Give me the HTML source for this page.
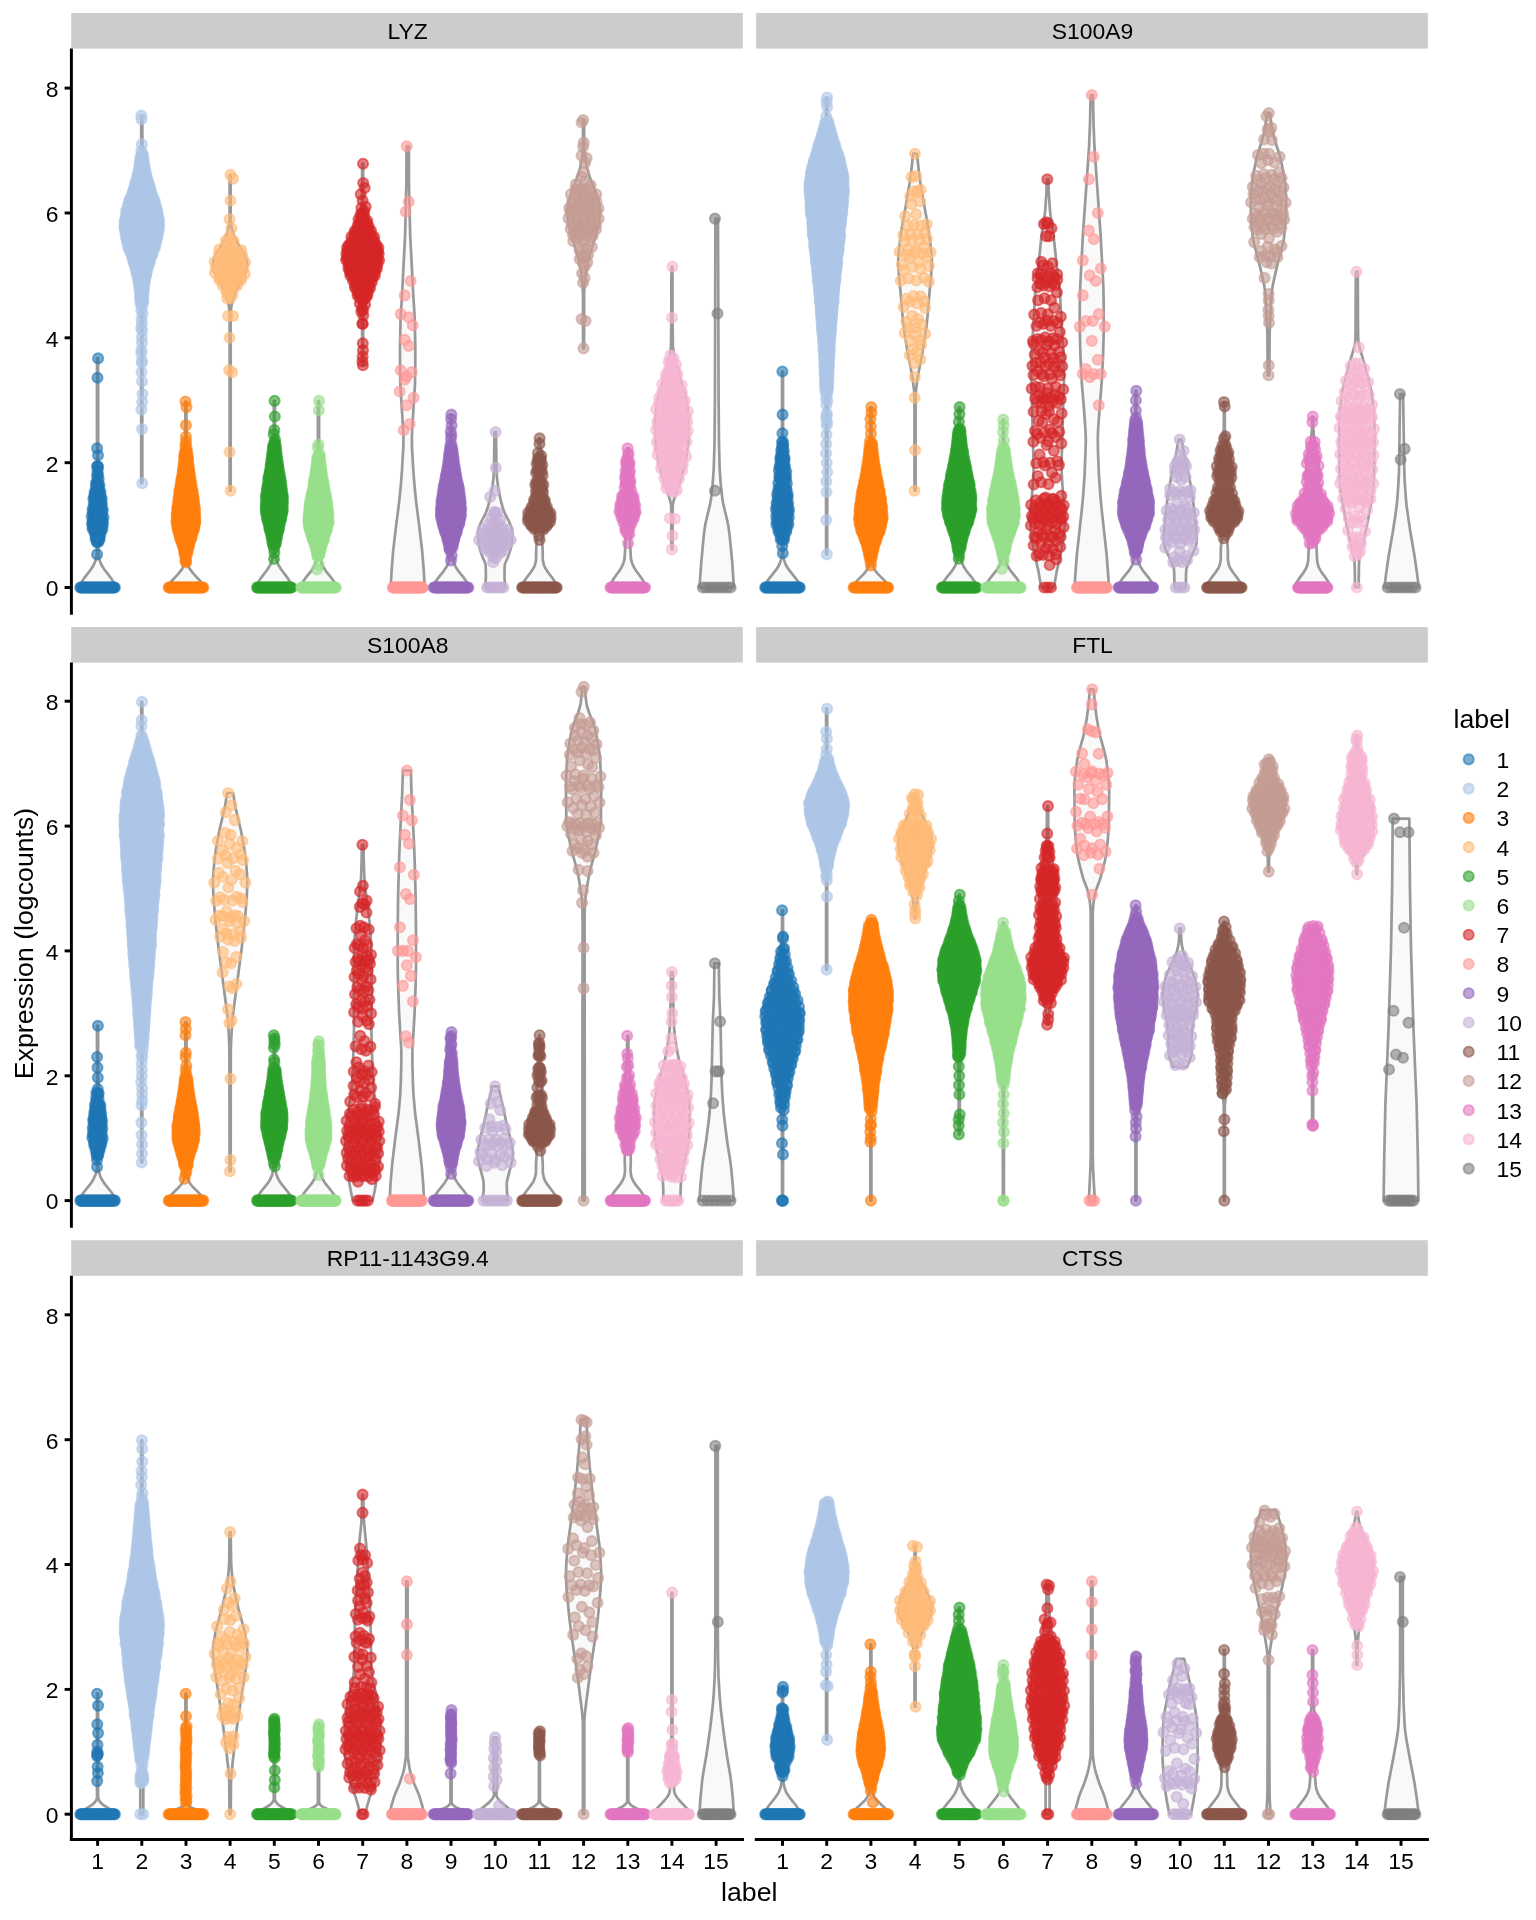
<!DOCTYPE html>
<html lang="en"><head><meta charset="utf-8"><title>Expression (logcounts) by label</title>
<style>
html,body{margin:0;padding:0;background:#fff}
svg{display:block;will-change:transform}
text{font-family:"Liberation Sans",sans-serif;fill:#000}
.t{font-size:22.9px}
.T{font-size:26.7px}
.v{fill:#F9F9F9;stroke:#999;stroke-width:2.7;stroke-linejoin:round}
.a{stroke:#000;stroke-width:2.95;fill:none}
.s{fill:#CCC}
.p{fill:none;stroke:none}
.p1{marker:url(#m1)}
.p2{marker:url(#m2)}
.p3{marker:url(#m3)}
.p4{marker:url(#m4)}
.p5{marker:url(#m5)}
.p6{marker:url(#m6)}
.p7{marker:url(#m7)}
.p8{marker:url(#m8)}
.p9{marker:url(#m9)}
.p10{marker:url(#m10)}
.p11{marker:url(#m11)}
.p12{marker:url(#m12)}
.p13{marker:url(#m13)}
.p14{marker:url(#m14)}
.p15{marker:url(#m15)}
</style></head><body>
<svg width="1536" height="1920" viewBox="0 0 1536 1920">
<defs>
<marker id="m1" markerUnits="userSpaceOnUse" markerWidth="16" markerHeight="16" refX="8" refY="8" overflow="visible"><circle cx="8" cy="8" r="5.1" fill="#1F77B4" fill-opacity=".6" stroke="#1F77B4" stroke-opacity=".6" stroke-width="1.9"/></marker>
<marker id="m2" markerUnits="userSpaceOnUse" markerWidth="16" markerHeight="16" refX="8" refY="8" overflow="visible"><circle cx="8" cy="8" r="5.1" fill="#AEC7E8" fill-opacity=".6" stroke="#AEC7E8" stroke-opacity=".6" stroke-width="1.9"/></marker>
<marker id="m3" markerUnits="userSpaceOnUse" markerWidth="16" markerHeight="16" refX="8" refY="8" overflow="visible"><circle cx="8" cy="8" r="5.1" fill="#FF7F0E" fill-opacity=".6" stroke="#FF7F0E" stroke-opacity=".6" stroke-width="1.9"/></marker>
<marker id="m4" markerUnits="userSpaceOnUse" markerWidth="16" markerHeight="16" refX="8" refY="8" overflow="visible"><circle cx="8" cy="8" r="5.1" fill="#FFBB78" fill-opacity=".6" stroke="#FFBB78" stroke-opacity=".6" stroke-width="1.9"/></marker>
<marker id="m5" markerUnits="userSpaceOnUse" markerWidth="16" markerHeight="16" refX="8" refY="8" overflow="visible"><circle cx="8" cy="8" r="5.1" fill="#2CA02C" fill-opacity=".6" stroke="#2CA02C" stroke-opacity=".6" stroke-width="1.9"/></marker>
<marker id="m6" markerUnits="userSpaceOnUse" markerWidth="16" markerHeight="16" refX="8" refY="8" overflow="visible"><circle cx="8" cy="8" r="5.1" fill="#98DF8A" fill-opacity=".6" stroke="#98DF8A" stroke-opacity=".6" stroke-width="1.9"/></marker>
<marker id="m7" markerUnits="userSpaceOnUse" markerWidth="16" markerHeight="16" refX="8" refY="8" overflow="visible"><circle cx="8" cy="8" r="5.1" fill="#D62728" fill-opacity=".6" stroke="#D62728" stroke-opacity=".6" stroke-width="1.9"/></marker>
<marker id="m8" markerUnits="userSpaceOnUse" markerWidth="16" markerHeight="16" refX="8" refY="8" overflow="visible"><circle cx="8" cy="8" r="5.1" fill="#FF9896" fill-opacity=".6" stroke="#FF9896" stroke-opacity=".6" stroke-width="1.9"/></marker>
<marker id="m9" markerUnits="userSpaceOnUse" markerWidth="16" markerHeight="16" refX="8" refY="8" overflow="visible"><circle cx="8" cy="8" r="5.1" fill="#9467BD" fill-opacity=".6" stroke="#9467BD" stroke-opacity=".6" stroke-width="1.9"/></marker>
<marker id="m10" markerUnits="userSpaceOnUse" markerWidth="16" markerHeight="16" refX="8" refY="8" overflow="visible"><circle cx="8" cy="8" r="5.1" fill="#C5B0D5" fill-opacity=".6" stroke="#C5B0D5" stroke-opacity=".6" stroke-width="1.9"/></marker>
<marker id="m11" markerUnits="userSpaceOnUse" markerWidth="16" markerHeight="16" refX="8" refY="8" overflow="visible"><circle cx="8" cy="8" r="5.1" fill="#8C564B" fill-opacity=".6" stroke="#8C564B" stroke-opacity=".6" stroke-width="1.9"/></marker>
<marker id="m12" markerUnits="userSpaceOnUse" markerWidth="16" markerHeight="16" refX="8" refY="8" overflow="visible"><circle cx="8" cy="8" r="5.1" fill="#C49C94" fill-opacity=".6" stroke="#C49C94" stroke-opacity=".6" stroke-width="1.9"/></marker>
<marker id="m13" markerUnits="userSpaceOnUse" markerWidth="16" markerHeight="16" refX="8" refY="8" overflow="visible"><circle cx="8" cy="8" r="5.1" fill="#E377C2" fill-opacity=".6" stroke="#E377C2" stroke-opacity=".6" stroke-width="1.9"/></marker>
<marker id="m14" markerUnits="userSpaceOnUse" markerWidth="16" markerHeight="16" refX="8" refY="8" overflow="visible"><circle cx="8" cy="8" r="5.1" fill="#F7B6D2" fill-opacity=".6" stroke="#F7B6D2" stroke-opacity=".6" stroke-width="1.9"/></marker>
<marker id="m15" markerUnits="userSpaceOnUse" markerWidth="16" markerHeight="16" refX="8" refY="8" overflow="visible"><circle cx="8" cy="8" r="5.1" fill="#7F7F7F" fill-opacity=".6" stroke="#7F7F7F" stroke-opacity=".6" stroke-width="1.9"/></marker>
</defs>
<rect width="1536" height="1920" fill="#fff"/>
<rect class="s" x="71.2" y="13" width="671.6" height="35.6"/>
<g class="t"><text transform="matrix(1,0,0,1.0,407.7,38.8)" text-anchor="middle">LYZ</text></g>
<rect class="s" x="756.1" y="13" width="671.7" height="35.6"/>
<g class="t"><text transform="matrix(1,0,0,1.0,1092.5,38.8)" text-anchor="middle">S100A9</text></g>
<rect class="s" x="71.2" y="627" width="671.6" height="35.6"/>
<g class="t"><text transform="matrix(1,0,0,1.0,407.7,652.8)" text-anchor="middle">S100A8</text></g>
<rect class="s" x="756.1" y="627" width="671.7" height="35.6"/>
<g class="t"><text transform="matrix(1,0,0,1.0,1092.5,652.8)" text-anchor="middle">FTL</text></g>
<rect class="s" x="71.2" y="1240.2" width="671.6" height="35.6"/>
<g class="t"><text transform="matrix(1,0,0,1.0,407.7,1266)" text-anchor="middle">RP11-1143G9.4</text></g>
<rect class="s" x="756.1" y="1240.2" width="671.7" height="35.6"/>
<g class="t"><text transform="matrix(1,0,0,1.0,1092.5,1266)" text-anchor="middle">CTSS</text></g>
<g class="v">
<path d="M80.3,587.5 80.8,584.5 82.1,581.4 84,578.4 91,569.3 93.8,564.7 95.6,560.2 96.3,557.2 96.7,554.1 96.9,549.6 96.3,543.5 95.4,539 92,526.8 91.5,523.8 91.3,520.7 91.5,514.7 92,508.6 95.6,482.8 96.4,475.2 97,466.1 97,358.4 98.1,358.4 98.2,466.1 98.8,475.2 99.6,482.8 103.2,508.6 103.7,514.7 103.9,520.7 103.7,523.8 103.2,526.8 99.8,539 98.9,543.5 98.3,549.6 98.5,554.1 98.9,557.2 99.6,560.2 101.4,564.7 104.2,569.3 111.2,578.4 113.1,581.4 114.4,584.5 114.9,587.5Z"/>
<path d="M141.2,483.3 141.2,341.6 140.8,314.5 140.1,297.9 139.1,287.4 137.4,276.8 134.6,266.3 128.5,248.2 126.2,240.7 124.7,233.1 124.2,228.6 124.1,225.6 124.2,222.6 124.7,218.1 126.2,210.5 128.5,203 133.2,189.4 135.6,181.9 138,172.9 139.4,165.3 140.6,156.3 141.2,147.2 141.2,115.6 142.3,115.6 142.4,147.2 143,156.3 144.1,165.3 145.6,172.9 147.9,181.9 150.3,189.4 155.1,203 157.4,210.5 158.9,218.1 159.3,222.6 159.4,225.6 159.3,228.6 158.9,233.1 157.3,240.7 155.1,248.2 149,266.3 146.2,276.8 144.4,287.4 143.4,297.9 142.7,314.5 142.3,341.6 142.3,483.3Z"/>
<path d="M168.7,587.5 168.8,586 169.3,584.5 171.2,581.5 178.3,573.9 181.8,569.4 182.6,567.8 183.9,564.8 184.2,563.3 184.6,560.3 184.6,555.7 183.6,549.7 181.9,543.6 177.5,530 176.6,525.5 176.3,521 176.6,513.4 177.4,504.3 178.5,496.8 182.7,471.1 183.8,462 184.6,452.9 185.4,439.3 185.4,401.5 186.5,401.5 186.5,439.3 187.3,452.9 188.1,462 189.3,471.1 193.4,496.8 194.5,504.3 195.4,513.4 195.6,521 195.3,525.5 194.4,530 190,543.6 188.3,549.7 187.4,555.7 187.3,560.3 187.7,563.3 188.1,564.8 189.3,567.8 190.1,569.4 193.6,573.9 200.7,581.5 202.6,584.5 203.1,586 203.3,587.5Z"/>
<path d="M229.6,490.7 229.6,312.4 228.7,304.9 227.7,300.3 226.8,297.3 225.6,294.3 223.6,289.8 216.9,277.7 214.8,273.1 213.5,268.6 213.1,264.1 213.5,261 215.1,256.5 216.6,253.5 222.8,242.9 225.2,238.4 227,233.8 228.6,227.8 229.3,223.3 229.6,220.2 229.6,174.9 230.7,174.9 230.7,220.2 231,223.3 231.7,227.8 233.3,233.8 235.1,238.4 237.5,242.9 243.7,253.5 245.2,256.5 246.7,261 247.1,264.1 246.8,268.6 245.4,273.1 243.3,277.7 236.7,289.8 234.6,294.3 233.5,297.3 232.6,300.3 231.6,304.9 230.7,312.4 230.7,490.7Z"/>
<path d="M257,587.5 257.5,584.5 258.8,581.4 260.7,578.4 267.6,569.3 270.3,564.7 272.1,560.2 272.9,555.6 273.1,549.6 272.3,542 270.8,534.4 267.7,522.3 266.4,516.2 265.5,510.1 265.4,505.6 265.7,498 266.5,490.4 271.1,461.6 272.3,452.5 273,444.9 273.8,432.7 273.8,400.9 274.9,400.9 274.9,432.7 275.6,444.9 276.3,452.5 277.5,461.6 282.2,490.4 282.9,498 283.2,505.6 283.1,510.1 282.3,516.2 280.9,522.3 277.9,534.4 276.4,542 275.6,549.6 275.7,555.6 276.6,560.2 278.3,564.7 281,569.3 287.9,578.4 289.9,581.4 291.2,584.5 291.6,587.5Z"/>
<path d="M301.2,587.5 301.3,586 301.7,584.5 303.1,581.4 305.2,578.4 311.3,570.8 314.1,566.3 315.4,563.2 316.4,558.7 316.4,554.1 315.8,549.6 314.1,543.5 310.8,534.4 309.3,529.8 308.4,525.3 308.1,520.7 308.5,513.1 309.4,505.6 315,475.2 316.3,466.1 317.3,457 317.9,444.9 317.9,400.9 319.1,400.9 319.1,444.9 319.7,457 320.7,466.1 322,475.2 327.6,505.6 328.5,513.1 328.9,520.7 328.6,525.3 327.7,529.8 326.2,534.4 322.9,543.5 321.2,549.6 320.6,554.1 320.6,558.7 321.6,563.2 322.9,566.3 325.7,570.8 331.8,578.4 333.9,581.4 335.3,584.5 335.7,586 335.8,587.5Z"/>
<path d="M362.1,365.3 362.1,325.9 361.6,318.3 360.7,310.7 359.3,303.1 357.3,295.6 354.8,288 349.6,274.3 347.7,268.3 346.6,263.7 346.1,260.7 345.7,254.6 346.1,250.1 347.2,245.5 349.6,239.5 354.6,228.9 357.2,222.8 359.3,216.7 361,209.1 361.8,203.1 362.1,198.5 362.1,163.7 363.2,163.7 363.2,198.5 363.6,203.1 364.4,209.1 366.1,216.7 368.1,222.8 370.7,228.9 375.8,239.5 378.1,245.5 379.3,250.1 379.7,254.6 379.3,260.7 378.8,263.7 377.7,268.3 375.7,274.3 370.6,288 368.1,295.6 366,303.1 364.6,310.7 363.7,318.3 363.2,325.9 363.2,365.3Z"/>
<path d="M390.7,587.5 391.6,570.9 393.1,551.4 396.1,525.7 399,503.2 400.7,486.6 401.9,471.5 403.3,447.4 403.5,438.4 403.2,430.9 400.3,384.2 400,363.1 400,345 400.6,317.9 402.1,293.8 405.1,235.1 406.4,182.3 406.5,146.2 408.9,146.2 408.9,182.3 410.2,235.1 413.2,293.8 414.7,317.9 415.3,345 415.3,363.1 415,384.2 412.1,430.9 411.9,438.4 412,447.4 413.4,471.5 414.6,486.6 416.3,503.2 419.2,525.7 422.2,551.4 423.8,570.9 424.7,587.5Z"/>
<path d="M433.7,587.5 433.9,586 434.2,584.5 435.7,581.4 437.8,578.4 443.9,570.8 446.8,566.3 448.7,561.7 449.5,557.2 449.7,554.1 449.5,551.1 448.7,545 447.2,539 441.9,522.3 440.8,516.2 440.6,511.7 441,504.1 441.9,496.5 447.3,467.7 448.5,460.1 449.4,452.5 450.5,437.3 450.5,414.6 451.6,414.6 451.6,437.3 452.7,452.5 453.6,460.1 454.7,467.7 460.1,496.5 461.1,504.1 461.4,511.7 461.2,516.2 460.1,522.3 454.9,539 453.4,545 452.5,551.1 452.4,554.1 452.6,557.2 453.4,561.7 455.3,566.3 458.2,570.8 464.3,578.4 466.4,581.4 467.8,584.5 468.2,586 468.3,587.5Z"/>
<path d="M485.3,587.5 485.9,576.8 485.8,569.2 485.6,564.6 484.6,561.6 482.5,557 479.9,549.4 479.1,546.4 478.2,538.7 477.9,532.6 478.3,529.6 479.3,526.5 481.9,520.5 485.8,512.8 487.5,508.3 489.6,500.6 492.2,488.5 493.5,477.8 494,470.2 494.4,432.1 496,432.1 496.5,470.2 497,477.8 498.3,488.5 500.8,500.6 502.9,508.3 504.6,512.8 508.6,520.5 511.1,526.5 512.1,529.6 512.5,532.6 512.2,538.7 511.3,546.4 510.5,549.4 508,557 505.9,561.6 504.8,564.6 504.6,569.2 504.5,576.8 505.1,587.5Z"/>
<path d="M522.1,587.5 522.2,586 522.6,584.5 524,581.4 526.1,578.4 530.8,572.3 533.7,567.7 535,564.7 536,560.1 536.2,549.4 536.8,540.3 536.6,537.3 536.4,535.7 535.4,532.7 534.6,531.2 532.5,528.1 528.9,523.6 527.9,522 527.3,520.5 526.9,519 526.9,517.5 527.1,516 528,512.9 533.1,502.3 534,499.2 534.7,496.2 535.1,491.6 535.2,479.4 535.5,473.3 538,449 538.8,438.3 540,438.3 540.8,449 543.3,473.3 543.6,479.4 543.7,491.6 544.1,496.2 544.8,499.2 545.7,502.3 550.8,512.9 551.7,516 551.9,517.5 551.9,519 551.5,520.5 550.9,522 549.9,523.6 546.3,528.1 544.2,531.2 543.4,532.7 542.4,535.7 542.2,537.3 542,540.3 542.6,549.4 542.8,560.1 543.8,564.7 545.1,567.7 548,572.3 552.7,578.4 554.8,581.4 556.2,584.5 556.6,586 556.7,587.5Z"/>
<path d="M583,348.4 583,294 582.6,286.4 582,278.8 580.4,268.2 578.5,259.2 576.4,251.6 570.8,233.4 568.9,225.9 567.7,218.3 567.3,212.3 567.7,206.2 569,200.2 570.9,194.1 576.1,180.5 578.2,174.4 580,168.4 581.5,160.8 582.4,154.8 583,147.2 583,120 584.1,120 584.2,147.2 584.8,154.8 585.6,160.8 587.2,168.4 588.9,174.4 591,180.5 596.3,194.1 598.2,200.2 599.5,206.2 599.9,212.3 599.5,218.3 598.3,225.9 596.4,233.4 590.8,251.6 588.7,259.2 586.7,268.2 585.2,278.8 584.5,286.4 584.1,294 584.1,348.4Z"/>
<path d="M610.5,587.5 610.9,584.4 612.1,581.4 613.9,578.3 619.4,570.7 621.4,567.6 623.5,563 624.6,558.4 625.6,540.1 625.5,534 625,530.9 624.2,527.8 621.1,518.7 619.8,514.1 619.3,511 619.1,508 619.7,503.4 622.7,492.7 624,486.5 624.5,482 625.3,468.2 627.1,448.3 628.4,448.3 630.3,468.2 631,482 631.5,486.5 632.8,492.7 635.8,503.4 636.4,508 636.2,511 635.7,514.1 634.4,518.7 631.3,527.8 630.5,530.9 630.1,534 629.9,540.1 630.9,558.4 632,563 634.1,567.6 636.1,570.7 641.6,578.3 643.4,581.4 644.6,584.4 645.1,587.5Z"/>
<path d="M671.4,549.4 671.3,519.2 671.2,507.1 671,504.1 669.9,499.5 662.4,476.8 659.5,466.3 657.8,458.7 656.2,448.1 655.6,442.1 655.4,437.5 655.3,419.4 655.8,411.8 657,402.8 657.6,399.7 668.3,361.9 670.1,352.9 671,346.8 671.3,316.6 671.4,266.7 672.5,266.7 672.5,316.6 672.9,346.8 673.8,352.9 675.6,361.9 686.3,399.7 686.8,402.8 688.1,411.8 688.5,419.4 688.4,437.5 688.3,442.1 687.6,448.1 686.1,458.7 684.4,466.3 681.5,476.8 674,499.5 672.9,504.1 672.7,507.1 672.6,519.2 672.5,549.4Z"/>
<path d="M699.5,587.5 701.3,561.8 703.7,536.1 704.9,527 705.7,522.5 709.7,505.9 710.9,499.8 712.6,484.7 713.7,469.6 714.5,443.9 714.9,401.5 715.4,218.6 718,218.6 718.6,401.5 719,443.9 719.7,469.6 720.8,484.7 722.5,499.8 723.7,505.9 727.7,522.5 728.5,527 729.7,536.1 732.2,561.8 733.9,587.5Z"/>
<path d="M765.2,587.5 765.3,586 765.7,584.5 767.1,581.4 769.3,578.4 776.6,569.2 779.2,564.7 780.9,560.1 781.5,557.1 781.8,554 781.8,549.5 781.2,543.4 779.9,537.3 776.4,525.1 775.6,520.6 775.5,517.5 775.7,509.9 776.2,502.3 778.6,471.9 781.1,447.6 781.9,436.9 782,371.5 783,371.5 783.1,436.9 783.9,447.6 786.4,471.9 788.8,502.3 789.3,509.9 789.5,517.5 789.4,520.6 788.6,525.1 785.1,537.3 783.8,543.4 783.2,549.5 783.2,554 783.5,557.1 784.1,560.1 785.8,564.7 788.4,569.2 795.7,578.4 797.9,581.4 799.3,584.5 799.7,586 799.8,587.5Z"/>
<path d="M826.1,554.4 826,421.7 825.7,400.6 824.2,362.9 823.1,343.3 820.1,305.6 818.4,287.5 811,216.6 809.4,195.5 809,185 809.3,180.4 809.9,175.9 812.8,162.3 814.2,157.8 817.9,147.3 824,127.7 824.7,124.6 825.7,118.6 826.1,114.1 826.1,97.5 827.2,97.5 827.2,114.1 827.7,118.6 828.6,124.6 829.4,127.7 835.4,147.3 839.2,157.8 840.5,162.3 843.5,175.9 844.1,180.4 844.4,185 844,195.5 842.4,216.6 835,287.5 833.3,305.6 830.3,343.3 829.1,362.9 827.7,400.6 827.4,421.7 827.2,554.4Z"/>
<path d="M853.5,587.5 853.7,586 854.3,584.5 855.2,583 857.8,579.9 863.9,573.9 866.3,570.8 867.3,569.3 868.6,566.3 869,564.8 869.4,561.7 869.3,557.2 868.3,551.1 866.1,543.5 861.5,531.4 860.1,526.9 859.2,522.3 858.9,517.8 859.2,510.2 860.3,501.1 861.6,493.5 866.8,467.7 868.2,458.6 869.1,451.1 869.8,442 870.3,432.9 870.3,407.1 871.4,407.1 871.4,432.9 871.9,442 872.6,451.1 873.5,458.6 874.9,467.7 880.1,493.5 881.4,501.1 882.5,510.2 882.8,517.8 882.5,522.3 881.6,526.9 880.2,531.4 875.7,543.5 873.4,551.1 872.4,557.2 872.3,561.7 872.7,564.8 873.1,566.3 874.4,569.3 875.4,570.8 877.8,573.9 883.9,579.9 886.5,583 887.4,584.5 888,586 888.2,587.5Z"/>
<path d="M914.5,490.7 914.5,416.7 914.3,392.5 912.5,377.4 907.8,353.2 905.1,336.6 903.6,326 902.5,315.4 900.6,292.7 898.9,274.6 898.2,262.5 898.3,258 898.7,251.9 901,233.8 902.1,226.2 905.4,208.1 909.7,182.4 911.5,168.8 913,153.7 917,153.7 918.6,168.8 920.3,182.4 924.7,208.1 928,226.2 929.1,233.8 931.3,251.9 931.8,258 931.8,262.5 931.2,274.6 929.5,292.7 927.6,315.4 926.5,326 925,336.6 922.3,353.2 917.6,377.4 915.8,392.5 915.6,416.7 915.6,490.7Z"/>
<path d="M941.9,587.5 942,586 942.4,584.5 943.8,581.4 945.9,578.4 952,570.8 955,566.3 956.8,561.7 957.7,557.2 957.9,554.1 957.8,551.1 957.5,548.1 956.7,543.5 954.7,536 949.4,520.8 948,516.3 946.8,510.2 946.6,505.6 947,498.1 948.1,489 949.5,481.4 954.4,458.6 955.8,451.1 956.9,443.5 957.8,434.4 958.5,423.8 958.7,407.1 959.8,407.1 959.9,423.8 960.6,434.4 961.6,443.5 962.7,451.1 964,458.6 968.9,481.4 970.3,489 971.5,498.1 971.8,505.6 971.6,510.2 970.4,516.3 969.1,520.8 963.7,536 961.7,543.5 961,548.1 960.7,551.1 960.6,554.1 960.7,557.2 961.6,561.7 963.5,566.3 966.4,570.8 972.5,578.4 974.6,581.4 976,584.5 976.4,586 976.5,587.5Z"/>
<path d="M986.1,587.5 986.2,586 986.6,584.4 988,581.4 990.1,578.3 996.3,570.7 999.1,566.1 1000.4,563.1 1001.4,558.5 1001.6,553.9 1000.7,547.8 998.6,540.2 994.7,529.5 993.2,524.9 992.4,521.9 991.9,518.8 991.6,514.2 992.1,506.6 993.1,499 994.6,491.3 999.3,470 1000.6,462.3 1001.4,456.2 1002.3,447.1 1002.8,437.9 1002.9,419.6 1003.9,419.6 1004,437.9 1004.5,447.1 1005.4,456.2 1006.2,462.3 1007.5,470 1012.2,491.3 1013.7,499 1014.7,506.6 1015.2,514.2 1014.9,518.8 1014.4,521.9 1013.6,524.9 1012.1,529.5 1008.2,540.2 1006.1,547.8 1005.2,553.9 1005.4,558.5 1006.4,563.1 1007.7,566.1 1010.5,570.7 1016.7,578.3 1018.8,581.4 1020.2,584.4 1020.6,586 1020.7,587.5Z"/>
<path d="M1041.2,587.5 1038.4,570.9 1035.3,557.4 1032.2,542.3 1030.9,531.8 1030.2,522.7 1030.1,518.2 1030.3,512.2 1031.8,497.1 1032.9,483.6 1033.6,470 1033.4,458 1031.3,382.6 1031.1,364.6 1031.5,352.5 1033.4,325.4 1035.2,292.3 1036.2,283.2 1038.5,265.1 1041.6,235 1044.6,215.4 1045.3,209.4 1046.4,192.8 1046.8,179.3 1048.4,179.3 1048.8,192.8 1049.9,209.4 1050.6,215.4 1053.5,235 1056.7,265.1 1059,283.2 1059.9,292.3 1061.7,325.4 1063.6,352.5 1064.1,364.6 1063.9,382.6 1061.7,458 1061.6,470 1062.3,483.6 1063.3,497.1 1064.9,512.2 1065.1,518.2 1065,522.7 1064.2,531.8 1062.9,542.3 1059.9,557.4 1056.8,570.9 1054,587.5Z"/>
<path d="M1074.6,587.5 1075.5,572.4 1076.9,554.4 1081.7,510.7 1083,497.1 1084.5,476 1085.5,452 1085.8,439.9 1085.5,430.9 1083.8,406.8 1081.9,384.2 1080.5,357.1 1079.7,328.5 1079.8,302.8 1080.3,284.8 1082.9,235.1 1089,147.7 1090,123.6 1090.6,95 1093,95 1093.5,123.6 1094.5,147.7 1100.6,235.1 1103.3,284.8 1103.7,302.8 1103.8,328.5 1103,357.1 1101.6,384.2 1099.7,406.8 1098,430.9 1097.8,439.9 1098,452 1099,476 1100.5,497.1 1101.8,510.7 1106.6,554.4 1108,572.4 1109,587.5Z"/>
<path d="M1118.6,587.5 1118.8,586 1119.1,584.5 1120.5,581.5 1122.6,578.4 1128.7,570.9 1131.7,566.3 1133.5,561.8 1134.4,557.3 1134.5,554.2 1134.4,551.2 1134,548.2 1133,543.6 1130.5,536.1 1125.4,524 1123.8,519.4 1122.7,514.9 1122.3,510.4 1122.6,504.3 1123.6,496.8 1124.8,490.7 1129.6,469.5 1130.9,462 1132.1,452.9 1134.5,425.7 1135.4,413.6 1135.4,390.9 1136.5,390.9 1136.5,413.6 1137.4,425.7 1139.8,452.9 1141,462 1142.3,469.5 1147.1,490.7 1148.3,496.8 1149.3,504.3 1149.5,510.4 1149.2,514.9 1148.1,519.4 1146.5,524 1141.4,536.1 1138.9,543.6 1137.9,548.2 1137.5,551.2 1137.3,554.2 1137.5,557.3 1138.3,561.8 1140.2,566.3 1143.1,570.9 1149.2,578.4 1151.3,581.5 1152.7,584.5 1153.1,586 1153.2,587.5Z"/>
<path d="M1174.4,587.5 1174.3,575.3 1174,569.2 1173,566.1 1169.2,557 1165.6,549.4 1164.5,546.3 1163.8,543.3 1163.7,538.7 1164.1,531.1 1165.5,514.3 1168.1,494.5 1171,477.7 1173.1,467 1175.9,454.8 1178.6,439.6 1181.6,439.6 1184.3,454.8 1187.1,467 1189.3,477.7 1192.2,494.5 1194.7,514.3 1196.2,531.1 1196.6,538.7 1196.5,543.3 1195.8,546.3 1194.6,549.4 1191.1,557 1187.2,566.1 1186.3,569.2 1186,575.3 1185.8,587.5Z"/>
<path d="M1207,587.5 1207.1,586 1207.5,584.5 1208.9,581.4 1211,578.4 1215.7,572.3 1218.6,567.7 1219.8,564.7 1220.7,560.1 1220.8,549.5 1221.5,538.9 1221.2,535.8 1220.9,534.3 1220.4,532.8 1218.9,529.8 1216.8,526.7 1213.3,522.2 1211.2,519.1 1210,516.1 1209.7,513 1209.8,511.5 1210.5,508.5 1214.8,497.8 1215.7,494.8 1216.3,491.8 1216.7,485.7 1216.4,472 1216.8,465.9 1217.9,459.9 1221.9,443.1 1222.9,437.1 1223.6,431 1223.8,427.9 1223.8,402.1 1224.8,402.1 1224.8,427.9 1225,431 1225.7,437.1 1226.7,443.1 1230.7,459.9 1231.8,465.9 1232.2,472 1231.9,485.7 1232.3,491.8 1232.9,494.8 1233.8,497.8 1238.1,508.5 1238.8,511.5 1238.9,513 1238.6,516.1 1237.4,519.1 1235.3,522.2 1231.8,526.7 1229.7,529.8 1228.2,532.8 1227.7,534.3 1227.4,535.8 1227.1,538.9 1227.8,549.5 1227.9,560.1 1228.8,564.7 1230,567.7 1232.9,572.3 1237.6,578.4 1239.7,581.4 1241.1,584.5 1241.5,586 1241.6,587.5Z"/>
<path d="M1267.7,375.3 1267.4,334.4 1266.1,305.6 1265.3,293.4 1264.3,285.9 1262.7,278.3 1258.8,261.6 1254.3,244.9 1253,238.9 1251.4,222.2 1251,214.6 1250.8,207.1 1250.9,199.5 1251.3,188.9 1252,182.8 1253.1,175.2 1256.4,158.6 1257.7,154 1262.1,140.4 1263.7,134.3 1265.6,123.7 1267,113.1 1270,113.1 1271.3,123.7 1273.2,134.3 1274.8,140.4 1279.3,154 1280.6,158.6 1283.9,175.2 1285,182.8 1285.6,188.9 1286.1,199.5 1286.2,207.1 1286,214.6 1285.5,222.2 1283.9,238.9 1282.7,244.9 1278.1,261.6 1274.3,278.3 1272.7,285.9 1271.6,293.4 1270.8,305.6 1269.6,334.4 1269.3,375.3Z"/>
<path d="M1295.3,587.5 1295.8,584.5 1297.2,581.4 1299.2,578.4 1303.7,572.4 1306.3,567.8 1307.4,564.8 1308.2,560.3 1309,543.6 1308.8,540.6 1308.1,537.6 1306.9,534.5 1305.1,531.5 1298.3,522.4 1296.5,519.4 1295.4,516.4 1295.2,513.3 1295.4,511.8 1296.3,508.8 1297.6,505.8 1301.9,498.2 1303.4,495.2 1304.5,492.1 1305.7,487.6 1306.3,481.6 1306.3,469.4 1306.6,463.4 1307.5,457.3 1310.4,442.2 1311.5,434.6 1312.1,427.1 1312.1,416.5 1313.2,416.5 1313.2,427.1 1313.8,434.6 1314.9,442.2 1317.9,457.3 1318.7,463.4 1319,469.4 1319,481.6 1319.6,487.6 1320.8,492.1 1322,495.2 1323.5,498.2 1327.7,505.8 1329.1,508.8 1329.9,511.8 1330.1,513.3 1329.9,516.4 1328.8,519.4 1327,522.4 1320.2,531.5 1318.5,534.5 1317.2,537.6 1316.5,540.6 1316.3,543.6 1317.1,560.3 1317.9,564.8 1319,567.8 1321.6,572.4 1326.1,578.4 1328.1,581.4 1329.5,584.5 1330,587.5Z"/>
<path d="M1355,587.5 1354.8,569.4 1354.5,561.8 1354.3,558.8 1353.4,554.3 1350.3,542.2 1345.9,521 1341.5,496.8 1340.2,487.8 1339.8,480.2 1339.4,463.6 1339.3,424.3 1339.6,416.7 1340.2,409.2 1341.7,395.6 1342.4,391 1344.1,383.5 1349.3,363.8 1353.8,348.7 1354.8,344.2 1355.3,341.2 1355.5,338.1 1355.6,326.1 1355.8,271.7 1357.8,271.7 1358,326.1 1358.2,338.1 1358.4,341.2 1358.9,344.2 1359.9,348.7 1364.4,363.8 1369.6,383.5 1371.3,391 1372,395.6 1373.5,409.2 1374.1,416.7 1374.3,424.3 1374.3,463.6 1373.8,480.2 1373.4,487.8 1372.2,496.8 1367.8,521 1363.4,542.2 1360.3,554.3 1359.4,558.8 1359.1,561.8 1358.9,569.4 1358.6,587.5Z"/>
<path d="M1384.4,587.5 1386.3,572.4 1388.7,555.8 1392.9,531.6 1395.2,516.4 1396.6,505.9 1397.4,498.3 1398.4,483.2 1399,471.1 1400.1,394 1403.1,394 1404.3,471.1 1404.8,483.2 1405.9,498.3 1406.6,505.9 1408.1,516.4 1410.3,531.6 1414.5,555.8 1416.9,572.4 1418.8,587.5Z"/>
<path d="M80.3,1200.6 80.4,1199.1 80.8,1197.6 82.2,1194.5 84.4,1191.5 90.5,1183.9 93.5,1179.3 95.5,1174.8 96.3,1171.7 96.8,1168.7 97,1164.1 96.6,1158 95.5,1152 92.5,1139.8 92.1,1136.8 92,1133.7 92.6,1123.1 95.8,1097.3 97,1082.1 97,1025.8 98.1,1025.8 98.2,1082.1 99.4,1097.3 102.6,1123.1 103.2,1133.7 103.1,1136.8 102.7,1139.8 99.7,1152 98.6,1158 98.2,1164.1 98.4,1168.7 98.9,1171.7 99.7,1174.8 101.7,1179.3 104.7,1183.9 110.8,1191.5 113,1194.5 114.4,1197.6 114.8,1199.1 114.9,1200.6Z"/>
<path d="M141.2,1162.5 141.2,1064.7 140.6,1049.6 137,996.9 134,965.3 130.1,909.6 125.8,858.4 124.5,834.3 124.1,819.3 124.3,813.3 124.9,805.7 126.6,793.7 128.1,784.7 130.7,774.1 135,759.1 138.7,747 140.9,738 141.2,733.5 141.2,701.9 142.3,701.9 142.3,733.5 142.6,738 144.8,747 148.6,759.1 152.9,774.1 155.4,784.7 157,793.7 158.6,805.7 159.3,813.3 159.5,819.3 159.1,834.3 157.8,858.4 153.4,909.6 149.6,965.3 146.6,996.9 142.9,1049.6 142.3,1064.7 142.3,1162.5Z"/>
<path d="M168.7,1200.6 168.9,1199.1 169.4,1197.6 170.3,1196.1 173,1193 179.1,1187 181.5,1184 182.5,1182.4 183.9,1179.4 184.3,1177.9 184.8,1174.9 184.9,1170.3 184.1,1164.3 182.6,1158.2 178.1,1143.1 177.2,1138.6 176.9,1134 177.2,1128 178,1120.4 183.1,1091.7 184.1,1084.1 185,1075 185.4,1067.5 185.4,1022.1 186.5,1022.1 186.5,1067.5 186.9,1075 187.8,1084.1 188.8,1091.7 193.9,1120.4 194.8,1128 195,1134 194.7,1138.6 193.9,1143.1 189.3,1158.2 187.9,1164.3 187.1,1170.3 187.1,1174.9 187.6,1177.9 188,1179.4 189.4,1182.4 190.4,1184 192.9,1187 199,1193 201.6,1196.1 202.5,1197.6 203.1,1199.1 203.3,1200.6Z"/>
<path d="M229.6,1171.3 229.4,1052.2 229.2,1043.2 228.7,1032.6 228.1,1022.1 227.3,1014.5 218.4,946.7 215.8,924.1 214.7,912.1 213.6,898.5 212.9,884.9 213.1,877.4 213.6,869.9 214.6,859.3 215.8,850.3 219.3,830.7 225,806.6 227.1,793 233.1,793 235.3,806.6 241,830.7 244.5,850.3 245.7,859.3 246.7,869.9 247.2,877.4 247.3,884.9 246.7,898.5 245.6,912.1 244.4,924.1 241.9,946.7 233,1014.5 232.2,1022.1 231.6,1032.6 231,1043.2 230.8,1052.2 230.7,1171.3Z"/>
<path d="M257,1200.6 257.1,1199.1 257.5,1197.6 258.9,1194.5 261.1,1191.5 267.2,1183.9 270.2,1179.4 272.1,1174.8 272.8,1171.8 273.2,1168.7 273.3,1162.7 272.6,1156.6 271.1,1149 266.8,1132.3 265.9,1126.2 265.7,1121.7 266,1115.6 266.7,1109.5 271.2,1085.3 272.3,1077.7 273,1071.6 273.8,1061 273.8,1035.2 274.9,1035.2 274.9,1061 275.6,1071.6 276.3,1077.7 277.4,1085.3 281.9,1109.5 282.6,1115.6 282.9,1121.7 282.8,1126.2 281.8,1132.3 277.5,1149 276,1156.6 275.4,1162.7 275.4,1168.7 275.8,1171.8 276.5,1174.8 278.5,1179.4 281.4,1183.9 287.6,1191.5 289.7,1194.5 291.1,1197.6 291.5,1199.1 291.6,1200.6Z"/>
<path d="M301.2,1200.6 301.3,1199.1 301.7,1197.6 303.1,1194.5 305.2,1191.5 311.3,1183.9 314.2,1179.4 316.1,1174.8 316.9,1170.3 316.8,1165.7 316.2,1161.2 315.2,1156.6 311.2,1143 310.4,1138.4 310.1,1133.9 310.3,1127.8 310.9,1121.8 314.8,1097.5 316.1,1085.4 316.7,1076.3 317.9,1041.4 319.1,1041.4 320.3,1076.3 320.9,1085.4 322.2,1097.5 326.1,1121.8 326.7,1127.8 326.9,1133.9 326.6,1138.4 325.8,1143 321.8,1156.6 320.8,1161.2 320.2,1165.7 320.1,1170.3 320.9,1174.8 322.8,1179.4 325.7,1183.9 331.8,1191.5 333.9,1194.5 335.3,1197.6 335.7,1199.1 335.8,1200.6Z"/>
<path d="M352.7,1200.6 350.6,1190 348.5,1178 345.7,1158.4 345.2,1150.8 345.2,1131.3 345.7,1125.2 348,1113.2 351,1093.6 351.8,1087.5 352.3,1081.5 353,1066.4 354,1028.7 353.8,997.1 353.8,963.9 354.2,945.8 354.8,933.8 355.6,924.7 358,903.6 360.3,887 360.9,881 361.6,862.9 361.9,844.8 363.5,844.8 363.8,862.9 364.5,881 365.1,887 367.4,903.6 369.8,924.7 370.6,933.8 371.1,945.8 371.6,963.9 371.6,997.1 371.3,1028.7 372.4,1066.4 373.1,1081.5 373.5,1087.5 374.3,1093.6 377.4,1113.2 379.6,1125.2 380.2,1131.3 380.2,1150.8 379.7,1158.4 376.9,1178 374.8,1190 372.7,1200.6Z"/>
<path d="M389.7,1200.6 390.5,1184 392,1165.9 395.2,1138.7 398.6,1113.1 400.2,1095 400.8,1082.9 401.3,1063.3 401.3,1049.7 399.2,1015 398,983.3 397.7,968.2 397.7,930.5 398.1,895.8 399,861.1 399.9,838.4 402.2,793.2 402.9,770.5 410.9,770.5 411.5,793.2 413.8,838.4 414.7,861.1 415.6,895.8 416,930.5 416,968.2 415.7,983.3 414.5,1015 412.4,1049.7 412.4,1063.3 412.9,1082.9 413.5,1095 415.1,1113.1 418.5,1138.7 421.7,1165.9 423.2,1184 424.1,1200.6Z"/>
<path d="M433.7,1200.6 433.9,1199.1 434.2,1197.6 435.7,1194.5 437.8,1191.5 443.9,1183.9 446.8,1179.3 448.7,1174.8 449.6,1170.2 449.7,1167.2 449.6,1164.2 448.8,1158.1 447.4,1152 442.6,1135.3 441.5,1129.2 441.3,1124.7 441.7,1118.6 442.4,1112.5 447,1088.2 448.7,1076.1 449.3,1068.5 449.9,1057.9 450.5,1039.7 450.5,1032.1 451.6,1032.1 451.6,1039.7 452.2,1057.9 452.8,1068.5 453.4,1076.1 455,1088.2 459.7,1112.5 460.4,1118.6 460.7,1124.7 460.6,1129.2 459.5,1135.3 454.6,1152 453.3,1158.1 452.5,1164.2 452.4,1167.2 452.5,1170.2 453.4,1174.8 455.3,1179.3 458.2,1183.9 464.3,1191.5 466.4,1194.5 467.8,1197.6 468.2,1199.1 468.3,1200.6Z"/>
<path d="M481.9,1200.6 482.7,1197.6 483.4,1193 483.7,1188.4 483.6,1182.3 483.1,1179.3 478.3,1161 477.6,1156.4 477.6,1151.9 478.3,1147.3 480.6,1136.6 483.4,1126 487,1109.2 492.2,1086.4 498.2,1086.4 503.5,1109.2 507.1,1126 509.9,1136.6 512.2,1147.3 512.8,1151.9 512.8,1156.4 512.1,1161 507.4,1179.3 506.8,1182.3 506.8,1188.4 507.1,1193 507.7,1197.6 508.5,1200.6Z"/>
<path d="M522.1,1200.6 522.2,1199.1 522.6,1197.6 524,1194.5 526.1,1191.5 530.8,1185.4 533.7,1180.9 534.9,1177.8 535.9,1173.3 536.1,1162.7 536.7,1153.6 536.4,1149 535.5,1146 534.8,1144.5 528.8,1135.3 528.1,1133.8 527.7,1132.3 527.6,1130.8 527.7,1129.3 528.4,1126.2 529.6,1123.2 534,1114.1 535,1111.1 535.9,1106.5 536.4,1100.4 536.7,1080.7 538.8,1045.8 538.9,1035.2 539.9,1035.2 540,1045.8 542.1,1080.7 542.4,1100.4 542.9,1106.5 543.8,1111.1 544.8,1114.1 549.2,1123.2 550.4,1126.2 551.1,1129.3 551.2,1130.8 551.1,1132.3 550.7,1133.8 550,1135.3 544,1144.5 543.3,1146 542.4,1149 542.1,1153.6 542.7,1162.7 542.9,1173.3 543.9,1177.8 545.1,1180.9 548,1185.4 552.7,1191.5 554.8,1194.5 556.2,1197.6 556.6,1199.1 556.7,1200.6Z"/>
<path d="M582.4,1200.6 582.6,920.4 582.3,905.3 581.9,899.3 581.2,893.3 578.2,875.2 576.8,869.2 571.8,851.1 568.2,834.5 566.9,827 566.3,819.5 566,790.8 566.2,777.3 566.9,762.2 567.4,756.2 568.3,748.6 570.2,738.1 572.2,729.1 574.1,723 578.2,712.5 580,706.5 580.6,703.5 581.5,695.9 582.1,686.9 585.1,686.9 585.6,695.9 586.5,703.5 587.1,706.5 589,712.5 593,723 595,729.1 597,738.1 598.8,748.6 599.8,756.2 600.2,762.2 600.9,777.3 601.2,790.8 600.9,819.5 600.2,827 598.9,834.5 595.3,851.1 590.4,869.2 589,875.2 586,893.3 585.3,899.3 584.8,905.3 584.6,920.4 584.8,1200.6Z"/>
<path d="M610.5,1200.6 610.6,1199.1 611,1197.5 612.4,1194.5 614.5,1191.4 620.5,1183.8 622.4,1180.8 623.8,1177.7 624.3,1176.2 624.8,1173.1 625,1170.1 624.7,1160.9 624.9,1151.8 624.7,1147.2 623.5,1141.1 620,1128.9 619.3,1124.3 619.1,1121.3 619.3,1118.2 619.8,1113.6 623.2,1095.3 624.8,1083.1 626.4,1063.3 627.1,1052.6 627.2,1035.8 628.3,1035.8 628.4,1052.6 629.1,1063.3 630.8,1083.1 632.3,1095.3 635.8,1113.6 636.3,1118.2 636.4,1121.3 636.3,1124.3 635.5,1128.9 632,1141.1 630.8,1147.2 630.6,1151.8 630.8,1160.9 630.5,1170.1 630.7,1173.1 631.3,1176.2 631.7,1177.7 633.1,1180.8 635,1183.8 641,1191.4 643.1,1194.5 644.6,1197.5 644.9,1199.1 645.1,1200.6Z"/>
<path d="M663.4,1200.6 663.2,1187 662.6,1177.9 660.6,1165.8 656.5,1147.6 655.4,1140.1 654.7,1131 654.3,1123.4 654.4,1106.8 654.9,1100.7 656.2,1093.2 659.6,1078.1 664,1062.9 665.6,1056.9 667.5,1046.3 669,1035.7 669.9,1026.6 670.2,1017.5 670.8,994.8 670.9,972.1 672.9,972.1 673.1,994.8 673.7,1017.5 674,1026.6 674.8,1035.7 676.4,1046.3 678.3,1056.9 679.9,1062.9 684.3,1078.1 687.6,1093.2 688.9,1100.7 689.4,1106.8 689.6,1123.4 689.2,1131 688.4,1140.1 687.3,1147.6 683.3,1165.8 681.3,1177.9 680.7,1187 680.4,1200.6Z"/>
<path d="M699.4,1200.6 700.4,1185.5 702,1168.9 702.9,1161.3 706,1141.7 708.4,1123.5 709.7,1111.5 710.9,1094.8 711.6,1078.2 712.8,1022.3 714,996.6 714.4,963.4 718.8,963.4 719.3,996.6 720.5,1022.3 721.6,1078.2 722.3,1094.8 723.6,1111.5 724.9,1123.5 727.2,1141.7 730.3,1161.3 731.3,1168.9 732.8,1185.5 733.8,1200.6Z"/>
<path d="M782,1200.6 781.9,1126.5 781.4,1115.9 780.7,1106.9 779.2,1094.8 777.1,1082.7 774.7,1072.1 768.9,1049.4 766.6,1038.8 765.3,1029.8 764.9,1020.7 764.9,1017.7 765.3,1013.1 766.7,1005.6 768.8,998 774.4,981.4 776.6,973.8 778.5,966.3 780,958.7 781.1,949.7 781.9,939.1 782,910.3 783,910.3 783.1,939.1 783.9,949.7 785,958.7 786.5,966.3 788.4,973.8 790.6,981.4 796.2,998 798.3,1005.6 799.7,1013.1 800.1,1017.7 800.1,1020.7 799.7,1029.8 798.4,1038.8 796.1,1049.4 790.3,1072.1 787.9,1082.7 785.8,1094.8 784.3,1106.9 783.6,1115.9 783.1,1126.5 783,1200.6Z"/>
<path d="M826.1,969.6 826.1,877.1 825.4,868 824.1,858.9 821.8,849.8 819.2,842.2 813.7,828.6 811.4,822.5 809.7,816.4 809,811.9 809,802.8 810.2,798.2 812.7,792.2 818.8,780 821.4,774 823.5,767.9 825.1,760.3 826.1,751.2 826.1,708.7 827.2,708.7 827.2,751.2 828.2,760.3 829.9,767.9 831.9,774 834.6,780 840.7,792.2 843.1,798.2 844.3,802.8 844.4,811.9 843.7,816.4 842,822.5 839.7,828.6 834.1,842.2 831.5,849.8 829.3,858.9 827.9,868 827.2,877.1 827.2,969.6Z"/>
<path d="M870.3,1200.6 870.3,1125.1 869.7,1111.5 868.9,1099.4 867.3,1084.3 865.2,1070.7 862.9,1058.6 857.1,1031.5 855.2,1020.9 853.7,1008.8 853.2,998.2 853.5,990.7 854.1,986.2 854.9,981.6 857.2,972.6 863.2,952.9 865.6,943.9 868,931.8 869.5,919.7 872.2,919.7 873.7,931.8 876.2,943.9 878.6,952.9 884.5,972.6 886.8,981.6 887.6,986.2 888.2,990.7 888.5,998.2 888,1008.8 886.5,1020.9 884.6,1031.5 878.8,1058.6 876.5,1070.7 874.4,1084.3 872.8,1099.4 872,1111.5 871.4,1125.1 871.4,1200.6Z"/>
<path d="M914.5,918.5 914.3,912.3 913.6,904.7 912.8,898.5 911.7,892.4 910.6,887.8 908.8,881.7 902.5,863.3 900.6,857.1 899,849.5 898.5,843.3 898.7,838.7 899.7,834.1 902,828 907.8,815.7 910.3,809.6 912.6,801.9 913.9,794.2 916.1,794.2 917.5,801.9 919.7,809.6 922.2,815.7 928.1,828 930.4,834.1 931.4,838.7 931.6,843.3 931.1,849.5 929.5,857.1 927.6,863.3 921.3,881.7 919.5,887.8 918.4,892.4 917.3,898.5 916.5,904.7 915.8,912.3 915.6,918.5Z"/>
<path d="M958.7,1134.4 958.6,1082.9 957.9,1052.5 957.5,1043.4 956.9,1035.8 955.4,1025.2 953.4,1016.1 950.9,1007 945.5,990.3 943.5,982.7 942.2,975.1 941.8,969.1 942.1,963 942.7,960 943.8,955.4 945.8,949.4 952.9,931.2 954.8,925.1 955.9,920.5 957.1,914.5 957.9,908.4 958.6,900.8 958.7,894.7 959.8,894.7 959.8,900.8 960.5,908.4 961.3,914.5 962.5,920.5 963.7,925.1 965.6,931.2 972.6,949.4 974.6,955.4 975.8,960 976.3,963 976.7,969.1 976.3,975.1 975,982.7 972.9,990.3 967.6,1007 965,1016.1 963,1025.2 961.6,1035.8 961,1043.4 960.5,1052.5 959.8,1082.9 959.8,1134.4Z"/>
<path d="M1002.9,1200.6 1002.8,1093.4 1001.9,1078.3 1000.5,1066.2 998.6,1055.7 995.7,1043.6 990.1,1024 988.2,1016.4 986.4,1007.4 985.7,1001.3 985.7,989.3 986.4,984.7 987.5,980.2 988.9,975.7 996.1,956 998.8,947 1000.3,940.9 1001.3,934.9 1002.1,928.9 1002.6,922.8 1004.2,922.8 1004.7,928.9 1005.5,934.9 1006.5,940.9 1008,947 1010.7,956 1017.9,975.7 1019.3,980.2 1020.4,984.7 1021.1,989.3 1021.1,1001.3 1020.4,1007.4 1018.6,1016.4 1016.7,1024 1011.1,1043.6 1008.2,1055.7 1006.3,1066.2 1004.9,1078.3 1004,1093.4 1003.9,1200.6Z"/>
<path d="M1047,1024.6 1046.8,1020 1046,1012.4 1042,992.7 1041.6,991.2 1040.8,989.7 1039.8,988.2 1035.9,983.6 1033.9,980.6 1032.6,976 1031.6,971.5 1030.9,966.9 1030.6,962.4 1031,957.8 1032.6,951.8 1033.8,948.7 1036.6,944.2 1037.3,942.6 1038.2,938.1 1038.6,930.5 1039.3,897.1 1040.2,878.9 1040.7,872.9 1041.7,866.8 1043.8,856.2 1045.6,850.1 1046,847.1 1046.7,834.9 1047,806.1 1048.1,806.1 1048.4,834.9 1049.1,847.1 1049.5,850.1 1051.3,856.2 1053.5,866.8 1054.4,872.9 1055,878.9 1055.9,897.1 1056.6,930.5 1057,938.1 1057.9,942.6 1058.6,944.2 1061.3,948.7 1062.5,951.8 1064.1,957.8 1064.6,962.4 1064.3,966.9 1063.6,971.5 1062.6,976 1061.2,980.6 1059.2,983.6 1055.4,988.2 1054.3,989.7 1053.6,991.2 1053.1,992.7 1049.2,1012.4 1048.4,1020 1048.1,1024.6Z"/>
<path d="M1088.8,1200.6 1090.4,1168.9 1090.8,1155.4 1090.7,911.1 1090.1,903.5 1088.4,893 1087,888.4 1083.5,879.4 1082.6,876.4 1078.7,861.3 1077.5,855.3 1076.8,850.7 1075.5,837.2 1074.7,825.1 1074.4,790.4 1074.5,784.4 1074.9,778.4 1077.2,760.3 1078.8,752.7 1083.4,736.1 1085.5,725.6 1087,716.5 1088.2,707.5 1089.1,698.4 1089.8,689.4 1093.8,689.4 1094.4,698.4 1095.3,707.5 1096.5,716.5 1098,725.6 1100.1,736.1 1104.7,752.7 1106.3,760.3 1108.6,778.4 1109,784.4 1109.2,790.4 1108.8,825.1 1108,837.2 1106.7,850.7 1106,855.3 1104.8,861.3 1100.9,876.4 1100,879.4 1096.6,888.4 1095.1,893 1093.4,903.5 1092.8,911.1 1092.8,1155.4 1093.1,1168.9 1094.8,1200.6Z"/>
<path d="M1135.4,1200.6 1135.4,1129.4 1134.9,1108.2 1134.1,1096.1 1132.6,1081 1131.5,1073.4 1126.7,1049.2 1122.6,1029.5 1120,1014.4 1119.2,1008.3 1118.8,1002.3 1118.2,988.6 1118.4,982.6 1119,975 1120.3,964.4 1121.1,959.9 1124.1,947.7 1126.9,938.7 1128.6,934.1 1132.9,925 1133.8,922 1134.7,917.5 1135.1,914.4 1135.4,905.4 1136.5,905.4 1136.8,914.4 1137.2,917.5 1138,922 1139,925 1143.3,934.1 1145,938.7 1147.8,947.7 1150.8,959.9 1151.6,964.4 1152.9,975 1153.5,982.6 1153.6,988.6 1153.1,1002.3 1152.6,1008.3 1151.9,1014.4 1149.3,1029.5 1145.1,1049.2 1140.4,1073.4 1139.3,1081 1137.8,1096.1 1137,1108.2 1136.5,1129.4 1136.5,1200.6Z"/>
<path d="M1173.1,1067 1169.6,1057.9 1168.8,1054.8 1168.6,1051.8 1168.6,1036.6 1168.2,1030.5 1167,1021.3 1164.6,1010.7 1163.7,1004.6 1162.9,998.5 1162.7,993.9 1162.9,990.9 1163.6,986.3 1165.8,977.2 1167.6,972.6 1171.7,963.5 1175.4,955.9 1177,951.3 1178.3,945.2 1179,940.6 1179.3,928.4 1180.9,928.4 1181.3,940.6 1181.9,945.2 1183.2,951.3 1184.8,955.9 1188.5,963.5 1192.6,972.6 1194.4,977.2 1196.6,986.3 1197.3,990.9 1197.5,993.9 1197.3,998.5 1196.6,1004.6 1195.6,1010.7 1193.2,1021.3 1192.1,1030.5 1191.6,1036.6 1191.6,1051.8 1191.4,1054.8 1190.6,1057.9 1187.1,1067Z"/>
<path d="M1223.8,1200.6 1223.8,1105.6 1222.8,1096.5 1221.5,1079.9 1220.3,1052.8 1219.8,1049.8 1217.7,1042.2 1217.1,1039.2 1216.5,1021.1 1216.1,1016.6 1214.9,1013.6 1211,1007.6 1209.6,1004.5 1209.1,1001.5 1208.2,994 1207.7,983.4 1207.9,978.9 1208.6,974.4 1210.8,963.8 1212.1,959.3 1215.3,950.2 1216.7,947.2 1220.1,941.2 1221.4,938.2 1221.9,936.7 1223.2,927.6 1223.5,921.6 1225.1,921.6 1225.4,927.6 1226.7,936.7 1227.2,938.2 1228.5,941.2 1231.9,947.2 1233.3,950.2 1236.5,959.3 1237.8,963.8 1240,974.4 1240.7,978.9 1240.9,983.4 1240.4,994 1239.5,1001.5 1239,1004.5 1237.6,1007.6 1233.7,1013.6 1232.5,1016.6 1232.1,1021.1 1231.5,1039.2 1230.9,1042.2 1228.8,1049.8 1228.3,1052.8 1227.1,1079.9 1225.8,1096.5 1224.8,1105.6 1224.8,1200.6Z"/>
<path d="M1267.9,871.6 1267.9,860.9 1267.8,857.8 1266.8,850.1 1265.6,843.9 1264.3,839.3 1262.6,834.7 1255.8,819.3 1253.9,814.7 1252.9,811.6 1252.2,808.5 1251.7,803.9 1251.8,800.8 1252.7,796.2 1254.5,791.6 1259.2,782.4 1261.2,777.8 1262.1,774.7 1263.5,767 1266.3,759.3 1270.7,759.3 1273.4,767 1274.9,774.7 1275.8,777.8 1277.8,782.4 1282.5,791.6 1284.2,796.2 1285.2,800.8 1285.3,803.9 1284.7,808.5 1284,811.6 1283,814.7 1281.2,819.3 1274.3,834.7 1272.7,839.3 1271.4,843.9 1270.1,850.1 1269.2,857.8 1269,860.9 1269,871.6Z"/>
<path d="M1312.1,1125.7 1312.1,1081.8 1311.5,1069.7 1310.5,1057.6 1309,1045.5 1307.1,1034.9 1304.8,1024.3 1300.1,1004.6 1297.9,994 1296.6,985 1296.1,975.9 1296.1,971.3 1296.4,968.3 1297,963.8 1298,959.2 1300.2,951.7 1305.8,935 1308.3,926 1317,926 1319.5,935 1325.1,951.7 1327.3,959.2 1328.3,963.8 1328.9,968.3 1329.2,971.3 1329.2,975.9 1328.7,985 1327.4,994 1325.2,1004.6 1320.5,1024.3 1318.2,1034.9 1316.3,1045.5 1314.8,1057.6 1313.8,1069.7 1313.2,1081.8 1313.2,1125.7Z"/>
<path d="M1356.3,874.1 1356.2,866.5 1355.9,862 1355.1,860.4 1350.3,854.3 1346.8,848.3 1345.3,845.2 1344.1,842.2 1341.2,833 1340.3,828.5 1340,825.4 1340.2,820.8 1340.7,816.3 1343,802.6 1346.7,788.9 1349.1,781.3 1350.1,776.7 1350.8,763 1351.1,759.9 1352,756.9 1355.7,747.8 1356,746.2 1356.3,735.6 1357.4,735.6 1357.6,746.2 1358,747.8 1361.6,756.9 1362.6,759.9 1362.9,763 1363.6,776.7 1364.6,781.3 1367,788.9 1370.7,802.6 1373,816.3 1373.5,820.8 1373.6,825.4 1373.4,828.5 1372.5,833 1369.6,842.2 1368.4,845.2 1366.9,848.3 1363.3,854.3 1358.5,860.4 1357.8,862 1357.5,866.5 1357.4,874.1Z"/>
<path d="M1383.6,1200.6 1384.2,1158.3 1385.4,1104 1388.6,1027 1391,948.4 1392.1,891.1 1392.7,818.6 1409.3,818.6 1410,891.1 1411,948.4 1413.4,1027 1416.6,1104 1417.9,1158.3 1418.4,1200.6Z"/>
<path d="M80.3,1814.2 80.8,1812.7 82.2,1811.2 84.4,1809.6 91.7,1805.1 93.6,1803.5 95,1802 96.1,1800.5 96.7,1799 97,1797.4 97,1693.7 98.1,1693.7 98.1,1797.4 98.5,1799 99.1,1800.5 100.2,1802 101.6,1803.5 103.5,1805.1 110.8,1809.6 113,1811.2 114.4,1812.7 114.9,1814.2Z"/>
<path d="M140.3,1814.2 140.3,1782.5 140.8,1767.5 140.4,1759.9 134.7,1714.7 130.3,1684.5 128.1,1668 124.6,1637.8 124.1,1628.8 124.5,1621.2 126.6,1606.1 127.7,1600.1 131.8,1580.5 134.7,1562.4 136.3,1550.4 138,1533.8 140.5,1505.1 141.1,1494.6 141.2,1440.3 142.3,1440.3 142.5,1494.6 143.1,1505.1 145.6,1533.8 147.3,1550.4 148.9,1562.4 151.8,1580.5 155.9,1600.1 157,1606.1 159.1,1621.2 159.5,1628.8 158.9,1637.8 155.4,1668 153.2,1684.5 148.8,1714.7 143.2,1759.9 142.8,1767.5 143.3,1782.5 143.3,1814.2Z"/>
<path d="M168.7,1814.2 169.7,1812.7 172.4,1811.2 179.4,1808.1 182.2,1806.6 184,1805.1 185.1,1803.5 185.4,1802 185.4,1693.7 186.5,1693.7 186.5,1802 186.8,1803.5 187.9,1805.1 189.7,1806.6 192.5,1808.1 199.5,1811.2 202.2,1812.7 203.3,1814.2Z"/>
<path d="M229.5,1814.2 229.2,1782.5 229,1776.5 228.3,1768.9 225.6,1744.8 222.6,1722.2 218.7,1695 214.6,1669.4 213.2,1657.3 212.9,1651.3 213.4,1645.2 215.3,1633.1 216.8,1627.1 221.8,1609 225.9,1590.9 227.5,1581.9 228.6,1571.3 229.2,1562.2 229.5,1532.1 230.7,1532.1 231.1,1562.2 231.7,1571.3 232.8,1581.9 234.4,1590.9 238.5,1609 243.5,1627.1 245,1633.1 246.9,1645.2 247.3,1651.3 247.1,1657.3 245.7,1669.4 241.6,1695 237.6,1722.2 234.6,1744.8 232,1768.9 231.3,1776.5 231,1782.5 230.7,1814.2Z"/>
<path d="M257,1814.2 257.7,1812.7 259.4,1811.1 267.5,1806.5 269.8,1805 271.5,1803.4 272.7,1801.9 273.5,1800.4 273.8,1798.8 273.8,1717.4 274.9,1717.4 274.9,1798.8 275.2,1800.4 275.9,1801.9 277.1,1803.4 278.8,1805 281.1,1806.5 289.2,1811.1 291,1812.7 291.6,1814.2Z"/>
<path d="M301.2,1814.2 302.2,1812.7 305,1811.1 312.1,1808 314.9,1806.5 316.7,1804.9 317.7,1803.4 317.9,1801.8 317.9,1723.1 319.1,1723.1 319.1,1801.8 319.3,1803.4 320.3,1804.9 322.1,1806.5 324.9,1808 332,1811.1 334.8,1812.7 335.8,1814.2Z"/>
<path d="M360.1,1814.2 358.4,1806.7 355.8,1797.6 354.7,1794.6 351.5,1787.1 350.5,1784 348.3,1775 346.7,1767.5 345.7,1761.4 345.2,1755.4 345,1729.8 345.2,1723.7 345.6,1717.7 347.3,1704.2 349.1,1693.6 351.8,1684.6 352.5,1681.5 353.4,1675.5 354,1669.5 354.6,1633.3 355.5,1607.7 358.7,1548.9 361.3,1523.3 361.9,1506.7 362.1,1494.6 363.3,1494.6 363.5,1506.7 364.1,1523.3 366.6,1548.9 369.9,1607.7 370.8,1633.3 371.3,1669.5 372,1675.5 372.8,1681.5 373.6,1684.6 376.3,1693.6 378,1704.2 379.7,1717.7 380.2,1723.7 380.4,1729.8 380.1,1755.4 379.6,1761.4 378.7,1767.5 377.1,1775 374.9,1784 373.8,1787.1 370.7,1794.6 369.6,1797.6 367,1806.7 365.3,1814.2Z"/>
<path d="M389.7,1814.2 391.2,1806.6 393.8,1797.6 395.5,1793 399.4,1784 403,1773.4 403.8,1770.4 404.6,1765.8 405.9,1756.7 406.1,1734.1 406.2,1581.4 407.6,1581.4 407.6,1734.1 407.8,1756.7 409.1,1765.8 409.9,1770.4 410.7,1773.4 414.3,1784 418.2,1793 419.9,1797.6 422.5,1806.6 424.1,1814.2Z"/>
<path d="M433.7,1814.2 434.8,1812.7 437.5,1811.1 444.6,1808.1 447.3,1806.5 449.2,1805 450.2,1803.5 450.5,1801.9 450.5,1710 451.6,1710 451.6,1801.9 451.9,1803.5 452.9,1805 454.8,1806.5 457.5,1808.1 464.6,1811.1 467.3,1812.7 468.3,1814.2Z"/>
<path d="M477.9,1814.2 478.2,1812.7 479.1,1811.1 480.5,1809.6 482.2,1808.1 489.7,1801.9 492.3,1798.8 493.9,1795.8 494,1794.2 493.6,1789.6 493.7,1782 493.7,1737.4 496.7,1737.4 496.7,1782 496.9,1789.6 496.4,1794.2 496.5,1795.8 498.1,1798.8 500.7,1801.9 508.2,1808.1 509.9,1809.6 511.3,1811.1 512.2,1812.7 512.5,1814.2Z"/>
<path d="M522.1,1814.2 522.9,1812.7 525.1,1811.1 534.2,1806.5 536.3,1804.9 537.8,1803.4 538.6,1801.8 538.9,1800.3 538.9,1730.6 539.9,1730.6 539.9,1800.3 540.2,1801.8 541,1803.4 542.5,1804.9 544.6,1806.5 553.7,1811.1 555.9,1812.7 556.7,1814.2Z"/>
<path d="M582.9,1814.2 582.9,1723.5 582.6,1717.5 581.8,1709.9 577.8,1678.2 575.7,1663.1 572,1638.9 569.3,1617.7 566.7,1590.5 566.2,1581.4 566,1573.9 566.3,1563.3 567.8,1545.2 573.9,1499.8 577.2,1469.6 579.8,1439.4 580.6,1419.7 586.6,1419.7 587.3,1439.4 590,1469.6 593.2,1499.8 599.4,1545.2 600.8,1563.3 601.2,1573.9 601,1581.4 600.4,1590.5 597.9,1617.7 595.1,1638.9 591.4,1663.1 589.4,1678.2 585.3,1709.9 584.6,1717.5 584.3,1723.5 584.3,1814.2Z"/>
<path d="M610.5,1814.2 611.3,1812.7 613.5,1811.1 622.6,1806.5 624.7,1804.9 626.1,1803.4 627,1801.8 627.2,1800.3 627.2,1727.4 628.3,1727.4 628.3,1800.3 628.6,1801.8 629.4,1803.4 630.8,1804.9 633,1806.5 642,1811.1 644.2,1812.7 645.1,1814.2Z"/>
<path d="M654.6,1814.2 654.8,1812.7 655.3,1811.2 657.3,1808.1 664.4,1800.5 666.9,1797.5 667.9,1796 669.3,1793 669.9,1789.9 669.7,1786.9 668.9,1783.8 667.4,1779.3 666.9,1776.3 666.9,1774.7 667,1771.7 667.6,1767.1 670.3,1752 671.4,1742.9 671.4,1592.6 672.5,1592.6 672.5,1742.9 673.6,1752 676.3,1767.1 676.8,1771.7 677,1774.7 677,1776.3 676.5,1779.3 674.9,1783.8 674.2,1786.9 674,1789.9 674.6,1793 676,1796 677,1797.5 679.5,1800.5 686.6,1808.1 688.5,1811.2 689.1,1812.7 689.2,1814.2Z"/>
<path d="M699.4,1814.2 700.4,1799.1 702.1,1781 703.2,1773.4 706.1,1756.8 707.9,1744.8 710,1729.7 712.3,1710.1 713.6,1696.5 714.7,1676.9 715.1,1660.2 715.4,1631.6 715.4,1445.9 717.8,1445.9 717.8,1631.6 718.1,1660.2 718.5,1676.9 719.7,1696.5 720.9,1710.1 723.3,1729.7 725.3,1744.8 727.1,1756.8 730,1773.4 731.1,1781 732.9,1799.1 733.8,1814.2Z"/>
<path d="M765.2,1814.2 765.3,1812.7 765.7,1811.1 767.2,1808.1 769.3,1805 775.5,1797.3 778.5,1792.7 780.4,1788.1 781.4,1783.5 781.6,1778.9 780.9,1772.8 779.4,1766.6 776.4,1757.4 775.6,1754.4 775,1751.3 774.8,1748.2 775,1743.6 775.7,1739 779.9,1720.6 781.4,1711.4 781.9,1705.3 782,1686.9 783,1686.9 783.1,1705.3 783.6,1711.4 785.1,1720.6 789.3,1739 790,1743.6 790.2,1748.2 790,1751.3 789.4,1754.4 788.6,1757.4 785.6,1766.6 784.1,1772.8 783.4,1778.9 783.6,1783.5 784.6,1788.1 786.5,1792.7 789.5,1797.3 795.7,1805 797.8,1808.1 799.3,1811.1 799.7,1812.7 799.8,1814.2Z"/>
<path d="M826.1,1739.9 826.1,1653.4 825.4,1642.7 823.9,1632.1 821.5,1621.5 818.7,1612.3 812.9,1595.6 810.8,1588 809.4,1580.5 809,1574.4 809.5,1566.8 810.8,1559.2 813.1,1550.1 818.8,1531.9 821.3,1522.7 823.5,1512.1 825,1501.5 828.4,1501.5 829.9,1512.1 832.1,1522.7 834.6,1531.9 840.2,1550.1 842.6,1559.2 843.9,1566.8 844.3,1574.4 844,1580.5 842.6,1588 840.4,1595.6 834.6,1612.3 831.8,1621.5 829.5,1632.1 828,1642.7 827.2,1653.4 827.2,1739.9Z"/>
<path d="M853.6,1814.2 853.8,1812.7 854.4,1811.2 855.5,1809.7 856.8,1808.1 864.8,1800.6 867.1,1797.5 868.6,1794.5 869.1,1793 869.6,1789.9 869.6,1785.4 868.6,1779.3 867,1773.3 862.5,1759.6 861.5,1755.1 861.2,1750.5 861.4,1744.5 862.3,1736.9 863.3,1730.8 867.8,1708.1 868.9,1700.5 869.7,1692.9 870.3,1682.3 870.3,1644.4 871.4,1644.4 871.4,1682.3 872,1692.9 872.8,1700.5 873.9,1708.1 878.4,1730.8 879.4,1736.9 880.3,1744.5 880.5,1750.5 880.2,1755.1 879.2,1759.6 874.7,1773.3 873.1,1779.3 872.1,1785.4 872.1,1789.9 872.6,1793 873.1,1794.5 874.6,1797.5 877,1800.6 884.9,1808.1 886.3,1809.7 887.3,1811.2 887.9,1812.7 888.2,1814.2Z"/>
<path d="M914.5,1706.8 914.5,1658.2 914.3,1655.2 913.8,1650.6 912.9,1646.1 912.1,1643 909.9,1637 907.8,1632.4 902.3,1621.8 900.3,1617.2 898.9,1612.6 898.5,1608.1 899,1603.5 900.4,1599 902.4,1594.4 907.2,1585.3 909.4,1580.7 911.2,1576.2 912.6,1571.6 913.8,1565.5 914.5,1559.5 914.5,1545.8 915.6,1545.8 915.6,1559.5 916.3,1565.5 917.5,1571.6 918.9,1576.2 920.7,1580.7 922.9,1585.3 927.7,1594.4 929.7,1599 931.1,1603.5 931.6,1608.1 931.2,1612.6 929.8,1617.2 927.8,1621.8 922.2,1632.4 920.2,1637 918,1643 917.2,1646.1 916.3,1650.6 915.8,1655.2 915.6,1658.2 915.6,1706.8Z"/>
<path d="M941.9,1814.2 942,1812.7 942.4,1811.2 943.9,1808.1 946,1805.1 952.2,1797.5 955.2,1792.9 957.2,1788.4 958,1785.3 958.6,1782.3 958.6,1779.3 958.4,1776.2 957.4,1771.7 956.2,1767.1 954.8,1764.1 949.3,1755 944.4,1744.3 943.2,1741.3 942.2,1738.2 941.7,1735.2 941.5,1732.2 941.8,1726.1 943.6,1701.8 945.3,1686.6 947.2,1674.4 949.5,1662.3 958,1628.9 958.5,1619.7 958.7,1607.6 959.8,1607.6 959.9,1619.7 960.4,1628.9 968.9,1662.3 971.2,1674.4 973.1,1686.6 974.8,1701.8 976.7,1726.1 976.9,1732.2 976.8,1735.2 976.2,1738.2 975.2,1741.3 974,1744.3 969.1,1755 963.6,1764.1 962.2,1767.1 961,1771.7 960.1,1776.2 959.8,1779.3 959.9,1782.3 960.4,1785.3 961.3,1788.4 963.3,1792.9 966.3,1797.5 972.5,1805.1 974.6,1808.1 976,1811.2 976.4,1812.7 976.5,1814.2Z"/>
<path d="M986.1,1814.2 986.2,1812.7 986.6,1811.2 988,1808.1 990.1,1805.1 996.2,1797.5 999.1,1792.9 1000.4,1789.8 1001.4,1785.3 1001.4,1780.7 1000.8,1776.1 999.1,1770.1 996,1760.9 994.6,1756.4 993.7,1751.8 993.4,1747.2 993.8,1739.6 994.7,1732 999.6,1704.6 1001.4,1692.4 1002.6,1677.2 1002.9,1672.6 1002.9,1665 1003.9,1665 1003.9,1672.6 1004.2,1677.2 1005.4,1692.4 1007.2,1704.6 1012.1,1732 1013,1739.6 1013.4,1747.2 1013.1,1751.8 1012.2,1756.4 1010.8,1760.9 1007.7,1770.1 1006,1776.1 1005.4,1780.7 1005.4,1785.3 1006.4,1789.8 1007.7,1792.9 1010.6,1797.5 1016.7,1805.1 1018.8,1808.1 1020.2,1811.2 1020.6,1812.7 1020.7,1814.2Z"/>
<path d="M1045.6,1814.2 1045.6,1782.5 1045.3,1779.4 1044.3,1773.4 1043.2,1768.9 1039,1756.8 1037.7,1752.2 1034.2,1735.6 1032.8,1726.5 1031,1709.9 1030.4,1700.9 1030.2,1693.3 1030.5,1685.7 1031.1,1678.2 1032.8,1664.6 1033.9,1658.5 1035.4,1652.5 1037.3,1646.5 1038.7,1643.4 1041.5,1638.9 1042.2,1637.4 1043.3,1632.9 1045.4,1616.2 1046,1610.2 1046.4,1596.6 1046.6,1584.5 1048.6,1584.5 1048.7,1596.6 1049.2,1610.2 1049.8,1616.2 1051.9,1632.9 1052.9,1637.4 1053.7,1638.9 1056.5,1643.4 1057.9,1646.5 1059.7,1652.5 1061.2,1658.5 1062.3,1664.6 1064,1678.2 1064.7,1685.7 1065,1693.3 1064.8,1700.9 1064.1,1709.9 1062.3,1726.5 1060.9,1735.6 1057.5,1752.2 1056.1,1756.8 1051.9,1768.9 1050.8,1773.4 1049.8,1779.4 1049.6,1782.5 1049.6,1814.2Z"/>
<path d="M1074.6,1814.2 1076.2,1806.6 1078.7,1797.6 1080.3,1793 1084,1784 1087.5,1773.4 1088.6,1768.8 1089.5,1764.3 1090.6,1756.7 1090.8,1753.7 1090.9,1702.3 1091.1,1581.4 1092.5,1581.4 1092.6,1702.3 1092.8,1753.7 1092.9,1756.7 1094,1764.3 1094.9,1768.8 1096.1,1773.4 1099.5,1784 1103.2,1793 1104.8,1797.6 1107.4,1806.6 1109,1814.2Z"/>
<path d="M1118.6,1814.2 1118.8,1812.7 1119.1,1811.2 1120.6,1808.1 1122.7,1805.1 1128.8,1797.5 1131.8,1792.9 1133.7,1788.4 1134.7,1783.8 1134.9,1780.8 1134.9,1777.8 1134.4,1771.7 1133.3,1765.6 1130,1750.4 1129.4,1745.9 1129.2,1741.3 1129.4,1736.8 1129.9,1730.7 1132.9,1710.9 1134.2,1698.8 1135,1680.6 1135.4,1665.4 1135.4,1656.3 1136.5,1656.3 1136.5,1665.4 1136.9,1680.6 1137.7,1698.8 1139,1710.9 1142,1730.7 1142.5,1736.8 1142.6,1741.3 1142.4,1745.9 1141.8,1750.4 1138.6,1765.6 1137.5,1771.7 1137,1777.8 1137,1780.8 1137.2,1783.8 1138.2,1788.4 1140.1,1792.9 1143,1797.5 1149.2,1805.1 1151.3,1808.1 1152.7,1811.2 1153.1,1812.7 1153.2,1814.2Z"/>
<path d="M1169.4,1814.2 1167,1802 1165.3,1791.3 1164.4,1783.7 1163.1,1768.5 1162.6,1759.3 1162.5,1751.7 1162.7,1739.5 1163.2,1724.3 1163.5,1719.7 1164.3,1713.6 1168,1693.8 1169.6,1686.2 1176.1,1658.8 1184.1,1658.8 1190.6,1686.2 1192.3,1693.8 1195.9,1713.6 1196.7,1719.7 1197,1724.3 1197.5,1739.5 1197.7,1751.7 1197.6,1759.3 1197.1,1768.5 1195.9,1783.7 1195,1791.3 1193.3,1802 1190.8,1814.2Z"/>
<path d="M1207,1814.2 1207.1,1812.7 1207.5,1811.2 1208.9,1808.1 1211,1805.1 1216.9,1797.5 1218.7,1794.4 1219.5,1792.9 1220.5,1789.9 1221.3,1785.3 1221.6,1768.6 1221.4,1764 1221,1761 1220.3,1758 1216.9,1747.3 1216.4,1744.3 1216.2,1741.2 1216.6,1736.7 1217.4,1732.1 1220.8,1720 1222.2,1713.9 1223,1709.3 1223.7,1703.2 1223.8,1650 1224.8,1650 1224.9,1703.2 1225.6,1709.3 1226.4,1713.9 1227.8,1720 1231.2,1732.1 1232,1736.7 1232.4,1741.2 1232.2,1744.3 1231.7,1747.3 1228.3,1758 1227.6,1761 1227.2,1764 1227,1768.6 1227.3,1785.3 1228.1,1789.9 1229.1,1792.9 1229.9,1794.4 1231.7,1797.5 1237.6,1805.1 1239.7,1808.1 1241.1,1811.2 1241.5,1812.7 1241.6,1814.2Z"/>
<path d="M1266.5,1814.2 1267.2,1799.1 1267.5,1790 1267.7,1714.4 1267.7,1656.9 1266.9,1649.4 1263.2,1626.7 1259.3,1607 1254.6,1585.8 1251.8,1572.2 1251.1,1567.7 1250.9,1564.7 1251.1,1557.1 1251.6,1548 1252.1,1543.5 1252.9,1538.9 1254.6,1531.4 1257.5,1520.8 1259,1516.3 1261.5,1510.2 1275.5,1510.2 1278,1516.3 1279.5,1520.8 1282.4,1531.4 1284.1,1538.9 1284.8,1543.5 1285.4,1548 1285.9,1557.1 1286.1,1564.7 1285.9,1567.7 1285.2,1572.2 1282.4,1585.8 1277.6,1607 1273.8,1626.7 1270.1,1649.4 1269.3,1656.9 1269.2,1714.4 1269.5,1790 1269.7,1799.1 1270.5,1814.2Z"/>
<path d="M1295.3,1814.2 1295.5,1812.7 1295.8,1811.2 1297.2,1808.1 1299.3,1805.1 1305.1,1797.5 1307.7,1792.9 1309.2,1788.4 1309.8,1783.8 1310.5,1771.6 1310.4,1765.6 1309.6,1759.5 1306.8,1747.3 1306.5,1744.3 1306.4,1741.2 1306.6,1736.7 1307.1,1732.1 1310.6,1713.9 1311.4,1707.8 1312,1701.7 1312.1,1650 1313.2,1650 1313.3,1701.7 1313.9,1707.8 1314.7,1713.9 1318.2,1732.1 1318.7,1736.7 1319,1741.2 1318.9,1744.3 1318.5,1747.3 1315.7,1759.5 1314.9,1765.6 1314.8,1771.6 1315.5,1783.8 1316.2,1788.4 1317.7,1792.9 1320.2,1797.5 1326,1805.1 1328.1,1808.1 1329.5,1811.2 1329.8,1812.7 1330,1814.2Z"/>
<path d="M1356.3,1665 1356.2,1646.8 1355.4,1636.1 1354.2,1627 1352.8,1619.4 1350.9,1611.8 1344.3,1590.5 1342.3,1582.9 1340.8,1575.3 1340.3,1567.7 1340.3,1564.7 1340.7,1561.6 1342.3,1555.6 1344.6,1549.5 1350.5,1535.8 1353.1,1528.2 1354.9,1520.6 1356.1,1511.5 1357.6,1511.5 1358.8,1520.6 1360.6,1528.2 1363.2,1535.8 1369.1,1549.5 1371.4,1555.6 1373,1561.6 1373.3,1564.7 1373.4,1567.7 1372.9,1575.3 1371.4,1582.9 1369.3,1590.5 1362.8,1611.8 1360.9,1619.4 1359.5,1627 1358.3,1636.1 1357.5,1646.8 1357.4,1665Z"/>
<path d="M1384.3,1814.2 1386.1,1799.1 1388.6,1782.5 1393.3,1758.3 1396.5,1740.2 1397.7,1732.6 1398.5,1725.1 1399.4,1703.9 1400.1,1669.2 1400.2,1577 1402.8,1577 1402.9,1669.2 1403.6,1703.9 1404.6,1725.1 1405.4,1732.6 1406.5,1740.2 1409.8,1758.3 1414.4,1782.5 1416.9,1799.1 1418.7,1814.2Z"/>
</g>
<g class="p">
<path class="p1" d="M97.3,517.9 96.5,533.1 98.4,539.9 94.8,515.8 95.4,493.7 98.1,358.4 102.8,521.6 101,515.1 97.5,499.6 99.5,505.9 94.3,495.8 96.3,490.4 93.4,498.7 95.7,519.2 97.1,542.3 98.7,478.7 93.8,503 100.3,528.2 94.6,533.2 100.4,518.1 100.6,496.5 99.7,522.2 96.9,475.8 98.6,541.8 98.7,503 98.9,493.2 93.9,524.6 96.4,513.4 96.9,505.5 94.6,497.5 101.2,522.6 97.6,498.4 101.9,526.7 93.4,522.3 92.6,529 92.7,512.1 97.4,529.6 100,510.6 99.9,524.5 102.3,512.3 96.7,541.6 96.6,497.2 98.2,467.2 99,538.3 102,504.3 96,537.8 95.2,501.4 95.5,525.2 99.9,501.2 97.6,465.8 101.6,511.6 98.6,497.3 99.9,494.3 94.2,511 102.4,529.4 97.5,377.8 101.4,524.9 99.8,530.3 96.9,524.5 96.3,494.6 99.7,497.9 102,518.9 96.5,522.1 101.8,498.9 98.4,525.4 92,523.7 92.6,521.4 93.3,514.6 99.4,514.3 95,522.8 98,483.2 97.2,509.7 98.6,511.8 93.7,527.9 94.6,492 97.2,485.4 98.1,475.1 97,481.5 97.1,535.6 98.9,519.2 95.1,528.3 101,501.5 95.5,498.4 97.2,493 100.4,534.8 97.7,528.7 98.1,495.5 98.1,522.9 100.5,492 98.4,485.7 102.8,509.5 95.1,530.5 97.1,448.3 103,524.3 100.8,531.1 98.2,508.5 99.6,538.9 95.9,486.7 95.6,538.7 94.2,518.5 97.8,491.8 100.9,507.3 95.9,483.4 97.1,554.4 99.5,485.1 96.3,502.3 96.3,527 98.4,533.1 95.4,507.8 99.2,489.5 98,455.2 91.7,516.6 92.6,508.9 97,466.7 92.7,526.4 96.7,538.5 103.5,517.2 97.9,515.9 98.5,537.3 97.4,539.8 99,527.6 95.7,511.6 97.6,471.3 97.8,538.5 94.2,506.6 82.7,587.5 106,587.5 81.1,587.5 96.4,587.5 90.8,587.5 111.7,587.5 90,587.5 91.6,587.5 89.2,587.5 113.3,587.5 93.2,587.5 95.6,587.5 107.7,587.5 85.1,587.5 110.9,587.5 98.8,587.5 87.5,587.5 109.3,587.5 106.9,587.5 94.8,587.5 92.4,587.5 80.3,587.5 114.9,587.5 97.2,587.5 103.6,587.5 112.5,587.5 114.1,587.5 81.9,587.5 83.5,587.5 85.9,587.5 104.4,587.5 99.6,587.5 98,587.5 101.2,587.5 110.1,587.5 102,587.5 86.7,587.5 94,587.5 108.5,587.5 100.4,587.5 102.8,587.5 88.3,587.5 84.3,587.5 105.2,587.5"/>
<path class="p2" d="M139.4,287.9 138.9,169.5 130.2,198.3 126.4,233.2 147.4,243.8 143.5,276.3 125.7,224.2 137.6,212.4 127.9,222.1 140.4,300.7 153,208.2 137.8,227.1 143.5,195.6 141.3,353.4 153,234.5 139.6,265.8 129.5,245.3 149.5,204.2 136.1,235 144.8,167.9 129,227.5 150,187.1 136.7,221.5 149.6,211.5 140.2,297.5 157.6,224.5 157.3,215.5 136.1,189.9 139.6,213.5 141.2,151 131.6,246.8 158.9,228.9 138.4,281.5 132.8,244.1 144.3,278.9 147.2,206.2 132.9,191.9 155.4,226.8 142.1,429 133,239.1 148.7,183.9 149.7,262.8 146.9,177.5 142.2,272.8 152,214.5 144.4,226.3 139,284.7 149,216.1 140.9,255.6 134.9,265.5 149.8,220.7 155.5,217.8 145.6,208.9 150.5,241.8 140.6,303.9 142.9,290.8 138.3,236.2 140.8,293.1 150.7,257.5 143.8,269.7 147.9,231.7 141.5,350 138.1,190.9 141.9,323.4 141.5,166.3 148.8,234.1 158.8,219.1 145.7,212.7 133.7,188.7 128.4,231 131.2,225.3 143,302.3 146.7,241.2 130.5,252.7 151,228 138.1,175.3 135.3,242.1 145.9,193.5 154.4,230.2 159,222.3 130.1,236.6 145,184.3 126.2,237.9 140.9,238.5 131.9,255.9 127.1,215.4 147.3,268.1 142.8,242.4 137.3,253.6 143.4,158.3 135.4,260.3 129.1,201.5 140.1,243.5 148,267.1 141.1,285.3 135.8,204.6 135.4,214.8 134.1,219.4 159.2,225.5 148.7,247.2 129.2,240.3 139.4,196.8 137.2,275.1 149.5,209.5 141.2,328.4 142.2,228.4 129.5,213 153.2,225.7 134.3,237.3 152.8,239.3 148.8,225 147,218.5 157.4,233.4 142.3,483.3 144.5,235.3 144,171.2 139.2,277.5 153.3,199.8 136.3,217.1 143.3,224 151.9,254.9 142.3,306.6 129.8,218.7 145.3,264.2 142.7,191.5 140.4,279.5 140.7,177.2 125.7,217.5 142.4,394 142.5,313.5 133.4,228.1 139.9,163.4 152.5,245.7 152.9,196.7 137.9,278.3 142,361.1 148.6,194.6 124.7,220.7 147,265.2 145.3,176.4 158.1,215.9 143,169.1 141.6,248.9 142.7,219.6 128.1,204.7 156.4,222.3 158.2,228.7 128.7,205.2 142.4,154.1 133.7,211.7 150.7,190.3 134.3,252.7 152.6,202.7 150.6,201.3 134.1,209.9 140.2,298.4 132.2,216.4 149.8,260.7 140.7,268.6 125.4,233.5 136.5,244.8 146.3,255.8 138.5,257.4 147.8,213.7 130.1,199.4 140.4,173.2 153.7,247.9 142.2,199 141.1,220.5 142.4,237.6 155.5,244.7 154.2,221.2 141.3,275.7 143.7,215.1 136.8,179.1 131.9,234.2 148,198 141.9,144.4 138.1,208.7 143.2,299.1 153.3,216.8 141.7,337.4 141.9,181.7 148.8,253.1 145.1,279.9 155.1,203.1 132.4,251.3 133.8,262.6 158.5,220.2 143,155.1 128.4,246.3 148,249.4 142,381.5 133.8,262.3 141.9,248 152.1,223.4 140,294.3 139.8,259.1 144.3,202 143.2,300.5 151,207 137.6,264.8 146.2,274.3 156.7,209.5 146.2,174.3 145.7,230.6 141.7,303.1 133.2,192.1 134.5,223.8 139.3,203 148.9,238.7 152.3,254.3 143.7,245.2 154.5,199.9 154.9,235.8 157.1,212.7 145.4,171.1 139.9,288.2 148.7,256.8 144.2,286.3 139.7,291.1 158.4,231.9 132.6,196 126.3,210.4 133.6,197.7 147.7,223 142.3,330.6 152.2,251.7 142.5,287.5 140.9,193 142.2,261.7 151.3,219 157.3,210.9 126.9,239.9 141.4,409.6 142.3,281.2 141.6,372.2 138.4,218.1 127.7,207.9 146.6,227.4 139.2,231.5 141.1,199.9 132.6,229.8 143.2,266.7 147.3,270.3 134.7,185.5 156.2,206.3 150.6,192.8 132.5,259.1 134.7,200.9 132.8,206.5 139.8,163.1 130.4,209.3 137.7,270.2 131.4,214.1 150.1,229.5 154.9,243.1 144.2,283.8 141.4,229.3 137,230.3 141.4,263.6 133.6,258 127.8,235.6 135.7,256.3 156.2,241.5 152.8,251.1 135.6,226 147.9,180.7 132.4,221 155.9,213.3 143.1,177.8 131.8,195.1 141.8,362.8 139.8,170.5 151.7,193.5 143.3,295.9 137.8,261.1 138.9,222.5 144.8,217.2 154.5,240.6 135.7,182.3 125.4,219.9 141.8,210.2 139.7,186.7 154.2,205.7 145.3,246.5 146.6,236.3 138.4,246.1 135.8,194.1 141.7,211.1 146.7,260.9 150.6,236.9 136.3,198.5 129.4,249.5 130.6,232 135.2,249.8 140.6,216 135.1,247.6 145.7,276.7 140,224.8 142.2,402.1 144.7,283.1 140.1,205.8 143.7,161.5 136.4,267.5 130.1,223.2 127.2,243.1 153.6,212 143,254 128.8,208 144.7,250.9 131.2,202.3 137,239.6 124.5,223.9 139.4,166.3 141.6,184 143.5,232.9 157.8,235.1 150.4,196.2 137.9,178.8 148.7,188.2 126.3,236.7 125.2,230.3 144.9,239.8 143.5,187 146.3,273.5 144.8,189.6 135.6,268.7 126.1,214.3 146.1,203.5 145.1,271.2 141.3,115.6 141.2,157 137.8,201.6 140.5,188.8 144.5,259.7 138.9,282.8 124.6,228.7 131.4,241.5 134.9,232.6 137,273.6 141.9,160.9 143.5,257.8 138.2,195 127.1,211.1 139,180.6 138,185.3 144.2,164.7 138.1,172.7 143.8,164.6 131.9,254.4 148.7,263.9 145,197.2 151.1,250.1 150.9,244.4 154.7,248.5 142,343 136.3,271.9 127.9,242.9 132.5,203.8 141.2,310 135.6,187.5 148.1,183.1 128.7,248.3 144.6,179.7 146,252.6 140.2,159.9 136.3,207.3 147.1,185.7 143.6,292.7 124.5,227.1 147.3,200.4 127.8,217.6 139.4,271.8 140.1,251.9 143.7,207.5 142.4,174 156.5,231.1 145.5,221.8 143.9,289.5 140.3,233.8 147.2,190.8 126.8,226.5 141.4,119.3 152.1,232.4 141.8,295 157,238.2 139,240.9 142.7,204.8 138.4,250.3 140.5,156.7 135.7,182.2 149.5,258.5 156.7,238.3 137.4,175.9 141.5,319.1"/>
<path class="p3" d="M189.1,541.9 181.1,535.8 194.7,525.1 179.5,490.6 195.3,522.5 190.8,480.3 186.2,537.5 190.8,506.5 184.4,534.4 185.4,548 178,504.3 185.7,522.7 187.7,550.7 183.7,519.3 192.4,510.1 185.5,508.8 189.1,526.7 184.4,456 180,527.4 176.5,522 184.2,476.6 187.3,518.1 190.1,541.1 188.3,547.5 179.8,505.9 177.2,510.7 183.2,502.8 185.9,436.7 186.5,468.6 183.5,465.9 187.7,458.8 193.1,531.5 182.3,528.1 185.5,401.5 192.1,517.3 181.3,521 186.1,441.4 189.8,473.9 186.3,477.5 183.3,474.7 193.4,500.5 188.7,497.4 187.2,532.7 186.5,407.1 180.4,495.4 181.6,478.7 190.5,523.2 187.9,535 176.8,517.1 177.2,515.1 176.6,513.9 177.1,526.7 184.3,552.3 183.6,549.1 180.3,488.3 184.6,486.7 187,462.9 177.5,507.5 183.2,532.1 179.5,491.5 184.4,456.3 178.2,501.1 185.4,450.6 182.8,545.9 185.3,553.9 188.6,546.3 193.8,526.1 178.9,520.2 187,552.4 184,483.5 192.4,491.3 191.8,486.7 178.9,503.8 180.1,516.7 193.7,529.6 178.6,525.4 194.9,509.1 186,489.8 189.4,501.3 179.7,513.1 186,559.6 194.4,505.9 188.5,464.3 185.4,480.4 186.8,528.5 195.1,512.3 179.6,533.3 183.2,510.6 181.7,542.7 191.1,493.7 186.7,544.2 187.2,451.5 185.6,539.9 187.5,487.5 185.4,445 191.1,483.5 191.4,513.7 185.1,467.7 177.5,507.6 184.2,459.5 184.5,526.4 191.5,502.3 181.5,488.1 184.6,551 183.8,462.7 189.3,530.7 180.3,538.3 188.2,475.5 187.1,473.3 187.8,466.4 190.7,498.5 184.4,512.3 184.6,542.7 182.5,517.8 186.8,499.2 183.4,470.2 182,506.7 187.4,503.4 187.1,553.9 191.3,537.9 187.8,457.9 188.2,540.6 195.4,518.7 194.2,528.3 180.6,539.5 192.6,493.1 181.1,531.2 191.2,531.7 182.3,475.5 176.7,520.3 190.2,485.8 180.5,485.1 183,536.7 185.4,561.1 187.8,481.3 186.7,484.4 182.4,493 183,545 184.8,555.5 178.6,533.1 194.5,508.3 185.9,492 182.9,489.4 184.9,496.7 179.9,536.3 194.4,515.4 189.3,544.3 195.1,521.9 193.3,519 188.7,470.9 193.5,496.3 187.5,454.7 181.2,502 186.5,447.4 193.7,512 178.7,497.9 191.2,538.8 184.2,504.9 189,512.9 178.9,500 183,469.1 185.3,472.4 192.2,489.9 182.9,498.8 187.7,495.1 186.8,548.6 190.9,520.8 186,453.9 182.6,472.3 185.3,500.9 190.2,477.1 186.4,507.4 195,515.5 181,481.9 188.1,461.1 180.9,523.6 191.7,533.9 184.9,515.7 186.1,521.7 193.7,499.5 186.1,562.5 189.2,492.4 194.1,502.7 188.5,505.4 189.1,488.5 177.7,518.6 184.7,453.1 190.1,479.7 181.8,478.5 188.5,519.8 189.5,536 188,525.1 185.9,425.2 183.3,524.5 185.2,530.3 181.1,497.7 177,523.5 185.8,461.6 189.2,483.1 190.1,509.1 189.7,516.5 189.2,470.7 192.3,496 182,514.3 177.9,529.9 188.9,467.5 179.2,494.7 186.7,514.5 181,509.6 178.6,511.4 192.8,504.3 184.1,494.6 181.2,484.9 192.8,524.1 178.1,529.2 184.6,463.8 183.3,541.4 182.9,482.1 187.8,510.9 192,534.7 191.3,527.9 171.9,587.5 169.5,587.5 202.5,587.5 179.9,587.5 194.4,587.5 184.8,587.5 180.7,587.5 181.5,587.5 196.8,587.5 189.6,587.5 192.8,587.5 186.4,587.5 174.3,587.5 183.1,587.5 193.6,587.5 188.8,587.5 199.2,587.5 175.9,587.5 196,587.5 200.8,587.5 173.5,587.5 182.3,587.5 198.4,587.5 179.1,587.5 200,587.5 190.4,587.5 175.1,587.5 197.6,587.5 168.7,587.5 171.1,587.5 203.3,587.5 191.2,587.5 201.7,587.5 187.2,587.5 188,587.5 183.9,587.5 170.3,587.5 192,587.5 195.2,587.5 177.5,587.5 178.3,587.5 185.6,587.5 176.7,587.5 172.7,587.5"/>
<path class="p4" d="M239.3,258.5 233,254.4 228.1,278.4 230.5,174.9 233.1,178.6 234.6,268.7 218.9,254.4 230.2,298.1 222.4,274.7 241.2,250.1 236.9,285.8 234.5,278.5 226.2,252.8 225.1,279 229.6,337.8 229,280.1 229.7,274.2 218.1,269.9 219.4,249.4 228.6,288.5 232.5,266.2 229.6,251.3 227.5,256.6 235.2,257.5 233.6,241.3 230.6,247.1 243,268.1 231.4,228.3 229.6,219.2 231.3,279.4 228.1,316 228,294.4 226.2,291.9 226.3,276.8 236.8,264 226.7,283.7 233.1,276.9 223.3,280.8 230.6,490.7 230.5,200.5 229.1,370.3 241.3,277.7 226.8,242.9 214.7,261.7 221.8,278.6 240.9,280.1 229.3,236.8 231.6,284.8 219.8,264.5 237.6,278.8 245.1,262.2 231.7,239 237.3,281.8 242.4,255.8 225.8,240.7 244.8,273.6 219.6,257.8 240.5,275.3 219.2,279.7 223.1,261.3 229.6,452 231.4,261.4 235.8,251.5 239.3,252.4 223.1,252.3 234.9,280.4 237,274.6 232.5,294.4 232.1,372.2 227.2,298.5 226.2,268.5 238.5,270.2 215.7,268 230.4,271.7 232,289.4 224,265.3 222.3,270.4 228.3,263.7 241,264.6 233.1,316 222.7,285.5 219.8,277.6 215,272.9"/>
<path class="p5" d="M277.5,460.3 277.4,476.6 277,508.4 272.5,508 273.6,446.6 271.4,491.3 277.1,480.6 274.6,400.9 271.9,522.3 277.1,527 273.2,474.5 278.3,466.7 272.5,455.1 281.2,482.7 276.4,499.5 281.4,485.9 271.2,535.5 274,480.1 282.9,501.9 275.6,444.3 270.9,465.5 270.9,502.6 271.1,517.7 273.1,500.8 266.1,500.3 271.8,469 276.4,493.7 274,467.7 266.1,509.9 271.8,513.7 277.5,501.3 275.2,439.8 278.6,494.8 274.6,478 281.8,500.3 275.6,482.7 271.2,461.9 268.5,477.9 276.6,538.3 281,488.7 268.6,478.5 269.9,498 271.6,458.7 265.6,506.7 268.2,522.7 272.3,493.1 269.5,490.3 275.2,522.6 267.4,487.9 272.3,532.9 278.4,473.6 270.4,468.3 279.7,502.2 278.8,530.1 278.1,505.1 281,515.3 272,498.8 282.8,498.7 266.7,490.7 271.6,477.4 276.5,457.1 268.7,501.6 280.7,498.4 271.7,527.3 278,466.7 278.8,517 269,525.9 270.2,526.3 281.2,517.9 269.7,512.8 282.6,495.5 270.1,521 275.9,525.3 267.8,484.3 274.3,430.1 267.3,492.3 268.9,523.4 274.2,530.5 267.4,487.5 280.6,479.5 282.8,508.3 266,510.9 266.7,493.9 274,540.5 280.5,492.9 279.4,473.1 276.2,540.3 274.8,453.3 276.6,453.9 274.4,495.7 274.3,442.1 275,541.9 266,513.1 275.3,502.9 272.7,471 276.9,537.1 267.2,519.5 271.9,538.7 272.4,541.9 278.2,512.2 269.6,529.3 272,537 282.3,492.3 279.1,509.4 269.2,505.3 277.4,533.9 270.1,472.8 273,463.1 271.4,506.2 268.8,483.4 282.7,505.1 269.1,474.7 274.8,487.5 280.4,521.1 273.9,458.2 280.3,505.8 273.6,504.5 282.7,496.4 274,559 273.9,548.5 269.7,529.1 270.5,532.3 266.4,503.6 275.9,506.7 282.6,511.3 268.2,494.3 273.8,451.4 273,445.9 275.5,448.9 276.3,461.9 278.9,481.7 274.2,496.9 270.4,475.6 279,527.5 273.5,520 270.2,495 275,536.1 269.8,471.5 274.7,510.3 282.5,503.9 272.9,515.6 280.8,519.4 279.3,490.8 282.3,511.5 277.9,463.5 272.3,461.1 273.1,484.9 273.3,534.6 281.4,507.6 273.7,434.4 273.9,511.7 275.1,471.8 281.9,514.7 278.9,469.9 266.9,507.2 266,503.5 281.8,489.1 278.5,486.3 278.1,530.7 272,455.5 265.9,496.1 277.4,470.2 277.1,533.2 267.4,518.5 278.5,497.6 272.4,452.3 276.1,468.1 271.1,487.1 278.7,521.6 274.4,528.5 266,497.1 275.3,459.2 280.1,476.3 267.6,499.7 275.4,491.8 276.9,516.2 280.2,513.4 274.7,464.8 273.4,489.1 279.8,524.3 272.9,545.1 272.9,524.5 276.6,485.3 275.9,447.5 269,516.7 274.9,445.1 276.3,531.8 275.2,544.9 274.9,518.3 276,514.1 275.9,475.2 272.7,449.1 275.8,543.5 276.9,457.1 279.1,523.9 277.1,520.4 270.7,481.2 267.8,514.8 280.1,479 274.4,552.9 268.1,509.1 280,484 268.3,481.1 269.4,485.7 270.3,510 266.7,516.3 277.3,489.8 276.2,450.7 270.7,465.1 273.1,543 274.8,416.5 272.3,482.2 260.2,587.5 265.1,587.5 261.8,587.5 266.7,587.5 281.2,587.5 286.8,587.5 277.1,587.5 283.6,587.5 280.4,587.5 276.3,587.5 286,587.5 261,587.5 273.9,587.5 291.6,587.5 269.1,587.5 274.7,587.5 267.5,587.5 262.7,587.5 270.7,587.5 285.2,587.5 269.9,587.5 284.4,587.5 290,587.5 265.9,587.5 289.2,587.5 287.6,587.5 279.6,587.5 257,587.5 257.8,587.5 273.1,587.5 272.3,587.5 290.8,587.5 282,587.5 263.5,587.5 259.4,587.5 275.5,587.5 282.8,587.5 277.9,587.5 278.7,587.5 288.4,587.5 271.5,587.5 264.3,587.5 268.3,587.5 258.6,587.5"/>
<path class="p6" d="M316,543.1 320.2,551.1 319.3,494.2 323.6,483.9 319,400.9 315.7,485.3 314.4,479.1 308.3,520.9 319.4,528.4 322.5,477.5 320.6,535.2 322.6,486.7 325.4,495.9 315.4,537.4 320.7,524.4 312.3,515.1 320.4,508.4 327.3,506.3 313.9,488.8 314.6,528.1 310.8,533.5 321,467.9 315.6,523.7 318.7,520.4 328.4,512.7 319.9,488.5 324.8,490.3 322.1,530.7 323.4,522.2 320.6,549.4 312.9,488.7 325,515.5 315.9,498.7 318.5,444.5 323.9,519.7 311.8,536.7 315.5,472.7 318.3,458.5 324.1,531.9 315.6,477.5 319.4,454.6 321.9,526.3 310.9,519 308.6,523.9 313.5,485.5 312.6,538.9 327.2,505.5 316,469.5 316,471 310.8,509.1 316.1,547.9 318.9,469.9 309.7,517 317,569.4 322.5,514.6 323.9,538.3 315.7,507.9 325.9,523.4 321.1,502.1 311.7,500.1 327.8,509.5 322.7,506.5 321.2,518.5 319.4,475.3 309.2,511.1 318.7,538.2 317.3,456.7 316,549.5 310,528.8 328.3,519.1 316.8,501.5 324.6,534.1 321.9,544.7 311.9,511.2 323.3,503.1 317.1,459.9 315.6,532.4 313.9,481.4 321,484.9 319.3,512.5 318.3,553.8 316.8,552.7 322.7,492.9 314,497.6 315.2,546.3 316.8,510 318.7,564.7 317,487.6 311.7,533.4 318.5,480.5 320.3,461.5 318.8,410.2 320.7,464.7 308.9,527.1 325.1,507.5 326.5,509.7 317.3,464 321.7,497.1 320.6,478.7 317.9,448.1 323.8,539.9 317.7,474.7 317.3,555.9 314.8,516 318.4,483.9 321,547.9 323.1,480.7 318.1,552.4 315.8,493.5 314.5,503.6 328.6,522.3 319.7,554.3 327.5,513.8 324.2,511.8 309.9,505 319.9,458.3 326.4,499.9 320.8,472.5 313.5,520.1 319.7,455.1 317.9,496.3 325.6,493.5 327.3,503.1 317.6,467.9 324.3,527.3 328.6,521.5 318.9,555.3 321.7,510.4 323.3,482.9 319.9,499.7 312.4,502.3 318.1,506.1 326.1,531.9 316.4,466.3 312,526.8 313.3,531 319.1,459.4 313.4,507.1 319.8,533 324.9,535.1 312.1,491.9 311.5,495.1 310,530.3 326.4,517.7 314.3,512 326.2,496.7 320.9,491.5 328.4,515.9 322.9,541.5 316.1,518 312,495.1 308.5,517.5 322.1,537.1 318.2,541.2 313.4,536.2 309.5,507.9 316.9,525.8 320.7,541.9 310.7,498.3 317.3,544.9 327,525.3 323.8,498.2 313,523 313.9,482.3 317.6,529.8 326.8,529.7 321.5,471.1 321.3,544.2 310.5,524.8 318.2,522 326.9,528.7 316.8,534.6 308.7,520.7 309.6,504.7 323.8,489.5 319.9,516.5 318.9,504.1 327.6,525.5 317.4,514 316.5,479.1 319.1,546.6 317.7,556.5 322,474.3 314.2,543.1 316.8,463.1 319.8,465 313,539.9 324.2,487.1 315.1,475.9 310.2,501.5 314.2,492.4 309.2,513.1 308.7,514.3 325.2,500.7 317.6,490.3 305.2,587.5 312.5,587.5 326.9,587.5 302.8,587.5 302,587.5 331,587.5 320.5,587.5 322.9,587.5 314.9,587.5 315.7,587.5 310.1,587.5 328.6,587.5 332.6,587.5 301.2,587.5 306.8,587.5 324.5,587.5 330.2,587.5 318.1,587.5 316.5,587.5 303.6,587.5 325.3,587.5 307.6,587.5 311.7,587.5 322.1,587.5 319.7,587.5 308.4,587.5 321.3,587.5 323.7,587.5 304.4,587.5 329.4,587.5 326.1,587.5 333.4,587.5 334.2,587.5 306,587.5 314.1,587.5 310.9,587.5 335,587.5 335.8,587.5 309.2,587.5 318.9,587.5 327.8,587.5 331.8,587.5 317.3,587.5 313.3,587.5"/>
<path class="p7" d="M364,290.7 361.7,282.4 367.9,292.1 356.5,258.2 371.4,272.6 346.1,260 365.9,289.4 354.8,235.5 362.7,219 371.2,242.8 362.1,308.7 356.1,250.2 356.4,274.5 361.2,223.9 357.8,272.7 348.4,268.3 349.8,265.9 358.5,219.3 365.4,251.9 363,294.7 353.4,245.7 364.5,297 366,254.8 369.4,264.7 354.2,248.3 371.8,282.3 369.4,274.1 363.1,247.7 362.8,343.4 372.6,263 367.2,286.3 371.2,259.2 353.2,254.2 361.4,208 360.5,235.3 363.3,236.4 363.7,280.4 360.3,248.9 359.6,256 360.7,194.3 354.3,233.4 363.2,300 374.6,270.2 371.6,235.2 362,296 365.4,227.5 354.4,259.5 364.4,263.6 370,288.2 357.3,231.6 365,304.5 372,239.6 368.1,272.3 360.7,257.8 356.8,282.7 374.2,237 378,251 354.9,253.4 362.4,323.7 364.6,273.1 349.7,271.4 373.2,265.4 364.2,284 369.1,231.7 363.3,213.6 362,230.9 376.6,248.9 370.2,253.9 367.4,270.3 371.1,247.4 377.4,264.4 365.4,265.9 357.9,227.7 364.6,292.8 374.5,254.4 359.5,273.2 356.4,263.3 346.4,253.6 353.2,242.1 349,255 360.4,241.1 356.2,276.7 362.3,275.8 359.8,303.4 363.9,257.5 362.9,365.3 368.5,276.1 351.9,249.9 367,223.7 371.1,230.9 368.5,249.7 357.2,246 357.5,254.6 359.1,252.5 359.1,246.7 358.2,248.5 351.4,236.9 364.4,217 347,247.7 378.4,247.8 348.4,264.1 362.6,356.5 364.3,211.5 369.7,285 356.7,271 379.1,260.3 363,163.7 360.2,270.2 359.6,297 357,251.7 377.6,257.8 364.9,258.3 375.1,271.6 361.7,226.7 367,246.7 359.5,266.4 354.8,230.8 352.3,262.9 367.7,289.7 367.3,220.7 366.4,248.8 366.7,282.5 361.2,251.2 365.2,222.2 357.2,291.3 362.2,289.2 372.4,256.7 365.2,285.4 366.6,231.3 378.7,253.8 376,252.2 366.2,293 358.8,240.3 362.6,221.4 359.4,229.7 365.6,269.9 348.1,258.3 356.3,285.6 353,270.3 355.4,256.8 376.4,244.9 371,267.7 376.6,255.4 355.1,285 362.4,361.5 361.5,292.1 360.7,218.7 363.2,183 374.8,261.5 370.9,270.7 370.4,248.1 374.9,275.6 364,244.6 351.1,273.1 362.7,323.9 354.2,261.5 351.9,240.8 361.4,264.6 361.1,245.3 363.4,268.3 366.2,273.5 371.4,277 352.8,251.4 364.4,250.2 362.9,287.5 369.1,257.9 354.4,272.6 350.1,261.8 368.3,237.7 348.8,244.8 373.8,251.5 355,247.6 360.7,285.2 355.6,239.5 347,257.7 367.6,252.6 366.5,261.6 358.2,280 371.8,253.1 360.1,294 358.8,287.1 369.1,283.2 372.6,277.9 376.8,261.9 364.7,188 365.3,277.6 375.5,258.5 357.6,235.8 361.2,271.9 359.3,277.5 364.2,225.2 353,273.9 368.1,256.3 373,269.3 369.6,251.3 372.7,250.2 365.7,206.7 374.9,246.5 353.6,265.2 358.4,292.9 361.3,311.5 357.6,295.5 375,266.3 355.8,267.8 373,273.1 368.8,226.6 367.3,295.8 368.9,235.6 354.6,269.2 361.8,253.8 374.5,248.4 354.9,287.6 351.1,247.2 366.1,235.5 367.3,266.5 352.9,280.4 347.7,250.8 360.9,278.6 360.6,214.4 362.3,247.9 357.5,265.7 351.2,270.1 362.6,200.5 376.9,268.5 359.7,223.6 372.8,245.9 350.6,252.9 363.2,309.9 350.2,259.1 358.3,261.6 367.6,228.6 366.6,278.6 373.4,258.2 368.5,262.7 351.1,256.6 362.1,213.2 360.4,289.9 358.4,269.9 367,258.8 355.2,278.8 363.7,230.3 365,246 350,248.8 359.4,283.7 353.4,277.7 352.3,258.1 362.9,275.2 361.1,299.3 358.6,289.6 363,350.3 362.4,260.5 367.4,241.7 352,267.5 363.3,315.4 349.3,246.4 348.6,252.1 362,268.5 356.6,243.5 365.6,298 359.6,232.3 357.7,225.5 365.5,240.3 362.8,259.9 363.8,271 368.9,245.7 370.7,261.2 374.2,241 369.3,279.7 358.6,258.7 363.3,253.5 362.2,237.2 364.5,232.7 350.3,275.5 369.4,269 360.4,262.7"/>
<path class="p8" d="M400.7,314.1 405.7,211.7 411.7,372.2 404.7,339.7 400.7,370.3 399.7,391.5 404.7,295.4 408.7,317.2 406.7,405.2 413.7,397.7 412.7,325.3 410.7,281 404.7,379.6 406.7,146.2 403.7,430.2 408.7,345.9 406.7,376.5 408.7,201.7 409.7,424 407.3,587.5 417.8,587.5 395.5,587.5 417.1,587.5 394.8,587.5 409.4,587.5 406.6,587.5 402.4,587.5 397.5,587.5 418.5,587.5 413.6,587.5 416.4,587.5 401,587.5 403.8,587.5 405.9,587.5 412.2,587.5 403.1,587.5 411.5,587.5 405.2,587.5 415,587.5 415.7,587.5 399.6,587.5 393.4,587.5 401.7,587.5 396.1,587.5 421.3,587.5 414.3,587.5 408,587.5 404.5,587.5 398.9,587.5 410.1,587.5 398.2,587.5 408.7,587.5 392.7,587.5 419.2,587.5 410.8,587.5 394.1,587.5 419.9,587.5 396.8,587.5 400.3,587.5 422.7,587.5 412.9,587.5 420.6,587.5 422,587.5"/>
<path class="p9" d="M446.6,501.6 442.7,494.4 451.8,450.6 460.4,502.4 445,531.7 448,472.4 455.3,470.4 447.6,485.1 456.6,532.6 448.2,518.1 451.7,555.6 441,510.4 451.3,444.3 454.5,535.3 456.4,501.1 452.3,461.8 459.1,489.6 461,512 442.9,522.9 452.3,448 453.7,460.8 460.6,505.6 459.9,496 451.4,435.2 458.8,524.8 449.4,452.8 454.5,524.3 443.4,519.2 445,481.6 449.1,456 448.3,542.4 441.2,516.8 456.8,489.4 451.5,501.7 445.7,496.9 454.7,537.6 451.4,474.6 448.9,545.6 456.5,531.2 448.6,513.2 453.8,513.6 457,507.8 449.4,463.6 450.4,477.1 454.3,464 445.6,503.9 447.3,511.6 453.1,544 457.2,497.2 459.2,519.7 444.4,529.6 455.8,473.6 456.4,514.4 445.4,478.4 451.2,531.2 454.8,479.4 458.1,491.5 443.8,486.3 453.4,457.6 445.6,493 456.4,476.8 454,539.6 446.6,536 448.3,462.4 457.7,511.1 443.7,488 441.7,520 447.7,493.8 445.5,532.8 458.2,517.7 444.2,500.6 450.9,487.8 442.6,523.2 448.2,525.7 446.1,524.9 451.1,419 452.4,471.3 458.4,487 453.3,459 458.6,499.2 449.9,510.1 453.9,500 447.3,539.2 456.5,525.2 449.5,482.6 452.7,451.2 452.9,490.4 459.5,492.8 453.4,533.7 440.9,515.6 460.5,502.6 448,504.8 444.1,484.8 453.9,540.8 442.1,512.6 443.3,526.4 455.8,516.8 446.3,475.6 444.8,490.9 449.2,543.3 451.1,548.5 446.7,472 441.7,504 450.9,439 457,527.3 453.2,518.7 450.1,546.1 450.2,523.8 457.6,528 458.1,504.4 449.9,491.9 455.9,482 441,507.2 459,512.8 449.6,536.6 451.4,414.6 451.9,522.3 450.7,431.4 459.1,523.2 459.7,521.6 451.9,480.5 453.1,505.3 444.7,510.9 453,454.4 447,488.8 454.8,488.3 444.5,526.9 450.4,540.7 449.4,528.1 452.5,544.2 454.4,507.1 458.3,486.4 452,541.6 450.6,503.2 454.3,520.5 447.9,530.3 446,484 451.7,467.1 452.3,526.5 454.9,496.5 447.5,478.8 451.8,537.5 455.1,510.3 444.9,520.9 448.9,474.2 454.1,492.6 452.6,498.2 450.9,460.2 451.1,454.8 448,497.9 443,505.6 445.7,517.3 453.1,528.4 460.9,516 443.4,514.2 450.7,516.6 442.1,497.6 447.2,468.8 455.7,476.4 445.6,481.5 448.7,459.2 455.5,534.4 441.5,509 453.7,472.9 450.3,452.2 461.2,508.8 460.4,499.2 450.7,533.3 443.2,498.7 454.3,469.1 446,529.3 442.9,491.2 454.6,484.9 443.2,494.9 449.7,550 454.8,467.2 460.3,509.5 446,514.8 452.8,483.7 456.3,493.6 460.1,518.4 448.1,534.7 452.6,547.2 455.6,503.5 449.8,449.6 441.5,500.8 451.2,515.4 459.3,495.6 448.8,480.1 453.2,464.4 448.1,467.6 454.7,529.8 450.3,470.5 449.1,499.7 453.2,477.7 451.6,425.2 450,466 444.1,507.6 456.5,521.6 449.1,456 447.3,521.7 459.5,506.2 447.8,538.7 446,475.2 457.9,483.2 450.3,445.6 449.5,520 448.9,489.8 446.7,508.2 451.8,508.7 441.7,502.3 451,560.4 441,513.6 449.3,506.7 451.1,485.7 447.9,465.6 452.5,511.8 457,480 449.5,548.8 450.3,495.9 460.6,515.2 452,494.6 466.7,587.5 457.9,587.5 449.8,587.5 435.3,587.5 439.4,587.5 433.7,587.5 453.1,587.5 442.6,587.5 444.2,587.5 459.5,587.5 457.1,587.5 451.4,587.5 443.4,587.5 458.7,587.5 449,587.5 468.3,587.5 452.2,587.5 460.3,587.5 438.6,587.5 461.1,587.5 446.6,587.5 437,587.5 463.5,587.5 455.5,587.5 445,587.5 441.8,587.5 436.2,587.5 462.7,587.5 440.2,587.5 437.8,587.5 453.9,587.5 450.6,587.5 448.2,587.5 465.1,587.5 434.5,587.5 465.9,587.5 445.8,587.5 464.3,587.5 454.7,587.5 447.4,587.5 467.5,587.5 456.3,587.5 441,587.5 461.9,587.5"/>
<path class="p10" d="M504,550.5 494.4,514.1 495.7,539.9 493.9,530.1 500.1,553.2 490.1,548.3 490.2,527.6 495.6,432.1 486.6,547.3 479.1,540.1 483.5,544.7 494.2,540.5 508,529.9 508.2,534.8 494.8,490.7 500.4,519.8 498.3,523.6 495.9,548.4 486.1,541.5 489.8,552.1 491.5,536.3 498.5,551.9 505.7,533.2 506.9,544.8 502.5,527.5 500,536.6 491.3,518 490.2,497 496.5,529.4 505.9,542.9 494.1,551.4 489.7,533.2 492.6,545.4 493.9,523.1 501.1,530.3 496,515.2 488.8,524.4 486.2,531.7 498,544.4 499.3,546.8 487.3,539.1 493.4,557.2 504.3,537.2 510.8,540.1 502.1,547.7 490.6,544 497.7,533.4 493.1,562.2 495.8,467.7 485.1,549.4 494.2,511.7 502.3,541.3 481.6,533.6 496.9,512.5 483,536.9 495.8,558.3 482.7,529.5 496.4,587.5 494,587.5 487,587.5 501.1,587.5 491.7,587.5 498.7,587.5 489.4,587.5 503.4,587.5"/>
<path class="p11" d="M537.8,458.8 540.2,490.3 545.6,509.3 539.5,484.4 531.3,524.2 542,514.6 539.1,487.2 535.9,509.4 543,492.5 541.2,455.9 534.3,510.7 546.7,516.4 543.8,527.6 539.6,511.2 538.6,493.1 544.7,502.3 547.9,514 546.9,506.9 539.6,539.9 536.2,505.4 536.1,472.7 539.1,465.1 542.3,465 540.2,528.5 542.4,524.5 537.5,515 541.9,471.3 541,460.2 539.6,498.1 531.7,506.7 534.3,517.2 541.3,524.1 528,521.3 536.1,514.2 537,487.8 539.7,462.8 536.1,496.1 536.7,463.6 544.7,499.9 549.6,514.9 537.6,501.3 543.5,500.9 528.1,517.8 547.6,518.7 550.1,522 540.7,501.8 536.2,500.8 544.5,518.4 539.5,443.9 546.8,525.9 538.7,522.8 531.4,515.8 533.8,520.7 541.3,518.8 550.7,518 538.4,526.6 550.5,513 533.1,513.9 541.5,502.4 538.5,479.6 543,508.2 542.1,527.3 543.8,505 530,514.8 535.3,484.7 540.8,467.6 544.8,524.7 528.9,519 542.2,510.6 537.4,483.7 534.4,502.2 532.9,524.7 549,519.6 536.8,527.8 546.7,523.3 542,500.7 540.6,517.7 542.1,497.7 544.9,513.6 539,458.2 547.2,510.1 528.2,512.8 538.1,472 538.3,502.3 540.1,506.7 539.1,499.9 536.7,519.6 544.1,523.2 540,525 538.1,490 538.2,462.1 533.6,508.9 542.9,519.8 532,518.4 540.6,480.9 536.2,523.9 533.4,523.2 534.8,503.4 539.8,521.1 531.3,525.8 530.7,520.6 543.5,529.5 537.6,524.5 540.8,509.5 542.3,489.4 530.7,510.1 534.2,528.9 537,510.6 539,513.1 531.8,510.6 537.1,497.7 535.3,524.9 537.2,470 535.1,518.8 535,527.6 538,453 540.8,494.6 538.5,507.2 543.6,515.2 536.4,481.6 540.2,458.3 535.9,491.5 538.2,518.1 540,472.3 541.6,482.7 543.4,484.8 541.3,487.7 544.8,510.7 539.6,438.3 545.8,520.6 547.3,524.4 542.6,475.4 534.1,499.8 538.9,535.6 539.8,587.5 541.4,587.5 543,587.5 542.2,587.5 547.8,587.5 540.6,587.5 532.6,587.5 531.8,587.5 530.1,587.5 551.1,587.5 534.2,587.5 554.3,587.5 536.6,587.5 539,587.5 546.2,587.5 525.3,587.5 533.4,587.5 551.9,587.5 528.5,587.5 550.3,587.5 537.4,587.5 545.4,587.5 547,587.5 526.1,587.5 538.2,587.5 531,587.5 544.6,587.5 524.5,587.5 529.3,587.5 522.9,587.5 552.7,587.5 543.8,587.5 522.1,587.5 548.7,587.5 527.7,587.5 535,587.5 526.9,587.5 523.7,587.5 549.5,587.5 556.7,587.5 555.9,587.5 535.8,587.5 553.5,587.5 555.1,587.5"/>
<path class="p12" d="M583.7,240.4 596.2,194.4 585.1,162.7 575.1,237.5 583.5,348.4 595.9,229.4 586.3,188.7 582.9,263.4 580.3,212.2 579.8,199.1 590.1,196.4 579.1,223.2 590.6,185.2 587.3,262.4 579.6,250.4 578.1,238.6 585.3,234.3 583.2,146.6 584.6,181.7 587.4,248.6 586.6,158.1 581,188.6 594.5,210.6 586.4,211.6 581.6,122.5 588.4,226.2 586.7,236.3 575.5,189.4 577.6,228.2 593.9,198.2 591.9,247 570.1,211.6 591.9,232.4 583.2,120 581.4,176.7 585.6,321 583.1,282.8 588.4,212.3 596.5,212 577.5,204.2 589.1,203.5 578,190.3 590.4,208.8 574.2,210.3 589.5,237.5 568.4,218.3 581.6,155.6 583.3,248.1 585.3,206.9 581.4,202.7 583.4,195.9 583.7,142.6 592.8,235.8 575.5,231.9 588.1,254.9 583.8,172.4 590.7,220.3 573.3,241.2 591.9,227.6 579.6,259.1 576.3,215.9 584.3,218 573,235 573.7,203.6 575.8,184.4 581.6,319.1 578.2,211.1 582.8,219.8 581.9,256.2 589.2,190 582.1,273.3 584.8,256.8 595.9,224.9 589,229.8 581,225.4 573.9,227.4 569.3,207.8 583.7,193.1 587.1,201.2 594.4,221.8 570.7,229 580.8,235.9 598.7,218.7 584.6,277.9 572.1,212.9 576.4,197.8 592.4,214.3 596.5,201.9 593,204.1 579.1,234.1 582.1,229.6 575.1,221.7 584.7,228.8 584.8,266.6 586.6,223.8 582.3,208.6 598.4,208.2 571,194.2 571.6,224.4 572.2,201.3"/>
<path class="p13" d="M619.5,512 628.2,466.3 624,519.5 626.8,505.4 621.8,500.8 629,482.4 628.3,453.3 625.4,530.9 629.5,513.6 625.7,499 627.1,518.4 630.4,519.3 622.6,514.6 630.5,480.7 629.6,462.2 634.5,514.1 625.5,513.2 633.9,518.2 631.6,523.5 627,458.8 627.7,534.3 623.6,510.7 625.8,484.2 625.6,470.6 623.4,512.9 628.4,486.7 627.9,511.7 627.6,448.3 633.6,496.6 629.3,465.3 626.5,476.5 625.9,461.8 627.9,477.2 620.4,508.6 624.5,487.7 632.2,510.5 631.8,520.1 626.5,465.1 622.6,505.7 632.5,498.5 630,471.1 625.7,509.1 628.4,455.1 620.1,504.9 632.3,515.4 625.8,474.5 621.5,517.7 628.1,543.2 628.8,527.4 628.6,522.2 627.6,463.9 630.8,494.3 624.9,477.8 626.4,529 629.2,492.5 624.8,516.8 630.5,514.5 623.4,522.8 627.3,482.3 631.3,490.4 628.7,464.1 635.8,512.1 625.7,482.9 629,507.7 626.5,501.1 623.9,494.2 624.1,498.4 632.4,503 626.5,514.3 628.4,517.2 628.4,504.2 627.5,497.8 631,505.5 624.4,503.2 625.7,520.5 633.6,513 628,495.7 627,527.3 627.8,461.6 634,501.1 624.7,507.1 626.6,485 629.4,528.7 633.2,506.2 629.2,499.8 635.2,505.2 627.2,471.5 629.4,475.5 628.6,472.5 622,496.2 630.2,501.3 629.2,483.9 627,466 630,509.7 625.1,495.4 621.5,510.1 630.8,498.4 626.8,491.8 627.5,512.6 625.4,528 627.8,529.7 629.3,534.2 622.5,502.2 621.5,513.9 634.4,508.8 631.6,512.8 630.1,484.3 638.6,587.5 632.2,587.5 629.8,587.5 624.1,587.5 644.3,587.5 612.9,587.5 633,587.5 634.6,587.5 633.8,587.5 642.6,587.5 629,587.5 630.6,587.5 628.2,587.5 627.4,587.5 612.1,587.5 616.9,587.5 619.3,587.5 641.8,587.5 635.4,587.5 640.2,587.5 624.9,587.5 610.5,587.5 626.6,587.5 645.1,587.5 620.9,587.5 625.7,587.5 621.7,587.5 643.5,587.5 622.5,587.5 623.3,587.5 614.5,587.5 613.7,587.5 637.8,587.5 611.3,587.5 615.3,587.5 636.2,587.5 637,587.5 618.5,587.5 617.7,587.5 616.1,587.5 641,587.5 631.4,587.5 620.1,587.5 639.4,587.5"/>
<path class="p14" d="M676,364.7 683.1,423.6 682.1,419 663.6,412.4 687.2,421.9 673.2,441.6 672,317.8 681.3,402 668.4,452.1 674.9,461.1 679.3,394.4 678.9,479 671.9,549.4 666.9,466.4 656.2,430 682.2,470.4 674.2,368.1 671.4,386.4 666.5,402.5 674.8,424.9 683.4,403.9 665,441.2 670.6,422.1 668.6,361.9 667.7,381.5 676.8,490.2 671.2,431 664.3,407.1 660.9,453.2 687.7,430.7 673.8,420 663.7,465.7 687.8,411.3 675.6,484.8 673.4,478.1 672.4,266.7 676,393.9 669.6,417.9 662.1,392.1 669.7,392.9 674,492 667.6,413.5 670,479.2 670.3,376.4 659.1,397.6 665.8,388.2 675.9,406.1 672.5,535.7 668.4,370.4 676.7,380.1 666.1,378.1 685.6,435.1 683.9,413.4 666.6,483.2 658.2,426.1 669.7,372.9 668.4,390.5 668.8,477.9 678.7,457.1 676.9,428.3 677.9,418.4 666.2,396 661.3,418.4 677.6,374.5 670.2,400.5 671.5,457 679.8,411.9 674.9,518.8 668,459.5 668.6,428.1 671.5,366 675.3,434.2 679.6,453.5 682.8,464.3 685.1,427.7 678.3,443.3 684.7,400.2 661.7,463.6 666.2,446.1 676.8,387.8 673.1,468.2 675.8,414.3 660.5,406.2 673.1,373.8 682.1,392.5 681.6,385.1 664.4,428.9 686,456.4 669.9,465 669.9,518.2 676.3,472.8 686.2,416.5 672.1,408 661.2,468.6 662.3,384.2 666.4,488.3 665.5,419.5 657.5,455 672.1,488.1 660.9,439.5 682,459.1 673.9,403 672.2,454 658.8,434.7 676.3,465.3 672.3,361.6 664.4,458.5 681,428.9 672.3,382.7 666,374.2 681.4,440.7 666.2,476.1 674.3,479.9 657.2,421.7 656.9,441.7 663.3,393.9 670.2,443 662.8,401.9 672.7,429.7 683.8,450 678.2,476.7 682.2,445.8 660.3,428.6 686.5,442 664.7,453.9 677.5,401.2 674.3,377.7 670.5,361.3 662.2,445.7 671.7,411.9 659.3,414.9 658.6,449 670.5,355.4 679.4,465.8 676.3,372.5 669,486.8 674.3,390.9 679.8,406.4 662.3,423.3 668.3,404.9 677.4,437.6 656.2,409.3 683.6,433.7 670.9,472 680,389.7 679.4,432.6 658.9,403.6 666.5,423.6 672.9,396.3 671.6,491.5 678.9,422.8 674.1,448.3 673.6,358.2 676,452.3 664.2,478.1 669.1,436.9 662.9,433.1 667,433.8"/>
<path class="p15" d="M715,490.7 717.5,313.5 715,218.6 723.7,587.5 716.7,587.5 713.2,587.5 730.6,587.5 702.8,587.5 709.8,587.5 727.1,587.5 706.3,587.5 720.2,587.5"/>
<path class="p1" d="M781.7,466.4 783.5,475.5 780.1,505.2 782,532.6 781.9,478.3 782.1,484.3 781,521.7 781.4,491.3 781.7,539 782.7,458.1 785.3,480.1 782.1,446.2 782.6,509.1 788.8,517.2 779.8,502.2 784,540 784.6,487 786.7,497.1 777.1,512.5 783.5,460.2 778.4,500 785.7,510.1 781.8,503.7 784,512.3 788.4,512.9 784.1,492 778.5,504.9 779.3,530.4 777.9,513.3 782.8,494.4 776.7,520.9 784.7,458.4 783.5,528.3 784.3,507.3 782.8,539 780.6,539.3 784.9,513 780.7,497.8 785.2,525.3 779.6,487.4 778.2,528.4 781.5,461.5 785,531 786.1,501.2 785.9,523.4 781.4,475.4 779.2,508.8 776.2,516.2 780.4,474.6 780.2,458.3 781.4,512.9 782.7,523.5 779.9,467.7 783.7,497.8 782.9,441.9 781.8,517.5 777.7,497.8 784,530 780.1,519.9 787.1,519.1 780.8,460.2 779.3,476.2 784.3,467.8 776.9,505.6 778.3,518 779.7,478.5 776.6,502.8 784.4,473.2 786,488.1 782.4,371.5 785.5,492.3 785.1,496.1 786,507.7 778.2,489.4 783,502.6 786.6,529.1 782.8,553.2 788.4,524.6 780.8,467.8 780.6,511.8 782.5,468.1 782,442 786.4,527.1 784,533 784.4,522.8 780,493.5 777.1,494.4 777.8,523 782.8,446.7 780.8,527.6 786.7,505.2 779.7,465.4 787.8,521.6 785,503.7 786.9,483.4 784.2,537.1 782.1,525 782.4,433.3 782.2,459.8 781.6,529.5 783.4,488.6 780.7,480.3 786.2,477.9 782.4,472.1 776.4,524.4 781.1,454.6 779.3,496.4 780.4,534.9 783.3,444.7 789.1,509.5 783.1,453.3 781.5,498.8 783,482.9 785,465.8 785.5,474.9 778.7,492 780.9,506.8 782.9,464.1 783.2,515.4 781.2,450.1 778.8,511.1 778.8,470.3 786.3,471.5 779.7,515 782.8,531.3 783.4,505.5 783.6,520 782.3,509.9 780.8,488.5 778.3,483.1 779.3,527.1 782.2,495.6 787.5,511.7 787.5,498.1 786.2,531.9 781.5,457.5 777.6,507.4 780.6,531.2 782.6,414.6 788.2,503.1 779.5,523.4 782.3,546 787.9,494.8 784.1,478.3 787.6,506.5 784.2,460.4 783.4,467.3 783.9,450.9 775.8,509.1 782.2,451.7 786.6,513.8 784.5,499.4 783.8,456.6 778.5,531.7 786.8,490.5 785.3,517.6 775.7,587.5 791.8,587.5 778.9,587.5 770,587.5 799,587.5 786.1,587.5 795,587.5 790.9,587.5 799.8,587.5 783.7,587.5 768.4,587.5 776.5,587.5 793.4,587.5 766.8,587.5 797.4,587.5 770.8,587.5 786.9,587.5 788.5,587.5 784.5,587.5 774.9,587.5 773.2,587.5 780.5,587.5 789.3,587.5 767.6,587.5 787.7,587.5 782.1,587.5 795.8,587.5 781.3,587.5 794.2,587.5 774.1,587.5 790.1,587.5 772.4,587.5 785.3,587.5 792.6,587.5 766,587.5 771.6,587.5 798.2,587.5 777.3,587.5 778.1,587.5 796.6,587.5 779.7,587.5 769.2,587.5 782.9,587.5 765.2,587.5"/>
<path class="p2" d="M833.3,224.5 827.2,222.9 823.1,180.5 824.6,363.8 825.9,123.3 830.4,150.9 810.7,174 822.4,334 834.1,257.5 821.4,184.1 833.6,301.4 834.8,222.4 830.6,130.8 817.8,230.6 816.9,151.6 821.7,324.4 835,149.6 823.6,185.4 823.2,170.1 843.6,194.8 831.3,326 830.2,233.3 826.3,443.9 831,330.5 826.2,116.3 827.4,137.2 831.6,293 809.5,190 822.7,162.9 815.7,257.2 833.8,290 823.4,221.2 809.6,183.6 818.2,173.3 832.9,306.8 827.2,472 824,356.4 821.4,318 816.9,270 822.3,214.3 818.8,145.2 823.8,265.5 813.8,220.6 829.9,345.2 828.9,148.3 830.3,268.1 821.8,292.2 831,221.7 836,271.6 817.9,279.6 812.7,209.6 827.1,171.8 834.2,275.7 829.1,189.3 820.3,189 819.9,298.8 828.2,305.9 818.6,260.9 826.3,481.4 824.3,312 825.9,154.2 831.2,329.2 831.8,134 830.2,141.7 826.4,405 843.3,191.6 815.7,195.6 827.1,106.9 811.8,170.8 812.2,223.3 834.2,213.4 824.8,375.6 825.1,384 826.9,327.8 810.9,212.4 809.5,186.8 828.4,283.7 843.4,182.6 827.5,122 841.4,207.4 817.6,219.2 828.2,241.2 837.9,188.5 817,258.9 825.1,139.3 824.1,260 833,195.4 814.8,226.2 817.1,165.1 842.9,204.4 830.7,281.5 818.8,253.5 841.3,185 833.9,159.1 837.1,258.8 824.7,276.4 825.8,271.7 834.4,287.6 825.6,322.5 824,283.2 824.9,296.3 828.5,177 818.4,224.9 829.1,316.3 812.1,218.8 823.8,349.7 817.6,203.3 825.8,308.2 835.6,278 836.9,176.4 826.2,249 824.2,359.6 827,279 827.5,160.1 820,302 829.9,339.7 822.2,329.3 819.7,142 826.8,462.7 842.4,187.5 822.6,132.4 828.2,121.2 831.8,200.3 829,169 824.3,157.9 813.9,244.4 837,225 828.4,140.7 828,186.9 833,218.7 835.4,250.2 816.7,227.8 829.4,286.2 840.9,175.1 832.4,185.5 820,268.8 821.8,254.3 811.4,197 829.7,199.2 828.7,332.6 837,153.9 835.7,191.2 839.4,236.4 834.9,240.2 833.3,140.4 838.5,203.6 826.7,299.8 836.5,268.4 830,303.1 840.5,180.1 823.4,273.8 842.3,212.5 816.7,178.6 818.2,239.8 826.6,425.2 819.3,162.1 842.2,172.4 821.5,141.2 832.2,307.7 830.6,246 830.5,174.5 826,340.8 826.2,161.3 831.4,287.5 830.2,184.4 827,212 825.8,379.4 823.3,200 813,234.8 811.9,167.6 824.7,372.4 828.2,217.3 826,202.5 829.4,326 810.6,209.2 825.8,182.8 810.7,201.9 824.5,326.6 827.5,201.5 830.5,317.7 823.2,232.8 812.5,184.6 823.9,205 818.3,213.8 829.7,334.3 826.4,172.9 828.4,258.3 830.8,194.2 831.3,256.6 821.1,264.6 820.8,311.6 839,183.7 822.1,225.4 810.4,206 824.7,136 823.2,237.7 825.2,167.1 824.3,175.3 827.4,247.8 821.1,198.7 843.2,185.2 827,362.2 831.8,180.6 833.7,297.2 814.9,250.8 833.6,254 832.7,167.5 823.3,343.6 819.8,206.5 840.1,166.7 832.3,242.6 836.8,265.2 833.7,285 831.6,239.4 826.7,234.8 817.1,251.8 836.1,216.7 830.5,310.5 817.7,148.4 830.1,204.1 825.5,256.1 825.7,290.7 832.3,313.2 825.4,391.6 827.6,228.8 829.7,163.3 824.9,239.1 817.6,271 827.2,422.6 810.9,212.4 821.4,168.7 828.9,156.7 825.3,388.4 829.8,135.1 818.6,275 825,378.8 824.2,245.6 823.9,293.4 832.6,175.6 816.1,244.8 826.5,192.7 828.3,380.4 829.6,348.4 838.3,252.4 828.1,387 840.3,235.7 840,233.2 830.2,338.8 833.3,300.4 824.3,343.7 839.2,210.1 827.6,319.9 821.4,231.5 840,230 816.4,216.3 816.5,238.5 829.1,266.3 836,201.1 827.7,270.1 812.3,179.7 823.1,340.4 838.8,169.8 819.7,236.7 833.4,236.5 826.1,453.3 836.8,237.2 832.1,230.2 828.6,196.6 823.8,353.2 836.3,150 823.9,128.6 809.9,196.4 829.6,179.6 838.2,178.8 831.8,319.6 826.2,520.1 813.9,174.7 834.6,284.4 820.7,165.6 814.4,247.6 837.3,232.5 811.3,215.6 838.2,213.9 832.8,282.4 827.8,355.2 825.4,335.8 816,262.8 826.4,263.8 833,161.5 822.9,156.2 818,282.8 824.3,333.6 814.3,241.2 828.5,374 820.5,305.2 826.5,330.9 826.8,554.4 822.3,146.9 823.7,134.2 829.2,358 820.3,151.2 823.7,129.2 818.1,279.6 837.2,208.7 823.1,142.6 823.1,288 826.1,418.1 820.4,228.5 814.9,211 822.1,193.8 844.1,188.4 843.7,178.8 832.1,314.5 836.6,162.5 829.2,251.4 829.4,351.3 829.8,127.6 823.4,317.1 834.9,228 824.5,369.2 838.7,173.8 840.3,199.6 820.8,138.8 833.8,178.2 816.8,266.8 828,166.1 828,386.8 826.2,280.7 835.8,271.4 819.1,201.2 825.2,385.2 821.1,247.4 835.2,165.3 844,192.2 817.9,246.3 835.6,231 833.2,147.4 819.8,234.5 815.8,222 829.7,291.5 817.7,276.4 835.5,243.5 814.4,215.1 819.1,186.6 810.3,193.2 819.7,149 821.6,137.7 818.9,144.2 821.9,327.6 827.7,376.4 815.9,175.9 826.6,302.2 828.1,383.6 817.1,153.5 838.7,226.5 838.6,249.2 838.9,241.9 822.4,278.6 841.8,169.2 842.8,202.2 815.6,163.4 825.8,224 812.6,199.3 842.6,197.3 835.1,281.2 823.2,250.9 836.7,157.6 825.1,267.8 840.8,218.1 826.8,413.4 828.6,370.8 823.2,325.1 814,161.2 815.9,255.1 835.4,146.8 837.3,263.4 825.1,382 832.4,295.3 821.8,203.7 829.4,276.5 820.6,308.4 837.2,255.6 829.6,129.9 819.5,295.6 833.9,294 832.4,249.4 833.1,151.7 819.3,243.1 830.8,272.4 822.6,269.6 831.3,227.4 820.9,159.6 831.8,264.1 826.7,381.1 835.6,267.3 818.9,289.2 828.3,274.4 810.9,202.8 824.4,366 813.6,169.3 814.4,232.2 818.8,286 814.9,158 826.6,145.2 825.4,150 817.8,158.7 832.9,303.6 830.8,146.1 834.2,290.8 823.6,338.7 843.3,198 825.3,177.9 822.2,330.8 826.2,315.3 821.5,321.2 836.6,168.2 820,249.9 831.7,278.1 819.7,222.7 826.6,235.9 832.1,316.4 829.3,354.8 817.7,193.1 820,277.4 824.3,215.7 829.5,225.9 832.9,269.1 818.7,181.7 816.7,157.1 839.2,242.8 824.4,148 831,210.7 827.7,293.9 828,153 820.2,155.1 827.3,288.6 830.4,298.1 811.5,177.3 821.6,240.7 834,197.8 828.4,377.2 821,286.9 831,170.4 839.6,239.6 835.3,280 840.1,215.4 833.2,208 827.9,342.2 828.9,309.5 831.6,304 824.3,195 827.2,371.2 820.9,314.8 822.2,174.1 816.5,263.6 833.2,273.4 826.5,434.6 821.2,297.3 826.2,131.4 835,171 843,201.2 822.5,190.1 824.9,318.7 826.6,101.9 815.6,205.7 827.4,400.3 818.5,266.9 842.2,210.8 832.5,261.4 830.1,342 818.9,211.8 829.6,351.6 834.6,143.6 832.2,205.5 826.5,492 812.8,231.6 811.6,207.1 819.2,171.3 813.7,190.8 830.7,253.1 818.1,191.3 826.8,415.8 828.5,365.8 834.5,173 836.8,219.6 836.2,181.4 823.6,350 835.5,274.8 837.3,196 820,176.7 820.9,273.1 814.9,248.1 834.4,202.9 841.8,214 840.1,189.8 828.6,296.9 836.3,206.2 822.7,152.2 814.8,200.5 812.6,222 820.9,209.1 837,245.2 839.3,229.4 815,241.5 838.6,164 812.5,228.4 832.5,310 830.6,158.5 842.5,172.3 822.9,210.3 840,162.8 824.9,229.9 824.7,252.6 825.8,360.7 825.2,285.5 836.8,251.9 811.5,189.5 814.1,160.5 821.4,313.4 841.7,194.6 839.6,193.5 826.9,348.6 825.2,373.9 826.8,126.8 838.4,246 815.9,260.4 823.5,346.8 810.8,177.2 819.2,289.6 827.1,97.5 839.6,160.6 817.2,273.2 829,244.6 809.9,180.4 843.4,175.6 829.1,361.2 825.3,347 831.3,190.5 809.4,192.1 813.2,229.2 828.7,345.5 843.2,182 826.2,369 816.8,208.5 838.4,238.8 826.1,398.3 821.4,261.7 841.2,166 840.8,223.6 840.2,226.8 822.2,320.9 834.5,265.1 827.3,312.7 825.3,218.3 812.9,235.1 815.9,154.8 830.5,335.6 813.5,204.6 816.3,233.7 826.7,143.5 813.2,166.6 830.9,321.3 824,227 828.4,358.5 829.1,220.2 829,209.3 838.6,248.7 826.4,352.8 837.1,262 826.2,213.1 828,206.7 822.5,244.1 835.2,193 824.3,362.8 823.2,303.7 831.6,154.9 821.7,135.6 827.9,390 809.9,182.3 813.3,164.4 825.8,242.3 820.1,294.7 830,237.8 823.1,299.1 836.8,186.3 815.3,254 837.8,153.2 830.2,214.8 820,196.4 838.2,198.5 828.8,124.4 824.9,305 833.7,247 816.8,198.2 832.5,137.2 817.6,167.9 834.6,144.7 831.6,164.6 831.2,138.4 826.6,390.2 828.5,231.8 826.9,262.1 827.7,254.9 817,183.4 838.7,220.8 812.6,217.9 842.3,177.5 830.9,332.4 828.8,367.6 826.9,191.7 810.3,187 822.7,309.9 833.5,188 824.4,164.2 837.5,255.6 834.6,183.2 820.4,217.1 831.4,322.8 838.8,156.4 814.7,185.9 825.4,197.5 819.7,300.7 835.4,259.5 821.5,219.9 840.5,204.8 820.9,179.2 821.8,281.9 841.3,220.4 834.7,155.5 833.7,234.1 819.7,284.2 813.8,238 827.5,336.9 829.7,260.3 810.5,199.6 819.2,292.4 841.4,217.2 812.7,225.2 814.3,181.1 835.1,211.3 822.8,337.2 821.7,306.8 824.5,126 811.1,172.1 824.9,207.6 822.7,258.1 819.7,256.9 825.1,122.8 828.2,323.7 839.9,159.6 828.3,132.7 832.1,216.1 825,356.8 840.8,223.6 815.8,188.2 828.9,364.4 842.4,207.6 824.7,187.8 827.3,393.2 813.4,194.5 827.4,181.8 815.3,170.7"/>
<path class="p3" d="M869.5,496.1 866.3,476.3 878.1,534.1 862.1,516.6 867.8,462.1 871.8,511.4 859.4,510.1 874.5,473.8 880.6,527.7 868.6,503.2 868.4,494.1 873,472.1 873,488.6 871.5,448.8 879.6,491.5 881.6,505.3 875.1,489.5 870.5,518.7 881.9,521.3 880,515.5 862.6,490.9 863.9,484.5 866.8,468.5 871.9,486.4 870.4,419 881.9,511.7 862,502.2 878,526.1 868.7,455.7 860.4,503.7 881.4,512.3 872.1,444.5 864.6,507.1 861.7,499 871.9,475.7 868.5,551.7 880.3,495.7 863.1,503.9 872.7,501.9 860.2,526.1 880.4,509.2 874.6,480.1 876.5,519.2 873.5,520.7 868.3,465 870,499.9 876.7,476.5 861.6,521.1 861,529.3 871.3,407.1 871.9,523.9 868,485.9 877.6,510.8 873,454.1 874.9,522.3 878.1,482.9 862.9,487.7 859.4,519.7 869.3,449.3 872.8,465.5 871.4,558.5 870.1,456.1 861.7,508.7 868.3,458.9 871.3,481.5 881.6,506.2 867.9,548.1 865.1,517.3 860.3,506.9 866.6,490.2 866,533.3 877.1,482.9 866.9,497.9 875.3,500.2 868.6,528.5 863.6,495.1 867.3,465.3 874.3,463.7 866.3,471.7 869.5,554.8 865.8,542.1 868,480.5 869.5,536.5 867.9,543.5 859.8,513.3 876.9,504.2 866.6,514.4 882.5,518.4 873,550.1 877.1,537.3 870.9,490.6 871,467.8 871.4,505.2 861.8,494.1 864.8,500.7 870.6,471.4 872,556.5 871.2,539.9 876.7,533.6 874.8,543.7 872.5,553.3 873.7,528.9 869.8,451.9 881.1,524.7 871.2,530.5 871,517.6 870.2,551.5 869,467.2 872.5,514.6 873.1,536.9 882.5,518.1 865.2,478.1 868.9,488 865.3,540.5 869.7,558.1 874,516.3 876.1,529.7 866.8,468.9 879.5,530.9 875.7,541.5 879.6,531.6 872,498.5 870.2,542 870.2,461.8 873.2,550.1 864,487.1 859.4,522.9 877.7,493.9 870.5,561.8 875.1,470 864.6,538.9 864.3,526 876,506.7 866.6,479.5 860.2,505.5 866.1,537.6 865.6,474.9 877.9,500.9 866.3,530.3 867.4,501.5 875.7,477.3 864.7,489 873.6,544.5 871.9,443.4 882.5,514.9 871.4,412.7 877.3,479.7 867.2,526.8 868.1,472.6 870,483.2 872.4,534.8 874.4,496.7 873.4,457.3 868,538.9 873.1,460.4 874.7,532.7 869.8,525.2 870.3,506.6 874.7,510.1 859.1,518.2 866.1,493.3 864.5,497.2 869.6,446.1 882.3,508.5 875.4,525.5 872.8,542.8 870,441.3 881.2,502.1 866.2,523.5 873.2,508.5 870.9,565.4 868.2,534 874,546.9 870.9,433.9 864.3,481.3 875.5,513.2 872.8,478.4 879.4,520 868.1,515.8 873.1,494.7 863.7,529.4 875.9,540.5 877.2,535.7 875.6,485.2 872.7,450.9 869.2,474.7 869.6,512.7 860.6,515.1 875.3,492.9 863.2,522.8 861.2,497.3 862.2,491.2 863.5,535.7 871.4,552.7 867.5,508 870.7,492.1 879.1,489.3 874.6,538.4 881.1,524.5 876.9,487.4 879.7,492.5 869,522 871.3,457.2 861.7,531.2 878.9,507.8 869.4,545.9 870.3,532 879.5,502.6 870.7,445.7 868.9,509.7 880.4,499.4 860.6,524.4 866.8,545.3 875.9,473.3 879.1,495.6 877.7,523.1 864.4,535.3 870.7,426.2 866.3,484.3 868.6,459.1 867.5,520.3 878.5,513.8 871.8,463.8 873.9,460.5 865.8,504.9 875,466.9 871.3,547.4 874.1,503.7 872.4,447.7 872.2,453.1 869.1,452.5 879,528.1 880.8,521.4 881.2,498.9 873.6,483.9 863,510.5 877,517.1 875.5,470.1 860,511.9 862,527.7 867.8,548.5 864.4,482.2 869.2,554.9 865.9,511 859.3,516.5 869.8,477.8 878.4,486.1 864.5,519.5 862.4,532.5 863.6,513.4 876.9,497.3 861,500.5 872.5,527.2 862.4,587.5 871.3,587.5 873.7,587.5 860,587.5 884.9,587.5 884.1,587.5 853.6,587.5 880.1,587.5 887.4,587.5 860.8,587.5 886.6,587.5 857.6,587.5 864,587.5 872.1,587.5 888.2,587.5 855.2,587.5 874.5,587.5 882.5,587.5 885.7,587.5 869.7,587.5 863.2,587.5 854.4,587.5 870.5,587.5 876.1,587.5 865.6,587.5 877.7,587.5 867.2,587.5 878.5,587.5 868,587.5 858.4,587.5 881.7,587.5 864.8,587.5 866.4,587.5 856.8,587.5 859.2,587.5 880.9,587.5 868.8,587.5 879.3,587.5 872.9,587.5 875.3,587.5 861.6,587.5 883.3,587.5 876.9,587.5 856,587.5"/>
<path class="p4" d="M920.5,225.7 910.2,195.9 914.1,191.2 906,255.1 900.7,280.7 926.7,224.3 907.6,225.8 920.2,201.3 903.9,270.1 924.2,277.8 919.5,240.5 915.1,450.2 920.2,359.4 910.1,340.4 918.5,262 904.5,241.3 914.6,397.7 910.1,257.7 912.1,315.9 926.8,238.9 908.4,278.4 914.5,490.7 911.5,204.2 914.7,334.9 912,240.2 903.6,307.1 907.8,249.7 905.2,216.1 916.7,351.8 921.2,344.8 916.3,280.5 914.8,377.1 914.2,363.4 928.9,265.9 930.6,252.4 923.7,247.2 909.6,327.7 912.2,267 910.1,301.5 920.5,269.2 916.9,303.5 928.9,281.6 922.5,253.4 906.5,298.7 906.3,321.7 904.7,333.1 920.6,189.7 925.1,333.8 923.8,301 925.1,308 924.4,233 916.1,176.2 917.5,191.6 913.5,296 909.7,355.2 914.3,252.5 915.8,250.5 921,324.3 919.4,340.4 918.3,319 917.5,234.3 911.6,177.1 914.9,153.7 910.4,233.9 914,225 920.6,296.2 901.7,264.7 915.2,328 899.5,251.8 926.7,256.5 912.8,349.6 916.2,214.3 903.3,234.9"/>
<path class="p5" d="M962.2,519.8 953.6,464.3 956.7,445.1 968.2,478.7 955.3,462.8 949.2,500.2 951.4,476 951.5,504.5 967.4,523.5 971.5,509.2 961.7,487 963.5,513.2 957.6,488.4 964.2,485.2 950.7,501.5 966.6,480.7 960.9,525.8 964.3,459.5 960.1,458.7 947.4,499.5 971.4,501.1 962.4,468.3 950.4,518.5 964,504.1 961.1,518.1 958.6,497.9 955.1,459.8 971.1,494.7 965.5,527.1 968.2,510.9 969.7,491.2 963.1,529.2 953,508.4 961.9,472.9 960.1,443.7 960.1,502.7 969.1,481.9 962.7,449.9 952,489.2 962.8,477.7 957,481.2 961.2,534.3 949.3,494 957.7,545.6 953.8,502.4 960.4,430.7 958.3,515.9 959.2,555.4 964.8,529.9 957.9,472.6 952.8,516.8 949,515.2 947.5,497.2 956.2,450.8 960.9,545.9 969.7,488.3 958.9,429.8 967,476.5 965.7,465.9 954.6,514.2 956.2,534.7 963.7,456.3 961.4,542.7 958.7,551.3 960.8,470.6 960.6,479.6 960.4,490.3 962,446.7 952.4,492.4 970.7,497.4 950.8,487.5 953.7,485.8 953.3,471.4 964.7,498.3 956,511.2 958.3,477.1 959.6,465.3 958,436.6 957.1,544.3 959.8,538.1 950.3,522.2 956.3,486.5 964,492 966,489.6 961.6,540.6 963.2,501.1 955.3,493.2 951.6,513.6 959.6,407.1 959.3,508.6 960.5,514.6 966.4,513.8 958.6,533.3 954.6,505.1 962.1,535.7 953.9,473.7 965.1,478.6 959,485 964,533.1 968.6,520.3 962.4,463.6 962.1,539.5 946.8,509 949,490.8 958,527.7 965.7,495.8 959,467.7 960.1,547.1 967.8,499 949.9,507.4 963.4,460.6 960.9,439.8 967,492.8 952.2,528.3 956.7,525.1 951.3,473.9 962.7,495 968.8,506.5 965.2,524.7 963.3,523.4 962.6,452.1 965.1,462.7 948.4,489.9 959.5,483.4 966.6,517 964.4,482.6 947.6,503.1 967.2,504.8 965.5,466.8 966.9,486 961.7,443.5 968.5,487.8 957.7,537 960,428.9 956,479.3 964.4,532.1 960.9,446.6 966.4,469.1 954.7,490 964.6,520.6 963.1,488.7 959.4,414.3 969.6,512.3 966.3,501.9 956.8,456 956.5,530.2 957.1,441.9 959.9,543.8 965.6,471.8 954.6,528.9 963.1,453.1 954.2,461.1 967,472.3 970.3,503.6 962.1,511.7 966,526.7 964.3,469.5 962.5,507.1 954.5,483 953.3,465.9 967.7,475.5 960.4,549.1 957.6,445.2 955.5,469.1 953.7,496.3 970.7,491.5 955.9,451.5 946.9,502.7 959.7,496.6 958.2,461.2 956.3,539.5 948.3,505.9 968,522.5 971.2,507.5 965.2,510 963,536.3 949.9,511.9 957.1,519.2 959.7,521.7 950.8,477.1 956.2,506.6 947.6,509.1 956.3,541.1 971,504.3 958.2,491.6 957.5,438.7 952.8,510.4 957.7,458 955.8,475 958.7,558.7 949.3,484 952.9,467.5 960.6,433.9 953.8,531.8 959,453.1 950.1,521.9 957.5,512.8 954.8,521.3 960.9,505.6 962.3,457.1 950.4,480.3 961.9,481.4 958.9,421.9 956.3,448.3 952.1,520.1 969.7,485.1 969.8,515.4 961.6,499.8 957,501 949.7,483.5 969.2,484.1 947.2,505.9 956.7,494.7 969.4,500.3 947.8,512.3 971.4,497.9 961,437.1 971,510.7 950.7,495.4 968.6,494.3 955.6,537.9 958.8,523.3 959.6,450.2 958,550.7 956.5,464.5 957.8,435.5 964,516.3 960.9,462 955.7,517.7 955.3,454.7 954.4,524 959,440.8 951.4,525.1 970.3,513.9 961.1,493.6 947.9,515.5 960.9,454.5 954.6,457.9 957.5,547.5 953,526.4 958,432.3 947.7,496.3 959.7,531.1 948.1,493.1 961.3,440.3 965.6,507.9 952.4,498.6 952,470.7 957.1,470 955.5,499.2 957.7,503.7 959.9,475.4 958.1,448.5 969.4,517.1 951.2,480.2 961.6,528.1 958.5,541.5 948.9,486.7 952.1,481.9 959,509.8 964,474.3 953.5,531.5 959.6,434.3 954.5,534.7 953.8,478.1 967.6,518.8 949.3,518.7 957.2,587.5 949.2,587.5 970.1,587.5 960.4,587.5 945.1,587.5 974.9,587.5 950.8,587.5 959.6,587.5 945.9,587.5 967.7,587.5 954.8,587.5 965.3,587.5 944.3,587.5 958,587.5 976.5,587.5 954,587.5 966.9,587.5 958.8,587.5 972.5,587.5 971.7,587.5 975.7,587.5 956.4,587.5 946.7,587.5 942.7,587.5 953.2,587.5 943.5,587.5 962,587.5 964.5,587.5 962.8,587.5 966.1,587.5 969.3,587.5 973.3,587.5 952.4,587.5 947.6,587.5 941.9,587.5 970.9,587.5 948.4,587.5 974.1,587.5 950,587.5 961.2,587.5 963.6,587.5 968.5,587.5 955.6,587.5 951.6,587.5"/>
<path class="p6" d="M1000.8,547.3 1003.3,465 1003.6,425.2 993.8,518.7 1005.1,467.4 1014.1,500.9 1011.9,492.3 992.1,512.1 1007.6,473.8 996.8,534.5 993.4,524.9 993.1,502.5 996.8,502 999.4,490.3 1005.3,548.9 1011.2,517.3 1004.1,553.4 1003.1,431.9 1005.3,476 1000.9,485.2 1006.7,542.5 1004,479.4 1010,494.5 1012.8,494.5 996,486.5 997.8,507 1002.5,516.1 998.4,521.6 1003.5,460.2 1007.8,537.6 995.9,513.2 1002.8,481.9 1003.7,490.8 995.5,489.7 1014.5,510.5 1006.8,520.2 1013.4,523.3 995,506 992,507.8 1005.9,459.3 1006.4,462.5 1007.8,534.5 1002.6,475 1002.3,458.2 1006.8,465.7 999.1,534 1012.6,519 1009.1,506.3 1003.8,449.4 1006.3,505.4 1013.5,511.9 1001.5,550.5 1002.9,523.5 1000.1,540.9 1005.5,456.1 999.8,530 1003.3,419.6 994.3,496.1 999.9,544.1 1010.3,481.7 1001.7,487.7 1006.1,511.1 1006.2,482.6 1003.9,521.9 1007.9,539.3 995.5,496.1 1005.8,488.4 1006.3,533.1 1002,553.7 1006.4,528.2 998.8,473.7 1001.3,457.7 1010.6,525.1 1008.2,484.4 1000.5,494.9 1008.3,516.4 1004.1,499.5 995.9,531.1 1006.4,469.6 1010.6,513.9 1004.9,503.7 1011,484.9 1013.7,520.1 998.8,514.4 997.7,524.3 1008.8,475.3 1013.7,523 1011.5,496.7 1001,478.7 1007.5,501.6 992.1,508.9 1000.5,464.1 1009.2,498.7 1009,509.4 1014.2,515.6 1001.7,454.5 1002.1,454.1 1002.2,470.4 1004.4,455.6 1001.9,568.8 1003.2,508.9 1001.8,527.7 992.2,518.5 1007.6,512.8 1011,529.7 1002,451.3 1005.6,541.7 997.8,537.7 1006.9,478 1010.3,502.5 1014.9,513.7 1009.5,521 1009.6,487 1006.5,464.4 1005.8,548.3 998.2,536.8 1012.2,526.5 1014.7,508.2 1004.7,540 994.9,491.7 1001.1,519.8 999.2,470.5 1005.4,525.8 1002.9,492.7 999.8,472.6 1014.7,516.9 1003.9,560.4 1012.7,500.7 1001.6,497.2 1001.8,512.4 999,499 994.5,528.1 997.5,488.9 1003.3,550.3 1000.3,510.7 1011.5,488.1 1004.8,552.1 999.8,477.2 1003.9,440.3 999,540.9 995.5,520.7 998.1,476.9 998.2,494 1002.2,501 992.5,521.7 996.5,498.3 1011.8,504.7 1011.9,510.2 1013.5,497.7 997.4,509.6 999.2,483.8 994.6,492.9 1005.4,518.2 1004.3,536.5 1004.6,485.8 1008.2,524 1001.6,543.3 1001,535.2 1000.6,546.7 992.9,505.7 1001,460.9 993.2,499.3 999.8,467.3 1008,489.9 1009.4,481.3 1007.5,493.3 1008.1,472.1 1004.7,514.6 1008.9,536.1 995.6,526.5 1002.2,539.1 1002.6,532.5 1010.4,531.9 1003,558.2 996.6,517.1 993.6,500.4 1006,545.7 1010.2,532.9 1004.4,471.8 993,522.4 1000.7,505 999.4,503.3 993.8,504.2 1003.5,507.5 1005.3,495.4 1009.3,478.5 997.3,528.5 994.5,511.5 996.6,483.3 1007.4,468.9 1008.5,529.5 1014.2,504.1 1006.6,497.5 1000.6,462.6 1003.2,446.7 1004.1,530.4 995.6,531.3 1011.4,526.9 996.9,486.6 1014.3,507.3 1005.1,452.9 997.5,480.1 992.3,515.3 1012.1,491.3 1000.4,525.2 1003.5,553.2 997.7,480.5 1004.8,449.7 1001.4,468 999.6,517.9 1003.4,545.3 992.9,515.2 1001.4,587.5 1003,587.5 1007,587.5 1005.4,587.5 986.9,587.5 987.7,587.5 1009.4,587.5 996.6,587.5 998.2,587.5 994.1,587.5 1014.3,587.5 1013.5,587.5 1016.7,587.5 990.9,587.5 995.8,587.5 993.3,587.5 1002.2,587.5 991.7,587.5 1017.5,587.5 1020.7,587.5 1007.8,587.5 1011,587.5 1006.2,587.5 1011.8,587.5 1008.6,587.5 1010.2,587.5 1018.3,587.5 1019.9,587.5 1004.6,587.5 1012.7,587.5 995,587.5 1003.8,587.5 992.5,587.5 999.8,587.5 986.1,587.5 1000.6,587.5 989.3,587.5 988.5,587.5 997.4,587.5 1015.9,587.5 1015.1,587.5 990.1,587.5 1019.1,587.5 999,587.5"/>
<path class="p7" d="M1060.9,399.3 1056.6,339.1 1037.4,287.2 1033.6,411.7 1052,282.7 1038.5,420.7 1055.6,477.7 1034.9,431 1043.3,265.3 1056.3,540.9 1043.8,521.3 1036.9,434 1041.7,374.3 1062.3,366.2 1040.9,543.2 1038.9,350.4 1040.6,362.5 1057.3,461.3 1041.3,261.8 1061.2,519.2 1061.1,357.2 1050.7,325.9 1062.2,342.4 1056.9,402.9 1059.3,431.9 1036.6,538.1 1037.2,517.9 1063.2,389.5 1041.2,482.3 1052,472.7 1033,341 1058.9,533.5 1054.6,345.3 1061.3,495.9 1051.3,508 1039.6,454.5 1055.1,394.6 1045.8,548.3 1060.8,316.8 1038.7,506.8 1057.3,279.6 1037.7,339 1045,465.5 1050.9,273.3 1041.6,518.4 1036.5,362.5 1042.8,352.1 1047.8,314.3 1060.7,536.7 1041.3,411.2 1033.7,545.3 1056.4,559.4 1053.6,498.9 1040.1,322.7 1049,411.3 1047.8,388.4 1045.1,399.8 1047.1,320.8 1043.1,398 1036.2,512.2 1049.2,514.9 1048.1,525.2 1037.8,273.3 1054.9,530.6 1034.7,354.5 1046.1,414 1034.2,314.6 1054.1,321.1 1050.3,518.5 1046.9,344.9 1045.9,517.3 1053,401.1 1055.9,501.3 1042.4,422.2 1036.2,463.3 1049.9,374.3 1051.8,499.2 1043.6,324 1057.6,323 1061.3,443.4 1051.8,433.1 1037.3,401.6 1036.5,326 1037.5,370.7 1036.6,555.9 1049,341.6 1042.8,554.9 1042.8,507.3 1058.1,371.7 1057,292.3 1059,465.1 1063.4,516.6 1054.7,517.5 1063.6,527.1 1033.6,343.7 1054.4,307.7 1059.1,518 1055.7,554.2 1039.5,524.9 1031.2,504.9 1048.5,544.5 1044.8,357.7 1047.8,503.9 1050.2,462.7 1045.8,366.3 1048.2,223.6 1044.3,432.5 1052.3,263.2 1057.1,362.5 1048,441.1 1044.9,510.3 1043.1,277.3 1053.7,276.7 1039.5,553.9 1057.6,421.7 1031.8,516 1055,285.1 1049,405.8 1034.3,508.9 1051,300.3 1059.9,332 1033.4,441.7 1052.9,358.3 1043.2,462.3 1040.6,437.8 1043.8,498.7 1061.6,413.4 1040.7,273.6 1060.3,546.9 1043.4,285.5 1052.8,549.2 1049.2,555.6 1052.8,338.2 1053.5,511.5 1045.6,497.6 1041,313.1 1035.7,386.7 1049.3,236.3 1046.4,281.6 1040.6,283.9 1037.8,476 1059.7,506.9 1041.4,340 1046.7,445 1047.1,393.3 1042.5,534.7 1032.8,518.7 1051.5,228.2 1039.8,387.6 1033.7,484.5 1057.2,274.4 1038.2,532.1 1030.9,525.5 1055.4,505.8 1053.9,450.8 1038.1,300.3 1040.5,514 1032.4,365.8 1049.2,286.5 1044.6,298.2 1048.9,363.7 1051,398.2 1048.4,277.3 1043.9,224.1 1053.8,419.2 1045.2,337.3 1058.8,351.8 1047.1,505.8 1043.7,376.5 1063.7,505.3 1054,366.6 1050.6,536.5 1052.6,537.4 1046.2,236.2 1055.5,436.9 1035.8,500.4 1049.6,565 1039.1,395 1049.9,429.7 1048.5,484.1 1034.5,536.6 1062,509.5 1047.9,266.9 1044.6,537 1047.3,179.3 1035.2,398.6 1039.6,503 1057.9,513.3 1051.9,378.7 1046.2,222.4 1052.5,522.1 1041.2,403.2 1046.5,529.2 1033.5,375.1 1037.6,278.2 1050.9,353.6 1031.7,388.6 1056.8,523.9 1035.1,523 1060.2,375.4 1059,396.5 1055.9,387 1044.2,587.5 1047.6,587.5 1051,587.5"/>
<path class="p8" d="M1098.8,314.1 1093.8,156.8 1082.8,260.4 1088.8,179.3 1088.8,230.5 1091.8,95 1089.8,377.1 1082.8,374 1085.8,321 1092.8,321 1093.8,239.2 1097.8,359.7 1098.8,405.2 1089.8,275.4 1082.8,295.4 1104.8,326.6 1100.8,268.5 1079.8,326.6 1097.8,213 1085.8,369 1091.8,340.9 1093.8,374 1100.8,374 1095.8,281 1089.3,587.5 1101.2,587.5 1096.3,587.5 1077.5,587.5 1106.8,587.5 1090,587.5 1103.3,587.5 1085.1,587.5 1083,587.5 1093.5,587.5 1100.5,587.5 1101.9,587.5 1088.6,587.5 1104,587.5 1082.3,587.5 1080.9,587.5 1078.2,587.5 1099.1,587.5 1081.6,587.5 1102.6,587.5 1095.6,587.5 1080.2,587.5 1098.4,587.5 1092.1,587.5 1091.4,587.5 1083.7,587.5 1104.7,587.5 1086.5,587.5 1076.8,587.5 1097,587.5 1094.2,587.5 1090.7,587.5 1085.8,587.5 1097.7,587.5 1078.9,587.5 1079.6,587.5 1106.1,587.5 1099.8,587.5 1092.8,587.5 1094.9,587.5 1087.2,587.5 1105.4,587.5 1087.9,587.5 1084.4,587.5"/>
<path class="p9" d="M1133.4,523 1134.3,548.7 1125.6,523.1 1146.8,510.7 1137.9,431.9 1125.7,504.9 1136.1,438.4 1145.2,526.4 1129.3,532.7 1129.8,512.6 1123.2,513.5 1135.8,443.4 1140.7,497.3 1138.9,479.1 1134.7,478.9 1134.5,427.1 1141.2,480.2 1131,488.5 1142.3,503.1 1134,465.2 1136.3,550.7 1145.7,503.8 1142.9,473 1133.9,433.5 1147,492.7 1137.7,428.7 1125.5,489.5 1127.4,517.5 1133.2,511.2 1140.6,467.6 1140.6,520.2 1137.7,469.3 1138.9,487.1 1131.8,521.5 1138.6,515.7 1140.8,460.7 1145.1,509.4 1135.5,537.1 1132.3,452.7 1127.7,482 1129.1,472.7 1149.1,511.9 1128.9,475.1 1141.5,475.7 1143.8,491.4 1139.9,454.3 1138.8,441.5 1142.4,530.7 1147.9,495.9 1142.5,531.1 1135.9,400.2 1135.1,483 1136.9,423.5 1141.9,467.1 1124.7,510.5 1137.9,537.7 1141.7,508.7 1138.6,440.8 1139.9,483.5 1133.7,516.7 1130.7,535.9 1142,514.2 1134.9,436.1 1128.2,497.7 1146.7,516.4 1148.5,515.1 1137.3,444.4 1130.1,468.7 1136.4,489.1 1143.2,518 1131,466.7 1124.6,518.9 1137.1,422.3 1124.6,519.9 1136.9,518.8 1137.7,476.9 1142.5,500.9 1130.3,483.7 1141.6,488.1 1137.9,545.3 1133.5,543.7 1146.3,490 1134.6,431.3 1135.2,553.4 1144.4,482.4 1133.8,476.5 1138.6,438.3 1136.2,559.6 1143.7,527.9 1125.6,516.1 1147.5,505.3 1142.8,494.7 1139.4,470.4 1138.2,543.9 1126.1,487.9 1131.7,459.4 1143,473.5 1130.3,479.9 1148.9,502.3 1145.2,483.1 1129.1,503.5 1147.3,518.3 1131.9,455.9 1141.3,524.4 1135.5,547.5 1129.7,477.6 1137.6,498.7 1137.1,550.3 1126.4,511.7 1132.4,480.7 1132,475.1 1137.6,485.3 1139.5,474.3 1133,451 1136.8,466.3 1123.3,507.1 1122.9,502 1131.2,527.8 1135.7,502.8 1127.9,529.5 1135.3,513.9 1126.4,500.4 1144.4,522.7 1131.3,498.4 1123.9,507.5 1133.4,439.5 1134.2,445.6 1143.7,476.7 1133.6,545.5 1131.4,459.1 1142.5,470.3 1133.6,529 1132.9,446.3 1132.6,449.5 1145.2,524.7 1131,525 1139.1,540.7 1127,481.5 1124.6,495.9 1135.6,427.9 1146.4,521.5 1123.1,513.2 1134.6,519.7 1133.3,439.9 1140.3,457.5 1128.8,520.7 1137.3,454.8 1138.4,531.9 1135.8,410.2 1124.9,491.1 1138,462.6 1128.1,509.2 1140.3,460.4 1138.5,456.7 1142.2,528.3 1145.6,499.5 1126.3,522.3 1129.6,529.8 1131.9,539.1 1136.5,429.8 1132.4,504.2 1137.2,434.6 1148.4,507.9 1138.5,540.2 1133.2,455.6 1132.5,492.1 1139.8,533.2 1129.5,471.9 1136.9,481.4 1133.4,539 1138.8,523.5 1131.5,509.8 1134.5,468.3 1122.8,510.3 1145.5,493.3 1140.2,527.3 1130.7,535.2 1136.1,471.7 1148.7,508.7 1139.7,494 1142.4,484.4 1129.5,501.1 1126.7,484.7 1134.5,496.7 1136.7,450.1 1140.9,490.8 1127.3,506.2 1133.8,493.6 1145.2,515.1 1137.4,425.5 1135.4,461.6 1143.4,512.1 1144.8,479.9 1133.6,436.7 1130.7,495.4 1132.8,499.9 1141.4,463.9 1131.4,532.5 1139.4,464 1135.6,526.9 1134.8,531.4 1148.9,505.5 1124.5,494.3 1132.6,484.8 1129.7,491.3 1140.1,537.5 1134.1,457.7 1148.9,502.3 1148.7,499.1 1134.8,423.9 1128.5,487.7 1134.8,551.9 1136.1,525.5 1140.8,505.9 1140.1,517.2 1134.7,541.5 1128.1,478.3 1136.6,512.8 1131.3,469.8 1146.8,519.6 1137.5,521.7 1148.7,513.6 1133.8,486.7 1134,505.7 1139.8,451.1 1134.9,508.3 1137.7,529.5 1138.3,435.1 1135.8,474 1136.1,417.6 1136.5,534.6 1137.4,507.2 1138.3,447.3 1127.6,485.7 1144.2,506.6 1124.9,498.9 1130.7,506.8 1132.8,542.3 1137.6,547.1 1135.3,453.2 1136.3,459 1135,448.2 1139.1,452.1 1141.3,534.3 1139.1,504.6 1135.1,420.4 1136.3,390.9 1128.7,514.7 1139.4,447.9 1143.4,521 1128.2,524 1140,511.6 1123,503.9 1133.2,443.1 1130.6,465.5 1132.7,471.1 1143.9,497.9 1136,501.7 1134.2,430.3 1123.9,500.7 1146.8,496.5 1143,478.3 1127.8,494.5 1140.8,536.1 1126.6,492.7 1133.4,533.7 1126.4,526 1132.8,463.2 1139,444.7 1127,526.3 1130.9,462.3 1144,486.5 1135.3,490.2 1123.9,497.5 1132,515.4 1136.8,495.6 1139.3,500.1 1136.4,542.8 1138.3,510.2 1123.5,516.7 1145.9,486.3 1130.7,518.2 1138.2,492.6 1147,489.5 1126.7,587.5 1139.6,587.5 1149.2,587.5 1128.3,587.5 1125.9,587.5 1146.8,587.5 1130.7,587.5 1122.7,587.5 1144.4,587.5 1125.1,587.5 1131.5,587.5 1151.6,587.5 1138,587.5 1120.2,587.5 1140.4,587.5 1141.2,587.5 1142,587.5 1143.6,587.5 1119.4,587.5 1133.1,587.5 1121.1,587.5 1137.1,587.5 1132.3,587.5 1127.5,587.5 1138.8,587.5 1146,587.5 1124.3,587.5 1135.5,587.5 1118.6,587.5 1129.1,587.5 1129.9,587.5 1150,587.5 1121.9,587.5 1145.2,587.5 1123.5,587.5 1148.4,587.5 1153.2,587.5 1136.3,587.5 1134.7,587.5 1142.8,587.5 1147.6,587.5 1152.4,587.5 1150.8,587.5 1133.9,587.5"/>
<path class="p10" d="M1185.6,476.9 1170.3,532.2 1179.2,491.2 1181.2,479.9 1177.4,503.6 1186.4,531.5 1174.2,536.3 1189.3,528.5 1177.5,522.6 1170.3,508.3 1192.7,538.7 1185.5,556 1182.4,537.2 1186.7,514 1168,540.4 1177.4,560.6 1188,492.4 1176.3,538.8 1166,537.2 1179.7,551.2 1192.8,522.6 1182.2,494.3 1176.6,477.3 1173.4,529.1 1165.2,547.7 1178.4,530.8 1190.6,534.8 1174.3,557.1 1175.7,518.9 1173.3,562.5 1180.1,455.1 1169.8,523.4 1183.2,518.9 1190,497.3 1193.8,512.6 1182.9,471.2 1175,471.8 1185.2,522.7 1166.6,510.6 1187.7,508.4 1174.9,466.2 1173.4,492 1168.1,520 1184.5,539 1184.2,505.7 1187.1,560.3 1178.5,463.6 1172.1,515.8 1193.6,550.7 1170.1,495.2 1170.2,488.8 1182.7,460.3 1186,466.3 1188.6,540.7 1172.1,542.3 1176.2,494 1190.5,516.9 1183.5,450.8 1165.4,529.5 1177.1,461.8 1179.7,439.6 1190.6,490.4 1184.5,462.7 1182.1,562.1 1179.1,468.9 1194.3,529.9 1181.7,465.1 1173.7,510.3 1179.4,513.9 1180.8,510.4 1181.4,529.3 1185,491.5 1180.4,543.7 1184.5,587.5 1175.7,587.5 1181.6,587.5 1178.7,587.5"/>
<path class="p11" d="M1222.8,527.9 1227.2,499.6 1234.7,520 1225.9,513.9 1224.1,511.1 1217,518.5 1229.2,501.6 1212.4,508.4 1211.3,514.1 1230.3,524.1 1222.2,520.1 1210.1,510.9 1225.2,444.5 1229.2,527.8 1219.3,507.8 1228.4,490.2 1224,402.1 1229.3,481.2 1219.1,474.5 1219.7,480.9 1230.2,487.7 1225,476.1 1212.5,516.5 1218.2,501.7 1228.4,520.1 1222,529.9 1224.2,531.8 1220.9,502.4 1223.8,452.9 1235,512.1 1224.7,500.1 1219.2,458.1 1234.5,501 1216,516 1221.7,482.7 1225.2,505.4 1227.9,467.7 1231.5,509.7 1220.6,531.5 1228.4,452.5 1213.1,512.8 1222.8,460.2 1227,473.8 1224.4,510.1 1217.2,476.1 1232,517.1 1216.1,520.5 1218.1,523.2 1225.4,436.3 1227.1,529.1 1220.4,518.9 1214.4,516.7 1220.9,508.8 1216.1,498.5 1223.7,518.1 1237.3,517.9 1222.4,445.4 1225.3,535 1229.5,512.9 1230.4,518.3 1213.9,509.4 1238.4,511 1218.1,472.1 1215,513.1 1223.7,501.5 1220.9,463.2 1227.9,531.6 1226.3,447.8 1221.2,524.9 1222.8,448.9 1231.3,520.6 1225.9,498.1 1224.4,466.2 1231.2,504.4 1221.1,498 1226.2,453.6 1214.2,519.8 1219.4,461.1 1223.1,472.6 1231.7,467.1 1215,502.8 1219.6,516.2 1232.1,502 1223.1,522.3 1219.6,499.8 1212.5,505.5 1235.6,505.8 1229.8,499.8 1213.8,521.6 1218,517.5 1216.9,466.3 1224.1,467.3 1220.6,491.1 1222.4,455.4 1227.9,462.9 1226,469.9 1231.3,511.1 1221.1,474.9 1227.7,512.4 1232.2,494 1214.1,500.7 1224.4,531.3 1224,438.7 1231.4,477.6 1227.9,509.3 1236.8,512.8 1234,522.2 1222.8,505.9 1227.6,454.7 1232,498.7 1216.2,503.8 1222.2,503.4 1216.4,492.9 1221.4,516.6 1218.6,513.6 1226.5,502.4 1229,474.8 1218.4,527.1 1237.7,514.7 1220.1,528.6 1222.1,469.6 1228.1,503.5 1226.7,516.4 1225.9,528.1 1226.9,519.2 1220.2,467.7 1216.8,511.7 1224.9,517.6 1224.7,406.5 1229.1,459.6 1218.7,490.1 1217.3,509.9 1226.5,489.1 1217.9,487.3 1219,497.6 1222.6,488.5 1224.6,448.9 1233.9,516 1234.8,508.8 1227.5,479.3 1233.7,518.6 1216.3,506.2 1230.4,515.9 1220.6,450.2 1225.2,521.4 1223.7,495.7 1221.3,453.9 1226.1,461 1232.6,506.8 1226.1,508.4 1230.6,497.9 1233.9,503.2 1225.1,456.2 1228.5,516.6 1222.3,512.8 1223.2,515.4 1220.4,512.2 1217.1,499.6 1218.9,505.3 1231,472.5 1233.2,513.3 1235.6,516.5 1224.5,491.2 1229.2,506 1211.2,517.8 1222.2,499.6 1229.9,469 1228.4,522.8 1219.3,520.9 1228.3,496.9 1223.7,538.3 1225.5,484.2 1225.5,525.2 1223.6,477.8 1219.1,587.5 1235.2,587.5 1236.8,587.5 1214.2,587.5 1230.3,587.5 1227.1,587.5 1227.9,587.5 1231.9,587.5 1210.2,587.5 1229.5,587.5 1216.7,587.5 1236,587.5 1219.9,587.5 1217.5,587.5 1231.1,587.5 1220.7,587.5 1221.5,587.5 1238.4,587.5 1211.8,587.5 1223.9,587.5 1225.5,587.5 1241.6,587.5 1218.3,587.5 1233.6,587.5 1234.4,587.5 1223.1,587.5 1240.8,587.5 1224.7,587.5 1232.7,587.5 1207,587.5 1207.8,587.5 1212.6,587.5 1215,587.5 1209.4,587.5 1240,587.5 1208.6,587.5 1222.3,587.5 1213.4,587.5 1237.6,587.5 1215.9,587.5 1239.2,587.5 1211,587.5 1228.7,587.5 1226.3,587.5"/>
<path class="p12" d="M1279.6,156.7 1281.5,246.1 1261.4,251.1 1277.1,231.8 1256.1,175.7 1281.4,228 1274.5,214.7 1263.5,212 1259.1,207.4 1261,233.9 1276.9,252 1264.2,139.4 1252.8,218.7 1268.8,365.3 1277.6,199.9 1262.3,191.6 1277.3,257.3 1261.5,182.9 1279.6,224.1 1284.1,219.8 1264,174.2 1275.5,220.6 1266.5,116.2 1266.9,220.4 1274.2,249.3 1270.1,218.3 1269,153.8 1257.1,216.8 1279.6,191.6 1271.9,140 1259.7,257.2 1268.4,309.7 1281.9,197 1270.6,256.4 1281.6,177.8 1278.8,217.2 1265.7,214.1 1254.8,213.6 1269,322.8 1271.1,226.8 1267.9,160 1256.7,229.8 1283.3,214 1276.8,207.1 1268.8,201.9 1268.6,316 1251.1,202.3 1252.8,186.9 1271.6,174.9 1266.6,188.5 1268.7,300.4 1271.3,127.7 1269,238.2 1273.1,229.3 1254.1,242.1 1263.6,153.8 1268.5,375.3 1267.6,246.9 1281.2,208.6 1283.6,187.4 1272.3,213.4 1261.4,218 1269.8,186.2 1267.9,205.4 1253.5,193.9 1255.6,198.7 1258.4,223.4 1270.9,193.6 1260,200 1261.3,163.3 1267.7,129.2 1257.6,180.3 1264.5,277.9 1254.4,227.1 1273.1,198.2 1262.7,225.1 1278,181.8 1268.6,294.1 1265.8,178 1278.9,172.3 1265,255.8 1264.9,229.1 1273.8,179.6 1264.4,197.1 1268.8,113.1 1285.6,202.6 1269.7,131.7 1257.9,155 1266.7,262.1 1258,191 1275.2,189.8 1271.4,263.5 1274.4,162.5"/>
<path class="p13" d="M1309.1,474 1308.3,476.9 1312.8,416.5 1315.6,459.2 1298.4,511.5 1310.9,530.5 1311.5,476.2 1313.1,479.4 1317.8,476.1 1313.5,513.3 1312.8,536.3 1316.5,508.3 1319.5,496.3 1304.5,493.3 1309.7,543.8 1318.3,482.7 1323,522.4 1321.4,503.6 1307.5,503.7 1314.5,532.5 1320.8,520 1304.6,525.2 1323.5,504.4 1315.4,538.6 1314.5,509.9 1309.5,497.2 1306.9,528.3 1306.8,518.9 1312.5,539.1 1312.8,505.5 1314.6,476.8 1311.9,543 1310.6,524.3 1308.9,536.5 1318.6,508.9 1312.4,422.1 1322.5,526.9 1306.7,481.8 1303.1,514.4 1314.9,519.1 1311.3,510.6 1324.3,502.4 1315.1,449.5 1310.9,518.5 1313.6,489.3 1309.7,516.2 1298.7,519.2 1304.2,503.2 1307.5,514.9 1319.9,525.3 1315.4,471.5 1305.5,517 1311.7,527.5 1316.6,456.1 1327.6,506.1 1312.8,462 1320.3,507.5 1313.6,540.7 1326.7,508.7 1317.8,512 1308.7,459.1 1327.2,521.4 1320.6,513.9 1297.7,505.9 1315.2,487.1 1297.4,520.7 1310,460.5 1297.7,510 1309.4,528.7 1302.6,518.7 1320,501.8 1315.6,511.4 1325.1,519.2 1300.1,508.7 1321,494 1308.8,454.1 1302.1,509.2 1300.3,504.2 1316.8,490.8 1300.5,512.2 1310,487.9 1306.8,463.5 1313.6,502.1 1309.2,504.4 1316.8,527.7 1313.7,526 1327.5,518.4 1302,504.5 1304.8,512.8 1318.9,528.5 1316.4,504.4 1313,492.7 1314.7,442.1 1314.7,497.7 1317,524.6 1329.3,513.5 1316.2,515.4 1327,516 1328.2,510.3 1315.7,523.1 1311.1,502.5 1324.4,507.8 1322,499.3 1308.3,487.3 1300.9,519.7 1320.1,505 1298.9,515.9 1314,517 1305.5,529.7 1324.2,523.4 1301.1,516.4 1312.4,445.7 1324.2,511.1 1296,513.5 1319.1,518.6 1302.8,510.8 1309.9,479.2 1312.4,506.5 1305.1,520.4 1307,511.3 1303.7,498.7 1311.8,484.3 1302,523.4 1315.1,535.3 1311.3,451.4 1312.3,466.1 1305,522.2 1313.8,475.3 1310.9,446.3 1318.3,516.3 1316.9,519.7 1308.9,519.5 1306.1,509.8 1310.7,474.2 1310.7,441.6 1318.5,465.9 1313.4,453.6 1312.2,521.6 1323.2,518.8 1322.8,509.2 1309.1,512 1313.9,446 1304,501.7 1307.1,501.9 1322.6,516.5 1307.5,475.5 1302.4,526.3 1307.9,525.8 1310.6,535.5 1310.4,500.9 1317.9,503.1 1308.1,532.7 1316.9,495.7 1311.8,513.6 1324.9,514.4 1304.5,507.5 1310.3,508.9 1319.6,521.7 1317,487.6 1317,474.1 1314,529.3 1326.4,511.6 1312.9,520.5 1319.2,529.9 1308.7,522.8 1316.7,501.4 1305.4,505.3 1319.8,510.8 1314.2,458.2 1300.4,502.4 1322.1,512.3 1311.5,457.9 1316.2,478 1314.5,504.1 1309.1,490.9 1307.3,495.9 1312.1,495.6 1297.1,517.6 1308.4,507.9 1317.8,587.5 1326,587.5 1310.3,587.5 1324.6,587.5 1323.9,587.5 1317.1,587.5 1304.1,587.5 1304.8,587.5 1308.2,587.5 1326.7,587.5 1321.2,587.5 1320.5,587.5 1321.9,587.5 1301.4,587.5 1299.3,587.5 1306.2,587.5 1312.3,587.5 1322.6,587.5 1318.5,587.5 1298,587.5 1327.4,587.5 1316.4,587.5 1319.2,587.5 1308.9,587.5 1303.4,587.5 1313.7,587.5 1300,587.5 1325.3,587.5 1313,587.5 1315.7,587.5 1311,587.5 1300.7,587.5 1298.6,587.5 1315.1,587.5 1314.4,587.5 1311.6,587.5 1319.8,587.5 1323.3,587.5 1309.6,587.5 1302.7,587.5 1306.8,587.5 1302.1,587.5 1307.5,587.5 1305.5,587.5"/>
<path class="p14" d="M1340.2,454.2 1343.9,424.2 1360.4,490.5 1352.6,421.6 1371.3,461.8 1349.2,384.7 1359.2,478 1352.2,490 1363.1,437.4 1368.4,408.2 1358,379.5 1360.4,460.6 1349.7,397.5 1370.6,410.2 1353.7,394.6 1354.4,436.8 1340.8,416.2 1344.4,481.4 1358,414.3 1352.3,386.3 1365.6,482.2 1364.8,456.2 1361.3,423.2 1347.8,431.4 1359.1,418.6 1365.7,385.8 1348.2,426.8 1364.2,443 1360.9,433.1 1354.8,363.5 1350.6,366 1352.7,538.4 1357.7,453.6 1361.4,480.3 1354.2,516 1356,455.3 1362,450.5 1349.5,413.7 1346.7,443.3 1357.1,483.4 1358.8,441 1346.4,493.8 1364.2,407.3 1362,382.8 1358.8,347.4 1348.6,518.4 1347.3,457.1 1352.2,432.1 1346,380.8 1351.7,460.4 1341.3,441.5 1346.2,417.8 1352.5,546.7 1370.5,498.8 1356.6,429.9 1340.2,483.5 1352.5,376.9 1369.1,458.4 1356.1,552.5 1368.1,382 1347.7,407.5 1349.5,467.8 1351.1,443.9 1354.3,492.7 1341.8,418.6 1344.6,392 1360.1,409.1 1343.4,435.6 1342.9,461.5 1348.9,453.2 1342.2,478.2 1362.8,500.4 1355.9,406.8 1343.4,409.7 1343.2,498.5 1354.8,556.3 1372.3,469.8 1350.7,498.3 1365.1,531.5 1354.9,470.3 1362.3,493.1 1365.7,426.4 1355.5,500.1 1358.3,498.4 1363.3,376.1 1369.9,479.4 1374.1,428.7 1355.5,371 1353.8,410.9 1360.2,372.1 1355,544.2 1356.3,485.2 1369.7,431.9 1345.2,465.2 1344.1,490.8 1361.1,543.8 1344.5,450.7 1345.7,508.5 1367.5,440.3 1353.3,448.5 1350,440.7 1362.6,521.5 1366.9,465.5 1357.9,544.8 1373.5,455.1 1362.2,411.1 1372.1,417.1 1367.8,418 1355.5,442.7 1357.2,522.8 1364.7,485.8 1367.9,473.8 1357.5,399.8 1349.9,375.8 1366.9,510.2 1368.6,443.9 1356.4,271.7 1363.6,470.8 1346,396.1 1362.6,463.9 1351.8,409 1368.6,489.8 1345.6,438.4 1350.7,474.9 1341.6,401.1 1370.8,448 1373.2,483.5 1351.9,502.9 1342.3,446.4 1359,506.9 1353.8,462.2 1360.1,516.8 1352.9,480.1 1348.6,482.9 1360,538.4 1364.3,368.7 1358.5,363.9 1370,418.7 1348.1,530.5 1346.3,472.6 1356.4,537 1363.5,417.7 1359.8,444.5 1357,427.7 1371.9,435.7 1354.8,417.2 1366.3,502 1359.2,390.7 1373,442.5 1358.2,468.1 1357.9,554 1355.8,382.4 1370.6,490.8 1339.5,427.8 1340.9,469 1351.9,522.5 1360.2,551.3 1372.1,404.5 1350.5,418.1 1365.3,430.9 1366.5,413 1365.1,396.5 1348.2,501.1 1368.7,394.2 1361.2,395.8 1345.4,411.8 1366.4,451.7 1348,488.3 1365.9,497.9 1356.8,587.5"/>
<path class="p15" d="M1404.6,448.9 1400.6,459.5 1399.9,394 1408.6,587.5 1387.7,587.5 1415.5,587.5 1412,587.5 1398.1,587.5 1405.1,587.5 1401.6,587.5 1391.2,587.5 1394.7,587.5"/>
<path class="p1" d="M100.6,1125.8 96.2,1140.7 93.5,1135.2 96.6,1149.1 100.5,1116.5 97.9,1025.8 97.6,1105.1 97.2,1145.5 95.6,1150.6 93.1,1119.9 94.9,1121.6 97,1155.5 98.3,1106.8 97.1,1151.4 100.3,1104.9 99.1,1145.7 92.8,1133.4 93.6,1122.7 101.1,1117.3 100.4,1136.3 94,1117.1 98.9,1110.5 97,1160 98,1150.1 99.5,1148.5 94.9,1136.4 97.8,1119.3 94.1,1125.6 97.3,1114.1 95.1,1108.5 97.1,1057 96.3,1134.8 101.5,1142.2 98,1154.4 100.2,1143.2 98.3,1155.2 94.2,1130.6 97.7,1089.1 100,1139.7 94.2,1145.4 99.3,1125.5 101.1,1130.7 97,1128.7 95.2,1115.2 100.4,1108.9 102.7,1138.4 99.1,1142.6 99.8,1120.7 94,1141.9 97.1,1109.3 98.9,1117.5 101,1145.5 99,1106 92.6,1128 96.9,1142.5 92.3,1137.7 96.2,1111.4 96.7,1125 94.2,1112.9 96.8,1106.4 101.2,1113.5 96.5,1100.4 94.7,1142.9 96.1,1098.4 95.3,1127.2 97.7,1136.5 97.4,1120.5 94.9,1104.7 99.8,1106.4 101,1121.8 98,1144.3 98,1094.4 101.9,1134.4 98.6,1098.4 99.5,1150.7 98.7,1141 98.6,1122.7 101.8,1124 96.6,1155.2 99.8,1111 96.1,1106.3 95.5,1119 99.1,1135.1 98,1112.2 97.4,1138.6 98.7,1093.2 96.4,1092.7 100.1,1118.7 97.1,1166.9 98,1127.3 95.9,1144.1 99.7,1129.4 102.1,1120.4 94.9,1139.8 94.4,1118.7 97.8,1077.6 101.2,1140.2 96.7,1117.5 96.2,1116.6 95.3,1111 96.1,1122.2 97.5,1067.6 98.3,1116.9 97.2,1094 97.6,1102.3 95.6,1132.4 99.3,1114.6 98.4,1132.7 95.6,1146.8 102.4,1128.4 103.6,1200.6 110.1,1200.6 83.5,1200.6 98.8,1200.6 90.8,1200.6 85.9,1200.6 105.2,1200.6 96.4,1200.6 114.9,1200.6 81.1,1200.6 111.7,1200.6 102.8,1200.6 94.8,1200.6 114.1,1200.6 85.1,1200.6 84.3,1200.6 113.3,1200.6 110.9,1200.6 80.3,1200.6 104.4,1200.6 95.6,1200.6 106,1200.6 106.9,1200.6 91.6,1200.6 86.7,1200.6 101.2,1200.6 108.5,1200.6 93.2,1200.6 109.3,1200.6 100.4,1200.6 99.6,1200.6 87.5,1200.6 90,1200.6 107.7,1200.6 102,1200.6 112.5,1200.6 89.2,1200.6 81.9,1200.6 97.2,1200.6 92.4,1200.6 82.7,1200.6 94,1200.6 98,1200.6 88.3,1200.6"/>
<path class="p2" d="M144.1,973.8 136.6,800.9 151.8,926.5 149,842.2 137.1,974.8 153.2,794.7 144.2,832.7 155.3,796 142.8,1000.9 155.8,822.9 152.5,819 146.5,993.7 154.4,779.3 141.6,1105.1 150.8,781.9 156,863.8 132.4,934.5 154,897.7 152.1,883.6 133.1,944.1 134.7,809 125.9,846.6 137.3,837.6 145.7,915.2 144.9,923.4 148.7,810.6 141.7,882.5 140.3,820.7 151.3,772.1 139.1,958.6 133.4,859.1 138,855.5 136.9,848.6 137.7,968.4 129.3,824 147.3,876.6 139.7,1033.7 133.9,764.9 142.5,894.5 129.9,829.2 137.7,782.3 151.2,862.3 149.7,826.3 125.9,800.1 130.5,808.3 140.5,1046.5 132.1,775.8 154.7,816.4 143.7,840.7 145.3,759.3 157.8,846.8 142.1,909.5 124.8,828.9 131.8,931.3 128.5,801.6 143.5,740.9 137.9,795.1 145.9,817.1 130.6,902.4 141.8,881.3 130.8,912.1 146.8,844.8 138.1,790.4 152.7,783.5 132.7,768.1 149.1,760.1 140.2,1010 143.1,1018.2 151,906.6 143.6,921.2 129.2,878.5 139.4,948.3 135.2,840.2 144.2,980.8 136.4,788.9 144.2,961.9 152.8,790.2 131.9,797.2 146.8,886 147.5,828.8 155,881.7 136.2,908.9 133.9,960.1 140.4,864.2 152.4,891.9 146.5,873.3 140.1,810.5 127.7,876.9 146.3,919.5 144.6,871.9 142.1,964.8 143.9,949 155.6,788.9 132.1,826.6 141.2,1082 155,802 139.3,998 146.7,994 144.2,1008.4 125.5,812.9 145,907.3 144.1,996 140.3,741.7 127.7,863.2 124.4,819.3 130.9,839.7 152.3,899 135.4,769.3 127.8,798.8 136.3,755.3 149,900.7 151,932.9 131.1,831.7 142.8,1037.9 138.2,964.2 157.1,859.3 138.7,828.4 128.4,880.1 133.6,930.4 143.1,830.2 124.7,835.7 140,787.2 143.5,1038.5 148.5,974.5 143.7,766.4 129.7,779.7 157.4,810.1 150.1,763.3 136.6,887.4 159,811.3 132.7,893.4 136,894.2 138.4,953.5 139.3,784.2 143.2,959.5 140.8,772.6 131.4,810.9 151.9,808.6 127.1,822.7 144.3,782.9 135.7,979.3 134.3,829.8 150.8,939.3 143.1,939.2 151,803.3 146.1,784.4 143.2,749 144.9,1019.3 142.8,901.9 150.8,897.4 145.9,837.9 144.6,751.5 130.1,795.9 142.1,1088.2 141.9,760.6 140,876.1 138.3,1002.5 145.4,879.8 146.4,996.9 132.8,921.9 146.4,927.9 141.7,793.4 131.7,873.9 137,816.9 127.1,867.3 141.4,1122.6 132.6,944.6 138.6,1017.7 144.3,1025.7 155.9,868.9 141.8,1069.5 135.7,811.7 140.3,1043.3 145.3,747.3 138.3,879.3 137.2,871.5 156.9,817.9 151.8,829.5 144.2,866 145.2,777.4 141.8,1043.1 147.3,850.1 140.6,973 151.6,797.7 140.7,799.5 144.4,913.3 136.2,985.7 143.3,863 145.5,1006.5 127.9,843.8 158.4,817.7 131.3,884.8 124.9,832.1 126.8,864.1 149.1,774.5 152.8,800.6 136.9,957.2 128.5,889.7 139.6,969.8 150.9,890.1 134.5,915.6 152.3,853.7 143.6,819.8 141.9,992.4 143.3,970.9 135.8,798 149.3,794 135.1,972.9 153.5,848.2 154.6,875.7 132.9,788.1 141,1040 130.4,818.7 142.5,934.7 150.3,948.9 129,834.4 131.6,771.3 132.6,800.2 139.8,1018.6 140.8,889 150.1,874 127.9,854.7 133.2,953.7 142.2,1023.7 144.2,891.3 139.4,1030.5 137.3,752.1 134.5,781.4 148.4,870.2 142.3,814.6 147.1,952.4 158.3,840.1 137.1,754.9 153.9,872.6 127.2,796.9 133.7,824.7 143.7,798.4 136.7,901.2 128.8,866.1 149.6,904.5 132.3,771.8 139.9,742.5 125.4,841.7 146.2,755.8 141.7,1162.5 144.2,1028.9 135.8,912 126.7,857.7 140.5,1000.1 156.5,838.7 147.5,980.9 151.9,918.4 139,849.8 145,932.1 157.4,852.9 132.1,928.1 130.7,915.3 134.8,969.7 132.4,937.7 147.5,924.8 131.7,926 148,839.3 141,780.7 139.2,745.7 142.3,868.9 157.4,857.8 153.7,900.9 137.2,995.3 141.2,804.8 138.6,802.2 151.1,936.1 155.7,872.1 143.6,905.3 146.1,855.8 145.3,827.6 134.1,954.4 134.3,845.7 152.8,902.6 132.7,847.8 157.9,804.7 135.5,862.5 146.1,1000.1 135.5,832.3 133.2,947.3 132.8,805.5 152.6,910.5 145.3,1012.9 145.2,967.6 141.5,1016.6 134.9,896.7 148.6,971.3 140.4,756.9 150.7,945.7 150.9,942.5 143.8,744.1 158.1,830.5 129.6,892.9 154.3,855.2 154.1,826.8 144.7,822.4 134.6,966.5 140.7,1023.1 141.6,836.4 151.6,926.9 148.5,831.5 152.5,913.7 139,807.7 130.2,902.5 141.3,895.8 133.6,956.9 131.5,821.4 156.7,799.1 124.5,816.1 147.9,765.1 142.5,754 140.2,1034.2 126.8,833 149,940.2 139.5,922.9 136.7,984.8 133,913.6 142.9,917.4 139.1,906.8 132.6,934.9 147.7,770.2 148.3,960.8 132.1,842.5 134.7,767 138.9,976.3 150.6,834.7 135.4,874.7 138.2,938.5 148.2,864.5 126,857.6 145.3,956.7 131,783.2 144.9,951.3 135,949.4 146.2,773.4 149.2,762.2 126.1,809.8 140.1,752.3 156,792.1 131.6,905.9 124.9,825.2 143.6,878.1 150.3,922.3 132.8,940.9 125.5,803.3 148.1,818.4 137.7,988.6 154.5,837.2 124.7,815 146.8,990.5 138.4,1012.7 149.4,961.7 158.7,808.1 137.6,905.2 129.1,813.6 140.1,961.4 145.8,893 142.3,1057 154.9,884.9 146.1,867.3 135.9,821.9 142.1,857.1 152.4,920.1 134.1,889.8 158.7,814.5 147.4,781 149.3,858.7 141.7,720 152.2,840 155.4,812.6 137.2,943.3 153.8,885.2 133,837 127.7,827.8 139.2,892.4 129.9,777.7 145.5,1009.7 151.4,929.7 150.2,836.7 141.4,735.6 141.6,1063.3 145.4,806.6 135.2,774 137.1,946.9 145.7,975.8 126.7,841.1 149.9,952.1 155.1,782.5 153.2,842.8 152.9,832.2 141.5,763 136.4,877.5 138.3,760.4 147.2,787.7 145.2,849 158.8,836.1 136.9,925.3 139.7,899.5 149.4,950.2 137.6,833.7 150.3,815.9 140.4,987.1 142.4,1033 137.4,764.5 149.1,966.6 144.7,843.4 139.4,861.2 140.1,1040.1 136,778.9 147.6,808.1 148.7,968.1 144.6,1022.5 132.8,876.9 153.3,776.1 134.4,791.9 143.2,1041.7 140.1,852.5 143.4,757.3 130.9,867.7 143.4,887.7 136.1,928.3 147.7,896.5 140.3,768.2 139.8,831 148.5,916.1 131.6,924.9 143.6,775.5 128.4,807.1 130.4,910 136,971.8 141.6,1135.1 131.3,918.5 152.4,772.9 152.1,871.2 138.5,866.9 128.2,817.5 141.1,979.4 139.4,765.6 135.3,758.5 138.4,844.3 135.7,785.6 138.1,920.9 149.5,958.5 151.4,914.1 143.6,1035.3 130.9,774.5 125.7,844.9 140.8,918.7 139.4,1026.2 148.7,883 130,856.1 146.2,946.2 129.1,789.6 128.5,886.5 128.7,838.4 135.4,920.1 147.6,796.9 157.3,830.8 126.8,792.8 149.2,791.5 131.5,921.7 126.6,860.9 134,856.8 141.6,995.6 145.1,884.4 128.4,883.3 147.7,972.5 147.3,984.1 145.1,998.9 156.4,852.3 149.9,955.3 138.4,748.9 140.5,841.6 131.5,861.8 139,1024.1 142,701.9 144.4,744.1 141.1,1004.8 153.1,811.4 141.5,910.9 143.8,930.2 136,854.1 151.8,769.7 155.8,882.1 150.2,887 133.5,814.2 137.3,916.7 136.2,962.6 139.2,991.3 158.5,820.9 148,756.9 141.9,943.8 145.3,860.1 138,981.6 134.2,963.3 146.2,985.7 130,845 150.5,935.6 156,869.7 147.4,957.7 147.2,987.3 125.9,851.3 145.7,982.6 128.1,875.2 139.2,818.2 148.3,778.2 129.8,899.3 140.9,825.9 142.1,1011.3 134.9,851.1 132.6,816.3 145.5,936.8 158.2,843.3 141.4,967 124.4,825.7 130.8,850.6 146.9,802.7 136.7,993 142.7,954 127,812.3 158.7,833.7 141.4,747.2 142.8,874.8 147.3,861.4 125.3,809.7 142.1,1144.4 146.6,903.6 138.7,912.9 125.6,830.5 141.4,726.2 149.2,821.1 133.3,950.5 127.5,873.7 147.5,889.5 136.5,865.4 144.8,801.1 142.6,983.9 140.6,936.1 153.3,859.4 142.8,771.4 137.6,1004.9 142.5,824.9 156.3,865.7 155.3,844.2 124.7,835.3 151.4,824.3 126,854.5 155.2,785.7 147.9,937.9 138.1,823.3 158.2,836.9 128.6,786.6 137.3,998.5 145.6,795.4 145.1,768.7 140,931.7 148.9,929.1 137.9,812.9 153.7,780.1 134.8,819.5 146,900.1 135.8,982.5 145.5,1003.1 126.7,852 138.8,1020.9 148.4,947.5 135,932.7 133.2,908.1 139.4,749.8 157.9,849.7 131.9,853.5 139.6,983.5 150.2,856.6 141.1,956.1 147.6,978.9 142.2,925.6 146.1,963.6 139.4,839.1 150.9,877.3 137.7,770.7 136.3,843.1 134.5,803.7 147,823.7 139.1,1007.6 148.2,853 140.5,1045.7 125.9,820.1 131.9,918 154.3,888.6 158.1,804.9 153.2,904.1 134.2,924.3 156.8,793.2 159.2,824.1 127.2,870.5 142.7,786.1 153.9,866.5 143.9,1020.5 143.8,1028.8 156.1,807.5 156.2,828.3 149.6,955.2 150.1,931.3 139.2,777 139.9,1036.9 129.7,872.2 138,1008.1 130.3,905.7 138.2,884.2 143.9,1032.1 135.7,977.7 139.9,885.6 159.1,815.3 141.4,815.6 133.5,900.3 155.2,860.7 145.5,790.9 145.6,763.9 136.9,992.1 128.5,787.3 142.8,804 137.9,774.7 135,960 144.4,811.9 149.4,847.5 149,880.4 158,820.4 134.3,761.9 127.6,793.7 125.3,806.5 141.1,847.3 144.6,990.1 146.3,833.9 142.2,1100.7 131.1,879.9 143.2,1006.5 132.4,785 148.7,799.7 135.8,937.4 157.5,841.4 147.5,933.5 141.2,1030.3 153.1,907.3 137.5,933.8 146.6,813.3 139.1,872.9 156.4,862.5 134.7,881 139.8,796.6 143.1,851.7 141.7,1055.1 140.9,870 131.9,898.6 149.6,785.2 152,865.1 140.5,950.6 155.5,875.3 149.9,868.2 136.2,951.8 129.8,888.3 141.8,1075.8 142.1,1094.5 142.3,977.1 157,856.1 147,969.1 127.6,790.5 141.8,736.9 127.2,869.2 142,1153.8 128.6,849.2 153.1,910.3 129.6,896.1 134.4,965.8 143.6,789.2 133.5,939.5 136.5,827.1 142,835.5 154.8,888.1 156.7,795.3 138.2,1011.3 152.6,878.8 135.3,976.1 152.3,916.9 155.6,849.5 146.2,750.5 129.2,780.9 124.6,822.5 139.5,940.7 145.1,1016.1 158.1,827.3 143.3,987.7 130.4,802.9 137.5,890.6 145,1014.9 146.5,942.7 154.1,786.8 142.2,779.4 154.1,891.3 126.1,804.3 149,893.9 137,758.2 136.4,988.9 130.7,791.2 147.9,908.4 129.6,895.1 145.9,1003.3 144.4,898.1 134.8,942.1 157.1,798.5 137.4,859.8 153.6,821.8 137,806.5 154.3,894.5 127.7,881.5 151,845.3 140.1,914.7 151,776.5 140.5,903.4 151,814 147.3,911.2 144.2,941.6 154.2,895.3 129,784.1 157.5,846.5 147.1,753.7 134.1,794.2 153.8,806.1 125.5,838.5 150.8,945.4 125.8,848.1 144.1,854.2 134.5,904.2 157.4,801.7 141.2,927.1 151.8,923.3 139.2,1027.3 149,964.9 134.5,761.7 143.1,1044.9 149,920.4 134.7,868.3 151.4,850.8 142.8,1050.4 149.6,805.3 142.6,846.2 134.7,883.2 137.6,1001.7 148.1,977.7 158.5,825.6 141.3,858.1 150.8,788.7 138.7,929.4 130.4,908.9 133.3,835.1 129.5,860.3 132.6,864.8 141.6,945.7 138.4,1014.5 155,833.5 133.4,870.7 150.6,766.5 155.6,878.5 130.9,891.7 133.1,886.6 133.1,777.8 141.8,792.5 138.1,897.6 143.3,809.4 150.1,912.1 149.6,767.6"/>
<path class="p3" d="M182.6,1095.6 185.8,1126 188.4,1145.4 186.2,1106.4 186.4,1171.1 186.4,1139.4 185.9,1166.8 185.1,1118.4 182.6,1151.1 181.2,1153.2 184.7,1113.9 187.6,1165.5 189.5,1154.8 188.8,1105.3 185,1077.8 179.2,1129.1 187,1120.7 181.1,1105.2 185.5,1035.2 177.4,1137.2 178.4,1143.6 182.2,1156.4 181.9,1153.7 189.7,1141.3 191.6,1148.4 194,1122.8 179,1121.1 181.5,1141.7 192.8,1145.2 186.6,1084.2 187.5,1135.7 182.8,1116 186.9,1132.2 191.4,1131.1 186.2,1091.2 193.3,1142 180.4,1150 184.1,1137.1 177.9,1124.4 177.8,1139.7 188.6,1098.5 191.7,1142 188.8,1093.7 179.8,1123.2 180.6,1112.6 185,1089.4 186,1124.7 183.5,1106.1 189.8,1133.8 185.7,1174 190.2,1123.8 190.8,1138.5 184.1,1152.1 188,1084.4 186.5,1147.6 179,1114.8 183.1,1092.4 188.9,1118.5 179.8,1138 190,1115.4 192.1,1121.6 194.1,1126 179.5,1146.8 188.7,1109.4 184.7,1079.6 181.2,1146 184,1111.5 180.5,1108.4 177.4,1134 187.1,1079.4 184.7,1129.9 186.2,1074.4 184,1122.2 193.6,1129.4 184,1086 185.6,1140.9 193.9,1138.8 194.6,1132.4 192,1134.6 187.6,1081.2 188.7,1158 178.7,1118 183.7,1089.2 191.5,1113.3 183.6,1127.9 184.6,1086.8 182.2,1101.1 189.4,1151.7 179.8,1143.8 190.4,1100.4 184.5,1178.8 188.6,1137.3 189.3,1094 185.3,1149.3 193.7,1119.6 183,1135.4 188,1161.2 187.3,1078 194.4,1125.5 191.5,1149 180.7,1134.3 189.2,1155.1 181.2,1114.7 184.7,1144.6 186.5,1116.8 179.8,1111.6 183.5,1158 177.3,1127.6 191,1103.6 183.9,1162.8 183.8,1097.2 188.4,1087.6 177.5,1125.2 192.9,1113.2 185.5,1022.1 194.7,1129.2 192.4,1127.5 183.6,1142.7 185.8,1028.9 187.5,1096.4 185,1155.9 180.5,1107.5 182,1138.7 184.4,1082.8 187.6,1159 180,1148.1 182.4,1104.1 186.6,1153.1 177.9,1132.6 189.8,1097.2 186.9,1156.9 177.9,1140.4 185.8,1070.1 181.2,1119.1 185.6,1108.6 181.5,1127 179,1116.9 181.5,1102 187.5,1164.4 188,1128.3 193.1,1136.5 189.6,1102 188.2,1114.3 191.5,1106.8 185.5,1057 187.6,1143.1 183.2,1159.6 183,1120.2 188.2,1150.2 189.2,1130.2 192.3,1144.1 191.4,1108 187.2,1111.9 184.6,1099.5 183.3,1092.7 194.5,1135.6 182.1,1098.8 184.9,1102.8 194.3,1133.1 182.5,1110.2 190.9,1119.8 180.2,1130.8 183.1,1147.1 190,1146.2 185.3,1133.5 188.7,1090.8 185.9,1052.7 186,1162 186.7,1100.5 182.4,1131.8 190.4,1110.8 186.3,1065.8 190.6,1151.6 181.8,1124.2 184.6,1160.1 187.4,1103.3 184,1163.7 184.5,1166 192.2,1110 190.2,1126.5 178.5,1136.1 194.1,1140.1 193.1,1116.4 178.4,1121.2 185.7,1082.9 177.4,1130.8 188.1,1122.8 187.3,1088 185.7,1095.4 192.6,1117.7 179.9,1200.6 188,1200.6 182.3,1200.6 202.5,1200.6 168.7,1200.6 181.5,1200.6 170.3,1200.6 197.6,1200.6 184.8,1200.6 174.3,1200.6 176.7,1200.6 198.4,1200.6 191.2,1200.6 180.7,1200.6 200.8,1200.6 175.1,1200.6 201.7,1200.6 196.8,1200.6 189.6,1200.6 190.4,1200.6 200,1200.6 171.1,1200.6 175.9,1200.6 192.8,1200.6 179.1,1200.6 172.7,1200.6 171.9,1200.6 194.4,1200.6 195.2,1200.6 187.2,1200.6 192,1200.6 186.4,1200.6 203.3,1200.6 173.5,1200.6 169.5,1200.6 185.6,1200.6 188.8,1200.6 183.9,1200.6 178.3,1200.6 177.5,1200.6 199.2,1200.6 193.6,1200.6 196,1200.6 183.1,1200.6"/>
<path class="p4" d="M230.5,1160 243.1,860.1 231.5,880 220.1,936.8 222.6,972.4 215.6,919.9 236.3,956.9 228.3,887.5 228.2,939.6 220,897.2 229.5,843.6 216.1,900.8 227.4,862.9 234.7,820.1 225,832.8 218.9,872.9 214.3,882.6 229.7,921.3 232.7,988.2 229.9,1171.3 230.5,1078.9 229.5,986.3 222.9,952 222.8,916.1 233,934.3 231.6,805.2 218,841 228.1,793 237.9,916.1 240.7,854.7 242.6,902 219,915.8 233.3,858.4 228.1,1009.4 236.6,896.7 240.7,898.1 225.7,855.4 225.7,812.3 232.4,900.6 226.5,911.4 245.5,882.8 236.4,984 226.4,933.6 234.2,915.6 234.4,940.9 230.7,834.9 222.3,850.3 244.3,921 236.5,847.9 223,877 231,963.5 230.4,917.6 241,937.6 226.2,962 239.9,931.2 224.2,899.7 229.4,1023.1 222.8,929.1 236.9,923.2 239.9,874.1 242.3,841.2 217.8,858.7 231.6,1020.4 235.6,870.7"/>
<path class="p5" d="M270,1106 266.3,1118.9 275.3,1087.5 281.2,1124.1 271.6,1102.3 273.5,1080.3 275.3,1119.4 275.8,1072.5 269.9,1093.3 281,1104.5 282.3,1123.7 276.3,1109.7 267.9,1116.1 266.4,1127.6 280.2,1136.2 268.6,1099.7 272,1130.5 270.4,1111.5 268.4,1125.7 277.1,1082.1 275.8,1123.2 273.8,1047.7 276.4,1145.3 273.2,1100.1 272.6,1124.5 276.8,1137.6 280,1108.9 275.5,1069.3 270.5,1126.3 276.5,1094.6 277,1105.5 273.4,1068.2 273.9,1128.2 271.5,1122.6 275.5,1071.3 268.6,1110.1 273.9,1157.3 276.2,1100.3 272.5,1109.4 279.9,1129.8 271.7,1107.1 276.6,1078.9 266.7,1119.8 267.2,1123.8 266.3,1128.5 274.7,1081.8 272.1,1115.3 273,1132.6 273.8,1035.2 269.4,1096.5 266.4,1112.2 278.1,1138.7 273.7,1162.9 278.5,1133.9 267.6,1106.1 278.6,1092.9 272.3,1139.6 275.7,1078.9 272.8,1074.1 280.1,1136.5 270.9,1148 282.4,1114.1 280.9,1133.3 267.6,1134.9 276.7,1133.1 279.9,1098.1 277.3,1149.5 282.2,1112.8 277.9,1121.5 275.3,1107.6 278.2,1141.9 267.2,1131.7 281.6,1130.1 273.1,1117.3 281.7,1107.7 266.1,1122.1 278.2,1088.5 272.7,1096.9 274.8,1102.8 274.4,1111.6 271.5,1095.7 276.3,1115.6 280.2,1104.1 274.5,1091.3 271.1,1144.3 282.2,1120.5 271.8,1087.9 274.2,1073.6 274.1,1059.5 277.9,1096.1 275.4,1097.7 282,1126.9 273.1,1152.9 274.4,1041.4 279.5,1118.5 271,1118.9 278.3,1110.6 273.5,1104.7 268.5,1138.1 275.1,1140.4 266.1,1115.7 267.9,1108 276.4,1089.7 279,1099 278,1129 280.1,1122.1 269.8,1098.4 271.4,1134.5 271,1147.7 268.2,1103.4 278.8,1106.4 267.2,1109.3 271.9,1083.9 278.5,1142.9 268.2,1102.9 274.7,1044.5 273.6,1137 278.7,1091.7 275.5,1152.1 273.2,1142.3 274.4,1062.4 282.2,1127.9 270,1144.5 274.7,1127.2 272.4,1146.1 274.6,1159.6 269.7,1140.8 273.6,1120.9 276.9,1125.1 268.1,1135.8 270.1,1101.3 273.2,1077.4 269.4,1133.5 268.9,1118.2 270.6,1138.3 280.4,1114.6 274.2,1113.3 282.2,1110.9 271.7,1150.9 280.6,1101.3 282.6,1120.5 277.8,1146.1 279.2,1094.9 278.9,1126 275.8,1155.7 272.3,1154.1 271,1086.9 274.1,1094 271.6,1083.7 276.3,1152.5 274.9,1135.1 276.9,1149.3 275.5,1143.7 272.5,1090.4 273.6,1086.4 274.8,1166.3 277.9,1101.6 272.5,1077.3 274.5,1038.3 268.2,1131.2 273.2,1070.9 282.5,1117.3 276.2,1075.7 269.9,1129.4 277.4,1117.6 270.4,1090.1 269.3,1122 275.1,1075.9 275.9,1130.9 272,1080.5 274.4,1147.3 279.2,1139.7 270.1,1114.2 266,1125.3 270.1,1092.1 274.2,1150.7 278.3,1113.8 281.5,1116.7 277.6,1085.3 266.7,1112.5 276.7,1084.8 272.8,1157.3 269.3,1141.3 275.6,1155.5 280.6,1131.7 265.9,1200.6 287.6,1200.6 276.3,1200.6 261.8,1200.6 260.2,1200.6 274.7,1200.6 264.3,1200.6 271.5,1200.6 266.7,1200.6 257.8,1200.6 288.4,1200.6 283.6,1200.6 290,1200.6 270.7,1200.6 285.2,1200.6 282,1200.6 284.4,1200.6 263.5,1200.6 259.4,1200.6 257,1200.6 281.2,1200.6 277.1,1200.6 258.6,1200.6 265.1,1200.6 269.9,1200.6 280.4,1200.6 275.5,1200.6 289.2,1200.6 278.7,1200.6 290.8,1200.6 272.3,1200.6 286,1200.6 261,1200.6 273.1,1200.6 267.5,1200.6 273.9,1200.6 279.6,1200.6 268.3,1200.6 286.8,1200.6 262.7,1200.6 282.8,1200.6 269.1,1200.6 291.6,1200.6 277.9,1200.6"/>
<path class="p6" d="M326.6,1135.3 325.1,1125.9 312.9,1115.8 311.3,1134 316.7,1081.2 320.1,1142.5 325.7,1121.3 321.6,1100.7 325.9,1119.3 316.8,1076.1 318.5,1175 316.5,1089.1 312.3,1146.5 312.1,1125.6 326.4,1128.9 323.6,1149 315.2,1156.1 324.6,1112.9 319.6,1102.5 310.8,1136.9 310.5,1138.5 319.1,1129.4 318.3,1139.6 318,1150.5 311.1,1120.9 324,1141.3 318.3,1068.2 317.1,1154.2 319.8,1066.1 325.9,1130.4 318,1167.9 322,1122.4 323.6,1148.1 318.5,1093 317.9,1159.5 321.8,1093.7 310.4,1133.7 319.1,1154.9 310.8,1124.1 317.2,1060.1 319.1,1050.8 326.5,1125.7 319.1,1071.1 320.3,1098 319.7,1058.5 322.5,1119.2 318.9,1041.4 322.8,1113.6 319.9,1090.2 320.1,1125.1 317.2,1165.7 317.2,1162.7 318,1056.6 313.3,1110.2 326,1138.5 314.9,1103.2 320.6,1080.9 320.8,1145.1 315.2,1119.7 314.3,1152.9 318.4,1063.3 320.1,1082.8 317,1066.5 318.8,1120.4 310.3,1130.5 320.3,1160.9 313.4,1131.9 324.5,1109.7 322.8,1151.3 320.8,1084.1 312.4,1136.5 322.3,1146.5 312.7,1111.3 319.8,1164.1 314.5,1137.4 317.1,1126.4 315.9,1088.9 319.8,1061.7 317.8,1105.3 318.4,1097.1 319.3,1165.1 321.8,1154.5 317.8,1078 316.5,1082.5 321,1157.7 312.2,1114.5 324,1111.1 313.7,1104.9 320,1068.1 311.1,1140.1 316.4,1114.3 319.1,1109 318.8,1079.9 315.6,1092.1 320.6,1150.8 324,1123.6 322.8,1100.1 325.9,1122.5 313.5,1118.5 320.4,1077.7 319.1,1086.7 314.9,1098.5 318.6,1060.4 326.3,1138.9 319.6,1074.9 315.5,1132.9 317,1069.7 318.7,1045.7 315,1128.8 324.9,1134.6 319.1,1147.5 312.8,1142.9 313,1127.6 317.9,1050.3 316.6,1079.3 316.2,1124.5 316,1146.9 326.4,1132.1 313.2,1149.7 316.5,1135.1 320.3,1105.7 320.2,1071.3 314.2,1145.9 315.1,1107 321.2,1127.1 319.1,1053.5 317.9,1085.1 319.7,1133.7 314.4,1140.7 314.4,1101.7 318,1111.9 318.6,1137.8 321.1,1087.3 313.3,1148.6 320.9,1157.4 320.7,1135.7 316.3,1108.7 319.1,1160.7 319.9,1064.9 315.2,1094.8 321.5,1152.5 315.3,1095.3 316.7,1162.5 317.5,1071.9 313.2,1108.1 322.8,1136.8 316,1159.3 325.3,1116.1 311.4,1143.3 321.9,1095.4 318.1,1122.2 315.7,1156.5 321.8,1131.4 318.8,1057 322.2,1140.3 316.2,1085.7 317.6,1130.7 314.8,1113.3 324.5,1144.9 325.7,1141.7 323.9,1132.6 322.1,1096.9 311.4,1120.9 320.6,1117.9 322.7,1104.4 317.2,1063.1 310.9,1129.8 311.6,1117.7 317.3,1101.6 317,1091.6 316.9,1072.9 317.4,1144.4 315.7,1152 314.3,1123 324.5,1143.8 323.3,1103.3 317.1,1117.1 324,1116.5 319.6,1115.3 321.8,1107.7 320.2,1074.5 318.3,1044.5 321.5,1090.5 323.7,1106.5 323.2,1128 316.4,1141.8 317.2,1063.3 321.1,1112.1 310.8,1127.3 316.4,1099.3 326.9,1200.6 302,1200.6 329.4,1200.6 318.9,1200.6 303.6,1200.6 310.9,1200.6 307.6,1200.6 332.6,1200.6 331.8,1200.6 308.4,1200.6 333.4,1200.6 306,1200.6 310.1,1200.6 306.8,1200.6 305.2,1200.6 335,1200.6 320.5,1200.6 313.3,1200.6 331,1200.6 335.8,1200.6 314.1,1200.6 322.9,1200.6 322.1,1200.6 315.7,1200.6 324.5,1200.6 334.2,1200.6 328.6,1200.6 318.1,1200.6 304.4,1200.6 323.7,1200.6 311.7,1200.6 319.7,1200.6 302.8,1200.6 326.1,1200.6 316.5,1200.6 317.3,1200.6 312.5,1200.6 301.2,1200.6 314.9,1200.6 325.3,1200.6 321.3,1200.6 330.2,1200.6 327.8,1200.6 309.2,1200.6"/>
<path class="p7" d="M357,1096.6 360.8,1154.7 361.2,966.3 362.9,1164.5 352.6,1133.2 358.1,1021.8 370,963.8 362.3,903.2 359.5,990.3 374.4,1133.2 361,1108.7 362.4,844.8 371.1,1163.6 361.2,1049.2 371.2,1087.6 368.9,1024.1 358.9,945.8 350.4,1137.8 348.2,1136 360,891.5 371.7,1110.2 354.6,948 357.8,958.7 359.8,906.9 360.6,1000.5 371.9,1179.1 363.1,947.8 346.6,1120.8 353.9,1109.7 359,1115.1 351.3,1116.3 356.7,970.7 360.3,1170.5 350.6,1162.5 368.4,990.3 348.1,1158.4 370.5,1116.8 372.3,1138.1 373.9,1168.7 353.1,1144.3 367.9,1171.7 359.1,1136.9 364.6,1112.6 356.8,944 370.6,1143.4 365.1,940.4 346,1140.9 366.2,986.4 358.3,1168.9 356.5,928.2 352.2,1155.7 361.3,1176.3 378.1,1166.6 346.6,1152.9 365.7,1134.7 375.6,1159.2 372.8,1151.6 358.2,1125.2 354.1,1012.3 369.4,1155.6 366.1,1169.1 375,1124 370.1,1133.1 349.5,1176 365.9,1092.8 375.1,1103.8 355.9,1130.5 378.2,1153.3 370.7,1122.7 360,961.1 365,1001.2 367.2,1006.2 378.8,1121.7 369.4,1079.8 357.5,1146.8 366.7,1125.4 356.2,1004.2 361.7,980.2 348.7,1147.3 364.6,1130.6 365.6,968 362.4,1122.2 371.5,1173.4 370.6,979.4 362.3,955.1 362.9,885.7 353.6,1085.9 373.7,1156 361.3,1131.8 361.9,1143.3 367.1,1162.5 362.4,1016 363.6,1071 375.7,1169.8 356.9,1134.5 358.8,1161 355.3,1151.6 374,1114.4 355.6,1046.2 366.7,1020.7 356.7,1175.3 368.9,1129 354.1,1176.9 374.8,1107 346.9,1165.6 354.4,1168.5 364,1151.7 350.2,1101.6 367.3,944.5 366.6,1116.1 358.7,1067.4 355,994.3 368.9,959.8 368.4,1065.6 357.4,1111.9 363.9,990.7 375,1146.5 371,954.8 366.8,1075 377.2,1147.5 351.5,1129.8 358,1181.6 350.9,1150.6 354.5,977 377.5,1127.1 360.3,925.7 370.4,1046.6 349.9,1113.7 378.8,1131.6 367.9,1137.3 359.7,1147.9 365.9,1050.8 364,1175.7 364.6,1041 366.2,1147 354.1,1123.8 371.7,1072 354.8,1163.7 352.9,1173.3 367.8,971 363.4,976.3 361.7,1074.1 356.6,1077.7 353.7,1071.5 368.4,1149.4 366.5,912.5 368.1,1109.5 364.7,904.4 360.2,1128.2 369.1,1096.3 363.9,927.4 368.5,1176.7 350.5,1169.1 373.3,1129.9 347.1,1130.8 361.8,1105.8 375.8,1176 362.8,1120.1 355.6,962 364.5,961.4 354.8,1138.1 376.6,1136.3 379.4,1141 354.2,1094.6 368.7,929.5 356.5,1157.4 361.1,935.1 360.2,1035.9 365.1,1157.9 363.1,1096.7 370,1168.2 360.2,1090.7 363.5,1139.4 356.4,1062.2 354.9,1118.4 358.4,1007.1 358.9,973.9 371.1,1013.4 349.6,1126.3 357.3,987.4 366.6,900.6 369.5,999.7 362.8,1008.7 364.3,1082.9 362.2,1167.9 366.7,955.9 359.1,1081.9 367.8,1200.6 360.1,1200.6 365.2,1200.6 357.6,1200.6 362.7,1200.6"/>
<path class="p8" d="M408.9,843.6 402.9,815.5 409.9,899.1 415.9,957.2 404.9,834.8 412.9,1001.5 406.9,770.5 408.9,1042.7 397.9,950.9 402.9,950.9 410.9,975.9 412.9,940.3 399.9,927.2 409.9,799.9 406.9,965.3 399.9,867.3 407.9,950.9 411.9,820.5 402.9,985.9 405.9,1036.4 413.9,874.8 405.9,894.1 395.3,1200.6 403,1200.6 410.7,1200.6 392.6,1200.6 407.2,1200.6 391.9,1200.6 397.4,1200.6 419.8,1200.6 401.6,1200.6 404.4,1200.6 417,1200.6 414.2,1200.6 398.1,1200.6 417.7,1200.6 418.4,1200.6 400.2,1200.6 419.1,1200.6 413.5,1200.6 400.9,1200.6 405.1,1200.6 410,1200.6 394.7,1200.6 415.6,1200.6 406.5,1200.6 396.7,1200.6 407.9,1200.6 393.3,1200.6 394,1200.6 402.3,1200.6 412.1,1200.6 403.7,1200.6 416.3,1200.6 414.9,1200.6 396,1200.6 399.5,1200.6 411.4,1200.6 408.6,1200.6 421.9,1200.6 420.5,1200.6 421.2,1200.6 409.3,1200.6 398.8,1200.6 412.8,1200.6 405.8,1200.6"/>
<path class="p9" d="M446.8,1134.3 442.5,1115.5 456.6,1127 450,1129.1 460.4,1120.3 458.3,1111.6 450.9,1107.8 453.3,1155.5 446.9,1109 441.9,1121.5 460.1,1126.7 445.3,1099.5 445.3,1130.1 444.6,1111 447.5,1090.8 459.8,1113.9 452.6,1117.6 444.5,1126.5 447.2,1150.7 449.9,1140.5 447.4,1086.7 450.3,1048.5 453.8,1088.5 445.4,1144.3 457.8,1123.6 454.2,1084.3 452.4,1156.5 449.6,1064.3 443.1,1131.7 451.5,1057.8 452.3,1059.5 444.4,1119.9 451.2,1134.8 458.4,1104.3 453.4,1133.1 456.6,1142.7 451.1,1159.8 453.9,1119.6 449.4,1160.3 459.9,1129.9 451.3,1068.5 459.1,1136 452.6,1093.5 447.5,1150 458.8,1136.3 460.2,1122 443.5,1137.9 442.7,1135.2 450.5,1065.7 459,1107.5 454,1095 450.2,1062.3 449.8,1089.2 450.6,1073.9 455.1,1100.9 449.5,1148.7 443.7,1105.9 450.3,1098.9 455.3,1088.3 452.5,1062.7 450,1157.4 457,1109.3 453,1110.3 457.2,1116.8 445.9,1096.3 444.5,1133.5 455.4,1122.9 449.8,1112.1 456.3,1144.6 445.7,1104.5 443.3,1118 459.3,1114.9 457.5,1139.5 447,1127.4 450.5,1145.7 448.9,1132.7 452,1063.5 448.4,1080.3 448.7,1095.9 453.4,1099.3 457.2,1139.8 454.7,1129.6 454.8,1105.1 450.2,1092.7 450.8,1038.7 449.8,1163.5 450.9,1084.9 445.8,1123.4 451.6,1143.6 442.9,1112.3 454.9,1108.5 451.9,1101.9 452,1114.2 451.5,1032.1 454.3,1147.5 453.8,1078.7 453.2,1145.9 452.8,1158.7 456.2,1098.2 448.9,1109.8 456.4,1094.7 457.7,1101.1 457,1130.5 456.2,1120.2 446.8,1089.9 457,1097.9 444.6,1141.1 458.5,1118.7 450.3,1115.4 447.6,1113.8 449.1,1119 451.4,1096.8 448,1082.8 448.9,1138.2 446.7,1120.7 451.3,1036.1 442.6,1134.7 448.7,1101.1 449,1155 454,1152.3 450.6,1122.5 450.8,1136.1 442.1,1118.7 449.5,1071 447.5,1094.5 451.4,1044.5 454.9,1115.9 446.2,1093.1 455.6,1133.9 441.8,1128.3 453,1072.3 448.2,1124.2 454.7,1085.1 445.1,1102.6 452.2,1161.9 442.2,1131.5 450.3,1152.4 454.8,1149.1 451.9,1153.6 454.9,1142.4 451.7,1149.3 451.9,1090.2 446.8,1137.3 452.6,1072.6 448.1,1153.9 445.2,1139.2 453.4,1141 448.7,1077.1 445.6,1144 458.7,1107.5 444.4,1102.7 452.9,1104.1 459.1,1125.4 451.9,1053.3 453.4,1075.5 459.5,1110.7 454.1,1150.9 445.7,1116.3 460,1117.1 445.8,1097.1 451.8,1127.9 449.3,1103.8 456.4,1113.4 442.2,1128.2 450.5,1050.8 449.7,1080.3 448,1117.3 459.6,1128.7 448.9,1087.3 452.7,1086 454.8,1136.9 459.3,1133.1 447.2,1100.1 454.1,1112.3 448,1146.9 451.1,1106.5 445.5,1112.7 455.6,1091.5 452.3,1131.3 449.4,1125.9 443.3,1124.8 447.7,1130.7 448.5,1143 452.2,1163.4 449.8,1061.1 455.9,1145.9 449.3,1077 458,1132.2 451.1,1044.5 450.9,1056.1 442,1121.9 450.5,1038.3 452.9,1069.1 460.6,1123.5 451.2,1174 448.7,1157.1 443.1,1114.6 441.4,1125.1 449.2,1070.7 454.2,1126.3 447.4,1105.8 453,1124.5 451.2,1082 446.4,1147.5 451.7,1076.5 449.5,1067.5 443.5,1106.8 449.6,1161.7 451.5,1121.1 456.7,1137.7 452.6,1065.9 446.6,1141.4 454.2,1081.9 449,1073.9 454.8,1091.8 443.4,1109.1 451,1057 452.7,1139 456.3,1103.2 452.5,1079 451,1168.1 447.9,1083.5 455.5,1200.6 453.1,1200.6 434.5,1200.6 462.7,1200.6 461.9,1200.6 443.4,1200.6 445,1200.6 459.5,1200.6 466.7,1200.6 463.5,1200.6 438.6,1200.6 447.4,1200.6 465.1,1200.6 468.3,1200.6 440.2,1200.6 465.9,1200.6 467.5,1200.6 464.3,1200.6 452.2,1200.6 457.1,1200.6 449,1200.6 460.3,1200.6 456.3,1200.6 436.2,1200.6 450.6,1200.6 454.7,1200.6 433.7,1200.6 446.6,1200.6 448.2,1200.6 435.3,1200.6 439.4,1200.6 437.8,1200.6 449.8,1200.6 451.4,1200.6 457.9,1200.6 437,1200.6 453.9,1200.6 441,1200.6 442.6,1200.6 445.8,1200.6 444.2,1200.6 441.8,1200.6 461.1,1200.6 458.7,1200.6"/>
<path class="p10" d="M492.7,1131.3 480.4,1152 487.1,1158.9 485.5,1144.6 495.8,1159.9 501.8,1143.2 510.7,1162.6 485.2,1127.8 509.8,1142.9 493.7,1143 500.2,1110.1 496.7,1139.5 494.2,1162.9 504.6,1156.6 491.4,1153.5 486.4,1165.9 509,1153.5 481.3,1139.7 490.7,1103.5 502.2,1165.1 497.5,1102.1 503.3,1125.5 494.4,1095.2 500.2,1154.6 504.2,1138.5 482.5,1154.9 489,1139.2 491.5,1126.3 497.8,1146 505.5,1128.9 506.1,1145.1 478.9,1161.3 495.1,1086.4 489.4,1119.4 497.5,1127 489.5,1145.3 503.6,1200.6 483.5,1200.6 486.9,1200.6 506.9,1200.6 490.2,1200.6 496.9,1200.6 493.5,1200.6 500.2,1200.6"/>
<path class="p11" d="M536.6,1097.4 539.1,1048.7 535.1,1113.8 533.1,1117.1 533.3,1140.1 545.5,1133.8 529.2,1124.4 540.3,1082.1 533.6,1135.1 534.9,1128.6 541.4,1132.7 537.7,1140.1 544.4,1131.3 541.5,1143.5 536.5,1117 540.5,1120.2 531.4,1138 539.9,1111 538.5,1118.5 544.4,1119.3 542.7,1111.2 544.8,1137.2 536.1,1140.6 537.8,1126.9 547.1,1138.1 541.6,1080.5 537.9,1146.5 537.7,1135.9 540.2,1068.6 537.1,1133.1 531.5,1133.7 528.8,1134.2 540.6,1111.9 535.8,1112.4 538.9,1044.5 540.7,1128.9 545.9,1118.4 539.5,1141.1 539.3,1067.2 539.6,1035.2 534.7,1139.3 543.5,1127.6 530.9,1126.7 540.4,1056.3 539.2,1053.9 541.5,1106.2 538.4,1055.7 533.9,1125.4 548.6,1132.9 541.3,1140.3 539.2,1142.6 540.4,1113.4 536.3,1135.3 539.2,1125 537.4,1087.6 535.5,1137.4 537.8,1113.3 538.1,1096 532,1128.2 539,1102.1 537.8,1110.8 541.8,1112.5 550.2,1129.2 536.5,1125.5 529.9,1132.9 544.8,1140.1 536.8,1140 534.4,1124 546.8,1135.3 539.9,1117.1 538.4,1115 534.3,1140.4 549,1126.7 540.9,1071.9 540.4,1140 539.5,1124.3 536.5,1119.6 540.1,1137.9 544.2,1135 535.3,1115.5 537.5,1075.3 531.2,1135.7 542,1098 538.9,1134.8 533.1,1137 538.2,1111.7 547.3,1125.5 547.3,1131.6 549.7,1134.7 542,1126 540.6,1102.6 529,1129 539.8,1075 534.4,1134 542.9,1140.5 541.1,1095.1 539.6,1096.4 549.6,1124.4 542.6,1138.8 544.1,1114.8 545.3,1141.5 543,1116.3 538.7,1073.2 541.5,1135.4 546,1120.9 537.2,1121.4 539.1,1043.1 533.4,1141.4 544.6,1125.2 532.6,1121.9 541.7,1121.5 546.5,1128.5 544.4,1123.5 538.3,1068.9 532.6,1131.4 542.8,1133.1 538.5,1130.6 547.8,1135.9 535.6,1132.6 538.9,1080.6 542.7,1136.2 544.2,1139.5 538.5,1138.6 540.3,1150.7 539.7,1046.5 535.5,1111.2 532,1120.7 539.4,1054.8 537.4,1104.4 542.4,1119.2 534.6,1119.3 541.3,1115.1 539.9,1134.1 539.8,1200.6 548.7,1200.6 545.4,1200.6 539,1200.6 540.6,1200.6 552.7,1200.6 549.5,1200.6 537.4,1200.6 554.3,1200.6 538.2,1200.6 522.9,1200.6 531,1200.6 535.8,1200.6 536.6,1200.6 547,1200.6 543.8,1200.6 523.7,1200.6 524.5,1200.6 551.1,1200.6 522.1,1200.6 543,1200.6 551.9,1200.6 525.3,1200.6 556.7,1200.6 526.1,1200.6 542.2,1200.6 531.8,1200.6 553.5,1200.6 546.2,1200.6 533.4,1200.6 550.3,1200.6 526.9,1200.6 530.1,1200.6 555.1,1200.6 532.6,1200.6 547.8,1200.6 534.2,1200.6 528.5,1200.6 527.7,1200.6 555.9,1200.6 529.3,1200.6 544.6,1200.6 535,1200.6 541.4,1200.6"/>
<path class="p12" d="M599.1,827.8 579.8,823.1 567.3,826.3 591.3,738.4 595.9,835.4 600.4,776.5 577.8,740.3 585.6,724.9 586.3,815.1 588,764.4 577.6,814 594.8,829.7 596.2,785.1 588.4,823.2 592.6,823.6 589.6,789.1 581.6,691.9 576.4,798.7 574.2,749.6 582.5,828 574.3,781.1 583,890.4 580.9,839.5 582.1,902.9 571.3,823.5 599.5,802.5 582.2,853 584.1,825.6 578.1,847.9 596.5,744.2 572.5,851 575.2,774.2 593.5,852.9 581.5,731.5 590.7,806.6 597,822.5 583.6,988.4 571.2,766.5 590,722.4 594,795.9 567.7,802.3 589.6,749.2 575.6,824.5 587.8,735.3 574.5,844.6 581.9,747.5 591.7,778.8 585.2,799.1 590.8,828.2 583.8,686.9 584.3,850.4 583.9,775.4 569.8,754.9 577.9,752.3 592.3,767.1 583,778.8 596.1,757.7 570.3,743.5 572,789.2 587.5,856.6 587.9,841 587.4,785.8 580.7,724 569.1,822 584.7,742.1 593.5,749.9 573.2,808 583.6,947.8 579.5,718 578.6,785.7 598.4,786.9 574.8,727.7 575,735.3 581.9,805.1 595,812.5 590.9,844.9 569.8,786.4 578.5,829.9 566.5,775.6 574.4,829.5 578.6,869.8 587.6,871 571,834.1 580.8,787.9 579.7,760.5 593.4,730.6 585.8,753.9 586.6,831.8 583.6,1200.6"/>
<path class="p13" d="M635.3,1125.2 624.5,1137.9 625.3,1145 627.6,1094.5 627.5,1146.9 626.9,1077.2 621.3,1112.7 623.1,1119.9 632,1094.1 629.1,1135.1 628.1,1078.5 629.1,1101.7 627.9,1129.3 626.5,1144.1 623.6,1093.2 634.7,1131.3 627.7,1098.8 627.8,1093 626.1,1115 628.2,1117.5 632.4,1117 629.9,1127.4 631.9,1107.2 628.5,1108.4 631.6,1119.2 623.5,1106.3 622.7,1125.9 624,1129.1 628,1144.1 622.7,1098.3 623.5,1109.8 634.4,1108.7 632.8,1098.7 624.9,1100.6 629.9,1146.3 626.9,1136 627.8,1097.9 621.4,1108.7 627.2,1150.2 631.8,1128.4 627.4,1119.1 626.8,1067 630.8,1109.2 629.7,1090.2 624.3,1133.4 620.3,1129.7 634.1,1113.7 628.8,1149.9 630,1097.1 621.9,1127.9 626.3,1121.2 631,1125.6 635.8,1117.6 631.8,1100.9 630.2,1084.5 632.7,1122.4 627.7,1058.1 631,1131.9 626.8,1149.7 619.7,1117.6 625.2,1087.6 625.1,1107.6 627.3,1053.9 627,1086.7 632.8,1135.2 621.9,1116.7 625.1,1084.5 634,1127.1 620.9,1120.6 625.2,1120.4 627.5,1131.7 623.3,1102 627.2,1035.8 623.9,1117.3 630.6,1121.3 630.4,1100.2 632.8,1102.4 625.8,1091.5 630.1,1105.5 630.2,1140.5 628.4,1124.8 628.9,1126.7 629.5,1120.6 620,1125 632.3,1133.8 628.7,1087 622,1122.2 634.9,1121 620.8,1127 629.2,1075.3 633.8,1120 625.9,1127.3 628.3,1065.4 628.5,1148.5 632.9,1111.2 626,1134.1 624.8,1126.6 623.1,1135.2 626.8,1125.5 629.5,1137.5 626.3,1101.2 630.2,1115.7 629.1,1112.6 626.9,1104.4 627.2,1109.1 624.2,1124.2 633.1,1126.3 625.2,1111.5 638.6,1200.6 641,1200.6 634.6,1200.6 630.6,1200.6 622.5,1200.6 644.3,1200.6 645.1,1200.6 641.8,1200.6 616.9,1200.6 623.3,1200.6 620.9,1200.6 642.6,1200.6 637.8,1200.6 632.2,1200.6 629,1200.6 620.1,1200.6 612.1,1200.6 612.9,1200.6 643.5,1200.6 635.4,1200.6 626.6,1200.6 611.3,1200.6 639.4,1200.6 621.7,1200.6 637,1200.6 636.2,1200.6 629.8,1200.6 614.5,1200.6 618.5,1200.6 624.9,1200.6 625.7,1200.6 615.3,1200.6 633,1200.6 613.7,1200.6 616.1,1200.6 610.5,1200.6 628.2,1200.6 640.2,1200.6 619.3,1200.6 617.7,1200.6 627.4,1200.6 631.4,1200.6 633.8,1200.6 624.1,1200.6"/>
<path class="p14" d="M680.5,1168.1 660.9,1102.8 668,1065 666.7,1126 669.7,1153.3 666.4,1069.7 671.7,985.9 672.3,1065.1 676.1,1177.5 687,1135.3 668.4,1114.8 682,1129.6 679.9,1096.8 679.3,1108.4 656.2,1144.4 678.1,1101.8 679.5,1081.5 667.9,1164.3 668.1,1141.8 672.2,1013.3 672.9,1082.5 668.3,1089.5 672.1,1093.1 671.4,1145.1 660.4,1159.4 669.7,1078.2 671.9,1047.7 671.9,972.1 668.2,1051.4 655.1,1122.1 662.5,1166.4 671.8,997.1 667.8,1150.4 664.3,1169.9 657.3,1113.4 673.8,1085.1 661.8,1110.3 683.2,1160.9 679.9,1156.9 676.3,1142.6 679.9,1123.3 671.4,1066.4 680.4,1066.3 663.6,1065.5 671.5,1038.3 660.7,1090.3 687.7,1094.9 659.4,1082.9 675,1112.9 676.5,1064.6 686.4,1127.9 656.3,1093.7 656.2,1132.8 668.5,1074.4 664.7,1130.5 680.7,1084.6 684.4,1141.8 663.7,1146.8 662.6,1175.7 679.2,1071.1 663.4,1084.5 657.8,1140.7 672.2,1174.4 666,1140 677.6,1169.9 675,1169.3 668.9,1127.9 684.1,1098.1 660.3,1128.9 663,1081 670.6,1107.9 667.5,1098.5 659.5,1116.7 682.5,1139.7 659,1099.8 673.3,1132.8 671.3,1176.8 663.4,1097.5 675.2,1150.8 671.6,1021.5 683.9,1083.4 687.3,1145.1 666.2,1112 659.7,1085.8 675.9,1099.4 677.2,1084.1 677.6,1128.7 672.2,1144.1 682.7,1149.6 684.3,1125.1 673.2,1158.4 661.7,1137.3 664.4,1091.5 676,1079.8 670.3,1083.9 679.3,1146.6 667.3,1173.8 678.5,1136.7 674.3,1140.4 682.5,1104.3 680.9,1176.7 656.4,1105.7 681.6,1119.1 670.1,1135.5 666.2,1081.7 662.3,1123.5 658,1127 686.4,1099.9 683.1,1088.8 671.1,1123.3 675.8,1089.8 677.2,1115.9 679.7,1163.7 676.3,1068.8 664.2,1144 660.1,1143.4 673.8,1105.5 676.8,1162.4 675.5,1126.6 669.5,1101.1 669.6,1168.6 663.2,1156.9 686,1114.1 688.8,1122.9 684.2,1152 665.1,1105.4 679.6,1090.5 662.2,1077 666.8,1084.8 673.8,1164.4 688.1,1107.5 680.2,1143.6 674.3,1076 676.7,1155.3 666.6,1157.4 660.4,1150.9 683.8,1112 672.8,1121.1 664.9,1163.4 682,1077.7 663.9,1120.1 670.8,1162 671.7,1095.2 670.7,1200.6 673.2,1200.6 678.2,1200.6 675.7,1200.6 668.2,1200.6 665.6,1200.6"/>
<path class="p15" d="M715.6,1071.4 718.9,1071.4 714.9,963.4 720.1,1021.5 713.1,1103.2 702.7,1200.6 716.6,1200.6 721.3,1200.6 725.9,1200.6 712,1200.6 707.4,1200.6 730.5,1200.6"/>
<path class="p1" d="M783.7,1038.9 768.4,1007.4 787.7,1026.9 781.6,1097.4 798.8,1021.4 766.2,1010.1 798.8,1030.7 783,968.8 771.6,1037.1 780.9,1074.8 770.3,1027.9 785.2,1055.2 773.9,984.1 789.9,1022.6 784.8,954.8 787,1085.6 788.5,1041.3 777.5,1033.4 793.2,1019.4 777.9,971.3 792.2,1042.6 785.9,1078.3 784.6,1006.6 795.8,1045.8 771.8,996.8 783,1154.4 779.3,1094.6 775.8,1048.5 784.8,1097.8 780.8,1040.7 776.7,1005.9 775.6,1019.7 774.2,1068.6 775.7,993.4 788.5,1052.4 769.6,997.1 765.3,1016.6 773.6,1014.3 782.1,910.3 793.3,991.1 775.5,986.3 772.3,1023.4 796.4,1040.3 766.1,1023.1 792,1028.4 786.4,1058.8 777.7,1076.9 795.1,993.8 791.3,994.6 787.5,972.2 783.7,1109.9 779.7,1079.6 775.3,982.7 795.2,1014.6 797.5,1039.3 782.9,989.8 772.8,1004.9 782,1143.2 798.9,1026.3 788.8,1018.1 780.6,984.3 779.9,980.2 780.8,1103.6 783.6,949.4 783,1100.6 783.5,1001.4 788.3,1068.2 780.7,1003.8 783,938.4 787.9,1078.3 773.4,1063.4 777.9,1015.5 782.2,1013 771.8,990.3 789,974.3 766.4,1029.6 788,987.5 789.7,1047.7 783,936.6 789.4,983.3 797.5,1000.3 793.5,997.3 779,964.6 772.7,1062.1 794.3,1052.3 795.9,1002.9 784.6,1044 795.3,1050.9 782,974.1 797.6,1016.9 784.5,1075.4 772.1,1047.2 779.7,1035.7 773.3,1032.1 780.2,958.1 781,951.6 793.4,987.3 784.8,1094.5 775.9,1072.1 768,1025.3 778.2,1061.2 787.5,967.8 783.8,981.2 785.7,1091.3 791.3,1064.4 782.1,1051.4 769.3,1034.5 775.9,1075.1 793.7,1045 790.7,1000.2 776.7,1024.3 799.4,1012.8 769.1,1016.4 785.9,1034.1 799.3,1019.8 799,1006.8 780,998.2 782.2,1087.2 769.3,1050.2 786.6,1015.9 783.4,959.5 779.6,1069.4 785.5,1025 781.9,992.1 783.5,1062.2 777.4,1083.2 782.6,1011.4 782.7,1081.7 787.8,992.8 791.3,980.8 792.7,1058.8 781.7,1031.3 780.7,1057.7 777.1,1043.1 790.2,1031.9 770.9,1055.6 771.7,990.6 791,1010.2 779,1054.6 778.5,1008.3 796.4,1025.9 794.3,1032.9 766.2,1030.1 785.2,976.3 769.8,1044.3 773.2,1056.1 784.3,1089.8 786.8,1008.9 782.7,1049.1 784,948.3 782.2,954 791.8,1037.6 785.1,996.2 782.5,1125.7 792.4,1057 773.2,1042 780.5,1092.7 782.2,1119.5 778.6,995.3 780.9,1107.6 779,1026.6 786,961.3 788.4,1073.2 790.9,1013.9 786.3,1065.9 798.2,1032.8 780.1,1101.1 775.3,1059.6 780,1017.5 768.6,1002.2 771.2,1018.8 781.6,1065.3 794.9,1007.9 777.7,988.2 786.7,1084.8 781,965.9 777.6,971.1 787,999.1 789.5,1071.8 783.8,1070.4 775.7,977.6 796.2,1035.1 787.4,978.8 790.6,1065.3 769.3,1049.1 791.5,1053.9 788.4,1004.4 767.8,1003.6 787.9,1036.2 799.7,1013.3 775.7,1038 781.1,1022.2 777,1081.6 786.3,1046.3 784.6,963.8 779.1,1045.8 766.8,1020.8 775.7,1053 776.2,1001.2 788.9,1060.5 774.7,1029 777.2,1067.3 774.2,1010.9 770.2,1009.5 778.4,1088.1 780.6,960.9 767.1,1036.1 784.4,1020.3 785.3,986 778.6,976.9 792.5,1005.5 768,1039.6 783.3,1029.3 794.3,1023.7 767.8,1042.6 784.2,1104.3 765.6,1011.9 772.9,999.3 783.1,1200.6 781.9,1200.6 782.5,1200.6"/>
<path class="p2" d="M835,834.2 831.9,836.3 831.3,827.8 833.1,799.5 820.9,810.3 831.9,811.8 825.7,787.2 826.1,839.2 811.4,818.3 832.8,775.3 813,792.9 824.3,847.8 837.5,807.5 841.4,798.8 836.4,817.3 822,805.4 830.6,768.9 830.8,822.1 822.7,825.9 830.1,783.8 841.7,820.1 833,819.2 828.1,864.9 825,862.9 812,810.9 829.4,773.6 829.6,765.7 837.7,830.6 825.8,769.9 822.1,836.7 834.6,822.6 813.1,806 842.7,797.7 822.1,849.7 822.7,779.3 836.9,832.9 809.7,812.1 842.5,816.9 815.3,807.2 838.1,829.7 822.5,788.9 828.6,781.4 809.4,802.5 819.8,807.8 829.7,810.6 840.8,811.2 839.7,805.1 821.5,829.1 827,849.3 823.1,811.5 833.1,842.5 814.2,812 822.6,846.6 825.9,793.7 816.8,819.7 832.4,780 811.6,821.7 831,848.9 837,819.9 834.4,828.6 838.9,814.8 820.4,800.6 843,808.7 828.8,789.5 815.5,831.3 822.5,785.2 818.1,828.4 823.3,772.4 826.5,778.1 827.8,785.9 823.8,856.9 833.3,794.1 816.2,786.5 826.4,804.2 828.8,762.5 840.9,824.2 809.1,803.5 828.4,833.2 829.7,795.6 824.5,854.7 830.8,805.7 827.9,829.5 835.1,838.4 826.8,749 822.8,832.8 826,762.7 814.1,795.9 834.1,809.4 828.6,808.1 822.1,840.3 833,807 823.8,816.5 819.9,781.8 827.8,798.3 841.7,794.5 832.9,784.9 825.9,813.9 824.9,863.3 828.1,842.3 825.3,809.1 824.5,860.1 817.8,837.9 823.8,796.6 823,821.7 840.5,793.5 815.4,822.3 815.3,816.9 809.6,808.9 829.4,768.8 824.7,799.2 820.3,844.1 834.8,788.7 827.1,765.6 825.3,783.2 831.6,787.8 820.7,776.9 812.8,793.1 830.4,839.5 817.2,814.4 820.9,820.3 818,803.1 816.8,786.3 827.6,759 828.3,759.3 810.9,808.3 831.2,801.9 843.6,804.1 825.7,858.7 838.6,810 830.6,791 820.3,784 819.2,780.1 834.2,839.3 813.7,802.3 825.3,866.5 816.9,791.6 841.9,806.2 834.2,792 841.4,818.5 817.7,837.7 829.6,855.3 829,800.8 837.3,784.9 814.2,789.7 819.7,797.8 826.8,775.1 819.7,788 826.9,874.2 811,799.3 817.6,804.7 812.1,823.9 811,818.5 829.7,826.2 826.8,803.2 827.2,792.6 837.2,794.8 838.7,821.3 819.7,831.7 822.1,850.5 826.1,876 823.7,767.3 815.9,790 811.7,801 817.4,783.3 812.8,824.9 830.2,815.4 816.6,834.5 828.9,820.6 811.3,798.5 824.5,780.5 834.5,778.5 827,860.3 828,818.1 826.2,824.6 831.5,772.1 840.8,823.3 822,795.3 818.3,794.6 816.4,809.6 839.4,826.5 819.4,823 823.9,790.7 843.4,813.5 835.7,836.1 824.9,818.9 820.5,776.5 832.1,840.9 826.6,969.6 839.6,796.2 826.9,738.7 825.4,844.5 813,815.7 828.5,857.2 820.2,792.2 821.5,815 838.2,827.1 811.3,796.1 833.5,824.8 814.1,828.1 840.8,816.1 819.1,825.2 823,853.7 831.5,831.3 837.5,800.1 836.9,786.7 824.5,764.1 826.9,823.3 828.6,845.7 825.1,760.9 835.7,781.7 843.4,810.5 839.9,801.5 826.2,755.1 835.6,802.5 827,837.4 824,774.7 824.2,806.6 834.6,814.3 844.2,807.3 835.3,804.4 822.5,801.6 824.3,841.7 840.7,791.3 809.9,813.3 836.9,825.5 819.5,835.8 842.9,813.7 826.4,869.3 813.1,820.9 821.6,773.7 824.6,827.6 839.1,788.1 829.8,847.4 824.1,767.3 834.5,782.7 828.1,853.3 832.3,843.7 815.9,826.6 824.4,834.7 829,858.5 826.2,852.3 815.7,797.1 810.4,815.3 826.8,880.4 837,790.3 830.1,778.6 819.2,840.9 833.1,777.1 832.2,816.7 827.8,865.9 825.5,830.8 828.4,861.7 832.2,845.7 844.1,803.8 827,896.6 827.1,708.7 834.2,832.3 843.6,800.9 816.2,799.8 827.9,771.4 817.5,833.7 835.9,797.5 830.6,851.1 822.9,770.5 810,805.7 831.8,796.9 821,843.3 821.3,847.3 829.6,835.1 819.6,817.7 815.4,829.8 836.4,812.4 830.4,852.1 818.7,812.7 826.2,731.8 827.5,813.1"/>
<path class="p3" d="M873.3,1072.6 863.8,984 873.9,981.8 882.3,1039 856.1,1015.4 875.6,1008.5 867.7,976.9 863.6,1020.1 883.6,968.6 858.4,973.2 865.4,965.2 871.1,965.9 859,1037.4 865.2,946.4 878.3,1058.2 870.6,1092 871.9,1062.2 875.1,992.1 864.6,986.6 865.2,955.4 860.2,963.8 877.4,960.9 865.7,944.6 862,991.1 867.4,968.9 871.5,1020.5 873.8,963.6 865.3,1069.4 864.4,968 855.8,1021.4 874.7,959.6 866.9,938.2 869.6,1107.8 874.5,1074.3 877.3,993.3 871.6,957 873.2,927 864.8,1062.9 876.4,1027.9 879.8,1009.3 887.2,995.3 853.9,995.8 866.3,1012.2 882.4,976.5 863.3,1045.5 858.3,970.2 881.5,1030.1 876.7,1003.5 873.9,1035.9 875.1,977.5 858.1,988.7 875.8,950.5 872.8,1096.6 864.8,1006.9 864.1,1034.7 877.7,1050.3 877.6,1016.5 871.3,1047 875.4,1049.3 883.7,987.7 871.3,1009.9 872.5,1015 878.4,996 858.6,1029.7 869.2,1027.6 869.5,1016 858.6,998.6 873.5,1017.9 855.4,984.7 869.5,1085.7 854.3,989.4 880.6,999.1 854.3,1008.6 859.2,1040.6 869.8,934.5 877.2,985.8 877.8,980.4 872.6,1065.3 866.1,1039.1 880.4,1035 875.2,988.4 863,999.3 882.1,1006.6 867,1008.1 886.5,1005.4 868.2,1089.3 856.2,1007.5 865.2,996.9 863.5,1059.8 860.2,1039.8 887,984.6 872.8,923.8 878.6,1042.1 885.5,1002.8 877.2,1034.4 877.8,1021.8 875.5,1019.1 853.9,999 870.7,990.6 868,1088.6 881.9,970.3 862.7,964.3 874,997.1 870.5,1010.9 869.1,1005.8 860.1,1014 875.8,1041.3 878.7,1055 867.2,949.3 873.6,930.2 872.3,941.2 881.6,1022.6 862.3,989.3 864.9,959.9 856.1,987.5 874.4,1079.4 867.1,1042.7 877.8,1031.9 868,1050.9 867.4,998.1 870.6,947.9 870,1021.7 867.5,941.9 861.4,1001.3 867.7,937.2 864.5,1026.1 872.2,972.8 872.8,1051.7 870.5,1125.7 870.7,1118.8 865.8,1001.8 868,931.8 873.4,1007.3 888,1000.6 866,975.4 872.4,952.1 878.9,972 871.8,999.6 879.5,988.9 880.3,974.9 860.1,977.7 881.7,993.9 862,1011.4 868.9,1098.2 864.8,952.6 876.7,964.8 868.6,928.6 865.5,1050 877.8,1006.1 873.6,954.7 859.4,966.1 885.1,997.8 874.1,938.3 854.2,1000.1 876,983 874.8,936.6 874.1,1083.8 887.8,1000.3 875.7,1060.8 863,1056.6 854,992.6 873.8,1054 871.8,1095.6 867.9,982.7 886.6,981.4 872.6,924.2 870.2,1080.6 873,987.1 886.7,1013.4 870.7,1071.4 875.5,971.1 877.4,953.5 874.1,1066.9 883.5,973.4 877.1,1064.6 856.6,1027.8 872,984.2 857.6,973.4 868.3,1091.8 862.1,971.6 862.7,1009.4 876.7,1046.2 863.5,1052.3 881.4,986.4 868.8,950.9 879.1,963 871.7,1111.5 874.6,1080.6 887.4,991 881.8,980.9 867.1,1082.2 879.9,1028.6 865.1,1069.5 871.2,922.8 877.1,946.2 868.4,944.4 885.1,975 873.7,969.3 873,1084.3 871.9,928.8 853.7,989.8 870.5,1141.9 862.1,980.6 860.7,1025.2 868.5,993.2 868.6,1044.6 862.3,1022.2 866.7,987.9 861.7,1050.2 874.6,1002.2 876.8,947.3 857.5,1033 865.6,1072.6 885.9,1015.7 867.7,1085.4 859.7,983.3 872.7,1029.4 860.8,996.3 873.7,1087 870.9,989.7 875.4,939.8 878.9,952.6 876.2,943 887.1,1003.8 868.6,1095 883.2,1032.6 866.8,1079 855.3,995 872.9,994.7 860.7,1031.4 883.3,1001.6 885.6,1021.2 874.7,1012.4 868.1,1073.6 882.6,965.4 862,1028.2 856,979 863.6,1004.4 869.3,1053.5 860.7,1047 865.4,1017.3 869.6,1097.6 866.1,1046.5 866,981.2 881.8,1036.6 881.6,1017.1 857.9,1012.9 872.2,1039.4 863.8,978.3 869.5,954.2 862.4,957.8 876.1,1071 869.3,1064.1 867.9,1067.5 870.2,1101.2 866.1,1065.8 873.9,949 873.9,1059.2 885.8,978.2 888,990.3 883.9,1029.4 887.9,997.4 857,1002.6 869.9,1041 867.6,935 875.7,1024.9 870.3,1131.9 867.2,961.2 856.6,976.6 865.4,972.4 859.3,1003.8 861.1,1047.9 873.2,975.9 855.3,986.2 878.1,1057.6 883.8,991.5 876.7,1013.8 853.6,1002.2 868.9,970.5 874.1,933.4 872.2,1099.1 871,1068.3 878.9,1011.1 867.2,1055.7 864.1,994.3 879.2,958.4 869.9,979.8 883.5,1018.4 863.2,954.2 875.9,1055 867.5,1030.5 871.4,919.7 867.2,956.6 869.9,959.2 872.8,1043.2 861.8,962.3 854,1005.4 856.2,979.8 854.2,1010.2 880.4,959 864.2,1032.2 872.4,962 870,940.3 870.4,1048.9 868,1003.1 864.9,1054.5 872.9,932.8 867.4,1035.5 873.5,1090.2 882.8,996.6 887.1,987.8 857.2,1031 869.2,1101.4 863.3,1057.2 864.8,1066.2 862.4,974.8 883.3,1024.1 868.8,985.4 879.3,1025.6 858.4,1008.9 868.2,1024.5 868.4,1082.4 869.6,995.6 854.9,1005 883.7,1027.2 857.6,992.5 879,978.2 859.3,967 855,1011.8 872.2,1081.2 885.4,979.5 885.4,985 876.7,974.2 872.2,1106.2 866.4,991.8 869.4,1104.6 879.7,1044.2 869.6,974 879,1000.8 868.4,963.1 861.1,1036.4 871.1,1104.6 860.5,986.1 870.2,1000.6 869.3,930.7 884,982.4 881.8,1042.2 867.5,1018.7 877.7,949.4 866.2,941.4 874.9,1077.4 860.8,969.9 884.9,1023 857.4,1018.3 880.1,983.6 854.9,983 860.5,1043.8 880,1048.6 862.9,1038 880.6,1048.2 877.5,1061.4 864.3,1063 887.4,1010.2 875.6,1074.2 880.8,1014.4 876.2,998.5 865.6,1029.1 858.5,976.3 874.1,1045 870.5,967 858.5,1034.2 855.3,1015 869.5,1075.8 872.4,1004.7 855.3,1018.2 879.9,968.5 881.2,962.2 878.5,1052.8 887.4,1010.5 873.7,943 856.4,997.6 886.4,1016.6 864.2,1041.7 870.7,1138.2 869.1,1037.3 876.2,1063.8 878.4,1038.5 885.1,1013.2 871.5,1056.7 867.3,1077.4 870.7,1033.7 874.4,1031 871.9,1026.5 884.2,971.8 881.1,1045.4 882.4,966.5 871.9,1076.4 868.2,1061.1 855.8,1021 879.5,955.8 871,1032.6 875.3,1037.7 856.8,1024.6 888.1,994.2 885,1026.2 873.8,1023.4 887.5,1007 866.1,1059.6 870.7,927.4 875.9,955.9 871.1,945.5 861.4,960.6 883.1,1035.8 871.5,936.1 879.4,990.9 868.4,1013.4 870,1058.3 876.4,1070.5 866.2,1023.1 876.6,967.6 873.3,1091.2 868.9,925.4 871,1124.6 881.8,1040.5 859.8,993.6 876.3,1067.8 859.6,1019.6 861.3,1016.8 883.1,1011.7 864.8,947.8 879.3,1051.8 885.5,1019.8 857.2,1026.7 863.9,951 862.3,957.4 871.2,1086.9 864.3,1014.7 860.4,1006.4 869.8,1108.6 866.2,1075.8 884.2,1008 879.4,1019.9 858.6,1023.8 886,992.7 872.5,1099.8 872.3,1103 862.3,1053.4 861.6,1043.7 871.4,978.7 857.9,981.9 873.1,1093.4 884,1033.3 881.1,1004 870.9,1200.6"/>
<path class="p4" d="M914.9,889.3 913,864.5 911.3,862.7 928,832.2 909.7,813.9 923.9,827.2 909.7,824.7 904.1,829.4 924,862.7 907.2,823.8 909.8,851 914.6,904.2 905.1,863.4 898.9,838.5 920.2,876.3 914.4,826.6 905.9,850.7 912,798 903.2,836.5 915.2,837.6 905.5,830.3 908.5,877.3 916.8,890.9 926.9,855.4 913.8,850.3 918.3,875.3 916.3,804.6 923,856.6 905.9,870.7 917.1,895.1 921.7,850.6 908.5,856.9 912.4,883.9 913.3,799.5 910.6,882.4 912.7,844.8 915.3,918.5 926.8,834.7 920.6,826.8 920.7,832.3 916.1,831.4 920.7,815.7 929.8,850.1 920.4,879.1 925.7,850.8 914.8,839.6 918.9,843.5 916.8,847.9 907.5,867.3 909.5,833.5 917.7,852.1 902.4,853.9 924.5,832.9 901.3,857.3 923.2,831.2 914.1,874.7 925,846.4 905.9,832.4 915.1,913.5 926.3,829.7 911.2,835.9 914.8,803.2 931.2,839 912.7,807.3 916,812.1 914.4,862 917.9,883.8 913.3,810.6 918.9,865.8 912.1,856.1 907.1,837.3 925.4,863.6 910.6,843.1 901.4,832.1 923,840.5 914.7,794.2 921.2,824.6 908,862.4 912.5,830.1 919.4,856.3 904.8,856.6 902.4,843.6 915.5,824.9 923.2,836.7 918.1,822.5 913.1,819.5 911.1,828 910,885.4 918.2,809.9 900.6,848.8 922.9,874 901.7,834.3 918,794.9 913.5,880.2 929.3,844 926.3,825.5 915.2,910.1 913.3,832.3 915.7,857.2 919.5,887.2 906.5,840.8 910.7,870.1 908.1,827 927.2,842.4 919.1,836.2 904.5,845 917.1,834 927.6,861.3 915.8,870.3 917.6,862.8 908.8,831.4 921,869.6 908.7,847.8 910.1,875.8 913.2,892.2 921,844.8 903.7,825.4 917.6,828.6 917.5,803 919.5,830.3 915.1,884.1 912.2,876.6 920.9,862.3 916.7,882.2 916.1,876.6"/>
<path class="p5" d="M970.2,996.1 944.5,956.1 971.6,957.7 970,941.7 963.4,1021.7 958.8,1023.7 968.1,993.8 958.1,937.3 960.9,985.4 953.5,938.5 949.6,940.1 947,978.9 959.3,1007.4 953.4,967 953.1,991.1 968.7,941.3 950.4,940.8 959.8,991.4 964.3,1015 963.3,989.8 965.8,997.5 960.3,924.6 955.6,943.7 955.3,1010.5 965.7,1001.6 957.2,1019.6 967.9,953.4 945.9,985.8 961.1,1035.2 950.4,961.3 946.1,949.7 958.8,1066.4 953.9,971.9 949.4,984.2 962.1,967.2 947.5,973.7 959.9,969.7 955.9,920.9 975.2,980.5 956.4,920.5 947.2,983 964.3,968.6 952.9,1000.8 961,964.8 948.4,997.7 958.1,1055.3 960.6,1002.7 943.3,975 959.6,959.5 945,952.9 969,987.5 962.7,1010.2 975.7,960.9 953.6,947.4 956.3,1029.7 956.7,917.7 958.8,901 962.6,972.3 943.9,981.7 974.3,975.3 945.5,988.1 960.7,1012.8 943.4,978.5 951.9,949.8 959.2,931.5 963.7,1005.9 965.4,1012.1 955.6,1001.8 955.2,978.2 958.7,1037.9 959.7,1020.5 955,982.4 971.7,992.2 969,974 945.4,954.5 961.6,1004.7 957.7,955.2 958.7,1119.5 948.8,976.4 973.4,972.8 955.1,1023.3 944.6,967.6 969.6,964.1 958.9,1057 949.9,955.8 944.7,977.6 975.6,964.1 951,1003.2 971.2,951.8 957.1,1004.1 965,939.3 974.7,976.9 974.3,983.3 951.3,1008.1 954.2,1013.8 943.8,959.3 967.2,1005.7 961.2,1037.7 960.6,914.7 952.2,1010.5 953.1,977.1 960.4,1050.5 964.7,1015.3 966.4,965.9 958.3,1015.7 956.7,963.1 975.9,967.3 959.4,1094.5 949.6,944.9 966.1,946.9 952.2,933.7 958.1,986.4 945.3,972.5 958.1,912.1 953,953.8 962.1,922.6 957,983.5 971.3,971.5 953.7,956.6 959.6,919 963.1,996.6 960.4,940.1 960.7,1044.1 956.4,989.4 959.7,1032 967.8,958.9 954.5,987.8 961.5,1034.5 954.5,998.1 943.1,980.2 943.1,965.7 956.8,952.3 960.4,906.5 957,1036.1 960.8,1024.9 957.1,1027.2 949,966.2 949.5,952.9 970.9,981.8 971.9,989.7 960.8,909.7 959.2,929.2 942.5,970 973,967.8 966.9,1008.5 946.6,991.8 949.5,995.1 962.5,938.1 950.7,946.4 963.2,922.5 975.7,973.7 957.7,965.6 951.2,969.5 975.1,965.3 955.6,1017.1 944.9,984.9 963.1,1022.8 951.4,996.9 961.4,977.3 953.2,1013.7 972.6,983.3 955.6,939.7 961.7,988.3 965.4,930.7 961.9,1031.3 958.6,992.7 953.4,929.7 971.1,944.9 967.6,979.2 953,943 951.2,979.6 961.6,957 961.7,994.8 963.6,958.3 971.4,992.9 942.4,968.9 959.8,1040.4 966.3,1008.9 967.2,935.3 955.5,994.3 961.8,916.1 957.3,1012.2 955.2,924.1 950.9,936.9 958.3,970.7 959,981 955.6,933.5 950.2,1004.1 953.2,930.5 950.8,987.2 968.5,984.6 965.4,949.6 955.6,958 957.2,914.5 946.1,962.5 947.3,994.5 954.5,1020.1 961.2,912.9 962.9,946 965,993.2 963.3,1000.4 976.4,970.5 952.2,993.3 953.8,1016.9 949.6,971.2 965.7,976 964.7,973.5 958.5,941.9 967,971 972.3,948.1 967,981.1 968.6,969 959,1085.1 975.7,970.4 971.5,961.5 965.1,928.9 961.7,926.7 966.4,1003.9 959.1,905.4 974.3,954.5 960.1,998.5 959,1009.1 973.1,986.5 962.8,1024.9 951.9,974.3 955.8,1026.5 954.3,927.3 949.2,1000.9 971.9,977.8 962.2,951.2 974.8,980.1 957.2,996.2 958,908.1 966.7,943.3 958.7,1125.7 955.1,1021.3 946.8,968.9 943,975.3 970.8,966.5 962.3,1028.1 969.4,999.3 952.4,964.3 954.6,961.9 955.6,926.4 957.2,975.6 964.7,933.9 962.9,982.5 963.8,1018.5 959.3,979.8 964.3,1011.3 968.8,945.4 958.7,949.2 943.1,962.5 960.5,954.2 958.2,923.8 958.5,1048.8 959.9,947.8 947,948.2 969.9,976.7 969.4,956.3 957.6,1045.7 960.9,1040.9 957.9,1048.9 943.1,959.9 956.6,1032.9 961.1,935.4 953.3,984.9 960.6,1047.3 946.5,991.3 958.1,1000.1 957.3,1039.3 965.4,955.6 957.9,1041.6 943,972.1 957,1033.8 948.1,963.8 958.2,917.5 967.2,961 962.3,1018.4 972.9,986.2 958.1,1056.4 964.1,952.7 958.8,1134.4 951.4,1007.3 972.9,954.7 960.1,1046.1 951,981.6 956.9,945.8 968.1,1002.5 959.7,1114.5 971.9,948.8 948,951.5 953,936.2 955.5,968.1 963.8,942.2 949.1,998.9 973.3,951.3 948.7,943.3 962.5,919.3 975.5,960.3 960.4,1053.7 956.6,927.8 957.3,934.5 963.5,978.7 947.7,946.5 959.2,1075.8 961.3,944.5 960.4,974.7 945.7,957.2 975,957.7 969,950.2 964.1,925.7 968.9,999.3 965.2,963.3 959.3,1052.7 951.4,959.2 947.4,958.5 963.1,962.3 969.2,995.8 961.4,1028.2 973.7,962.8 966,932.1 955.1,1006.5 961.2,1016.6 959.8,894.7 964.8,984 970.4,989.1 943.7,964.9 958.2,1030.4 965.4,986.9 968.5,938.5 958,1052.1 966.7,990.6 957.7,911.3 966.5,936.7 952.7,1005.3 959.7,909.2 955.2,950.7 956.1,973.2 962.6,932.6 947.5,988.6 949.6,990.2 957.5,1042.5 958.8,960.5"/>
<path class="p6" d="M1017.4,994.1 993.4,1020.7 994.1,1035.5 1005.1,1068.5 1020.4,989.1 1003.8,984.4 1003.7,1073.2 1012.5,1025 1005.2,990.5 1005.2,1072.3 1000.8,1067.5 1003.1,1061.3 995.4,1028.7 997.8,980.7 998.5,1054.7 1000.8,988.5 1006.3,993.4 1005.6,934.7 999,1011.1 1003.5,1040.9 1003.1,1009.8 1015.8,1024.3 998.5,1048.9 1003.7,1094.5 998.6,986.9 1003.9,933.3 1002.8,1023.6 1004.6,1002.4 990.4,1022.7 1008.5,958.7 997.7,963.5 1016.3,1023 1012.1,961.8 986.5,1000.3 991.3,1018.8 1019.6,991 1003.9,1131.9 1011.3,997.7 986.1,1003.5 1007,1059.6 987,1002.6 1004.8,939.3 1006,1065.9 1020.1,996.9 1000.5,1019.7 1005.9,1037.9 1001.6,1065.3 1020.8,995.5 996.4,1045.1 1012.3,1037.1 990.8,995.3 1015.5,1010.7 993.1,1031.2 995.8,1041.9 1017.3,1012.4 1002.2,1032.2 994.7,1017.1 1003.1,922.8 999.6,1025.7 989.2,999.9 999.7,982.2 1015.4,975.2 988.4,1005.8 1006.2,956.9 999.7,994.4 995.1,1008.2 989.4,978 991.4,1001.3 990,1022.7 1020.7,998.7 1006,949.3 1016.3,1021.1 1004,1022.2 991.9,1029.1 1002.4,956.6 1009.6,972.3 1005.7,1005.3 995.8,1002.1 1001.9,1077.1 1001.8,979.1 1001.2,1037.5 1004.8,1063.4 1014.7,1027.5 996.2,972.6 1017.6,1015.8 1007.1,1059.5 997.7,952.3 1016.5,1006 1020.5,1001.9 997.9,1051.5 1013.6,1030.7 997.9,969.4 995.2,996 985.9,993.9 998.5,1017.9 1007.7,1056.3 1003,1122.6 997.3,1014.3 995.1,968.6 993.6,998.1 1013.2,1033.9 1003.5,1008.4 1009.1,1013.2 1010.2,1029.4 1004.8,1047.7 989.8,1019.5 1010.8,1036.5 994.4,986.1 1019.6,1008.3 1020.5,985.9 1006.3,1054.9 991.9,989.2 1002.4,997.6 999.9,1061.1 998.5,1030 1007.8,1006.9 996.2,1024.5 993.6,976.6 999.5,1058.2 1007.6,963 1002.1,1077.3 1002.5,1051.2 1003.1,1103.8 1013,1014 994.1,961.9 1002.2,1016.1 988.3,977.9 1011.6,957.1 1009.8,1016.6 1005.3,1051.7 989.1,1016.3 986.9,1006.7 995.4,960.8 1012.9,995.4 995.2,958.7 987.7,1009.9 1016,986.5 993.4,1026.6 994.9,1038.7 1005.8,981.2 993,992.3 1019.9,1009.3 1007.4,987.5 1005.9,1018.5 1002.7,962.4 1015.1,966.7 991,1012 999.4,973.5 1007.2,1011.6 990.8,971.5 1008.1,1053.1 998.2,954.6 993.9,979.9 1008.5,994.8 998,998.9 1017.6,1017.9 1005.1,1014.9 1010.4,964.1 991.4,970.6 1004.3,1081.6 1009.1,1000.8 997.5,992.9 1010.7,991.8 997.2,977.2 1011.6,985.9 999.9,1053.2 992.7,1032.3 1007,968.1 1007.7,1020.1 1012.1,976.8 992.6,1004.3 1004.1,996.4 1007.9,982.7 1001.3,1027.6 991.3,983.1 1014.4,1004.6 1006.6,1062.7 1015.2,992.7 1016.1,981.9 1004.4,960.2 1001.5,1073.9 1001.1,936.3 1001.9,991.6 986.8,997.1 996.9,1033.2 1018.4,1011.5 1000.2,1000.4 1013.4,963.5 1016.7,973.1 1005.2,931.5 994.9,1010.5 995.4,1041.8 996.3,990.1 1000.7,949.8 1014,989.5 1010,1034.2 1004.6,1078.7 1018.5,976.3 1001.5,937.5 1010.6,1043.5 989.5,974.7 995,1036.1 1013.2,973.3 1019,1002.9 999.2,1006.5 1017.7,1014.7 999.5,1045.1 1006.2,937.9 1006.4,974.1 1016.3,969.9 997,1048.3 1001.8,952.4 1002.1,1080.3 986.4,996.6 989.6,1015.4 998.4,957.9 1007.7,946.1 1015.8,971.2 1008.2,947.5 1004.7,977.7 999.7,1034.5 1004.3,1030.2 1007.9,1039.5 1001,975.6 1015.7,998.5 1000.1,942.7 994.3,966.3 1006,1025.9 1012,1007.6 1017.3,978.5 1002.9,971.5 1009,1049.9 1010.2,969.2 987.3,984.3 1005.3,965.4 1005.6,1069.1 1000.7,939.5 1008.4,1046.3 1004.9,1075.5 988,1013.1 999.1,1057.9 1008.3,976 996.8,1038.8 987.5,990.8 988.6,993.6 1006.9,999.5 986.2,987.5 1001.1,967.5 991.9,968.3 1003.4,947.9 1010.1,1003.7 1005,953.8 1002.6,1070.6 1010.3,953.9 1013.3,1031.6 1019.3,979.5 993.2,1013.8 999.3,945.9 999.4,944.9 1008.5,1049.8 1017.9,1000 1006.9,1044.2 1001.3,1003.5 1020.1,985.2 1009.7,1046.7 995.4,983.8 1002.9,929.1 1000.2,1064.3 991.5,1025.9 1011.3,1040.3 1009.6,955.6 986.6,990.7 1012.6,960.3 1007.4,1028.1 1011.5,1009.9 992.9,965.1 996.5,955.5 1019.4,1005.1 1015,1019.2 1009.6,988.9 1001.1,1013 1001.5,1046.8 986.8,984.8 1003.4,1143.2 1003.2,1043.4 1009.7,979.6 992.2,974.6 1007.4,944.3 1003.4,942.4 990.7,1007.2 1003.8,1056.9 1001.7,933.1 1013.5,1001.6 1007.8,951.6 1000,965 989.5,981.5 1006.7,941.1 1020.2,992.3 1012.2,983.6 1004.8,1035.2 1003.4,1085.1 1013.7,1026.9 997,1005.1 986.7,1008.8 1000.1,959.5 1001.5,1055.9 1001.1,1070.7 997.1,1021.6 1020,982.7 1012.5,966.9 1009.4,1024.1 1018.4,988.2 988.4,981.1 1013.8,980.4 1011.1,1021.2 1001.8,941.6 1004.1,970 989.8,987.8 999.2,1040.2 1009.2,950.7 1013.5,1017.4 1007.6,1032.9 1003,985.3 1003.7,1113.2 1011.1,1042.4 998.3,949.1 1003.8,1200.6 1003,1200.6"/>
<path class="p7" d="M1033.7,979.3 1041.2,890.7 1047.3,887.4 1042.2,940.2 1042.4,905.1 1043.7,1000.7 1051.5,976.9 1040.6,981.4 1049.1,933.3 1047.9,936.9 1046.1,880.7 1049.3,873.2 1044.8,970.4 1032.4,962.2 1054.8,935.4 1053.6,880.6 1055.1,968.2 1045.3,889.6 1041.4,880.5 1053.2,888.1 1056.7,966.7 1049.8,944.4 1048.3,987.7 1047.2,1024.6 1045.9,984.7 1047.7,999.1 1040.2,987.7 1050.2,875 1047.4,917.6 1053.6,931.1 1053.8,869.1 1047.7,957.1 1049.6,921.6 1057.9,961.4 1045.2,920.4 1042.3,873.2 1035.8,966.6 1050.3,892.7 1054,920 1046.8,988.1 1053.7,960.4 1047.8,914 1038.6,983.8 1059.9,959.3 1059.1,975.7 1044,926.7 1034.6,975.5 1038.6,968.7 1039.6,956.5 1034.7,959.7 1039.9,898.8 1051.5,959.4 1044,982.3 1050.7,925.2 1035.3,947.8 1038.6,950.6 1043.3,936.8 1047.3,833.6 1052.5,871.1 1043,875.9 1054.3,890.9 1053.3,986 1040.8,985.2 1044.6,906 1048.8,973.3 1045.8,872.2 1063.9,957.8 1046.6,874.4 1033.6,965.8 1047.1,980 1048.9,906.1 1040.9,972.8 1046.7,902.8 1048.4,878.2 1044.8,865 1045.5,998.1 1055.6,958.4 1061.4,973.7 1036.7,970.8 1047.8,850.1 1041.8,925.2 1050.8,871 1057,984.2 1042.3,882.3 1038.3,945 1053.1,905.8 1056.9,950.9 1056.2,916.4 1059.6,948.4 1049,995.5 1048.5,926.9 1040,966.9 1053.8,981.4 1045.6,935.6 1042.8,992.4 1048,806.1 1038.6,938 1050.8,879.2 1044.6,857.3 1059.1,969.7 1045.2,880.3 1049.9,881.8 1040.7,922.2 1047.8,979.1 1055.2,902.5 1043.4,912.4 1043,918.8 1046.7,845.7 1047.4,1003.1 1041,936.1 1047.3,957.9 1046.3,891.4 1047,847.3 1040.9,961.4 1048.5,846 1044,986.8 1052.9,970.6 1040.7,978.9 1049.6,952.4 1040.2,886.6 1039,958.8 1053.6,974.6 1063.4,967.9 1061.1,979.9 1048.9,880.4 1061,966 1056.5,938.7 1048.2,1019.6 1045.7,850.8 1051.8,993.3 1045.3,989.8 1055.8,928.1 1055.1,924.4 1058.9,965.2 1048.2,1014 1045.6,910.9 1050.2,935.9 1037.8,965 1042,947.3 1048.6,857.2 1049.9,997.9 1061,970.3 1044.3,996.9 1051,903.9 1046,948.4 1044.5,942.3 1044.2,871 1049.4,851.7 1041.1,878.2 1054.3,910.7 1044.1,885.3 1043.8,953.8 1053.6,873.8 1057.1,945.2 1040.3,907.4 1052.6,936.8 1048,886.5 1034.4,952.6 1038.3,974.9 1054.6,942.1 1050.5,965.7 1042.2,892.8 1045.5,945.3 1049.4,961.9 1039,914.9 1050.3,982.9 1048.5,947.6 1052.1,877.3 1046.7,855.5 1041.3,911.3 1036.7,961.1 1055.8,956 1044.1,976 1042,965.2 1042.7,969.8 1047.1,878.6 1051.3,929.4 1063.3,962.4 1054.9,947.2 1052.7,880.1 1054.4,878.5 1050,910.9 1046.3,924.7 1054.8,987.9 1049.3,889.7 1054.7,964.4 1043.1,988.4 1046.3,962.6 1033.2,973.6 1051.8,917.8 1051.6,954.3 1045.9,974.1 1039.9,934.6 1044.5,932.2 1051.1,985.2 1043.3,879.8 1048.4,967.4 1050.7,988.2 1036.8,977.4 1048.3,895.7 1044.8,877.8 1057,981.6 1043.1,959.4 1046.5,995.3 1042.3,930.8 1051.4,945.6 1031.3,957.3 1034.6,970.1 1048.6,990.2 1046.8,928.6 1045.2,959.8 1042.1,975.2 1052.5,988.6 1041.5,868.1 1047.1,938.9 1047.6,867.8 1043.3,887.9 1031.7,967.5 1042.1,951.3 1055.2,887.4 1050.9,969.9 1052.4,893.6 1051.9,939.9 1052.9,949.3 1062.1,959.8 1052.1,911.7 1052.6,966.5 1057.3,975 1044.2,895.5 1052.9,926.3 1059.3,953.7 1049.7,975.2 1035.7,955.6 1039.4,945.9 1046.8,968 1051.9,884 1051.2,887.8 1049.6,857.6 1047.5,869.7 1056.7,972.6 1044.2,966.4 1039.6,927.2 1050.9,1003.1 1054.9,978.8"/>
<path class="p8" d="M1077,848.5 1091.7,731.2 1087.8,729.3 1077.4,825.7 1099.4,773.6 1098,854.6 1076.1,811.7 1092.2,848.2 1105,827.7 1105.6,851.7 1081.6,822.7 1088.1,828.1 1084.7,799.3 1083,774.5 1075.9,771.7 1090.1,816.6 1082.1,753.4 1096.5,831.5 1091.9,704.4 1092.1,894.7 1078.3,784.6 1102.1,799.1 1098.6,753.8 1090.8,852.8 1103.6,775.2 1080.1,838.5 1087.1,777.1 1107.4,816.6 1094.4,824 1085.9,823.9 1107.5,772.9 1106.3,784.7 1091.3,773.2 1100.1,844.5 1084.5,845.5 1099.4,868.8 1097.7,792 1095.8,732.4 1092.2,689.4 1098.7,822 1093.4,803.3 1084.4,764 1092,771.4 1089,788.8 1103,823.7 1080.4,798.7 1095.5,780.9 1083.7,855.2 1091.8,1200.6 1094.2,1200.6 1089.4,1200.6"/>
<path class="p9" d="M1142.6,1013.4 1121.7,1022.1 1149.2,1023.7 1128,976.3 1151.3,982.2 1140.8,958.7 1147.6,967.9 1144.1,1052.5 1130.6,1014.5 1126.6,998.1 1133.6,1089.3 1145.8,1042.9 1135.1,1055.7 1124,980.7 1144.9,1025.5 1136.4,1044.3 1146.4,1027.1 1143.4,1049.8 1123.8,995.6 1124.5,957.6 1121.5,1004.4 1127.4,938.9 1135.8,1122.5 1145.7,995.8 1126.3,1033.4 1146.7,1033.9 1135.4,1078.1 1128.4,981.2 1120.3,1002 1136.6,953.9 1138.8,1051.3 1122.6,1025.3 1120.2,1012.5 1138.3,1087.7 1136.9,933.2 1140.4,1046.4 1147,1036.5 1149.8,1020.5 1141.3,1065.3 1152.6,972.5 1137.6,1012.1 1130.8,941.5 1137.5,918.1 1130.8,1026 1131.8,956.9 1143.3,1055.7 1125.4,945.3 1124.4,964.8 1139.1,1042.2 1128.1,1035.1 1138,991.5 1125.9,993.1 1133.5,969.7 1145.2,939.7 1126.3,978 1133.2,942.5 1138.6,1014.7 1144.3,1016.9 1119.3,993.3 1137.6,971.4 1151.3,962.9 1143.3,953.3 1125.7,1003.2 1134.3,961.2 1142.4,990.3 1141.4,980.3 1133.3,1021.5 1133.6,932.2 1135.6,1136.4 1134.7,992.6 1132.2,1039.6 1136.5,976.5 1119,977.3 1121.4,1018.9 1140.4,985.4 1130.5,962.6 1136.1,1128.4 1150.9,959.7 1123.1,954.3 1136.6,1116.5 1133.3,1058.3 1126.3,1045 1147,983.4 1152.3,992.2 1146.6,1014 1132.4,1053.1 1138.1,936 1125.9,942.1 1131.4,1009.1 1146,940.5 1146.9,990.8 1129.4,1060.5 1139.6,998.9 1134.4,1050.5 1152.7,994.9 1152.3,1007.4 1139,1081.3 1128.1,996.2 1143.5,992.7 1139.8,927.9 1138.3,1070 1141.7,1010.6 1134.7,1072.7 1137.2,1036.7 1130.1,1051.6 1132.6,1032.6 1123.8,1031.7 1125.4,1037.1 1139.2,1063.8 1142.8,1002.8 1128.9,949.3 1148.9,953.3 1126.7,961.9 1144.6,1049.3 1143.5,967.2 1128.8,1001.1 1141.1,948.8 1145.2,1046.1 1122.5,954.9 1126.7,952.8 1128.3,935.7 1139.3,1072.1 1147,973.3 1142.8,972.5 1144.8,1006.1 1129.4,1011.8 1149.1,954.9 1131.5,946.5 1145.2,943.9 1140.5,1016 1145.5,1045.2 1123.7,1005.7 1149.4,960.9 1135.1,1110.4 1142.8,1028.7 1142.2,1031.3 1144.5,959.3 1130.3,993.6 1130.3,1066.4 1150.4,1018.3 1138.2,921.3 1132.6,926.1 1118.7,990.1 1139.1,993.9 1144.7,987.8 1123.9,1026.9 1147,1003.6 1128.7,1057.3 1138.6,973.8 1134.2,1034.3 1136,938.7 1128.8,1017.1 1150.7,1012.7 1137,1059 1142.6,1058.9 1129.9,953.7 1143.5,977.8 1137.2,1100.5 1134.6,1012.9 1123,1028.5 1135.5,1007.7 1131.2,1036.1 1151.2,1010.9 1123.1,1009.8 1131.1,1070.1 1133.8,922.9 1139.7,1009.2 1148.1,950.1 1120.4,1009.3 1139.2,1077.1 1134.1,1095.7 1120.2,1006.1 1141.6,1043.3 1135.5,966.8 1137.8,1040.3 1152,1007.7 1143.7,934.1 1120.5,967.7 1145.1,975.9 1121.5,994.4 1141.7,1000.2 1153.1,988.5 1122.3,999.3 1133.5,1010.5 1136.2,911.5 1137.7,1062.4 1132.8,979.9 1147.9,957.8 1127.5,1019.4 1139.3,924.5 1128.4,1054.5 1120.6,1015.7 1151.3,989.7 1131.5,968.3 1122.2,960.5 1146.2,951.6 1140,944.9 1142.3,955.5 1125.4,1041.3 1140.8,927.7 1148.4,1015.3 1136.1,1107 1124.8,1016.5 1119.5,1002.9 1130.1,1063.7 1142.5,930.9 1132.5,995 1141.7,934.4 1122.5,1023.7 1138,930 1137.4,1001.5 1148.7,1030.1 1142.9,946.2 1149.3,1026.9 1129.3,1038.7 1142.7,1047.5 1132.6,926.4 1146.9,943.7 1143.1,1054.9 1133.3,1070.4 1138.9,1032.8 1122.8,985.5 1140.8,975.2 1140.7,941 1131.9,950.1 1122.5,989.3 1144.3,949.7 1150.4,999.7 1134.4,919.7 1140.9,1052.3 1150.1,979.7 1131.2,1063 1152.9,985.3 1133.3,1086.1 1137.8,1094.1 1127,988.2 1131.3,1057 1131.3,1043.9 1135.5,1046.1 1129.3,1031.7 1140.4,937.4 1129.3,971 1127.3,1050.9 1152.7,998.1 1140.8,1057.5 1119.4,980.5 1129.7,1022.8 1134.3,1024.5 1119.4,974.1 1133,1064.9 1139,1056.4 1141.4,1025 1121.6,961.3 1122.7,963.4 1134.4,972.3 1136.9,1073.8 1137.8,1082.3 1142,1062.1 1119,999.7 1149.1,1004.7 1132.5,1079.7 1127.2,1025.4 1136,1066 1125,983.1 1144.8,986 1127,1047.7 1131.6,938.2 1145.4,1032.1 1144.1,965.3 1141.2,1067.8 1134.4,944.7 1129.4,983.9 1126,1022.2 1136.2,1085.7 1123.9,1020.6 1147.9,963.6 1137.5,1097.3 1140.1,1071.7 1133.7,1041.7 1148.2,1021 1135.8,1068.6 1119.1,983.7 1125.5,947.4 1140.2,989 1121.3,1012.3 1118.8,996.5 1129.9,1060 1127.8,943.5 1140.7,1022 1139.5,968.4 1129.7,959.8 1136.9,996.5 1126.8,939.2 1134.1,935.3 1152.7,997.1 1138.2,950.7 1139.3,1078.1 1134.8,1096.1 1128.4,955.9 1134.8,1105.3 1147.9,978.4 1121.9,979.3 1120.4,991.8 1122.7,1015.1 1153.3,982.1 1129.5,932.5 1137.3,946.9 1118.3,987 1136.7,1094.9 1134.7,1084.2 1143.5,942.2 1150,1009.9 1140.8,1038.4 1131.6,985.1 1134.9,977.3 1122.8,1030 1152.7,975.7 1125.2,970.3 1139.5,1027.9 1152.1,977 1124.5,1000.6 1132.3,1076.5 1133,1082.9 1124.4,948.5 1146.3,1039.7 1138.5,1004 1126.2,1044.5 1120.4,966.1 1137.8,1048.6 1141.3,995.1 1135.3,955.2 1148.6,1024.1 1139.9,931.7 1137,1023.4 1130.6,978.7 1123.8,975.5 1140.4,1034.6 1127.5,967.6 1135,922.5 1135.5,1102.5 1143.5,1039.5 1135.1,1018.5 1138.4,943.2 1142.7,1019 1143.9,1008.1 1149.7,956.5 1130.9,929.3 1145.9,956.4 1135.8,987.5 1135,1037.9 1129.3,1029.1 1137.2,960.1 1129.8,936.5 1119.4,996.9 1148.1,1008.6 1136.6,1053.9 1129.2,991.1 1133.1,1000.1 1125.5,951 1130.5,1066.9 1135.7,1030.7 1141.2,1060.6 1133.6,990 1148.9,1030.4 1149.2,974.6 1136,1029.6 1151.3,1014.1 1136.3,1006.7 1127.9,1006.5 1136.5,1017.6 1133.5,958.4 1152.4,1004.5 1128.2,1054.1 1138.1,1089.7 1133.8,1081.3 1124.5,1038.1 1126.1,959.1 1145.8,1011.4 1125.3,1011 1136.2,924.4 1131.6,1073.3 1132.6,1015.7 1146.4,1019.8 1121.1,1017.8 1135.8,940.5 1140.2,964.4 1137.1,1103.7 1128.7,1049.5 1123.4,951.7 1128.3,965.4 1128.8,945.6 1151.4,969.3 1142.6,982.7 1124.2,1034.9 1131.4,1020 1142,961.7 1119.4,976.9 1135.6,905.4 1138,1090.9 1130.9,998.6 1130.2,973.7 1144,997.7 1122.3,958.1 1133.6,1087.4 1144.4,937.3 1120.2,970.9 1139.9,952.3 1119.6,981.9 1144.3,1022.5 1152.8,1001.3 1152.4,991.7 1127.2,986.2 1145.8,970.5 1146,1000.9 1151.4,966.1 1124.7,990.5 1125.9,1028.5 1132.1,1005.1 1153.5,987.1 1121.8,974.2 1147.5,946.9 1134.4,1098.9 1132.7,1075.1 1141.6,969.9 1136.9,919.9 1132.3,964.2 1128.5,1042.7 1151.5,966.5 1134.4,1061.3 1135.7,1092.2 1132.5,930.3 1137.8,1026.3 1139.2,978.9 1121,971.6 1137.1,981.6 1140.8,1068.5 1133.8,982.6 1136.9,1100.6 1135.4,928.3 1130,1003.8 1120.6,984.4 1135.3,997.3 1140.6,1005.4 1146.7,1037.5 1132.6,1027.5 1147.9,993.4 1118.8,986.9 1129.7,933.8 1145.8,962.4 1138.2,962.9 1133.9,1092.5 1134.6,1102.1 1150.1,994.7 1136.3,966 1135.3,915.9 1150.3,1017.3 1134.2,1002.5 1149.1,988.4 1148.3,998.3 1133.4,951.9 1126.8,1040.6 1151.3,1002.3 1138.6,1084.5 1147,948 1137.1,1079.9 1123.3,968.9 1151,971.8 1119.5,1006.9 1133.2,1048.4 1138.2,984.1 1127.2,1008.3 1144.6,1041.4 1152.3,978.9 1139.7,1074.9 1149.2,984.6 1126.1,972.9 1131.4,988.8 1132.3,974.8 1147.9,1033.3 1143.3,1035.4 1138.9,1020.3 1126.5,1013.6 1136,986.5 1138.9,957.1 1130.7,1047.2 1135,948.4 1121,964.5 1145.8,981 1149.7,969.2 1135.9,1200.6"/>
<path class="p10" d="M1188.4,1042.4 1175.4,1009 1170.2,982 1174,1040.7 1178.8,987.2 1174.4,1032.7 1172,1020.2 1170,1055.5 1180.2,960 1191.3,1036.4 1184.7,965.8 1177.2,958.6 1179.8,1036.6 1165.5,986.2 1172.6,1051.1 1186.9,1051.9 1166.8,1015.3 1181.9,1024.2 1188.6,1020.5 1183.1,992 1167.7,1010.1 1188.7,1013.6 1173.8,1013.6 1181.3,1015.2 1177.5,1011.2 1189.8,1046.2 1170.3,988.9 1195.4,986.8 1193,1015.5 1183.3,1030.1 1187.2,988.4 1172.4,999.3 1184.1,1048.2 1172.5,962 1183.3,1009.3 1180,964 1185.5,1038.2 1182.6,1043.6 1179.7,928.4 1175.4,1052.8 1178.1,978.4 1175.1,966.4 1187.6,1004.5 1180.3,1035.1 1171.1,1043.8 1168,997.9 1169.3,1024.9 1191.5,989.2 1189.6,998 1193,1010.5 1178.3,1047.7 1185.3,997.4 1179.3,1004.1 1171.2,1005 1177.2,1026.8 1176.9,1042.4 1178.6,1016.9 1181.2,1053.6 1192.1,976.2 1175.4,1021.5 1194,995.4 1179.3,1063.5 1164,1001.8 1168.7,1035.2 1176.6,995.7 1174.5,990.1 1188.1,962.8 1183,972.1 1187.6,967.5 1185.1,1012.3 1165.7,994.6 1182.5,955.7 1169.9,974.8 1180.9,1000.8 1189.6,982.2 1186.2,1032.7 1189.8,1057.3 1173.9,983.5 1177,970.8 1183.3,1064.7 1175.5,1065.2 1181.9,985.1 1191.6,1005.9 1189.7,1026 1169.9,1012.4 1196.1,1002.3 1185.5,979 1171.4,1031.3 1185.5,1018.5"/>
<path class="p11" d="M1224.9,980.4 1217.2,988.8 1221.1,1066.9 1209.3,1001.9 1237.1,977.1 1228.4,996.6 1208.4,981 1216.9,1027.9 1210.4,994.5 1236.9,961.7 1226.6,1021.5 1232.6,946.7 1229,978.1 1219.5,1047.4 1217.7,1017.5 1227.9,1043.4 1223.2,1085.4 1225.5,989.4 1213,1004.3 1230.6,958.7 1236.4,967 1224.8,944.5 1233.1,979.1 1219.2,943.4 1220.8,1024.7 1234.8,974.8 1227.5,985 1215.1,974 1221.8,956.2 1236.2,1005.2 1225.7,1016.3 1238.1,966.2 1212.3,1008.4 1220.9,977.5 1240,985.7 1224.1,1000.8 1223.5,1011.3 1234.8,1010.6 1221.9,936.9 1223.4,982.2 1222,1056.6 1219.8,1048.1 1220.8,952.8 1240,992.2 1208.7,975.9 1240,981.6 1215.6,1007 1236.4,995.1 1224.7,1046.5 1227.4,956.6 1217.7,1040.9 1224,921.6 1222.3,1005.5 1228.1,1050.7 1220.3,1002.9 1231.6,1028.4 1230.4,951.2 1215.1,983.1 1227.8,1003.7 1209.1,989.9 1215.5,949.9 1218.4,1037.4 1214.3,992.2 1225.8,1036.1 1240.4,979.2 1210.7,971.5 1218.3,945.4 1238.5,998.7 1220.9,1060.4 1228,1051.2 1224.3,1089.7 1231,1037.7 1231.5,1024.7 1227.2,1070.2 1222.7,1020.3 1221.5,1015.4 1219.9,1042.7 1221.5,1068.3 1220.6,1053.9 1229.6,1033.2 1238.7,990.5 1236.6,959.7 1218.4,993.7 1226.5,1083.2 1230.6,1018.5 1213.6,956.4 1226.8,1071.3 1211,985.6 1218.5,959.4 1221.3,1073.4 1211.8,962.9 1233.7,988.3 1226.7,933.7 1231.7,1018.2 1222.3,1079.6 1235.2,953.2 1222.2,967.8 1213.7,1009.8 1232.3,997.6 1214.8,969.1 1223.5,948.4 1233.2,969.7 1226.7,940.9 1231.7,1001.5 1219.3,1008.5 1210.9,976.3 1218.8,1022.1 1227.4,965.7 1218.9,950.3 1227.7,1031.1 1230.6,962.9 1212.6,997.2 1208.4,982.4 1226,1089.7 1223,1062.2 1225.6,1083.5 1225.8,953.4 1224.4,1119.5 1215.8,957.7 1225.8,971 1223.9,1030.1 1232.3,1007.8 1225.7,927.2 1216.7,979.7 1229.3,1006.6 1215.4,954.1 1220.2,1031.9 1220.4,995.7 1213.1,987.7 1226.6,1041 1229.6,987.1 1212.7,978.8 1224.7,1026.1 1210.3,969.4 1216.6,998.4 1218.4,970.2 1219.2,984.3 1224.6,959.8 1225.8,1055 1228.5,1023.3 1226.6,1059 1209.2,995.4 1225.1,1075 1229.6,940.2 1223.8,1131.3 1222.6,936.9 1213.5,966.2 1230.3,1014.7 1224.8,1064.3 1223.9,1052.8 1239.5,1000.2 1225.6,1009.3 1222.1,1034.7 1223.1,1039.7 1222.3,942.4 1231.1,947.2 1232.6,1011.7 1224.4,998.7 1217,1027.6 1223,972.9 1218.8,1013.6 1230.7,973.4 1219,975.4 1228.6,1012.1 1234.5,992.9 1230.5,991.6 1209,988.9 1235.4,1002.6 1229.3,1044.2 1215.8,1014.9 1235.8,983.7 1222.4,991.2 1216.5,1001.9 1222.1,1086.4 1217.1,1034.4 1224,962.1 1234.2,964.2 1231.7,982.4 1231.6,1031.2 1220.5,965.2 1225,934.4 1221.9,1045.7 1232.6,954.9 1227.8,949.7 1227.6,1057.2 1229.4,968.6 1208.9,999.4 1227.4,1063.7 1230.4,1038.2 1221.3,986.5 1236.8,1005.2 1238.3,972 1217.3,963.5 1216.8,1021.4 1240.1,972.7 1237.9,985.9 1226.9,1076.7 1224,931.1 1226.9,975.9 1223.6,1074 1222.9,930.4 1226.4,994 1222.6,1093.5 1221.7,1079.9 1222.6,1092.9 1212,960.5 1224.3,1200.6"/>
<path class="p12" d="M1269.1,796.1 1273.7,798.9 1277.1,825.9 1255,812.9 1257.1,816.9 1265.6,798.3 1262.4,777.5 1272.3,771.7 1253,800.6 1264.3,781.4 1270.5,767.8 1266.1,838.8 1279.7,797.6 1269.2,848 1256.3,793.1 1274.9,801.7 1272,824 1266.7,824 1278,815.6 1260.3,807 1266,843 1259.4,782.5 1271.6,838.8 1271.2,787.8 1256.8,820.3 1262.6,780 1274.3,827.3 1262.8,819.7 1268,767.4 1273.5,784.9 1256.5,790.3 1264.4,805.6 1266.6,788.8 1260.2,792.1 1259.3,825.3 1268.8,759.3 1262.5,812.2 1256.5,811.4 1278.3,784 1270.7,804.4 1266.7,830.7 1257.7,794.3 1274.7,814.2 1272.8,794.1 1270.7,822.9 1262.9,826.9 1280.1,810.7 1268.7,782.5 1265.2,822.8 1276.2,809.8 1276.9,806.9 1278,792.3 1264.2,824.8 1261.4,799.6 1268.6,832.4 1275.6,797.5 1273.7,821.9 1271.6,797.8 1269.8,790.2 1274.1,777.7 1267.6,797 1270.3,761.7 1268.2,784.3 1279,788.4 1270.9,816.4 1272.1,831.6 1279.8,821.2 1263.6,792.6 1265,831.6 1267.4,826.4 1269.1,819.8 1267.3,791.9 1274,811.9 1265.3,786.7 1268.2,809.1 1263.2,831.5 1274.4,824.6 1261.3,828.8 1260.1,789.4 1259.5,819 1262.3,822.4 1261.9,832.6 1269.6,799.8 1268.1,845.6 1277.9,812.2 1265,771.4 1267.3,839.5 1274.2,830.7 1266.3,774.1 1271,843.6 1263.8,815.7 1267.9,821.4 1269.3,841.2 1262.6,786.1 1256.1,806 1272.4,818.3 1277.4,823.6 1268.7,871.6 1267.5,851.3 1273,789 1281.1,805.6 1281.8,798.1 1266.5,801.2 1255.5,797.8 1265.8,818 1272.8,780.3 1258.6,812 1281.8,811.6 1279.1,803.2 1270.9,793.1 1273.9,835.4 1259.5,797.5 1281,791.1 1263.6,797.7 1277.8,798.9 1276.4,822.5 1270.4,831.2 1259.8,823.4 1268.8,763.2 1276.4,790 1284.4,808.9 1272.8,766.5 1282.4,813.1 1266.3,811.7 1264.7,764.5 1270.7,779.5 1263.2,790 1260.3,810.4 1269.5,776.9 1269.3,824.9 1267,763.1 1253.3,796.4 1252.3,808.5 1283.2,801 1272.2,810.7 1261.3,795.9 1257.3,798.9 1270.1,812.8 1262.3,803.4 1254,805 1265.3,827.7 1272.1,826.7 1280.2,793.7 1279.1,817.9 1268.3,836.2 1267.3,814.1 1272.8,805.6 1274.4,792.1 1261.4,824.2 1259,788.1 1276.8,795.1 1268.6,808.3 1283.5,796.7 1270.9,836.6 1269.7,827.7 1260.2,815.2 1258.1,802.2 1276.7,786.2 1275.4,819.5 1266.7,779.4 1264.3,810.7 1265.3,794"/>
<path class="p13" d="M1317.3,964.5 1312.5,1082 1315.8,995.4 1307.6,929.8 1315.3,1050.3 1308.3,1040.3 1312.5,1124.4 1298.7,994.8 1301.5,996.4 1314.1,955.5 1319.7,992.1 1310.8,1059.8 1303.9,942.8 1298.2,962.3 1309.2,1037.7 1309.5,963.7 1304.2,940.1 1327,959.1 1316.5,937 1305.7,977.6 1319.5,933.1 1320.8,1017.6 1311.9,969.2 1317.9,1030.6 1324.7,996.6 1327.5,990.8 1317.4,944.1 1310.5,997.5 1316.5,928.8 1324.9,985.2 1325.8,998.1 1328.1,985.1 1305.7,1027.3 1312.1,1021.3 1324.1,1004.6 1307,1033.8 1308.9,985.6 1298.9,984.7 1311.2,931.9 1307.7,961.1 1321.1,1019.5 1306.8,982.8 1314.9,983.7 1297.4,988.3 1319,981.1 1328.3,965.6 1313,1125.7 1320.5,1007.3 1313.2,926 1310.3,1012.2 1315.3,948.1 1309.8,947.2 1314.3,933.7 1304.4,953.3 1296.3,975.3 1317.1,1037.1 1325.4,952.6 1314,1027.5 1316,973 1318.2,1030.6 1321.7,942.1 1307.8,934.2 1321.4,966.2 1318,1014.9 1305.4,1006.1 1300.3,956.6 1313.9,978.2 1299.9,1001.3 1312.7,1125.7 1312.9,989.4 1315.7,1012.8 1317.4,998.6 1303.7,999.5 1302.7,981.5 1307.7,972.1 1310.9,950.9 1317.7,1005.4 1318.1,975.4 1322.2,977 1311.5,958.1 1320.1,970.4 1308.9,937.5 1314.4,1034.9 1303.7,1018.4 1302.9,1014.3 1319.5,1024.1 1308.1,1016.3 1304.3,1020.8 1323.1,982.5 1309.4,1046.6 1303.8,949 1317.7,926.6 1308.7,927 1299.9,962.6 1308.5,994.6 1315.3,1039.7 1320.7,954 1312.3,1052.5 1327.3,979.9 1297.2,968 1313.9,1001.8 1304.7,993 1317.2,952.1 1307.4,954.9 1301.6,1007.8 1297.3,981.8 1305.6,936.3 1323,950.3 1309.3,1046.8 1308.2,1023.8 1321.7,939.6 1303.1,1010.1 1326.8,991.6 1325,963 1313.4,1058.6 1312.2,991.7 1310.9,980.5 1323.8,946.1 1301.5,976.4 1310.2,1053.3 1312.9,1043.2 1321.4,1010.6 1305.1,988.5 1325.7,957.4 1320.8,987.7 1303.6,971 1311.3,1066.3 1316.3,1022.2 1320.4,946.1 1313.9,1063.1 1308.6,1007.9 1301.5,949.3 1300.8,1002.6 1313.3,1072.6 1313.4,967.5 1305.4,966.6 1328.6,972.1 1317.9,1025.3 1310.4,1026.5 1324.3,1003.5 1322.6,960.1 1311.6,1062.5 1310.7,1041.2 1307.2,1000.8 1328.2,968.7 1307.3,945.5 1299.6,955.8 1320.7,1000.4 1311.5,1033 1322.6,1011.1 1304.2,959.6 1309.8,975 1297.1,968.8 1323.3,994 1297.5,979.2 1301.5,965.3 1312.5,1090.7 1315.3,961.9 1316.9,986.5 1324.3,971.4 1316,1043.6 1312.7,939.1 1312.2,1075.8 1318.8,958.7 1314.5,1008.5 1311.5,1004.4 1301.1,987 1328.5,978.6 1312.5,942.7 1297.6,990.3 1315.1,1050.1 1299.4,973.7 1305.2,1013.9 1313,1017.5 1314.5,1056.6 1307.3,1029.8 1326.4,974.1"/>
<path class="p14" d="M1368.5,819.2 1350.5,798.8 1356.9,798.9 1350.4,845.5 1365.6,815.2 1359.7,850.1 1368.1,832.8 1347.4,798.3 1351.7,779.5 1358.2,823.8 1354,821.8 1348.4,832.2 1359,764.3 1351,843 1349.9,800.9 1358.7,786.4 1354.8,805.8 1344.8,833.7 1357.2,843.1 1353.6,847.6 1355.6,791.3 1359.5,813.2 1361,791.7 1365.7,806.6 1361,781.2 1354.7,771.5 1348,810.7 1344,837.8 1357.1,857.7 1369.4,813.6 1355.1,788.2 1351.3,766.8 1357.3,735.6 1357.6,789.1 1352.9,764.8 1354,758.6 1353.2,782 1358.7,848.1 1365.7,839.7 1356.1,817.1 1358.1,760.2 1349,830 1354.1,854.7 1357.6,815.3 1358.6,753.4 1356.3,769.1 1356.4,738.7 1341.4,823.9 1364.3,818.5 1352.5,789.1 1359.3,757.8 1370.6,808.7 1363.6,842.5 1356.7,863 1356.3,831.9 1358.5,807.7 1364,793.4 1350,788.7 1347.5,806.1 1356.7,757.7 1372.3,816.6 1358.9,840.7 1357.1,830.1 1357,874.1 1354.2,859 1345.6,814.6 1352.2,839.9 1372.4,831.2 1340.8,830.2 1360.2,820 1344,798.9 1365.3,829.6 1355.1,849.3 1353.2,802.6 1343.8,813.6 1348.7,839.1 1358.4,795.4 1363.1,785.2 1355.5,838 1360.9,759.6 1349.6,815.3 1360.2,833.5 1353.8,797.1 1351.9,820 1366.2,790.5 1366.9,841.8 1369.7,799.5 1354,786.3 1362,835.6 1356,760.7 1367.2,811.2 1362.3,822.7 1366.5,823.4 1364.8,787.5 1350,792.3 1360.1,788.7 1346.4,795.5 1369.2,805.5 1347.3,789.5 1356.9,755 1355.3,759.8 1351.4,774 1348.9,848.8 1364.6,849.2 1362.6,768 1353.6,814.4 1360.1,803 1364.3,832.1 1366.2,797 1352.5,794.9 1356.6,800.5 1360.6,783.8 1370.6,820.4 1363.4,798.8 1357.2,782 1361.6,757.1 1364.6,783 1368.1,844.1 1360.7,853.6 1341.5,815.9 1361.8,845.4 1358.6,860 1343.7,807.7 1362,774.2 1360.4,842.1 1367.6,825.9 1358.9,778.6 1355,824.7 1354,841.9 1352.4,760.3 1356.7,741.8 1344.8,829.3 1362.6,789 1354.4,766.4 1352.4,832.9 1349.1,787.1 1361.2,829.1 1354.5,753.2 1360.5,765.2 1350.9,836.8 1350.8,826.1 1346,803.8 1359.5,770.1 1363.4,824.8 1346.6,825.1 1363.4,800.9 1369.7,838 1343.6,820.3 1347.8,818.6 1361.1,771 1354.5,834.9 1365.5,836.7 1350.9,850.7 1351.7,812.5 1358.2,837.5 1347.7,842.3 1345,843.7 1361.6,814.4 1371.8,824.5 1342.5,826.8 1369.6,827.2 1355,754.5 1347.3,836.5 1364.7,845.5 1363.3,810.1 1366.9,802.2 1349.2,782.1 1369.6,834.6 1349.8,823.5 1361.8,760.6 1359.2,826.1 1357.5,766.4 1351.1,807.4 1352,784.6 1355.4,775.9 1362.1,806.1 1353,828.2 1345.7,840.9 1355.7,809.4 1356.1,844.3 1360.1,797.6 1345.6,822.8 1356.4,783.2 1357.2,748.4 1357.9,772 1352.1,757 1353.1,770.6 1362.5,838.5"/>
<path class="p15" d="M1404,927.8 1396,1054.5 1408.5,1022.7 1389,1069.5 1394,818.6 1393.5,1010.8 1400,832.3 1403,1057.7 1408.5,832.3 1399.9,1200.6 1397.6,1200.6 1388.6,1200.6 1402.1,1200.6 1395.4,1200.6 1408.9,1200.6 1406.7,1200.6 1404.4,1200.6 1393.1,1200.6 1413.4,1200.6 1390.9,1200.6 1411.2,1200.6"/>
<path class="p1" d="M98.1,1733.1 98.1,1705.6 97.2,1754.9 98,1753.7 97.5,1744.9 97.2,1781.1 97.1,1693.7 97.3,1724.3 97.2,1751.8 97.1,1756.1 97.6,1766.8 97.9,1773 101.2,1814.2 104.4,1814.2 87.5,1814.2 110.9,1814.2 107.7,1814.2 113.3,1814.2 90.8,1814.2 110.1,1814.2 84.3,1814.2 92.4,1814.2 99.6,1814.2 94.8,1814.2 102,1814.2 96.4,1814.2 97.2,1814.2 93.2,1814.2 98.8,1814.2 102.8,1814.2 83.5,1814.2 111.7,1814.2 89.2,1814.2 114.9,1814.2 91.6,1814.2 85.1,1814.2 108.5,1814.2 90,1814.2 114.1,1814.2 98,1814.2 105.2,1814.2 80.3,1814.2 103.6,1814.2 106.9,1814.2 85.9,1814.2 81.9,1814.2 95.6,1814.2 109.3,1814.2 81.1,1814.2 82.7,1814.2 88.3,1814.2 86.7,1814.2 112.5,1814.2 100.4,1814.2 94,1814.2 106,1814.2"/>
<path class="p2" d="M155.6,1631.8 134.2,1704.3 124.9,1619.4 131.6,1665.1 144.6,1651.7 156.7,1653 146,1594.8 144.1,1570.3 141.1,1614.6 136.8,1662.7 157.3,1611.4 136.9,1545.8 139.9,1524.4 138.2,1741 151.5,1687.6 144.9,1657.2 139.1,1627.1 129.9,1680.2 154.7,1669 140.2,1735.3 137.8,1581.5 148.4,1678.4 148.6,1620.2 140.6,1609.4 147.1,1550.3 141.3,1624.9 153.8,1597.4 143.7,1724.3 134.7,1618.6 137.3,1542.6 126.9,1621.6 154.2,1658.1 135.6,1621.1 155.7,1647 140.4,1538.8 133,1595.2 151.5,1637.9 126.8,1648.2 148.3,1667.7 135.2,1665.8 149.7,1691.8 146.5,1729.8 137.3,1560.1 140.9,1740.6 134.9,1561.8 148.6,1713.8 142.6,1654.4 130.2,1627.9 134.3,1674.7 148.8,1563.4 133.6,1633.2 144.8,1525 136.4,1725 135.8,1630.8 147.5,1720.2 154.5,1625.8 144.2,1749 158.9,1624.6 144.9,1738.7 157.5,1614.3 141.6,1574.8 133.3,1598.4 140.2,1597.6 154.9,1662.6 151.2,1633 142,1771.9 141.5,1533.4 141,1759.2 133.9,1705.8 134.5,1613.5 140.8,1723.5 145.7,1646.2 150.6,1598.9 145.8,1736.2 142,1572.9 148.4,1715.9 128,1626.7 136.9,1694.4 126.3,1614 143.5,1608.3 145.6,1664.9 139.5,1547.7 136.9,1556.5 126.4,1613 132,1607.3 133,1678 146.7,1658.7 142.2,1449 130.5,1612.8 150.9,1623.2 133.4,1571.4 150,1682.2 146,1537.8 141.4,1521.3 143.6,1649 143.9,1663.3 146.7,1722.9 148.5,1650.3 142.4,1736.8 139.7,1606.7 125.9,1641.8 140.6,1776.2 140.9,1583.6 147.7,1647.5 146.3,1719.1 140.1,1510.6 131.6,1593.5 131.7,1647.8 146.7,1544.2 158.2,1634.2 124.7,1629 146,1688.4 139,1617.2 154.7,1595.4 145.5,1739.4 134.7,1602.2 130.2,1606 138.6,1744.2 136.9,1722 146.3,1571.7 139.4,1658.3 132.1,1693 151.9,1688.2 140.7,1558.4 139.7,1639.5 140.3,1507.4 142.1,1548.7 131.1,1686.6 125.8,1629 152.3,1685 149,1629.9 158,1614.6 148.2,1639.8 137.3,1565.5 145.2,1528.2 136.7,1728.2 136.7,1599.1 129.4,1596.8 153.8,1645.7 146.8,1566.5 147.1,1702.4 142.3,1461.5 147.9,1627.4 127.2,1641.4 139.7,1684.2 147.3,1591.6 138,1632.1 133.3,1702.6 136.6,1672.1 151.3,1683.7 141.6,1470.9 146.9,1693.8 145.4,1684.9 142.6,1686.8 129.7,1663.6 127.8,1657.8 144.6,1537.4 143,1774.6 157.1,1619.4 135.4,1558.6 156.7,1639.1 148.1,1588.8 155.6,1601.8 139.5,1535.8 148.3,1563.5 147,1547.4 149,1604 127.4,1654.8 141.1,1564.1 129.4,1642.8 145.1,1587.7 131.5,1687.3 142.8,1522.5 139.4,1587.5 154.6,1611.8 146.2,1575.4 148.5,1609.6 132.5,1582.5 135,1654.2 141.7,1644.6 143,1720.9 156.8,1626.8 139.8,1753.8 155.2,1667.1 145.7,1626.2 142.6,1764.1 153,1589 140.3,1746.5 141.6,1603.8 141.8,1643.6 146.4,1696.8 158.6,1621 148.7,1655.9 142.3,1679.5 138.9,1733.1 143.2,1505.8 139.1,1566.9 147.2,1557.7 143.6,1586 147.3,1606.9 130.3,1590.3 158.1,1644.2 135.3,1580.5 149.5,1705.2 150.5,1573.9 144.5,1552.5 139.2,1677.1 147.9,1580.8 146.6,1612.5 140.7,1674 140.5,1700.6 136.1,1555.4 129.6,1677 135.4,1709.9 144.7,1734.3 139.3,1520.2 132,1695.1 152.4,1651.1 154,1672.2 141,1507.6 150.4,1701 142,1602.7 141.2,1485 145.1,1636 137.1,1706.8 152.4,1628.2 131.3,1676.3 137.5,1734.6 135.3,1562.6 151.1,1662.4 151.6,1648.2 128.7,1670.6 137.7,1572.4 140.5,1504.2 158.8,1633.8 143.1,1672.8 131.4,1669.7 143.7,1731.9 143.1,1708.9 135.1,1715.5 150.4,1659.4 133.4,1623.6 144.1,1683.1 143.9,1518.2 153.2,1680.4 147.2,1707.4 143.3,1544.1 140.5,1528 124.6,1624.2 141.5,1716.6 135.7,1571.3 144.6,1611 151.3,1694.6 132.7,1691.1 157.2,1643.4 125.9,1638.8 150.1,1643 135.7,1659.9 135.2,1681.7 147.1,1598 132,1659.3 138.6,1612 149.1,1585.2 156.4,1605 140.9,1774.2 144.6,1631.1 136.6,1712.6 152.5,1610.3 147.9,1557 134.4,1578.1 135.1,1689.2 145.4,1677.6 131.3,1640.1 140.9,1543.5 141.5,1667.5 154.4,1592.2 138.9,1561.5 144.8,1565.2 141.2,1591.1 143.5,1535.1 140.3,1782.6 132.5,1586.4 142.4,1493.1 130.1,1673.2 145.2,1616.3 151.4,1583 143.7,1599.8 153.6,1673.5 143,1502.6 150.7,1613.2 144.3,1518.6 138.9,1747.4 136.1,1678.8 141.9,1477.1 149.3,1595.7 146.2,1583.9 140.7,1649.9 135,1568.3 145.4,1531.4 139.5,1750.6 150.1,1578.8 143,1568 154.9,1606.2 142.7,1703.8 146.3,1730.2 133.5,1645.3 153.4,1678.6 143.5,1744.3 152.9,1620.8 127.3,1602.9 131.4,1620.4 140.2,1757 128.5,1597 136.8,1549 146.8,1726.6 129.6,1646.6 155.7,1617 138.5,1529.8 151.2,1579.4 141.7,1753.8 141.6,1696.3 145.7,1534.6 138.5,1713.9 140.4,1579.4 139.9,1719.9 140.8,1634.5 139,1523.4 143.1,1556.1 138.8,1652.7 135.5,1640.7 137.5,1657 125.5,1622.6 138.2,1718.7 143,1509 139.5,1727 133,1574.6 153.5,1615.7 150.6,1697.8 143.2,1618.9 132.4,1577.8 149.6,1700.3 141.8,1497.4 139.8,1670.5 143.5,1509 128.1,1664.2 142.3,1502.3 138.6,1664.3 156.3,1655.1 127.9,1649.4 149.3,1615.1 136.1,1596.1 138,1725.3 144.1,1515.4 146.1,1554.3 134.7,1628.5 153.4,1630.4 131.2,1601.5 138.6,1636.9 142.8,1596.6 131.4,1630.2 136.7,1549.1 142.2,1728.5 138.4,1703.2 155,1598.6 130,1657.6 146.5,1653.1 144,1577.8 142.4,1633.5 143.7,1512.2 144.5,1521.8 152.4,1640.5 148.6,1576.3 128.5,1660.5 125.1,1625.8 140.5,1688.2 135.7,1718.6 134.4,1709 151.4,1695.7 147.1,1681.1 146.3,1541 148.8,1710.6 130,1637.7 142.1,1714.5 152.4,1656.7 127,1631.5 140.3,1661.4 153.6,1675.4 138.2,1737.4 129.6,1600 142.9,1581.8 144.6,1745.8 141.3,1513.2 142.3,1589.7 129.7,1593.8 142.1,1623.9 150.7,1587 146.3,1733 152.8,1604.7 141.9,1440.3 139.3,1698.6 144.8,1669.4 138.7,1552.8 145.8,1560.8 146.5,1622.5 147.2,1637.3 130.7,1587.4 140.1,1554.9 144.4,1692.5 144,1711.5 137.7,1642.1 149.8,1644.9 156.3,1603.3 139.2,1577.3 139.5,1517 143.7,1526.2 143,1660.2 129.2,1632.7 132,1581 141.5,1766.7 125.5,1616.2 141.6,1551.2 127.9,1600.2 136.4,1589.3 158,1640.2 142.9,1777.8 142.4,1562.1 127.8,1636.4 147.3,1723.4 151.7,1618.3 139.6,1647.2 148.6,1689.5 151.6,1668.6 134.4,1638.2 124.9,1634 149.9,1569.8 145,1701.4 138.2,1682.6 145.2,1706.6 132.5,1625.5 147.4,1617.6 134.1,1604.6 145.5,1601.2 139.5,1594.5 137.1,1731.4 137.8,1605.2 142.7,1742.2 138.1,1585.5 127.3,1654.6 140,1619.7 137.9,1690 135.7,1648.7 134.6,1565 132.9,1699.4 155.3,1659.4 147.3,1550.6 143.9,1699.3 146.8,1632.4 143.9,1675.8 138.7,1530.4 143.8,1752.2 138.1,1669 136.9,1616 154.9,1665.8 152.7,1663.9 149.2,1707.4 155.2,1621.9 157.1,1646.6 136.9,1697.6 134.9,1715.4 128.3,1666.6 138.1,1533 141.1,1680.8 133.2,1573.5 130.1,1679.7 128.6,1667.4 133.1,1662.1 143.1,1758.6 131.5,1584.2 149.7,1566.6 148.2,1685.7 148.3,1560.2 148.7,1698.2 132.8,1615.4 125.7,1638.6 138.7,1526.6 139.2,1708.3 140.3,1711.3 141.2,1655.6 124.9,1632.2 156.4,1656.2 135.8,1608.1 146.4,1670.8 133.7,1656.2 142.1,1666.3 141.8,1747.8 145.1,1742.6 127,1606.6 142.2,1529.1 132.3,1696.2 138,1592.7 135.5,1584.4 135,1591.7 131.3,1689.8 126.8,1609.8 143.2,1690.7 153.2,1670.1 158.7,1617.8 144,1752 140,1516.1 145.5,1542.3 134.2,1693.2 141.1,1705.8 143.3,1781 131.1,1653.4 134.3,1568.2 139.2,1742.9 150.9,1576.2 140.2,1629.6 129.1,1651.9 141.5,1782.9 134.1,1685.2 150.3,1653.7 137.5,1675.5 149.7,1671.7 158.5,1627.4 149.5,1634.8 150.5,1592.5 133.6,1643.4 150.1,1625 156.2,1609 138,1536.2 136,1721.8 136.6,1610.7 146,1642.4 142.6,1539.9 138.2,1540.5 148.2,1717 145,1726.1 147.5,1661.8 144,1559 157.1,1649.8 138.4,1545.1 133.2,1671.5 132.1,1635.2 154.2,1652.3 127.1,1651.4 140.4,1760.2 137,1575.9 132.7,1610.1 140,1569.5 132.4,1683.5 157.9,1629.3 136.8,1651.4 142.3,1515.2 134.6,1668.1 143.4,1755.4 153.2,1590.6 153.2,1681.8 153.8,1635.4 127.6,1603.4 145.4,1605.6 158.2,1637 140.4,1779.4 127.5,1661 134.6,1712.2 128.6,1611.5 136.9,1625.9 129.4,1673.8 128.5,1616.7 145.8,1713 144.3,1593.2 158.7,1630.6 159,1624.2 156.8,1608.2 149.1,1665.6 156.4,1649.7 144.6,1546.5 147.1,1674.1 129,1622.8 143.2,1777.8 130.3,1683.4 149.2,1601.9 149.5,1704.2 147.8,1710.6 137.8,1622.4 138.4,1600.8 126.4,1645 136.4,1635.7 132.9,1650.8 147.5,1553.8 143.5,1628.8 150.2,1675.1 151.2,1607.7 154.8,1661.1 139.7,1513.8 152.6,1600.4 137,1686.2 125.2,1635.4 142.9,1638.6 139.3,1692.1 152.4,1594.1 145.3,1579.7 143.9,1641.1 144.8,1717.7 141.2,1731.2 136.1,1702.1 141.9,1694.6 133.6,1588.1 136.2,1552.2 137,1729 151.7,1691.4 142.6,1756.5 154.4,1641.7 155.9,1636.8 126.1,1619.1 134.7,1699.7 137.8,1737.8 125.4,1643.9 139.3,1750.2 137.6,1539.4 137.6,1646 130.5,1617.8 144.3,1621.4 128,1608.5 145.2,1532.3 152.3,1582.6 142.6,1613.7 150.2,1573 148.1,1569.3 152.6,1585.8 151.7,1676.7 129.9,1590.6 143.3,1814.2 140.3,1814.2"/>
<path class="p3" d="M186,1771.1 186.4,1736.2 185.8,1763.6 186.4,1788.6 186.4,1738.7 185.9,1743.7 186.3,1731.2 186.2,1746.2 185.5,1791.1 185.5,1786.1 186,1733.7 186,1803.6 185.7,1798.6 186.3,1773.6 185.7,1728.7 185.9,1776.1 185.5,1766.1 186,1716.2 185.7,1756.1 185.9,1783.6 185.9,1751.2 185.4,1748.7 186.4,1801.1 186.6,1726.2 185.7,1768.6 186.6,1796.1 185.7,1761.1 186.6,1741.2 186,1781.1 186.1,1758.6 185.7,1693.7 186.1,1778.6 186.5,1753.7 185.5,1793.6 181.5,1814.2 192,1814.2 172.7,1814.2 197.6,1814.2 185.6,1814.2 169.5,1814.2 195.2,1814.2 176.7,1814.2 202.5,1814.2 183.9,1814.2 196.8,1814.2 198.4,1814.2 182.3,1814.2 171.1,1814.2 177.5,1814.2 193.6,1814.2 186.4,1814.2 179.9,1814.2 170.3,1814.2 175.9,1814.2 188,1814.2 196,1814.2 168.7,1814.2 199.2,1814.2 191.2,1814.2 188.8,1814.2 203.3,1814.2 179.1,1814.2 200.8,1814.2 183.1,1814.2 171.9,1814.2 190.4,1814.2 178.3,1814.2 192.8,1814.2 189.6,1814.2 184.8,1814.2 187.2,1814.2 180.7,1814.2 200,1814.2 201.7,1814.2 175.1,1814.2 174.3,1814.2 173.5,1814.2 194.4,1814.2"/>
<path class="p4" d="M228.1,1737.1 230.6,1675.1 223.2,1651.1 242.7,1664.8 228.2,1703.2 225.7,1639.5 226.7,1666.9 220.7,1694.3 217.3,1643.4 243.6,1677.3 240.2,1647 241.5,1639.1 244.1,1643.6 236.3,1678.9 230.6,1773.6 234.7,1598.3 243.6,1629.3 233.5,1744.6 229.7,1632 240.9,1662.4 235.4,1616 219.1,1646.3 229.3,1678.2 238.8,1687.9 233.1,1718.6 226.9,1588.5 232.7,1662.8 231.8,1653.2 230.7,1714.2 233.3,1704.4 216.2,1677 237.2,1634.7 214.6,1653.9 228.5,1602.6 230.3,1620.1 226.2,1711.7 223.7,1708.9 236.9,1659.3 220.4,1661.6 229.1,1718 225.2,1719.2 222.4,1681.1 233.6,1736.3 226.2,1688.6 230.8,1740.3 226,1742.6 232.4,1690.6 245.5,1657.1 223.8,1609.9 227.5,1644.3 234.6,1668.1 222.3,1715.7 237.4,1716.5 235.2,1711.6 224.7,1619.2 221.9,1636.7 230.5,1581.7 228.6,1657.8 238.4,1669.8 216.6,1664.6 229.1,1748.3 230.1,1532.1 218.9,1668.7 232.1,1605.4 239.1,1698.4 223,1671.9 235.9,1645.7 217.2,1626.4 224.5,1662.5 233.7,1641.9 230.1,1814.2"/>
<path class="p5" d="M274.8,1779.9 274,1756.1 274.8,1770.5 274.5,1737.4 274.6,1748.7 273.8,1752.4 274.3,1733.7 273.7,1731.8 274.8,1750.5 275,1729.9 274.4,1787.4 274,1722.4 274.7,1724.3 274.4,1726.2 274.1,1728.1 274.7,1758 274.3,1741.2 274.2,1746.8 274.3,1754.3 274.4,1718.7 274.6,1743 274.1,1720.6 274.7,1739.3 274.8,1744.9 273.9,1735.6 288.4,1814.2 287.6,1814.2 270.7,1814.2 257.8,1814.2 268.3,1814.2 278.7,1814.2 285.2,1814.2 291.6,1814.2 259.4,1814.2 279.6,1814.2 265.9,1814.2 272.3,1814.2 267.5,1814.2 261,1814.2 273.9,1814.2 271.5,1814.2 289.2,1814.2 290.8,1814.2 275.5,1814.2 286.8,1814.2 280.4,1814.2 281.2,1814.2 260.2,1814.2 265.1,1814.2 276.3,1814.2 266.7,1814.2 274.7,1814.2 269.1,1814.2 262.7,1814.2 261.8,1814.2 282,1814.2 258.6,1814.2 283.6,1814.2 273.1,1814.2 277.1,1814.2 264.3,1814.2 282.8,1814.2 290,1814.2 257,1814.2 277.9,1814.2 286,1814.2 269.9,1814.2 263.5,1814.2 284.4,1814.2"/>
<path class="p6" d="M319,1736.8 318.6,1751.8 318.1,1739.3 319,1759.3 318.6,1754.3 319,1731.8 318.6,1734.3 318.1,1741.8 317.8,1756.8 319,1724.3 318.6,1726.8 318.5,1749.3 318.9,1766.8 318.4,1764.3 318.3,1729.3 318.9,1746.8 318.9,1761.8 318.7,1744.3 305.2,1814.2 311.7,1814.2 326.9,1814.2 315.7,1814.2 322.1,1814.2 302.8,1814.2 333.4,1814.2 328.6,1814.2 326.1,1814.2 329.4,1814.2 318.9,1814.2 325.3,1814.2 312.5,1814.2 318.1,1814.2 335,1814.2 317.3,1814.2 321.3,1814.2 327.8,1814.2 316.5,1814.2 303.6,1814.2 334.2,1814.2 332.6,1814.2 302,1814.2 330.2,1814.2 314.9,1814.2 313.3,1814.2 322.9,1814.2 306,1814.2 314.1,1814.2 319.7,1814.2 335.8,1814.2 307.6,1814.2 310.9,1814.2 306.8,1814.2 331.8,1814.2 301.2,1814.2 310.1,1814.2 331,1814.2 320.5,1814.2 323.7,1814.2 304.4,1814.2 324.5,1814.2 308.4,1814.2 309.2,1814.2"/>
<path class="p7" d="M352.7,1719.6 366.9,1643 366.5,1754.2 371.6,1695.8 369,1638.9 361.1,1765.4 366.7,1665.7 363.5,1730.6 370.7,1731.2 373.6,1698.1 346.4,1738.8 361.3,1719.3 371.4,1682.5 364.5,1716.3 374.3,1720.3 370.4,1707.6 359.2,1698.9 371.8,1747.2 365.2,1745 347.5,1717.8 357,1721.4 364.9,1598.5 353.2,1767.9 362.6,1494.6 354.1,1694.6 362.8,1704.1 367.6,1620.6 364.3,1762.8 350,1772.2 378.1,1706.6 369.6,1740 354.7,1730 367.4,1746.4 372.9,1737.5 363.9,1585 372.8,1714.1 349.8,1747 368.1,1783 347.6,1763.9 368.5,1736.4 362.9,1559.2 356.3,1742.2 370.8,1657.6 367.9,1725.6 370.5,1786.7 369.3,1766.2 354.2,1748.9 357.7,1590.4 350.4,1696.9 367.2,1563 363.8,1635.7 348.3,1722.2 363.3,1612.6 358.4,1710.1 377.3,1757.2 360.3,1713.3 364.9,1642.5 361.9,1730.8 354,1788.2 360.9,1687.2 377.3,1735.5 357.5,1771.7 350.3,1726.1 363.1,1776.2 360.7,1640 355.8,1614 354.8,1688.1 358.1,1600.4 347.5,1704.2 353,1731.7 365.7,1618.1 349.3,1777.6 373,1769.1 355.2,1738 357.8,1753.6 367.9,1592.4 368,1694.4 347.5,1745.9 365.1,1576 354.6,1682.3 376.2,1746.1 364.7,1787.9 360.7,1738.8 366.7,1602.9 356,1775.6 358.6,1653.6 360,1758.1 352,1713.9 351.7,1700.7 350.8,1737.3 350.1,1711.8 355.7,1783.1 362.4,1572.5 360.9,1584.8 356.6,1642.8 376.8,1712.4 359.8,1632.7 368.7,1713.8 354.4,1709.5 374.6,1782 359.9,1548.5 369.9,1688.6 359.5,1773.8 379.7,1750.2 375.3,1752.4 358,1619.7 374.2,1773.7 359.6,1736 357.4,1734.2 358.3,1560.5 355.6,1636.4 369.4,1616.5 361.9,1782.9 370.3,1775.1 362.4,1659.6 372.3,1727 353.4,1751.7 345.4,1749.3 358.6,1746.3 345.8,1730.7 369.9,1719.5 377.5,1765.1 362.8,1654.3 363,1749.1 365.1,1555.2 361.6,1592.9 360.1,1674.4 369,1672 366.7,1582.4 370.2,1700.7 355.8,1762.2 359.1,1723.5 364.1,1738.2 378.4,1738.8 359.7,1606.4 357.5,1696.3 378.5,1719.1 359.3,1787.7 362.4,1707.2 379.6,1730.7 366.3,1734.8 352.3,1774.9 366.5,1700.2 349,1755.1 376.6,1722.3 358.2,1666.9 374,1741.6 368.6,1759 362.1,1750.5 374.6,1710 356.1,1716.3 370.9,1751.2 351.6,1761.7 366.5,1711 365.7,1721.6 364.6,1696.7 355.3,1701.5 365,1771.7 372.7,1762.1 375.1,1732.5 362.6,1512.7 361.1,1693.9 360.7,1555.3 361.8,1617.7 351.9,1741.4 366.8,1774.5 370.9,1789.7 348.6,1735.2 366.7,1687.5 364.8,1678.6 359.7,1578.8 354.4,1656.9 363.5,1814.2 361.9,1814.2"/>
<path class="p8" d="M406.9,1624.4 406.9,1655 409.9,1778.6 406.9,1581.4 412.1,1814.2 392.6,1814.2 398.8,1814.2 394.7,1814.2 396,1814.2 420.5,1814.2 412.8,1814.2 398.1,1814.2 411.4,1814.2 396.7,1814.2 421.9,1814.2 395.3,1814.2 394,1814.2 410,1814.2 400.2,1814.2 418.4,1814.2 407.2,1814.2 413.5,1814.2 403.7,1814.2 410.7,1814.2 406.5,1814.2 404.4,1814.2 417.7,1814.2 393.3,1814.2 399.5,1814.2 417,1814.2 405.8,1814.2 421.2,1814.2 409.3,1814.2 419.8,1814.2 407.9,1814.2 391.9,1814.2 403,1814.2 419.1,1814.2 401.6,1814.2 414.9,1814.2 405.1,1814.2 402.3,1814.2 415.6,1814.2 416.3,1814.2 408.6,1814.2 397.4,1814.2 400.9,1814.2 414.2,1814.2"/>
<path class="p9" d="M451.1,1725.6 450.9,1753.7 450.4,1759.3 451.1,1742.4 451.2,1763 451.4,1723.7 451.2,1736.8 450.8,1716.2 450.6,1773.6 451.2,1721.8 451.6,1738.7 450.8,1757.4 450.9,1718.1 451.5,1710 451.2,1748 451.2,1719.9 451.4,1733.1 451.1,1734.9 451.2,1746.2 451,1761.1 450.9,1727.4 451.1,1755.5 451.3,1729.3 450.4,1749.9 451.1,1751.8 450.6,1744.3 451.3,1714.3 451,1731.2 451.6,1740.5 453.1,1814.2 438.6,1814.2 452.2,1814.2 441.8,1814.2 443.4,1814.2 445,1814.2 464.3,1814.2 435.3,1814.2 461.9,1814.2 447.4,1814.2 448.2,1814.2 465.9,1814.2 449,1814.2 434.5,1814.2 436.2,1814.2 449.8,1814.2 437.8,1814.2 444.2,1814.2 453.9,1814.2 440.2,1814.2 451.4,1814.2 456.3,1814.2 442.6,1814.2 455.5,1814.2 441,1814.2 460.3,1814.2 463.5,1814.2 445.8,1814.2 465.1,1814.2 457.9,1814.2 462.7,1814.2 450.6,1814.2 454.7,1814.2 437,1814.2 439.4,1814.2 468.3,1814.2 461.1,1814.2 467.5,1814.2 466.7,1814.2 457.1,1814.2 433.7,1814.2 458.7,1814.2 446.6,1814.2 459.5,1814.2"/>
<path class="p10" d="M496.2,1745.5 499.2,1805.5 496.2,1770.5 494.2,1786.1 494.2,1748.7 496.7,1761.1 493.7,1758 495.2,1737.4 496.7,1779.9 494.2,1767.4 494.7,1742.4 493.7,1776.7 496.2,1751.8 509.3,1814.2 494.8,1814.2 510.9,1814.2 501.3,1814.2 511.7,1814.2 489.2,1814.2 497.2,1814.2 496.4,1814.2 498.8,1814.2 490.8,1814.2 483.6,1814.2 504.5,1814.2 512.5,1814.2 508.5,1814.2 484.4,1814.2 487.6,1814.2 486.8,1814.2 491.6,1814.2 506.1,1814.2 495.6,1814.2 492.4,1814.2 499.6,1814.2 481.1,1814.2 506.9,1814.2 502.9,1814.2 505.3,1814.2 485.2,1814.2 482.7,1814.2 500.5,1814.2 498,1814.2 481.9,1814.2 480.3,1814.2 502.1,1814.2 488.4,1814.2 510.1,1814.2 486,1814.2 507.7,1814.2 503.7,1814.2 490,1814.2 477.9,1814.2 494,1814.2 479.5,1814.2 493.2,1814.2 478.7,1814.2"/>
<path class="p11" d="M539.2,1744.3 539.1,1742.4 539,1748 539.8,1740.5 540,1731.2 540.1,1755.5 539.3,1753.7 539.7,1751.8 539.1,1746.2 539.7,1734.9 539.3,1749.9 538.7,1733.1 539.2,1736.8 538.8,1738.7 551.9,1814.2 537.4,1814.2 542.2,1814.2 533.4,1814.2 522.1,1814.2 524.5,1814.2 528.5,1814.2 546.2,1814.2 522.9,1814.2 555.1,1814.2 553.5,1814.2 540.6,1814.2 531.8,1814.2 551.1,1814.2 543.8,1814.2 532.6,1814.2 544.6,1814.2 554.3,1814.2 545.4,1814.2 539.8,1814.2 543,1814.2 535,1814.2 530.1,1814.2 531,1814.2 525.3,1814.2 555.9,1814.2 535.8,1814.2 548.7,1814.2 550.3,1814.2 549.5,1814.2 547,1814.2 526.1,1814.2 541.4,1814.2 527.7,1814.2 538.2,1814.2 523.7,1814.2 547.8,1814.2 539,1814.2 556.7,1814.2 536.6,1814.2 534.2,1814.2 526.9,1814.2 552.7,1814.2 529.3,1814.2"/>
<path class="p12" d="M581.4,1653.4 577.3,1658.8 588.1,1508.9 586.6,1444.7 568.2,1548.9 592.6,1636.6 599.3,1552.6 578.1,1477.6 576.5,1589.9 578.4,1572 598.1,1577.9 568.5,1597 577.9,1493.4 584.9,1590.9 585.6,1516.5 576.9,1514.9 593.4,1507.1 574.4,1504.8 581.6,1419.7 589.1,1494.9 569.6,1576.2 580.6,1584.4 582.8,1552.7 587.2,1573.2 591.1,1555.2 581.1,1520.7 591.4,1515 585.9,1656.1 578.8,1626.2 583.7,1674.1 597.6,1602.8 573.7,1517.5 574.8,1617.4 584.6,1421 579.7,1515.3 577.8,1677.7 592.4,1622 587.5,1527.1 573.2,1634.9 589.4,1612.4 586.5,1486.4 581.6,1439.2 585.4,1630.2 587.4,1666.7 580.2,1669.8 573.1,1538.3 579.7,1501.8 593.5,1586.5 574.2,1560.8 572,1585.5 584.3,1548.1 593.3,1519 582.7,1507.9 582.2,1457.4 586.6,1422.2 591.9,1541.1 576.4,1545.3 582.6,1479 585,1464.2 595.8,1565 589.8,1478.6 584.7,1504.5 589.2,1585.4 581.9,1606.8 585.3,1436.3 583.6,1814.2"/>
<path class="p13" d="M628.4,1735.6 627.8,1748.7 627.3,1729.9 627.3,1739.3 628.2,1737.4 628.3,1731.8 628.3,1728.1 627.5,1746.8 628,1733.7 627.5,1750.5 628.4,1741.2 627.5,1744.9 627.9,1752.4 628.2,1743 637,1814.2 629.8,1814.2 642.6,1814.2 615.3,1814.2 620.1,1814.2 643.5,1814.2 644.3,1814.2 635.4,1814.2 623.3,1814.2 640.2,1814.2 625.7,1814.2 610.5,1814.2 639.4,1814.2 641.8,1814.2 621.7,1814.2 620.9,1814.2 624.9,1814.2 633,1814.2 638.6,1814.2 622.5,1814.2 641,1814.2 613.7,1814.2 617.7,1814.2 624.1,1814.2 628.2,1814.2 629,1814.2 612.9,1814.2 627.4,1814.2 645.1,1814.2 626.6,1814.2 616.1,1814.2 631.4,1814.2 634.6,1814.2 616.9,1814.2 614.5,1814.2 637.8,1814.2 612.1,1814.2 619.3,1814.2 611.3,1814.2 636.2,1814.2 633.8,1814.2 630.6,1814.2 618.5,1814.2 632.2,1814.2"/>
<path class="p14" d="M674.1,1756.7 670,1783.2 673.2,1781.8 673.2,1755.2 670.2,1758.5 670.7,1753.7 669.6,1770.8 670.9,1756.3 671.9,1700 669.3,1775.8 669.7,1756.6 674.3,1772.4 670.9,1767.4 671.6,1711.8 668.6,1768.1 673,1777.9 675.1,1765.7 674.4,1769.8 668.3,1778.4 673,1758.2 674.1,1761.5 667.2,1771 671.7,1757.6 670.7,1762.2 671.8,1744.5 672.4,1729.9 672.2,1592.6 675.7,1779.1 672.1,1756.6 671.4,1781.6 673.1,1767.5 672.3,1748.8 672,1770.9 670.6,1777.9 671.8,1772.1 675.5,1776.5 676.7,1771.5 668.6,1764 672.5,1763.4 672.5,1743.5 678,1814.2 665.1,1814.2 674,1814.2 687.6,1814.2 671.5,1814.2 656.2,1814.2 681.2,1814.2 660.3,1814.2 657.1,1814.2 688.4,1814.2 677.2,1814.2 668.3,1814.2 679.6,1814.2 655.4,1814.2 683.6,1814.2 682.8,1814.2 685.2,1814.2 661.1,1814.2 667.5,1814.2 684.4,1814.2 682,1814.2 669.1,1814.2 663.5,1814.2 672.3,1814.2 657.9,1814.2 662.7,1814.2 659.5,1814.2 686,1814.2 675.6,1814.2 664.3,1814.2 666.7,1814.2 669.9,1814.2 689.2,1814.2 678.8,1814.2 673.1,1814.2 686.8,1814.2 676.4,1814.2 654.6,1814.2 680.4,1814.2 674.8,1814.2 665.9,1814.2 658.7,1814.2 670.7,1814.2 661.9,1814.2"/>
<path class="p15" d="M717.8,1621.9 715.3,1445.9 718.8,1814.2 723.2,1814.2 705.6,1814.2 729.1,1814.2 708.6,1814.2 724.7,1814.2 720.3,1814.2 710,1814.2 715.9,1814.2 704.2,1814.2 707.1,1814.2 721.7,1814.2 702.7,1814.2 727.6,1814.2 711.5,1814.2 714.4,1814.2 726.1,1814.2 717.4,1814.2 713,1814.2 730.5,1814.2"/>
<path class="p1" d="M786,1746.9 779.3,1750.2 782.8,1767 780.2,1731.7 779.2,1757 780.2,1748.1 788.6,1756.7 782.3,1756.7 781.1,1728.7 782.6,1776.1 779.4,1756.2 783.3,1741.4 784.1,1739.3 782.9,1745.8 785.6,1742.4 777.8,1756.1 785.3,1752.4 779.9,1767.4 781.9,1772.1 776,1737.7 785.8,1738.6 785.1,1740.8 780.2,1727.2 778.3,1742.4 780.1,1764.9 789.2,1741.6 787.7,1754.8 788.8,1748.8 781.9,1732.5 788.6,1740.4 784.6,1720.6 784.3,1727.1 777.6,1732 785.6,1728.6 781.3,1770.7 783.1,1714.1 779,1731.3 781,1736.1 777.4,1749.5 781,1755.8 786.9,1757.3 787.2,1735.6 777.2,1735.2 784.6,1732.6 782.3,1726.6 779,1733.7 785.8,1737.2 784.3,1724 783.1,1750.9 785.5,1731.5 782.1,1746.6 786.9,1749.8 784.2,1756 784.6,1764.9 776.3,1756.5 782.3,1770.7 787.5,1738.6 777.2,1745.1 782.6,1737.4 780.9,1724.8 781.8,1708.2 783.3,1709.2 781.8,1717.9 786.8,1760.5 786.1,1733.8 782.9,1731.8 783,1686.9 789.8,1746.5 784.1,1736.2 781.7,1751.7 779.7,1741.3 776.5,1753.9 779.1,1745.5 781.7,1761 781.2,1765.9 781,1744.9 785.8,1756.1 782.9,1718.6 783.8,1758.3 777.9,1741.2 783.7,1716.5 786.4,1729.8 781.6,1731.2 784.7,1745 781.2,1749.3 787.3,1732.5 786.6,1745.1 779.3,1737.4 782.4,1737.9 780.4,1734.1 776.1,1741.5 778.1,1759 786.3,1726.6 781.9,1720.9 789.1,1751.4 783.8,1744 780.7,1739.1 783.3,1734.8 783.7,1771.5 775.2,1746 780,1753.8 787.5,1742.8 775.6,1751.1 779,1738.6 783.4,1729 780.9,1758.2 777.8,1736.3 778.1,1752.7 777.1,1740.3 784.1,1748.2 782.6,1724.9 787.9,1747.4 783.3,1770.7 783.4,1723 780.2,1723.2 789,1737.9 785,1749.3 784.5,1769.8 787.1,1753.1 788.5,1744.5 781.6,1714.3 778.7,1729.4 781.5,1740.6 780.5,1719.5 782.4,1692.5 782.4,1709.4 782.6,1756.4 779,1725.1 781.9,1742.1 780.1,1743.7 783.5,1753.8 786.9,1741.3 776.4,1748.3 783.1,1690.6 784,1762.9 776.3,1744.4 784.1,1731.2 785.4,1757 778.3,1747.4 793.4,1814.2 787.7,1814.2 770.8,1814.2 779.7,1814.2 777.3,1814.2 774.9,1814.2 785.3,1814.2 782.9,1814.2 778.9,1814.2 786.9,1814.2 775.7,1814.2 778.1,1814.2 796.6,1814.2 789.3,1814.2 766.8,1814.2 776.5,1814.2 771.6,1814.2 788.5,1814.2 782.1,1814.2 784.5,1814.2 783.7,1814.2 768.4,1814.2 774.1,1814.2 781.3,1814.2 799.8,1814.2 794.2,1814.2 780.5,1814.2 790.9,1814.2 792.6,1814.2 770,1814.2 773.2,1814.2 791.8,1814.2 786.1,1814.2 767.6,1814.2 769.2,1814.2 772.4,1814.2 790.1,1814.2 798.2,1814.2 765.2,1814.2 795,1814.2 799,1814.2 795.8,1814.2 766,1814.2 797.4,1814.2"/>
<path class="p2" d="M828.8,1528.3 813.7,1549.1 829.9,1563.5 819.5,1606.3 821.7,1584.2 818,1571.1 822.8,1603 828.9,1505.2 824.1,1618.7 824.7,1567.4 822,1573.8 839.2,1558.7 830.8,1530.1 822.1,1607.1 819.2,1560.5 843.3,1572.4 829,1568.9 830.1,1584.5 835.6,1571 816.2,1596.8 838.3,1590.8 821.7,1529.1 818,1609.2 821.1,1589.6 839.6,1573.4 832,1527.1 834.3,1583.2 823.8,1585.4 841.1,1553.2 826.6,1664.4 841.2,1588.4 840.1,1550 824,1510 827.2,1516.9 823.3,1559 826.2,1594.2 831.4,1601.8 830.5,1514.8 841.8,1574.8 828.1,1613.1 819.1,1537.3 836.4,1537.2 830,1511.6 813.1,1551.6 820.7,1526 819.6,1592.6 825.7,1685 835.2,1572.7 815.6,1600.1 819.8,1576.3 830.7,1591.4 828.8,1521 821.6,1620.4 836.4,1565.7 830.1,1539.3 835,1604.7 843.4,1569.2 826.1,1622.6 830,1626.8 812.8,1593.2 843.5,1575.6 825.8,1561.8 819.5,1550.9 826.9,1593 842.1,1585.2 838.1,1543.6 825.5,1640.8 838.2,1562.9 833,1556.6 842.9,1582.5 821.4,1557.7 840.5,1556 827.9,1587.1 825.3,1641.2 823.3,1531 816.9,1606 843.3,1582 832.1,1565 829.3,1630 825.9,1582.9 827.3,1561 824.6,1597.5 825.3,1627.7 817.5,1583.5 827.7,1510.5 829.6,1596.2 826.3,1520.3 824,1536.2 828.4,1603.5 840.6,1593.7 820.3,1568.6 822.3,1617 815.3,1559.8 835.5,1607.6 811.4,1561.2 826.7,1505.2 843.7,1566 835.6,1554.4 824.8,1511.2 824.2,1631.6 844,1572.1 838.2,1598 834.3,1592.2 829.3,1558.1 831.9,1606.9 817.2,1538.8 810.2,1574 833,1575.2 823.2,1628.4 823.6,1564.7 811.6,1569.3 834.1,1577.9 834,1562.4 819.3,1566.1 822.8,1516.4 836.7,1542.1 825.4,1527.7 838.4,1578.4 826.1,1609.6 825,1538.4 830.8,1574 815.8,1542 827.2,1501.5 827.5,1581.8 831.8,1580.5 817.4,1547.4 824,1624.8 824.9,1588.2 834.6,1533 831.5,1620.4 834.2,1610.8 828.6,1576.6 834.9,1537.9 819.8,1602 828.2,1555 813.2,1574.3 826.4,1549.8 821.8,1622 827,1548.7 841.9,1567.1 837.4,1575.9 831.3,1543.3 821.4,1522.8 810.4,1567.6 813.9,1548.4 830.1,1546.9 817.6,1557.1 817.1,1589.1 825.3,1514.6 815.1,1565.2 838.5,1583.7 822.1,1519.6 815.7,1552.4 830.9,1518.9 835.2,1609.1 828.5,1636.4 837,1557.3 816.6,1578.1 815.1,1599.6 825.6,1601.2 833.1,1535.4 837.3,1601.2 820,1615.6 818.9,1581.4 832.8,1588.7 811.4,1558 810.7,1566.5 827.1,1739.9 842.7,1562.8 827,1619.3 831.8,1553.5 833.4,1547.8 817.5,1603.9 822.3,1540.7 819.9,1539.4 835.4,1560.3 840.5,1579.9 826.4,1572.5 832.9,1540.3 825.2,1503.8 819.3,1594.9 827.2,1637.2 810.2,1570.8 813.2,1564 824.8,1524.2 817.9,1535.6 833.4,1527.6 819.1,1532.3 815.4,1575.6 824.4,1605 817.2,1553.9 828.1,1639.6 840.7,1591.6 827.9,1566.3 823.9,1546.4 836.8,1551.3 842.2,1559.6 829.9,1552.2 842.9,1577.2 826.1,1671.9 828.5,1545 822.6,1625.2 834.3,1544 839.8,1549.6 820.5,1613.5 831.1,1598.1 822.8,1551.6 831.3,1559.4 815.7,1591.9 815.3,1545.2 824.5,1553 840.9,1587.9 836.6,1595.3 829.7,1579.2 836.1,1586.4 812,1554.8 820.8,1554.7 811,1586.8 825.5,1542.9 830.1,1618.1 810.4,1582.2 819.8,1529.2 834.2,1598.9 839.7,1594.8 809.2,1571.8 834.4,1530.8 837.6,1600.5 811.9,1587.7 812.5,1593.5 827.1,1531.6 825.4,1556.4 827.1,1630 828.7,1537 837,1540.4 828.8,1615.9 832.3,1611.8 818.3,1598.5 822.5,1544.7 828.6,1633.3 827.8,1599.6 821.9,1534.9 822.5,1569.7 826.8,1571.5 817.7,1608.4 818.8,1532.4 813.5,1558.4 828.9,1633.2 813.5,1590.4 843.5,1578.8 841.8,1556.4 829.2,1626.1 834.1,1602.7 825.3,1577.6 827.6,1541.2 827,1607.7 810.1,1580.4 827.8,1525.4 838.9,1552.9 840.4,1585 812.3,1579.4 836.7,1589.3 821.1,1618.8 813.4,1584.9 815.7,1602.8 828.6,1505.5 824.2,1612.3 837.9,1597.2 827.7,1686.2 819.9,1586.9 829.4,1508.4 817.5,1562.7 812.2,1590 828.5,1502 816.6,1541.8 836.1,1581.1 824.5,1506.8 823.7,1522.3 826.1,1635.5 830.4,1522.9 831.2,1570.3 831.1,1622 819.7,1543.8 826.2,1655 819.2,1612.4 832.4,1617.2 827.3,1643.3 831.9,1521.2 813.7,1570.6 832.5,1614.7 835.4,1534 811,1561.3 836.2,1546 813.2,1555.5 815.7,1586.2 810.5,1583.6 840.5,1564.2 810.3,1577.2 832.9,1524.4 824,1631.6 833.3,1567.7 821.6,1599.4 823.2,1580.1 821.6,1563.2 820.5,1548.3 811,1576.8 823.1,1591.2 831.3,1518 827.1,1645.7 824.5,1634.8 832.1,1585.9 837.7,1568.3 825.4,1615.6 830.8,1623.6 817.6,1573.2 833.3,1594.7 823.4,1513.2 833.2,1614 824.2,1575.1 839.2,1546.8 814.5,1580.8 813.7,1596.4 816,1568 830.7,1534.3 828.9,1514.1 826.3,1508.9 822,1611 824.8,1503.6 822.8,1595.9 828.4,1623.9 830.5,1610.3 833.2,1550.5 836.3,1604.4 826.3,1533.9 810.7,1564.4 828.9,1590 829.6,1605.5 842.2,1561.5 821,1578.8 816.3,1545.7 823,1517.3 839.9,1569.5 824.9,1638 821.5,1526.3"/>
<path class="p3" d="M869.9,1720.7 872.4,1771 874.9,1761.7 871.4,1787.5 870.6,1713.4 874.1,1716.6 876.5,1758 879.7,1740.4 871.2,1775.6 874.4,1772.4 879.7,1753.2 867.8,1744.2 867,1721.8 866.7,1727 862.3,1755.5 861.5,1748.4 871.8,1717.9 876.5,1766 875.2,1769.5 865.8,1719.6 864.1,1746.9 867,1732.9 879,1755.9 868.1,1706.8 876.6,1721.2 880.1,1746.8 870.4,1749.6 877.8,1727.6 874.5,1712.6 865.4,1767.6 869.2,1753 866.4,1770.8 871.9,1741.1 879.8,1743.6 873.6,1775.6 864.5,1753.8 870.1,1742.5 862.8,1733.8 867.3,1711.9 879.4,1741.9 873.2,1778.1 865,1724.5 877.4,1762.8 877.6,1764.3 861.8,1754.8 870.7,1790.9 867.6,1710 864.5,1729.5 871,1710.8 865.1,1731.8 874.6,1711.6 870.1,1784.2 869.3,1699.5 867.3,1740.6 879.3,1756.4 873.7,1705.2 869.7,1694 867.8,1758.6 876.4,1740.4 875.3,1766.4 861.7,1745.2 862.2,1758 871.3,1748.3 869,1730.9 869.9,1756.6 872.1,1692.4 870.4,1688.4 869,1760.4 878.9,1734.4 878.8,1752.6 869.2,1767.4 872.5,1744.9 878.6,1730.8 870.1,1770.6 878.4,1759.6 865.6,1750.4 877.2,1759.7 868.1,1772.2 862.7,1741.6 870.4,1676.9 873.4,1726.5 867.2,1762.5 869.4,1709 863,1735.6 863.2,1752.1 866.9,1713.2 875.2,1719.7 870.4,1695.3 870.4,1644.4 871.6,1692 866.8,1718.8 876.5,1730 867.5,1766.2 866.5,1747.8 870.1,1725.9 863.3,1732.4 874.8,1732.4 875.3,1769.2 876.3,1754.4 869.5,1783.6 868.3,1728.4 872.8,1778.8 863.6,1759.2 865.5,1757.5 879,1734 876.6,1725.6 872.7,1721.6 870.9,1733.2 867.3,1774 868.6,1736.8 873.9,1765.6 872.8,1698.8 871.1,1697.3 863.8,1763.5 862.1,1742 871,1762.9 871.3,1724.3 869,1700.4 873.2,1772.9 880.1,1749.1 864.2,1764.4 873.1,1702 875.8,1718 877.2,1743.9 870.7,1734.9 865.1,1739.6 869.4,1774.2 872.8,1751.5 870.7,1779.7 866.9,1754.6 863.1,1761.2 870.8,1682.4 871.6,1755.2 869.6,1738.8 864.2,1737.7 874.4,1757.2 872.5,1707.6 877.3,1724.4 868.2,1723.6 872.7,1702.8 864.1,1729.2 872.2,1782 872.9,1737.4 874.8,1743 871.2,1686.5 872.8,1715 877.7,1750.8 876.1,1747.4 878.4,1738.4 872.1,1759 865.2,1722.8 875.2,1750 864.4,1726 872.4,1695.6 863,1745 870.7,1764.9 868.4,1777.3 868.8,1706.9 880.1,1750 871.8,1728.9 862.2,1738.8 871.6,1704.9 878.4,1745.7 861.3,1751.6 872.8,1731.1 861.7,1748.8 866.5,1735.8 868.4,1715.7 865.1,1761.3 879.2,1737.2 869.3,1697.2 870.7,1671.9 875.3,1727.9 868.9,1746.1 865.4,1743.5 874,1753.4 875.2,1714.8 870.4,1703.1 869.4,1717.3 868.6,1703.6 874.2,1708.4 866.6,1768.6 873.7,1746.4 874.1,1739.4 866.5,1716.4 874.2,1722.6 872.9,1802.3 872.1,1768.2 868.2,1777.2 873,1760.7 871.6,1781.4 874.9,1735.5 877.1,1736.5 868.9,1780.4 868,1751.2 884.9,1814.2 876.9,1814.2 881.7,1814.2 870.5,1814.2 859.2,1814.2 862.4,1814.2 877.7,1814.2 868.8,1814.2 880.9,1814.2 879.3,1814.2 854.4,1814.2 878.5,1814.2 860.8,1814.2 883.3,1814.2 860,1814.2 869.7,1814.2 857.6,1814.2 863.2,1814.2 887.4,1814.2 858.4,1814.2 873.7,1814.2 884.1,1814.2 864.8,1814.2 885.7,1814.2 876.1,1814.2 856.8,1814.2 871.3,1814.2 872.9,1814.2 861.6,1814.2 866.4,1814.2 874.5,1814.2 880.1,1814.2 875.3,1814.2 853.6,1814.2 888.2,1814.2 865.6,1814.2 856,1814.2 882.5,1814.2 867.2,1814.2 868,1814.2 886.6,1814.2 864,1814.2 872.1,1814.2 855.2,1814.2"/>
<path class="p4" d="M927.2,1614.9 930,1610.4 915.1,1656.9 905.4,1612.5 914.7,1654.1 919.3,1616.2 915.8,1571.6 901.7,1619.6 914.9,1666.3 912.5,1604.5 912.7,1580.3 909.4,1581.7 900.1,1610.3 921.7,1611.6 923.7,1591.9 914.8,1655 906.2,1625.4 911.5,1588.9 923.4,1622.9 922.4,1598.2 920.3,1634.9 917.5,1613.9 909.4,1587.9 915.5,1618 915.6,1561.4 923,1616.8 904.2,1616.5 914.7,1570.7 926.5,1603.2 913.5,1610.4 915.3,1600.4 906.5,1603.2 925.6,1613 914.2,1620.9 910.5,1603.7 918.3,1626.4 908.2,1617.9 914.2,1584.6 912.9,1641.6 905.4,1591.7 905,1596.6 918.6,1604.2 912.3,1592.7 920.9,1582.7 922.4,1602.3 920.7,1605.1 904.2,1606.6 907.9,1626.5 923.8,1625.6 907.9,1599.2 915.5,1581.2 910.5,1626.5 916.6,1639.1 929.9,1600.7 916.8,1643.5 928.7,1604.4 907.8,1621.6 924.9,1609.3 920.8,1626.5 920.8,1621.1 909.6,1613.6 927.6,1620.5 915.6,1630.3 911.7,1616.1 921.3,1588.9 901.7,1614.1 908.6,1633 913,1625.8 900,1600.6 918.4,1586.6 908.3,1609.9 912.8,1574.5 916.4,1568.2 914.3,1635.8 914.6,1601.3 917,1547 916.5,1590.3 917.3,1576.5 915.6,1706.8 913,1545.8 916.6,1610 902.4,1604.2 918.6,1596.3 917.1,1624.9 914,1565.9 911.5,1624.7"/>
<path class="p5" d="M956.5,1749.4 950.1,1701.9 974.6,1706.8 967.2,1729.4 958.6,1753.4 953.5,1679.9 953.4,1686.9 944.3,1736.4 951,1738.6 964.4,1666.5 957.9,1635.2 949.6,1729.8 963.8,1704.3 954.3,1663.8 961.3,1748 954.5,1651.2 963.2,1651.9 963,1640.3 965.3,1682.1 973.5,1697.2 955.9,1638.1 969.4,1665.2 955.7,1726.6 960.9,1756.3 946.1,1703.3 943.9,1706.2 963.4,1670.6 967.9,1754.8 960,1728 942.8,1721.2 975.1,1738.8 961.9,1633.2 964.5,1743.1 964.3,1648.5 941.9,1727.6 951.3,1727.9 956.3,1709.7 958.5,1627.5 953.5,1754.4 952.6,1650.8 967.4,1655.6 962.6,1696.9 971.8,1715.2 972.9,1690.8 955.9,1691.7 959,1640.9 972.2,1697.5 943.3,1711.6 944.9,1714.8 964.1,1761.2 962.4,1656.6 956.4,1668.1 966.2,1660.4 976.5,1729.2 966,1757.7 961.4,1690.3 961.4,1714.6 955,1641.2 942,1734 956,1766 944.8,1725.7 954.3,1644.4 969.4,1665.2 970.5,1735.4 966.9,1740.3 966.4,1695.3 951.2,1657.2 946.9,1680.8 968.9,1662 946.2,1709 958.3,1772.4 947.3,1732.5 973.9,1731.5 960.4,1687.2 972.5,1736.7 963.2,1720.1 968.5,1689.6 956.7,1634.8 960.4,1711.6 969.6,1713.7 952,1654.5 959.5,1762.9 964.4,1726.9 962.5,1636.4 950.7,1756.4 967.5,1675.7 953.2,1714.1 965.9,1758 952.2,1711.2 946.9,1727.1 952.2,1693.3 961.7,1661.9 964.2,1663 946.9,1716.3 942.6,1717.5 965,1732.2 948,1704.7 968,1738.2 960.4,1659.3 961.6,1767.6 947.6,1676.4 967.4,1686.5 958.9,1620.7 971.8,1681.2 965.5,1713 974.5,1700.4 953.9,1657.3 975,1734.1 948.4,1670 960.8,1700 950.6,1740.6 951.8,1654 955.1,1696.4 944.4,1705.2 966.9,1692.9 973.1,1726.2 975.7,1719.6 951.9,1705.5 950.7,1689.1 955.3,1676 946.3,1682.8 961.4,1650.6 957.6,1645.5 967.8,1705.2 956.8,1677.9 946.9,1679.6 975.7,1735.6 969.7,1722.2 957.9,1723.8 956.3,1755.7 959.8,1774.9 974.3,1706.5 972.6,1684.4 973.8,1742 964.4,1710.2 969.1,1748.9 975.6,1726 954.4,1759.8 958.7,1739.8 961,1630 966.5,1724.2 963.8,1685.3 942.9,1733.9 951.4,1695.7 958.2,1655.9 971.9,1681.2 954.7,1741.3 943.7,1708.4 950.7,1750.6 963.1,1678.4 966.3,1679.5 957.7,1670.1 946.2,1720.3 975.3,1739.5 946.9,1690.8 964.9,1688.7 963.5,1715.9 945.7,1689.2 945,1695.6 964.6,1657.8 942.8,1739.2 972.5,1709.3 965.6,1701.2 972,1745.2 957,1769.2 944.9,1698.8 962.2,1725.5 970.8,1671.6 948.2,1710.6 951,1716.8 964.8,1746.5 969.4,1752.8 956.9,1661.3 953.8,1751.3 969.5,1732.8 949.1,1713.4 971.6,1703.7 946.1,1745.1 956.8,1721.1 970.9,1674.8 957.8,1688.5 966.3,1671.8 963.8,1737.6 968.4,1699 946.2,1746.8 964.6,1698.2 964.4,1674.6 946,1686 946.4,1687.5 967.4,1718.7 956.5,1643.9 973.4,1700.7 968.5,1710.9 959.3,1664.3 955.9,1638 948.5,1752.4 948.6,1692.5 959.6,1693.7 959.4,1717.2 955.9,1658.7 957.9,1746.1 962.4,1764.4 962.8,1730.9 975.8,1716.4 976,1728.7 952,1671.2 943.4,1718 956.8,1742.7 950.9,1669.2 957,1685.1 952.5,1759.6 966.3,1707.4 958.8,1766.6 975.1,1723.5 941.9,1730.8 976.3,1722.8 962.8,1645 948.3,1721.8 955.2,1715.5 959.5,1607.6 954.5,1762.8 948.8,1673.1 956.2,1731.8 962.7,1741.6 948.4,1748.5 960.4,1633.1 954.7,1747.8 958.3,1706.8 952,1662.6 944,1712 972.1,1745.7 960.6,1744.6 959.6,1751.7 948.8,1666.8 975.8,1718 970.8,1741 968.1,1747.1 961.3,1642.8 943.8,1714.8 964.1,1642.8 969.3,1677.4 975,1713.2 953.5,1725.3 948.5,1735.1 944.8,1692.4 958.4,1674.1 946.7,1737.9 960.3,1647.1 945.1,1731.2 970.2,1673.6 960.7,1770.8 974.1,1703.6 954.8,1672.1 972.7,1687.6 957.3,1734.3 951.2,1660.1 969.8,1668.4 965.6,1649.2 959,1718.4 963.7,1754.1 942.5,1728.5 962.4,1708.8 957.7,1772.4 957.7,1758.2 961.7,1736.3 959.7,1654.1 962.6,1765.1 943.9,1723.1 956,1653.1 949.3,1743.5 961.8,1702.9 969.6,1702.2 957,1697.8 944.7,1694.2 958.9,1694.8 952.9,1735.8 974.7,1710 947.5,1750 970.4,1708.1 960.6,1733.5 959.5,1738.9 970.4,1691.1 951.8,1733.1 960.2,1768.8 967.7,1716.6 971.6,1730.1 961.4,1676.7 950,1685.9 950.5,1719 970.1,1695.9 944.6,1702 945.4,1700.1 958.7,1614.5 962.7,1749.8 961.5,1759.3 956.8,1761.9 971.9,1688 958.4,1729.2 962.1,1683.9 944.5,1743.6 958,1650 948.5,1684.1 973.7,1694.3 954,1730.4 968.9,1669.9 955,1763.8 962.7,1761 957.9,1700.9 960.6,1672.8 965.5,1750.9 947.5,1697.2 949,1664.9 954.4,1647.9 943.3,1740.4 971.6,1719.3 964.8,1646 953.2,1744.5 949.2,1724.4 949.7,1663.6 961.9,1668.8 966.1,1734.8 955.9,1704 957.3,1712.7 949,1677 953.8,1667.2 967.2,1667.5 957.5,1631.6 946.9,1742.1 952.5,1722.4 953.5,1647.6 954.3,1708.4 949.1,1753.2 954.2,1690 955.2,1737.3 950.4,1660.4 963.3,1639.6 953.1,1699.6 959.8,1705.9 951.1,1746.8 968.8,1727.6 949.3,1698.8 950.4,1678.9 950.3,1707.6 961.1,1722.9 972.4,1742.3 967.8,1658.8 966.3,1655.5 965.4,1721.3 968.7,1682.9 969.7,1751.6 971.1,1748.4 959.9,1680.3 955.3,1683.3 954,1702.3 948.2,1673.2 970.6,1684.6 954.7,1719.8 973.8,1720.6 959.1,1665.9 975.7,1732.4 973.7,1712.4 942.4,1737.2 943.1,1724.4 952.2,1757.2 952.3,1675 971.6,1678 973.5,1694 959.3,1636.9 966.5,1652.4 970.9,1724.8 965.9,1755.3 963.2,1692 952,1682.6 968.1,1743.9 958.7,1681.7 966.1,1814.2 965.3,1814.2 967.7,1814.2 972.5,1814.2 941.9,1814.2 951.6,1814.2 973.3,1814.2 974.1,1814.2 945.9,1814.2 966.9,1814.2 942.7,1814.2 960.4,1814.2 962,1814.2 971.7,1814.2 946.7,1814.2 949.2,1814.2 950.8,1814.2 963.6,1814.2 969.3,1814.2 955.6,1814.2 947.6,1814.2 961.2,1814.2 970.9,1814.2 952.4,1814.2 956.4,1814.2 954.8,1814.2 975.7,1814.2 958.8,1814.2 970.1,1814.2 974.9,1814.2 964.5,1814.2 943.5,1814.2 954,1814.2 959.6,1814.2 958,1814.2 957.2,1814.2 976.5,1814.2 944.3,1814.2 950,1814.2 948.4,1814.2 953.2,1814.2 968.5,1814.2 962.8,1814.2 945.1,1814.2"/>
<path class="p6" d="M1007.7,1707 1002.1,1726.4 1008.3,1766.3 1005.2,1707.6 1009.9,1749.6 1005.1,1777.4 1003.6,1671.8 1005.2,1768.3 1008.2,1737.3 1003.4,1665 1011.8,1755 1007.4,1748.6 1005.2,1776.5 1011,1751.3 1005.9,1770.8 1003.8,1764.7 1010.4,1741.5 1012.4,1747.6 1013,1748.6 1003.1,1786.1 1000.6,1764.2 1004.1,1729.3 1000.6,1742 1005.1,1715.8 1009.8,1725.5 1007.9,1740.5 994.6,1734.2 1006.7,1700.6 1003.1,1694.8 1009,1713.4 1004.2,1682.3 1000,1772.6 1006.7,1771 1012.8,1742.2 1002.3,1714.6 996.9,1745.1 1003.1,1720.8 1002,1771.9 999,1708.6 996.5,1752.9 998,1732.3 998.6,1762.4 1009.6,1760.5 1000.8,1758.7 1002,1761.2 1005.9,1736.3 1001.2,1735.5 1005.9,1774.2 1009.8,1720.4 1004.9,1724.2 1009.3,1716.6 1002.6,1783.8 1001,1775.8 1005.7,1761.5 1001.2,1723.7 1006.8,1731.7 1000.2,1733.3 1005,1687.8 999.5,1722.3 1000.5,1718.1 999,1712.8 1000,1704.6 1003.7,1718.6 995.6,1734.5 997.5,1748.8 1002.8,1756.4 1011.9,1732.6 998,1766.2 1000.1,1702.2 1005.8,1694.2 998,1727.4 1008.1,1728.1 1013.3,1745.4 994.4,1746.9 1010.8,1723 995.2,1731 1011,1730.8 998.6,1711.8 999.7,1705.4 1001.9,1744 1004.8,1684.6 1006.6,1709.8 1010.4,1735.1 996.6,1736.5 1003,1675.7 997.1,1719.5 999,1754.1 1004.9,1759.2 995.9,1759.8 995.7,1742.9 997.1,1760 1006.6,1721.7 1001.8,1711.2 1000.6,1769.4 1002.9,1778.3 1003,1685.6 1007.1,1763.3 994.6,1755.3 998,1765.8 1000.7,1699 1001.7,1779 998.2,1740.7 994,1738.8 994.6,1753.4 1007.6,1767.8 1013,1739 1002.7,1767.3 994.1,1747 1011.1,1726.2 1007.8,1714 1002,1690.5 1008.6,1764.6 1002.1,1686.2 1000.7,1774 1006.1,1697.4 1002.5,1731.4 1001.3,1751.9 995.1,1750.9 1003.7,1781.5 1003.5,1738.2 1007.2,1756.9 1005.4,1691 1002.5,1748 1007.2,1703.8 1012.4,1735.8 994.1,1743.8 1005.3,1699.9 1005.5,1742.3 1004.3,1712.2 1001.1,1695.8 996.6,1721.4 1001.8,1689.4 998.6,1757.3 999.1,1769.4 998.8,1737.9 1006.8,1717.3 1000.8,1709 1003.1,1706.7 1004.9,1750.4 1003.7,1686.7 1004.7,1734.1 1012.8,1751.8 1009.3,1745.6 993.8,1750.2 1001.6,1697.9 1008.4,1753.3 1006.1,1752.5 995.6,1730 994.4,1737.4 1010,1761.4 994.3,1740.6 1004.3,1696.4 1003.7,1754.5 1006.8,1744.5 1011.1,1758.2 1002.2,1782.2 1003.1,1740 996.2,1724.6 997.3,1718.2 1004.3,1746.6 997.3,1725.3 1008.2,1710.2 1003.6,1791.4 996.8,1763 1011.8,1755.7 995,1756.6 1011.7,1743.4 995.6,1727.8 1009.1,1758.1 999.2,1716.3 999.4,1745.9 1010.1,1719.8 997.9,1715 1007.1,1705.6 1003.8,1772.7 1000,1749.8 1005.1,1692 1009.1,1732.8 1006,1727 1003.8,1702.6 1002.1,1701.3 1008.5,1723.2 1004.6,1780.6 1012.7,1739.5 1011.5,1729.4 999.9,1728.9 1002.9,1670.6 1001.4,1692.6 1004.6,1814.2 994.1,1814.2 1007,1814.2 992.5,1814.2 1006.2,1814.2 990.9,1814.2 988.5,1814.2 986.1,1814.2 1003.8,1814.2 1019.1,1814.2 1000.6,1814.2 1018.3,1814.2 1011.8,1814.2 995.8,1814.2 993.3,1814.2 989.3,1814.2 1007.8,1814.2 1002.2,1814.2 1015.9,1814.2 1017.5,1814.2 1015.1,1814.2 1013.5,1814.2 995,1814.2 996.6,1814.2 1008.6,1814.2 1011,1814.2 986.9,1814.2 1009.4,1814.2 1005.4,1814.2 991.7,1814.2 1016.7,1814.2 1014.3,1814.2 999,1814.2 997.4,1814.2 1012.7,1814.2 990.1,1814.2 999.8,1814.2 987.7,1814.2 1010.2,1814.2 1001.4,1814.2 998.2,1814.2 1020.7,1814.2 1019.9,1814.2 1003,1814.2"/>
<path class="p7" d="M1046.9,1720.1 1039.2,1705 1052.3,1717.4 1042.9,1744.4 1049.5,1732.3 1045.2,1759.8 1039,1731.4 1054.9,1746.9 1051.1,1735.4 1036.5,1668.3 1060.2,1737.7 1052.6,1754.2 1059.2,1666.4 1061.8,1696.6 1055.6,1668.9 1040.7,1753.4 1032.1,1672.9 1041.2,1736.5 1044.6,1619.4 1035.8,1733.9 1061.4,1676 1043,1765 1035,1704.5 1047.2,1674.2 1041,1679.7 1046,1730.1 1049.8,1665.4 1037,1710.9 1032.6,1680.3 1060.5,1702.7 1046.5,1777.3 1040.8,1738.9 1033.6,1695.7 1042.6,1732.3 1049.4,1645.5 1044.4,1717 1047.9,1756.2 1039.1,1756.2 1058.4,1714.2 1054.4,1736.5 1057.9,1745.4 1049.3,1748.4 1044.5,1697.5 1045.6,1740.3 1039.2,1720.7 1047.8,1736.9 1056.5,1732 1060.3,1729.8 1046.1,1681.2 1042.4,1664.7 1037,1657.5 1053.3,1677.7 1048.8,1698.7 1044.4,1735.3 1040.5,1718.7 1047.1,1653.5 1052.3,1660.2 1051.5,1709.5 1048.7,1745.2 1033,1711.8 1035.3,1687.5 1056.8,1655.7 1058.8,1683.5 1047.2,1737.9 1051.7,1667.4 1039.5,1741 1051,1695.3 1061.8,1710.2 1062.4,1719.8 1051.8,1741 1036.1,1652.6 1053.1,1730.9 1041.3,1700.7 1053.4,1663.1 1037.7,1682.8 1058.5,1700.4 1054.2,1651.6 1051.2,1674.8 1056.6,1739.8 1030.9,1690.4 1059.9,1725.3 1062.8,1699.2 1045,1726.2 1048.2,1651.9 1053.4,1654.6 1055.7,1707 1039.8,1649 1062.9,1681 1040.1,1698.5 1056.1,1718.6 1064,1690.8 1055.2,1674.3 1050.4,1684.6 1044.4,1645.4 1050.9,1759.3 1039.6,1689.2 1057.5,1679.1 1035.1,1675.4 1048.8,1661.8 1050.4,1752 1049.4,1711.8 1046.6,1690.8 1037.8,1740.1 1053.6,1738 1043.3,1759.3 1054.8,1641.5 1050.4,1656.7 1049.3,1680.1 1034.2,1728.6 1055.5,1751 1037.8,1735.6 1036.9,1678.5 1047.4,1608.2 1060.2,1716.3 1055.8,1660.7 1053.5,1710.8 1043.4,1755.5 1043.2,1674.7 1046.6,1584.5 1043.1,1722.6 1041.4,1728 1038.2,1713.8 1049.2,1775 1037.7,1727.3 1049.1,1585.7 1045.4,1751.2 1063.1,1673.5 1044.2,1666.5 1058.3,1722 1052.6,1687 1059.7,1692.9 1050.7,1636.4 1050.3,1740.1 1033.3,1685.6 1034.9,1665.6 1032.7,1719 1054.2,1699.9 1040.9,1641.4 1044,1686.5 1045.4,1657.7 1045.6,1699.7 1058,1734 1046.7,1767.8 1037.9,1692.2 1048.9,1761.2 1042.4,1643.8 1055.3,1691.9 1039.1,1646.5 1037.2,1745.2 1047.3,1706.7 1030.8,1705.7 1052.8,1759.5 1035.8,1697.9 1053.1,1697.8 1047.7,1705.7 1047.6,1623.8 1036.9,1700.3 1034.8,1737.5 1034.5,1662.1 1048.9,1769.2 1034.4,1716 1048.3,1689.2 1054.6,1682.1 1044.1,1740 1047.7,1779.5 1040.2,1670 1046.5,1746.2 1042.3,1715.4 1059.2,1674.6 1045,1631.4 1034.9,1709.7 1045.3,1638.8 1041.2,1711.3 1056.9,1687.6 1045.3,1710.6 1054.2,1645 1064.2,1705.7 1042.3,1693.2 1052.1,1746.5 1041.9,1683.6 1048.3,1718.8 1038.2,1660.6 1045.5,1648.2 1046.6,1626.9 1050.9,1648.7 1050.6,1622.6 1056.2,1704.9 1045.3,1772.9 1043.8,1747.9 1043.4,1703.5 1062.6,1712.1 1058.1,1740.1 1048.3,1639.1 1041,1746.8 1052.4,1726.2 1048.7,1728.4 1057.5,1698 1052,1703.8 1046.3,1713.2 1036.6,1718.2 1039.2,1674.4 1054.5,1744 1050.6,1723.4 1047.9,1670 1047.1,1757.2 1047,1641.7 1055.5,1757.2 1051.3,1643 1060.5,1662.2 1046.1,1663 1059.5,1653.4 1048.1,1589.5 1057.1,1663.8 1054.6,1720.2 1043.8,1655.8 1031.5,1699.2 1041.7,1661.1 1038.8,1663.2 1056.2,1647.9 1050.3,1715.9 1040.6,1655.2 1045.2,1677.3 1038.9,1707.5 1049.9,1701 1043.2,1709.2 1057.6,1711 1056,1727.6 1051.9,1766 1061.1,1685.7 1054.4,1713.7 1038.7,1749.4 1032.7,1701.3 1042.3,1651.8 1059.8,1708.1 1058.8,1657.6 1035.6,1724.4 1048.4,1814.2 1046.8,1814.2"/>
<path class="p8" d="M1091.8,1602 1091.8,1581.4 1091.8,1655 1091.8,1629.4 1091.4,1814.2 1087.9,1814.2 1085.1,1814.2 1103.3,1814.2 1082.3,1814.2 1104,1814.2 1084.4,1814.2 1083.7,1814.2 1089.3,1814.2 1106.8,1814.2 1104.7,1814.2 1106.1,1814.2 1088.6,1814.2 1101.2,1814.2 1081.6,1814.2 1080.9,1814.2 1080.2,1814.2 1093.5,1814.2 1095.6,1814.2 1097.7,1814.2 1079.6,1814.2 1099.8,1814.2 1086.5,1814.2 1102.6,1814.2 1105.4,1814.2 1090,1814.2 1083,1814.2 1092.8,1814.2 1078.9,1814.2 1090.7,1814.2 1094.9,1814.2 1098.4,1814.2 1099.1,1814.2 1076.8,1814.2 1096.3,1814.2 1101.9,1814.2 1100.5,1814.2 1092.1,1814.2 1094.2,1814.2 1087.2,1814.2 1077.5,1814.2 1078.2,1814.2 1097,1814.2 1085.8,1814.2"/>
<path class="p9" d="M1135.7,1663.1 1133.1,1738.5 1139.2,1729.8 1141.4,1736.1 1137.7,1754.1 1139.3,1746.2 1137.2,1751.3 1134.5,1695.5 1135.3,1773.5 1142,1748.3 1131.6,1752.1 1136.6,1674.2 1137.6,1728.5 1131.8,1757 1134.1,1769.1 1131.9,1741.4 1137.2,1690.7 1134.6,1769.5 1137.4,1693.9 1136,1705.7 1129.4,1737.1 1135.5,1689 1131.4,1726.9 1135.2,1740.7 1136.2,1657.5 1136.3,1680.6 1138.3,1712.5 1136,1746.9 1136.4,1667.5 1134,1756 1136.6,1686.9 1136.8,1714.5 1134.7,1693.2 1136.9,1743.2 1140.4,1727.4 1131.6,1721.1 1133.2,1730 1133.5,1764.2 1134.6,1772.3 1135.4,1717.1 1134.2,1719.9 1137.5,1759.7 1139.7,1757.9 1129.8,1746.7 1138,1765.4 1137.4,1710.8 1136.5,1686.2 1137.8,1700.3 1137,1702.8 1137.3,1735.1 1135.6,1722.9 1138.8,1732.8 1136,1669.3 1134,1734.5 1130,1730.7 1130.7,1727.5 1129.4,1740.3 1135.4,1661.3 1138.4,1764.3 1133.4,1708.3 1133,1724.2 1129.6,1743.5 1139.8,1716.3 1135.3,1683.5 1134.8,1736.8 1130.1,1731.4 1138.8,1749.3 1136.2,1730.9 1132.7,1762.7 1134.6,1692.3 1134,1701.9 1131.2,1724.3 1130.9,1753.1 1141,1743.9 1141.8,1731.8 1141.6,1748.3 1136,1692.5 1129.8,1739.4 1140.2,1750.5 1135.2,1778.6 1133.7,1760.5 1140.4,1719.5 1134.3,1698.7 1140.4,1754.7 1138.5,1708 1133.4,1707.2 1134.3,1751.1 1136.4,1700 1129.7,1747.5 1132.5,1733.5 1136.1,1680 1134.5,1701.1 1140.2,1742 1131.8,1721.4 1134.4,1744.5 1136.9,1726.3 1131.4,1756.3 1137.6,1697.1 1132.2,1759.5 1134.9,1703.8 1139.1,1761.1 1135.7,1748.9 1132.9,1711.5 1142.5,1741.9 1139.8,1738.2 1131.9,1729 1135.5,1697.3 1141.5,1725.9 1133.3,1718.7 1137.7,1745 1132.4,1714.7 1139.8,1758.2 1138.9,1755.2 1137.1,1687.5 1136.3,1783.8 1135.6,1758.9 1138.6,1719.6 1139.3,1713.1 1135.4,1766.2 1136.4,1763 1136.1,1692.7 1135.9,1709.4 1141.9,1740.2 1133.5,1765.9 1139.4,1724.8 1136.3,1673.8 1136.5,1739.1 1137.8,1767.5 1132.7,1749.7 1132.6,1754.3 1136.8,1770.7 1138.2,1761.6 1135.8,1678.2 1133.7,1705.1 1142.4,1738.7 1130.3,1749.9 1138.1,1703.5 1137.1,1696.5 1137.4,1717.6 1131.5,1737.7 1142.3,1745.1 1140.4,1722.5 1136.5,1768.1 1135.1,1713.2 1138.5,1706.7 1133.2,1715 1142,1732.3 1141.9,1729.1 1135.3,1670.9 1139.2,1716.5 1138.9,1709.9 1138,1723.4 1134.2,1725.5 1135.6,1732.5 1136.4,1720.8 1130.2,1743.4 1136.1,1656.3 1138.6,1741.2 1134.8,1728.2 1132,1717.9 1134.8,1761.9 1141.1,1751.5 1140.9,1722.7 1134.4,1711.2 1131.1,1745.4 1140.6,1752.5 1142.3,1735.5 1134.8,1689.1 1133.5,1742.4 1136.4,1756.7 1138.1,1737.1 1130.8,1735.7 1129.7,1733.9 1140.4,1733.9 1137.3,1770.7 1135.1,1753.4 1136,1775 1132.8,1746.6 1120.2,1814.2 1125.9,1814.2 1131.5,1814.2 1141.2,1814.2 1125.1,1814.2 1118.6,1814.2 1121.1,1814.2 1140.4,1814.2 1150,1814.2 1119.4,1814.2 1133.9,1814.2 1137.1,1814.2 1129.1,1814.2 1151.6,1814.2 1153.2,1814.2 1142.8,1814.2 1145.2,1814.2 1126.7,1814.2 1138,1814.2 1146.8,1814.2 1142,1814.2 1152.4,1814.2 1138.8,1814.2 1143.6,1814.2 1127.5,1814.2 1136.3,1814.2 1123.5,1814.2 1130.7,1814.2 1121.9,1814.2 1148.4,1814.2 1133.1,1814.2 1144.4,1814.2 1124.3,1814.2 1146,1814.2 1150.8,1814.2 1128.3,1814.2 1134.7,1814.2 1139.6,1814.2 1147.6,1814.2 1122.7,1814.2 1149.2,1814.2 1132.3,1814.2 1135.5,1814.2 1129.9,1814.2"/>
<path class="p10" d="M1172.8,1773.2 1187.7,1737.7 1174.7,1712.6 1192.2,1743.8 1177.4,1663.7 1173,1680.3 1176.9,1763.3 1178.2,1670.4 1166.4,1716.9 1184,1689.2 1174.6,1748 1175.3,1692.2 1191.5,1788.4 1194.4,1758.9 1163.5,1732.3 1184.5,1668.2 1185.8,1703.1 1196.3,1732.8 1194.3,1778.9 1189.4,1688.4 1176.5,1720.7 1179,1733.1 1168,1723 1174.2,1784 1189.6,1771.5 1166.6,1786.1 1172.1,1727.4 1170.3,1783.1 1183.3,1803.8 1181.3,1694.2 1172.6,1690.6 1187,1691.4 1168.6,1771.1 1186.1,1781.8 1191.7,1697.2 1178.9,1698.5 1189.4,1704.2 1189.1,1726.2 1193,1718.6 1170.3,1740.2 1184.8,1721.3 1183.4,1749.4 1181.9,1676.1 1180.7,1729.3 1165.8,1750.9 1169,1694.5 1182.1,1784.6 1164.9,1778.1 1190,1783.3 1176.6,1796.8 1182.7,1716.8 1178.1,1781.3 1181.1,1775.4 1171.8,1703.3 1185.4,1768.7 1178.4,1688.4 1178.7,1814.2 1173.1,1814.2 1184.3,1814.2 1175.9,1814.2 1187.1,1814.2 1181.5,1814.2"/>
<path class="p11" d="M1229.2,1750.3 1224.7,1719.5 1220.7,1738.3 1229.3,1734.7 1217.7,1747.8 1219.8,1755.1 1224.3,1724.3 1221.1,1723.1 1225.2,1707.7 1227.1,1748.3 1223.6,1705.3 1230.9,1733.3 1224.7,1738.3 1221.1,1746.3 1225.9,1751.7 1218,1736 1224.2,1709.3 1231.9,1739.6 1223.4,1758.7 1223.7,1733.5 1222.7,1729 1226.5,1723.3 1228.7,1728.9 1223.4,1731.1 1226.6,1737.1 1224.1,1650 1220,1731.4 1228.2,1756.5 1230,1741.8 1225.2,1749.8 1221.8,1749 1224.3,1695.6 1219.4,1730.3 1219,1744.8 1225.9,1743.4 1224.5,1701.8 1225.8,1729.5 1222.9,1744.1 1221.8,1753.8 1224.4,1754.6 1220.1,1752.1 1223.1,1719.4 1225.6,1735.1 1226.5,1760.7 1226.7,1731.4 1221.9,1743.2 1222.7,1736.3 1225.1,1732.4 1230.7,1748 1221.9,1734.9 1228.6,1738 1218,1733 1229.9,1730.7 1221.7,1731.8 1228.7,1746.2 1222.5,1758 1230.4,1736.1 1223.5,1748.2 1227.2,1721.1 1224,1762.2 1226.9,1744.7 1227,1727.2 1228.4,1731.4 1224.8,1683.7 1221.2,1728.8 1224.1,1673.8 1229.4,1725.9 1219.6,1724.5 1217.9,1743.4 1225,1759.1 1224.9,1747.1 1222.1,1759.9 1227,1753.5 1228,1740.4 1221.1,1720.7 1224.3,1689.4 1223.9,1739.9 1224.7,1767.1 1226.4,1719.1 1218.7,1749.9 1222.8,1750.5 1225,1712.1 1216.7,1738.6 1224.2,1756.8 1225.4,1722.3 1230.9,1743.8 1220,1734.6 1222,1723.9 1224.2,1726.6 1219.9,1741.3 1226.8,1758.1 1226,1757.4 1223.3,1722.1 1227.4,1734 1220,1748.3 1218.8,1737.7 1222.4,1718.5 1228.7,1748.7 1227.1,1814.2 1219.9,1814.2 1238.4,1814.2 1223.1,1814.2 1211.8,1814.2 1237.6,1814.2 1214.2,1814.2 1219.1,1814.2 1217.5,1814.2 1226.3,1814.2 1231.1,1814.2 1220.7,1814.2 1232.7,1814.2 1208.6,1814.2 1225.5,1814.2 1231.9,1814.2 1215,1814.2 1213.4,1814.2 1207,1814.2 1229.5,1814.2 1227.9,1814.2 1234.4,1814.2 1210.2,1814.2 1215.9,1814.2 1230.3,1814.2 1224.7,1814.2 1240.8,1814.2 1212.6,1814.2 1222.3,1814.2 1233.6,1814.2 1211,1814.2 1241.6,1814.2 1218.3,1814.2 1207.8,1814.2 1235.2,1814.2 1209.4,1814.2 1216.7,1814.2 1221.5,1814.2 1223.9,1814.2 1240,1814.2 1236,1814.2 1236.8,1814.2 1239.2,1814.2 1228.7,1814.2"/>
<path class="p12" d="M1274.5,1558.9 1255,1575.7 1273.4,1597.8 1264.6,1545.6 1270.3,1623.5 1271.9,1634.6 1277.2,1547.3 1254.5,1536.8 1264.6,1510.6 1264.1,1630.1 1265.7,1608.3 1262.7,1541.6 1279.9,1567 1268.7,1547.7 1270.1,1564.8 1267.9,1551.2 1258.8,1540.9 1274.5,1513.9 1252.5,1565 1265.8,1556.3 1257.3,1577.7 1263.6,1554.8 1272.3,1555.4 1270.1,1610.6 1267.1,1615.2 1266.8,1566.8 1262.4,1599 1268.5,1660 1270.5,1517 1279.3,1528.2 1274.8,1614.1 1267.8,1597.5 1273,1531 1282.2,1538 1276.4,1581.2 1269.6,1535.2 1276.7,1533 1274.7,1540.5 1276.5,1553 1265.9,1514.6 1283.1,1555.9 1254.5,1543.2 1278.9,1560.9 1257,1560.7 1256.2,1546.1 1285,1551 1271.6,1625.3 1258.1,1567 1272.9,1577 1280.8,1576.2 1275.6,1567 1259.3,1554.3 1261.8,1611.8 1254.9,1555.5 1281.2,1544.9 1259.2,1531.1 1262.4,1534 1271,1575.4 1265,1576.5 1268.8,1627.6 1270.8,1542.7 1260.3,1547.5 1284.4,1566.4 1280.9,1554.5 1261.7,1583.4 1275.4,1602.8 1259.5,1521.9 1266.2,1626.6 1255.5,1588 1272.9,1546 1266.2,1529.5 1264.6,1624.8 1268.9,1584.8 1279.3,1596.3 1262.7,1571.5 1261.3,1561.2 1266.8,1540.2 1278.8,1541.5 1251.9,1547.7 1267.7,1814.2 1269.3,1814.2"/>
<path class="p13" d="M1307.3,1749.4 1315.6,1747.7 1313.5,1755.8 1310,1757 1312.5,1650 1307.3,1743.1 1307.8,1729.5 1312,1740 1312.5,1749.6 1312.7,1748.6 1308.4,1747.6 1310.4,1729.2 1312.2,1759.5 1317.9,1749.6 1318.2,1738.5 1314,1761.5 1314.3,1723.5 1315.1,1740.8 1314.2,1746.8 1313,1721.5 1308.3,1732.2 1315.4,1729 1310.7,1718.9 1311.2,1725.4 1308.8,1727 1310.4,1742.7 1311.1,1730.6 1309.9,1747.9 1316.2,1723 1313.4,1725.6 1312,1764.6 1310.1,1735.9 1310.3,1753 1313.1,1701.8 1313.5,1742.9 1315,1729.8 1317.3,1732.5 1311.3,1746.5 1312.3,1716.4 1312.9,1729.2 1314.1,1727.6 1315.5,1725.2 1314.6,1720.1 1309.3,1728.1 1314.5,1733.3 1313.7,1730.6 1312.4,1729.8 1313.7,1718.4 1315.7,1754.3 1316.7,1742.1 1317.2,1746.2 1308.8,1741.3 1313.5,1761 1315.5,1757 1310.7,1767.4 1310.2,1725 1308.8,1734.3 1312.4,1723.4 1315.1,1750.3 1311.4,1720.2 1316.4,1730.5 1313.1,1736.2 1313,1692.5 1311.7,1727.4 1311.5,1754.7 1312.8,1683.1 1311.2,1761.4 1317.5,1729.6 1309.5,1721.7 1312.8,1765.3 1311.6,1767.3 1312.4,1675 1316.1,1735.1 1311.7,1732.9 1316.3,1727 1309.8,1730.4 1313.2,1771.8 1307,1737.7 1297.8,1814.2 1325.9,1814.2 1317.9,1814.2 1313.9,1814.2 1309,1814.2 1302.6,1814.2 1327.5,1814.2 1329.2,1814.2 1299.4,1814.2 1323.5,1814.2 1325.1,1814.2 1300.2,1814.2 1297,1814.2 1307.4,1814.2 1305.8,1814.2 1321.1,1814.2 1309.8,1814.2 1321.9,1814.2 1301,1814.2 1330,1814.2 1308.2,1814.2 1298.6,1814.2 1324.3,1814.2 1296.2,1814.2 1317.1,1814.2 1310.6,1814.2 1328.4,1814.2 1318.7,1814.2 1316.3,1814.2 1312.3,1814.2 1322.7,1814.2 1301.8,1814.2 1313.1,1814.2 1303.4,1814.2 1319.5,1814.2 1305,1814.2 1304.2,1814.2 1311.5,1814.2 1295.4,1814.2 1320.3,1814.2 1315.5,1814.2 1314.7,1814.2 1326.7,1814.2 1306.6,1814.2"/>
<path class="p14" d="M1356.7,1538 1350.3,1601.7 1340.5,1570.7 1352.8,1565.8 1356,1527.5 1349.7,1549.2 1350.8,1564 1352.6,1550.4 1354.8,1607.4 1360.5,1605.2 1365.1,1549.8 1367.2,1563 1346.1,1587.1 1355.8,1548.4 1346.2,1559.5 1365.3,1568.3 1360.6,1619.2 1362.7,1573.7 1362.5,1539.3 1361.8,1558.8 1356,1555.8 1359.4,1580.5 1358.4,1607.5 1356.9,1511.5 1366.6,1585.7 1363.6,1596.7 1355.9,1610.8 1357,1569.5 1354.9,1562 1353,1618.6 1371.1,1561.7 1356.5,1622.5 1367.5,1548.2 1349.5,1543.2 1362.1,1610.6 1352.9,1606.8 1349.1,1585 1354.5,1612.8 1357.4,1554.8 1355.1,1624.8 1357.3,1614.1 1363.8,1537.8 1343,1583.1 1370.7,1555.7 1355.6,1593.7 1348.3,1590 1370.8,1573.5 1364.7,1604.4 1359.8,1556.9 1350,1594.4 1346,1593 1348.6,1556.6 1348.9,1604.4 1364.5,1554.6 1358.2,1623.3 1356.6,1605 1361.2,1603 1353.9,1535.3 1363.1,1562.6 1358.9,1550.5 1350.2,1582.6 1360.5,1545.1 1343.1,1554.9 1354.6,1540.4 1357.2,1645.7 1358.3,1597.6 1361.3,1580.9 1346.3,1581.4 1360.2,1612.6 1346.9,1546.9 1360.4,1538.5 1346.5,1574.1 1354.6,1573.5 1349.9,1561.2 1358.8,1541.6 1365.9,1560.4 1346.2,1550.6 1351.7,1591.9 1354.6,1588.5 1350.3,1554.6 1344.3,1580.6 1342.7,1576 1352.3,1556.9 1355.4,1544.3 1355.6,1577.2 1351.8,1579.7 1358.9,1611.1 1359.9,1534.7 1348.3,1598.7 1368.9,1571.9 1354.1,1557.9 1354.5,1599 1347.9,1578.6 1364.1,1590.2 1359.4,1600 1352.5,1546.5 1353.1,1596.8 1357.1,1665 1353.8,1580.8 1371.5,1576.2 1370.5,1584 1350.6,1575.1 1361.1,1565.9 1358.6,1575.7 1346.8,1562.8 1368.8,1580.8 1364.4,1599 1344.5,1566.4 1350.5,1536.2 1357,1603.2 1354.1,1551.7 1369.2,1557.3 1348.4,1571.3 1363.4,1578 1361,1589.6 1367.8,1588.2 1358,1546.6 1357.5,1582.9 1358.7,1626.1 1350,1545.7 1357.4,1655 1342.5,1565.6 1359.6,1586.2 1359,1564.7 1363.3,1584.3 1363.5,1556.5 1367.2,1556.8 1358,1561.3 1351.4,1608.3 1356.6,1570.8 1361.3,1593.7 1367.1,1593.5 1353.1,1532.7 1348.7,1568.7 1363.2,1545.8 1357,1535.7 1367.2,1551.6 1341.9,1561.6 1356.2,1584.2 1360.7,1573.2 1366.6,1575 1352.5,1572.3 1365,1581.7 1352.9,1611.4 1344.4,1573.3 1344.8,1557 1346.8,1554.4 1357.8,1592.7 1362.1,1607.1 1373.1,1570.7 1360.9,1554 1352.9,1538.7 1365.2,1544 1358,1529.8 1352.7,1585.9 1352.7,1603.1 1364.8,1570.9 1367.2,1579 1361.8,1549 1369.4,1565.7"/>
<path class="p15" d="M1400,1577 1402.8,1621.9 1408.1,1814.2 1405.2,1814.2 1400.8,1814.2 1414,1814.2 1397.9,1814.2 1394.9,1814.2 1389.1,1814.2 1399.3,1814.2 1390.5,1814.2 1387.6,1814.2 1393.5,1814.2 1396.4,1814.2 1415.4,1814.2 1392,1814.2 1406.6,1814.2 1403.7,1814.2 1402.3,1814.2 1412.5,1814.2 1409.6,1814.2 1411,1814.2"/>
</g>
<g class="a">
<path d="M71.4,48.6 V614.8"/>
<path d="M64.6,587.5 H70"/>
<path d="M64.6,462.7 H70"/>
<path d="M64.6,337.8 H70"/>
<path d="M64.6,213 H70"/>
<path d="M64.6,88.1 H70"/>
<path d="M71.4,662.6 V1227.8"/>
<path d="M64.6,1200.6 H70"/>
<path d="M64.6,1075.8 H70"/>
<path d="M64.6,950.9 H70"/>
<path d="M64.6,826.1 H70"/>
<path d="M64.6,701.2 H70"/>
<path d="M71.4,1275.8 V1840.9"/>
<path d="M64.6,1814.2 H70"/>
<path d="M64.6,1689.4 H70"/>
<path d="M64.6,1564.5 H70"/>
<path d="M64.6,1439.7 H70"/>
<path d="M64.6,1314.8 H70"/>
<path d="M69.9,1839.4 H744"/>
<path d="M97.6,1840.4 v5.4"/>
<path d="M141.8,1840.4 v5.4"/>
<path d="M186,1840.4 v5.4"/>
<path d="M230.1,1840.4 v5.4"/>
<path d="M274.3,1840.4 v5.4"/>
<path d="M318.5,1840.4 v5.4"/>
<path d="M362.7,1840.4 v5.4"/>
<path d="M406.9,1840.4 v5.4"/>
<path d="M451,1840.4 v5.4"/>
<path d="M495.2,1840.4 v5.4"/>
<path d="M539.4,1840.4 v5.4"/>
<path d="M583.6,1840.4 v5.4"/>
<path d="M627.8,1840.4 v5.4"/>
<path d="M671.9,1840.4 v5.4"/>
<path d="M716.1,1840.4 v5.4"/>
<path d="M754.8,1839.4 H1428.9"/>
<path d="M782.5,1840.4 v5.4"/>
<path d="M826.7,1840.4 v5.4"/>
<path d="M870.9,1840.4 v5.4"/>
<path d="M915,1840.4 v5.4"/>
<path d="M959.2,1840.4 v5.4"/>
<path d="M1003.4,1840.4 v5.4"/>
<path d="M1047.6,1840.4 v5.4"/>
<path d="M1091.8,1840.4 v5.4"/>
<path d="M1135.9,1840.4 v5.4"/>
<path d="M1180.1,1840.4 v5.4"/>
<path d="M1224.3,1840.4 v5.4"/>
<path d="M1268.5,1840.4 v5.4"/>
<path d="M1312.7,1840.4 v5.4"/>
<path d="M1356.8,1840.4 v5.4"/>
<path d="M1401,1840.4 v5.4"/>
</g>
<g class="t">
<text transform="matrix(1,0,0,1.0,58.4,596.3)" text-anchor="end">0</text>
<text transform="matrix(1,0,0,1.0,58.4,471.5)" text-anchor="end">2</text>
<text transform="matrix(1,0,0,1.0,58.4,346.6)" text-anchor="end">4</text>
<text transform="matrix(1,0,0,1.0,58.4,221.8)" text-anchor="end">6</text>
<text transform="matrix(1,0,0,1.0,58.4,96.9)" text-anchor="end">8</text>
<text transform="matrix(1,0,0,1.0,58.4,1209.4)" text-anchor="end">0</text>
<text transform="matrix(1,0,0,1.0,58.4,1084.6)" text-anchor="end">2</text>
<text transform="matrix(1,0,0,1.0,58.4,959.7)" text-anchor="end">4</text>
<text transform="matrix(1,0,0,1.0,58.4,834.9)" text-anchor="end">6</text>
<text transform="matrix(1,0,0,1.0,58.4,710)" text-anchor="end">8</text>
<text transform="matrix(1,0,0,1.0,58.4,1823)" text-anchor="end">0</text>
<text transform="matrix(1,0,0,1.0,58.4,1698.2)" text-anchor="end">2</text>
<text transform="matrix(1,0,0,1.0,58.4,1573.3)" text-anchor="end">4</text>
<text transform="matrix(1,0,0,1.0,58.4,1448.5)" text-anchor="end">6</text>
<text transform="matrix(1,0,0,1.0,58.4,1323.6)" text-anchor="end">8</text>
<text transform="matrix(1,0,0,1.0,97.6,1868.8)" text-anchor="middle">1</text>
<text transform="matrix(1,0,0,1.0,141.8,1868.8)" text-anchor="middle">2</text>
<text transform="matrix(1,0,0,1.0,186,1868.8)" text-anchor="middle">3</text>
<text transform="matrix(1,0,0,1.0,230.1,1868.8)" text-anchor="middle">4</text>
<text transform="matrix(1,0,0,1.0,274.3,1868.8)" text-anchor="middle">5</text>
<text transform="matrix(1,0,0,1.0,318.5,1868.8)" text-anchor="middle">6</text>
<text transform="matrix(1,0,0,1.0,362.7,1868.8)" text-anchor="middle">7</text>
<text transform="matrix(1,0,0,1.0,406.9,1868.8)" text-anchor="middle">8</text>
<text transform="matrix(1,0,0,1.0,451,1868.8)" text-anchor="middle">9</text>
<text transform="matrix(1,0,0,1.0,495.2,1868.8)" text-anchor="middle">10</text>
<text transform="matrix(1,0,0,1.0,539.4,1868.8)" text-anchor="middle">11</text>
<text transform="matrix(1,0,0,1.0,583.6,1868.8)" text-anchor="middle">12</text>
<text transform="matrix(1,0,0,1.0,627.8,1868.8)" text-anchor="middle">13</text>
<text transform="matrix(1,0,0,1.0,671.9,1868.8)" text-anchor="middle">14</text>
<text transform="matrix(1,0,0,1.0,716.1,1868.8)" text-anchor="middle">15</text>
<text transform="matrix(1,0,0,1.0,782.5,1868.8)" text-anchor="middle">1</text>
<text transform="matrix(1,0,0,1.0,826.7,1868.8)" text-anchor="middle">2</text>
<text transform="matrix(1,0,0,1.0,870.9,1868.8)" text-anchor="middle">3</text>
<text transform="matrix(1,0,0,1.0,915,1868.8)" text-anchor="middle">4</text>
<text transform="matrix(1,0,0,1.0,959.2,1868.8)" text-anchor="middle">5</text>
<text transform="matrix(1,0,0,1.0,1003.4,1868.8)" text-anchor="middle">6</text>
<text transform="matrix(1,0,0,1.0,1047.6,1868.8)" text-anchor="middle">7</text>
<text transform="matrix(1,0,0,1.0,1091.8,1868.8)" text-anchor="middle">8</text>
<text transform="matrix(1,0,0,1.0,1135.9,1868.8)" text-anchor="middle">9</text>
<text transform="matrix(1,0,0,1.0,1180.1,1868.8)" text-anchor="middle">10</text>
<text transform="matrix(1,0,0,1.0,1224.3,1868.8)" text-anchor="middle">11</text>
<text transform="matrix(1,0,0,1.0,1268.5,1868.8)" text-anchor="middle">12</text>
<text transform="matrix(1,0,0,1.0,1312.7,1868.8)" text-anchor="middle">13</text>
<text transform="matrix(1,0,0,1.0,1356.8,1868.8)" text-anchor="middle">14</text>
<text transform="matrix(1,0,0,1.0,1401,1868.8)" text-anchor="middle">15</text>
</g>
<text class="T" x="749.3" y="1901" text-anchor="middle">label</text>
<text class="T" transform="translate(33,943.5) rotate(-90)" text-anchor="middle">Expression (logcounts)</text>
<text class="T" x="1453.6" y="728">label</text>
<g class="t">
<circle cx="1468.7" cy="759.4" r="5.1" fill="#1F77B4" fill-opacity=".6" stroke="#1F77B4" stroke-opacity=".6" stroke-width="1.9"/><text transform="matrix(1,0,0,1.0,1496.5,767.8)">1</text>
<circle cx="1468.7" cy="788.6" r="5.1" fill="#AEC7E8" fill-opacity=".6" stroke="#AEC7E8" stroke-opacity=".6" stroke-width="1.9"/><text transform="matrix(1,0,0,1.0,1496.5,797)">2</text>
<circle cx="1468.7" cy="817.9" r="5.1" fill="#FF7F0E" fill-opacity=".6" stroke="#FF7F0E" stroke-opacity=".6" stroke-width="1.9"/><text transform="matrix(1,0,0,1.0,1496.5,826.3)">3</text>
<circle cx="1468.7" cy="847.1" r="5.1" fill="#FFBB78" fill-opacity=".6" stroke="#FFBB78" stroke-opacity=".6" stroke-width="1.9"/><text transform="matrix(1,0,0,1.0,1496.5,855.5)">4</text>
<circle cx="1468.7" cy="876.3" r="5.1" fill="#2CA02C" fill-opacity=".6" stroke="#2CA02C" stroke-opacity=".6" stroke-width="1.9"/><text transform="matrix(1,0,0,1.0,1496.5,884.7)">5</text>
<circle cx="1468.7" cy="905.5" r="5.1" fill="#98DF8A" fill-opacity=".6" stroke="#98DF8A" stroke-opacity=".6" stroke-width="1.9"/><text transform="matrix(1,0,0,1.0,1496.5,913.9)">6</text>
<circle cx="1468.7" cy="934.8" r="5.1" fill="#D62728" fill-opacity=".6" stroke="#D62728" stroke-opacity=".6" stroke-width="1.9"/><text transform="matrix(1,0,0,1.0,1496.5,943.2)">7</text>
<circle cx="1468.7" cy="964" r="5.1" fill="#FF9896" fill-opacity=".6" stroke="#FF9896" stroke-opacity=".6" stroke-width="1.9"/><text transform="matrix(1,0,0,1.0,1496.5,972.4)">8</text>
<circle cx="1468.7" cy="993.2" r="5.1" fill="#9467BD" fill-opacity=".6" stroke="#9467BD" stroke-opacity=".6" stroke-width="1.9"/><text transform="matrix(1,0,0,1.0,1496.5,1001.6)">9</text>
<circle cx="1468.7" cy="1022.5" r="5.1" fill="#C5B0D5" fill-opacity=".6" stroke="#C5B0D5" stroke-opacity=".6" stroke-width="1.9"/><text transform="matrix(1,0,0,1.0,1496.5,1030.9)">10</text>
<circle cx="1468.7" cy="1051.7" r="5.1" fill="#8C564B" fill-opacity=".6" stroke="#8C564B" stroke-opacity=".6" stroke-width="1.9"/><text transform="matrix(1,0,0,1.0,1496.5,1060.1)">11</text>
<circle cx="1468.7" cy="1080.9" r="5.1" fill="#C49C94" fill-opacity=".6" stroke="#C49C94" stroke-opacity=".6" stroke-width="1.9"/><text transform="matrix(1,0,0,1.0,1496.5,1089.3)">12</text>
<circle cx="1468.7" cy="1110.2" r="5.1" fill="#E377C2" fill-opacity=".6" stroke="#E377C2" stroke-opacity=".6" stroke-width="1.9"/><text transform="matrix(1,0,0,1.0,1496.5,1118.6)">13</text>
<circle cx="1468.7" cy="1139.4" r="5.1" fill="#F7B6D2" fill-opacity=".6" stroke="#F7B6D2" stroke-opacity=".6" stroke-width="1.9"/><text transform="matrix(1,0,0,1.0,1496.5,1147.8)">14</text>
<circle cx="1468.7" cy="1168.6" r="5.1" fill="#7F7F7F" fill-opacity=".6" stroke="#7F7F7F" stroke-opacity=".6" stroke-width="1.9"/><text transform="matrix(1,0,0,1.0,1496.5,1177)">15</text>
</g>
</svg>
</body></html>
